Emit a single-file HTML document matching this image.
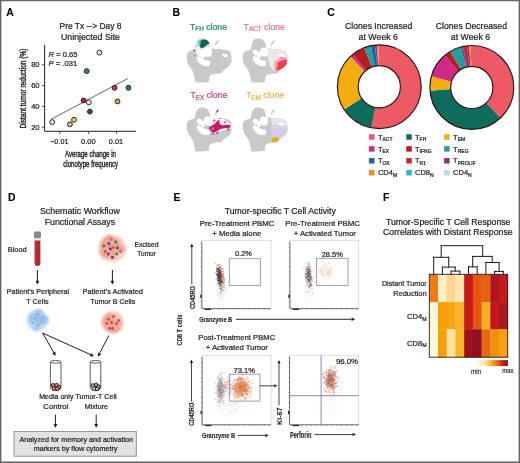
<!DOCTYPE html>
<html><head><meta charset="utf-8"><style>html,body{margin:0;padding:0;background:#fff;}svg{display:block;will-change:transform;font-family:"Liberation Sans",sans-serif;}</style></head><body>
<svg width="520" height="463" viewBox="0 0 520 463">
<defs><filter id="bl" x="-20%" y="-20%" width="140%" height="140%"><feGaussianBlur stdDeviation="0.3"/></filter><filter id="bl2" x="-30%" y="-30%" width="160%" height="160%"><feGaussianBlur stdDeviation="0.9"/></filter><clipPath id="uc"><path d="M60 179 C70 168 88 163 105 160 C120 156 128 140 130 110 C134 80 155 62 185 62 C215 62 238 80 244 108 L250 140 C270 146 295 148 321 149 C360 150 395 156 414 172 C425 186 428 212 427 242 C426 264 420 280 408 290 C395 302 375 315 360 327 C352 335 348 345 340 350 C320 352 300 352 280 358 C262 362 248 366 244 375 C242 392 242 410 238 420 C210 426 160 428 126 424 C122 405 121 390 118 375 C112 350 106 332 98 318 C85 300 75 290 68 275 C58 255 55 235 56 215 C56 200 57 188 60 179 Z M288 116 C294 100 302 86 312 77 C321 76 324 85 317 92 C309 101 301 113 295 124 Z"/></clipPath></defs>
<rect x="0" y="0" width="520" height="1.2" fill="#646464"/>
<rect x="0" y="0" width="1.4" height="463" fill="#646464"/>
<rect x="518.6" y="0" width="1.4" height="463" fill="#646464"/>
<rect x="0" y="461.5" width="520" height="1.5" fill="#646464"/>
<text stroke="#000" stroke-width="0.132" x="6.2" y="15.6" font-size="10.4" font-weight="bold" fill="#000">A</text>
<text stroke="#222" stroke-width="0.22" x="90.5" y="29.2" font-size="8.2" text-anchor="middle" fill="#222" textLength="62" lengthAdjust="spacingAndGlyphs">Pre Tx --&gt; Day 8</text>
<text stroke="#222" stroke-width="0.22" x="90.5" y="40.0" font-size="8.2" text-anchor="middle" fill="#222" textLength="59" lengthAdjust="spacingAndGlyphs">Uninjected Site</text>
<path d="M44.6 45 V131.3 H136" fill="none" stroke="#222" stroke-width="1"/>
<line x1="42" y1="64.8" x2="44.6" y2="64.8" stroke="#222" stroke-width="0.8"/>
<text stroke="#222" stroke-width="0.22" x="39.6" y="67.39999999999999" font-size="7.6" text-anchor="end" fill="#222">80</text>
<line x1="42" y1="85.6" x2="44.6" y2="85.6" stroke="#222" stroke-width="0.8"/>
<text stroke="#222" stroke-width="0.22" x="39.6" y="88.19999999999999" font-size="7.6" text-anchor="end" fill="#222">60</text>
<line x1="42" y1="106.4" x2="44.6" y2="106.4" stroke="#222" stroke-width="0.8"/>
<text stroke="#222" stroke-width="0.22" x="39.6" y="109.0" font-size="7.6" text-anchor="end" fill="#222">40</text>
<line x1="42" y1="127.2" x2="44.6" y2="127.2" stroke="#222" stroke-width="0.8"/>
<text stroke="#222" stroke-width="0.22" x="39.6" y="129.8" font-size="7.6" text-anchor="end" fill="#222">20</text>
<line x1="59.8" y1="131.3" x2="59.8" y2="134" stroke="#222" stroke-width="0.8"/>
<line x1="88.4" y1="131.3" x2="88.4" y2="134" stroke="#222" stroke-width="0.8"/>
<line x1="116.6" y1="131.3" x2="116.6" y2="134" stroke="#222" stroke-width="0.8"/>
<text stroke="#222" stroke-width="0.22" x="59.3" y="144.4" font-size="7.5" text-anchor="middle" fill="#222" textLength="18.3" lengthAdjust="spacingAndGlyphs">−0.01</text>
<text stroke="#222" stroke-width="0.22" x="88.3" y="144.4" font-size="7.5" text-anchor="middle" fill="#222" textLength="14.6" lengthAdjust="spacingAndGlyphs">0.00</text>
<text stroke="#222" stroke-width="0.22" x="116.0" y="144.4" font-size="7.5" text-anchor="middle" fill="#222" textLength="14.3" lengthAdjust="spacingAndGlyphs">0.01</text>
<text x="90.5" y="156.8" font-size="8.9" text-anchor="middle" fill="#222" textLength="51" lengthAdjust="spacingAndGlyphs" stroke="#222" stroke-width="0.4">Average change in</text>
<text x="90.7" y="166.6" font-size="8.9" text-anchor="middle" fill="#222" textLength="55" lengthAdjust="spacingAndGlyphs" stroke="#222" stroke-width="0.4">clonotype frequency</text>
<text transform="translate(25.6,88.5) rotate(-90)" font-size="9" text-anchor="middle" fill="#222" stroke="#222" stroke-width="0.4" textLength="80" lengthAdjust="spacingAndGlyphs">Distant tumor reduction (%)</text>
<text stroke="#222" stroke-width="0.22" x="48.6" y="56.6" font-size="7.6" fill="#222"><tspan font-style="italic">R</tspan> = 0.65</text>
<text stroke="#222" stroke-width="0.22" x="48.6" y="66.2" font-size="7.6" fill="#222"><tspan font-style="italic">P</tspan> = .031</text>
<line x1="51.2" y1="119.3" x2="127.8" y2="78.5" stroke="#858585" stroke-width="1.3"/>
<circle cx="52.2" cy="122.1" r="2.45" fill="#e4e4e4" stroke="#262626" stroke-width="1.0"/>
<circle cx="69.9" cy="124.3" r="2.45" fill="#e8b0b0" stroke="#262626" stroke-width="1.0"/>
<circle cx="74.0" cy="119.8" r="2.45" fill="#e8c860" stroke="#262626" stroke-width="1.0"/>
<circle cx="83.6" cy="100.5" r="2.45" fill="#d0102a" stroke="#262626" stroke-width="1.0"/>
<circle cx="88.8" cy="102.3" r="2.45" fill="#e6f2f0" stroke="#262626" stroke-width="1.0"/>
<circle cx="89.9" cy="111.6" r="2.45" fill="#5a3a6a" stroke="#262626" stroke-width="1.0"/>
<circle cx="86.7" cy="71.1" r="2.45" fill="#3a8a4a" stroke="#262626" stroke-width="1.0"/>
<circle cx="99.4" cy="52.6" r="2.45" fill="#eef0c8" stroke="#262626" stroke-width="1.0"/>
<circle cx="114.6" cy="87.8" r="2.45" fill="#c8287a" stroke="#262626" stroke-width="1.0"/>
<circle cx="128.5" cy="87.8" r="2.45" fill="#2a7098" stroke="#262626" stroke-width="1.0"/>
<circle cx="117.5" cy="101.4" r="2.45" fill="#e8a040" stroke="#262626" stroke-width="1.0"/>
<text stroke="#000" stroke-width="0.132" x="172.4" y="15.6" font-size="10.4" font-weight="bold" fill="#000">B</text>
<text stroke="#2a8676" stroke-width="0.22" x="190" y="29.7" font-size="8.7" fill="#2a8676">T<tspan font-size="6.4" dy="1.7">FH</tspan><tspan dy="-1.7"> clone</tspan></text>
<text stroke="#e67680" stroke-width="0.22" x="243.6" y="29.7" font-size="8.7" fill="#e67680">T<tspan font-size="6.4" dy="1.7">ACT</tspan><tspan dy="-1.7"> clone</tspan></text>
<text stroke="#c4408a" stroke-width="0.22" x="190.5" y="98.4" font-size="8.7" fill="#c4408a">T<tspan font-size="6.4" dy="1.7">EX</tspan><tspan dy="-1.7"> clone</tspan></text>
<text stroke="#ecb448" stroke-width="0.22" x="246" y="98.4" font-size="8.7" fill="#ecb448">T<tspan font-size="6.4" dy="1.7">EM</tspan><tspan dy="-1.7"> clone</tspan></text>
<g transform="translate(180,31) scale(0.12092)">
<path d="M60 179 C70 168 88 163 105 160 C120 156 128 140 130 110 C134 80 155 62 185 62 C215 62 238 80 244 108 L250 140 C270 146 295 148 321 149 C360 150 395 156 414 172 C425 186 428 212 427 242 C426 264 420 280 408 290 C395 302 375 315 360 327 C352 335 348 345 340 350 C320 352 300 352 280 358 C262 362 248 366 244 375 C242 392 242 410 238 420 C210 426 160 428 126 424 C122 405 121 390 118 375 C112 350 106 332 98 318 C85 300 75 290 68 275 C58 255 55 235 56 215 C56 200 57 188 60 179 Z" fill="#c9c9c9"/>
<path d="M288 116 C294 100 302 86 312 77 C321 76 324 85 317 92 C309 101 301 113 295 124 Z" fill="#c9c9c9"/>
<g clip-path="url(#uc)">
<path d="M125 140 C140 128 170 128 200 130 C225 132 245 128 256 136 L258 205 C235 215 200 215 170 210 C145 205 128 180 125 140 Z" fill="#f3f5f5"/><path d="M128 100 C135 72 160 60 188 60 C215 62 240 78 246 105 L250 135 C230 130 200 128 170 130 C150 132 130 125 128 100 Z" fill="#dfe6e4"/>
<path d="M138 168 C145 153 166 152 179 162 C183 176 179 194 170 202 C158 207 142 198 138 168 Z" fill="#ffffff"/>
<path d="M138 215 C148 203 167 207 180 222 C192 236 215 244 242 247 C256 256 252 280 238 290 C214 295 188 287 168 273 C150 259 138 240 138 215 Z" fill="#ffffff"/>
<path d="M202 150 C212 134 242 134 259 145 C268 163 267 187 257 206 C241 214 220 211 207 200 C199 185 197 166 202 150 Z" fill="#ffffff"/>
<path d="M352 188 C365 182 386 188 398 202 C394 214 378 218 364 212 C354 206 348 196 352 188 Z" fill="#ffffff"/>
<path d="M176 178 C186 168 200 170 206 182 C211 200 206 218 196 226 C184 228 174 214 171 200 Z" fill="#ffffff"/>
<path d="M160 86 C172 70 200 66 222 74 C238 80 248 90 250 100 C240 108 226 112 212 124 C200 136 186 146 174 142 C162 128 156 106 160 86 Z" fill="#0c6454"/><path d="M140 84 C150 70 170 66 178 70 L165 130 C150 125 140 110 140 84 Z" fill="#7ecfc0" opacity="0.6"/><circle cx="118" cy="160" r="7" fill="#3a4a48"/><circle cx="122" cy="205" r="4" fill="#4a5a58"/><circle cx="300" cy="240" r="5" fill="#999"/>
</g></g>
<g transform="translate(236,31) scale(0.12092)">
<path d="M60 179 C70 168 88 163 105 160 C120 156 128 140 130 110 C134 80 155 62 185 62 C215 62 238 80 244 108 L250 140 C270 146 295 148 321 149 C360 150 395 156 414 172 C425 186 428 212 427 242 C426 264 420 280 408 290 C395 302 375 315 360 327 C352 335 348 345 340 350 C320 352 300 352 280 358 C262 362 248 366 244 375 C242 392 242 410 238 420 C210 426 160 428 126 424 C122 405 121 390 118 375 C112 350 106 332 98 318 C85 300 75 290 68 275 C58 255 55 235 56 215 C56 200 57 188 60 179 Z" fill="#c9c9c9"/>
<path d="M288 116 C294 100 302 86 312 77 C321 76 324 85 317 92 C309 101 301 113 295 124 Z" fill="#c9c9c9"/>
<g clip-path="url(#uc)">
<path d="M250 140 C270 146 295 148 321 149 C360 150 395 156 414 172 C425 186 428 212 427 242 C426 264 420 280 408 290 C395 302 375 315 360 327 C352 335 348 345 340 350 C300 320 280 300 270 260 C262 220 255 180 250 140 Z" fill="#efe6e8"/>
<path d="M138 168 C145 153 166 152 179 162 C183 176 179 194 170 202 C158 207 142 198 138 168 Z" fill="#ffffff"/>
<path d="M138 215 C148 203 167 207 180 222 C192 236 215 244 242 247 C256 256 252 280 238 290 C214 295 188 287 168 273 C150 259 138 240 138 215 Z" fill="#ffffff"/>
<path d="M202 150 C212 134 242 134 259 145 C268 163 267 187 257 206 C241 214 220 211 207 200 C199 185 197 166 202 150 Z" fill="#ffffff"/>
<path d="M352 188 C365 182 386 188 398 202 C394 214 378 218 364 212 C354 206 348 196 352 188 Z" fill="#ffffff"/>
<path d="M176 178 C186 168 200 170 206 182 C211 200 206 218 196 226 C184 228 174 214 171 200 Z" fill="#ffffff"/>
<path d="M318 250 C340 232 380 218 414 214 C424 230 428 250 424 272 C414 292 398 306 380 318 C362 330 348 342 334 350 C318 330 312 290 318 250 Z" fill="#f0a0a8" opacity="0.85"/><path d="M345 262 C365 248 395 236 418 236 C424 256 420 276 408 292 C394 306 374 318 356 326 C344 318 338 290 345 262 Z" fill="#e8404e"/><path d="M330 300 C340 296 350 300 352 312 C346 322 336 324 330 316 Z" fill="#e05060" opacity="0.8"/><path d="M360 215 C372 210 388 212 396 220 C390 230 372 232 362 226 Z" fill="#e88088" opacity="0.7"/>
</g></g>
<g transform="translate(180,100) scale(0.12092)">
<path d="M60 179 C70 168 88 163 105 160 C120 156 128 140 130 110 C134 80 155 62 185 62 C215 62 238 80 244 108 L250 140 C270 146 295 148 321 149 C360 150 395 156 414 172 C425 186 428 212 427 242 C426 264 420 280 408 290 C395 302 375 315 360 327 C352 335 348 345 340 350 C320 352 300 352 280 358 C262 362 248 366 244 375 C242 392 242 410 238 420 C210 426 160 428 126 424 C122 405 121 390 118 375 C112 350 106 332 98 318 C85 300 75 290 68 275 C58 255 55 235 56 215 C56 200 57 188 60 179 Z" fill="#c9c9c9"/>
<path d="M288 116 C294 100 302 86 312 77 C321 76 324 85 317 92 C309 101 301 113 295 124 Z" fill="#c9c9c9"/>
<g clip-path="url(#uc)">
<path d="M250 135 C262 140 275 146 290 146 C320 144 352 152 378 168 C402 184 422 205 424 235 C380 245 330 262 290 270 C265 250 255 220 250 200 Z" fill="#f5f3f4"/>
<path d="M138 168 C145 153 166 152 179 162 C183 176 179 194 170 202 C158 207 142 198 138 168 Z" fill="#ffffff"/>
<path d="M138 215 C148 203 167 207 180 222 C192 236 215 244 242 247 C256 256 252 280 238 290 C214 295 188 287 168 273 C150 259 138 240 138 215 Z" fill="#ffffff"/>
<path d="M202 150 C212 134 242 134 259 145 C268 163 267 187 257 206 C241 214 220 211 207 200 C199 185 197 166 202 150 Z" fill="#ffffff"/>
<path d="M352 188 C365 182 386 188 398 202 C394 214 378 218 364 212 C354 206 348 196 352 188 Z" fill="#ffffff"/>
<path d="M176 178 C186 168 200 170 206 182 C211 200 206 218 196 226 C184 228 174 214 171 200 Z" fill="#ffffff"/>
<path d="M236 232 C248 220 262 212 282 200 C296 190 306 176 316 166 C326 168 332 176 326 196 C338 206 352 212 372 206 C392 204 410 208 420 214 C418 226 404 232 388 232 C366 234 348 236 332 242 C316 250 300 262 284 268 C266 270 250 258 236 232 Z" fill="#c8186e"/><path d="M250 236 C262 230 274 226 286 224 L280 250 C268 252 256 248 250 236 Z" fill="#e66aa4" opacity="0.8"/><path d="M262 270 C270 268 282 272 288 282 C282 290 268 290 262 282 Z" fill="#d04a88" opacity="0.7"/><path d="M298 104 L306 84 L318 76 L322 88 L310 104 Z" fill="#a8205e"/><circle cx="330" cy="152" r="6" fill="#b02866"/><path d="M270 175 L285 160 L295 168 L282 184 Z" fill="#d03078" opacity="0.8"/><path d="M360 180 L376 174 L382 188 L366 194 Z" fill="#d03078" opacity="0.8"/><path d="M390 236 L404 234 L410 250 L394 254 Z" fill="#c8186e" opacity="0.9"/><path d="M300 262 L314 258 L318 280 L304 284 Z" fill="#c8186e" opacity="0.8"/>
</g></g>
<g transform="translate(236,100) scale(0.12092)">
<path d="M60 179 C70 168 88 163 105 160 C120 156 128 140 130 110 C134 80 155 62 185 62 C215 62 238 80 244 108 L250 140 C270 146 295 148 321 149 C360 150 395 156 414 172 C425 186 428 212 427 242 C426 264 420 280 408 290 C395 302 375 315 360 327 C352 335 348 345 340 350 C320 352 300 352 280 358 C262 362 248 366 244 375 C242 392 242 410 238 420 C210 426 160 428 126 424 C122 405 121 390 118 375 C112 350 106 332 98 318 C85 300 75 290 68 275 C58 255 55 235 56 215 C56 200 57 188 60 179 Z" fill="#c9c9c9"/>
<path d="M288 116 C294 100 302 86 312 77 C321 76 324 85 317 92 C309 101 301 113 295 124 Z" fill="#c9c9c9"/>
<g clip-path="url(#uc)">
<path d="M290 150 C330 148 380 152 414 172 C425 186 428 212 427 242 C400 250 360 250 320 240 C300 220 290 190 290 150 Z" fill="#e6e6e8"/>
<path d="M138 168 C145 153 166 152 179 162 C183 176 179 194 170 202 C158 207 142 198 138 168 Z" fill="#ffffff"/>
<path d="M138 215 C148 203 167 207 180 222 C192 236 215 244 242 247 C256 256 252 280 238 290 C214 295 188 287 168 273 C150 259 138 240 138 215 Z" fill="#ffffff"/>
<path d="M202 150 C212 134 242 134 259 145 C268 163 267 187 257 206 C241 214 220 211 207 200 C199 185 197 166 202 150 Z" fill="#ffffff"/>
<path d="M352 188 C365 182 386 188 398 202 C394 214 378 218 364 212 C354 206 348 196 352 188 Z" fill="#ffffff"/>
<path d="M176 178 C186 168 200 170 206 182 C211 200 206 218 196 226 C184 228 174 214 171 200 Z" fill="#ffffff"/>
<path d="M288 205 C320 198 380 205 424 226 C426 255 412 285 385 310 C365 326 345 336 325 340 C300 330 288 290 288 205 Z" fill="#d4d0ec" opacity="0.8"/><path d="M296 318 C312 305 340 302 356 318 C350 338 334 350 312 352 C298 348 292 335 296 318 Z" fill="#e8ac10"/>
</g></g>
<text stroke="#000" stroke-width="0.132" x="327.3" y="15.8" font-size="10.4" font-weight="bold" fill="#000">C</text>
<text stroke="#222" stroke-width="0.22" x="378.7" y="29.4" font-size="8.7" text-anchor="middle" fill="#222" textLength="67.3" lengthAdjust="spacingAndGlyphs">Clones Increased</text>
<text stroke="#222" stroke-width="0.22" x="378.3" y="39.6" font-size="8.7" text-anchor="middle" fill="#222" textLength="39.4" lengthAdjust="spacingAndGlyphs">at Week 6</text>
<text stroke="#222" stroke-width="0.22" x="471.4" y="29.4" font-size="8.7" text-anchor="middle" fill="#222" textLength="71.2" lengthAdjust="spacingAndGlyphs">Clones Decreased</text>
<text stroke="#222" stroke-width="0.22" x="470.5" y="39.6" font-size="8.7" text-anchor="middle" fill="#222" textLength="39.4" lengthAdjust="spacingAndGlyphs">at Week 6</text>
<path d="M378.20 44.81 A41.9 41.9 0 1 1 371.31 127.83 L375.27 107.41 A21.1 21.1 0 1 0 378.75 65.61 Z" fill="#ec5a66"/>
<path d="M371.31 127.83 A41.9 41.9 0 0 1 344.16 109.52 L361.60 98.19 A21.1 21.1 0 0 0 375.27 107.41 Z" fill="#0f6b5c"/>
<path d="M344.16 109.52 A41.9 41.9 0 0 1 350.46 56.31 L364.78 71.39 A21.1 21.1 0 0 0 361.60 98.19 Z" fill="#f2ae10"/>
<path d="M350.46 56.31 A41.9 41.9 0 0 1 352.93 54.14 L366.02 70.30 A21.1 21.1 0 0 0 364.78 71.39 Z" fill="#d02a86"/>
<path d="M352.93 54.14 A41.9 41.9 0 0 1 364.28 47.58 L371.74 67.00 A21.1 21.1 0 0 0 366.02 70.30 Z" fill="#b21e24"/>
<path d="M364.28 47.58 A41.9 41.9 0 0 1 370.59 45.72 L374.91 66.06 A21.1 21.1 0 0 0 371.74 67.00 Z" fill="#2a9a9a"/>
<path d="M370.59 45.72 A41.9 41.9 0 0 1 374.92 45.03 L377.09 65.72 A21.1 21.1 0 0 0 374.91 66.06 Z" fill="#1f63a4"/>
<path d="M374.92 45.03 A41.9 41.9 0 0 1 377.11 44.86 L378.20 65.63 A21.1 21.1 0 0 0 377.09 65.72 Z" fill="#7a3a8e"/>
<path d="M377.11 44.86 A41.9 41.9 0 0 1 378.20 44.81 L378.75 65.61 A21.1 21.1 0 0 0 378.20 65.63 Z" fill="#f08a28"/>
<circle cx="379.3" cy="86.7" r="41.9" fill="none" stroke="#2a1418" stroke-width="1.15"/>
<circle cx="379.3" cy="86.7" r="21.1" fill="#fff" stroke="#2a1418" stroke-width="1.15"/>
<path d="M470.70 45.51 A41.9 41.9 0 0 1 500.38 118.04 L486.19 102.83 A21.1 21.1 0 0 0 471.25 66.31 Z" fill="#ec5a66"/>
<path d="M500.38 118.04 A41.9 41.9 0 0 1 430.03 90.69 L450.77 89.06 A21.1 21.1 0 0 0 486.19 102.83 Z" fill="#0f6b5c"/>
<path d="M430.03 90.69 A41.9 41.9 0 0 1 431.42 76.20 L451.47 81.76 A21.1 21.1 0 0 0 450.77 89.06 Z" fill="#f2ae10"/>
<path d="M431.42 76.20 A41.9 41.9 0 0 1 444.87 55.30 L458.24 71.24 A21.1 21.1 0 0 0 451.47 81.76 Z" fill="#d02a86"/>
<path d="M444.87 55.30 A41.9 41.9 0 0 1 450.22 51.48 L460.93 69.31 A21.1 21.1 0 0 0 458.24 71.24 Z" fill="#b21e24"/>
<path d="M450.22 51.48 A41.9 41.9 0 0 1 460.74 46.99 L466.23 67.05 A21.1 21.1 0 0 0 460.93 69.31 Z" fill="#2a9a9a"/>
<path d="M460.74 46.99 A41.9 41.9 0 0 1 462.80 46.48 L467.27 66.79 A21.1 21.1 0 0 0 466.23 67.05 Z" fill="#1f63a4"/>
<path d="M462.80 46.48 A41.9 41.9 0 0 1 467.06 45.77 L469.41 66.44 A21.1 21.1 0 0 0 467.27 66.79 Z" fill="#d6202a"/>
<path d="M467.06 45.77 A41.9 41.9 0 0 1 469.17 45.58 L470.48 66.34 A21.1 21.1 0 0 0 469.41 66.44 Z" fill="#7a3a8e"/>
<path d="M469.17 45.58 A41.9 41.9 0 0 1 470.70 45.51 L471.25 66.31 A21.1 21.1 0 0 0 470.48 66.34 Z" fill="#f08a28"/>
<circle cx="471.8" cy="87.4" r="41.9" fill="none" stroke="#2a1418" stroke-width="1.15"/>
<circle cx="471.8" cy="87.4" r="21.1" fill="#fff" stroke="#2a1418" stroke-width="1.15"/>
<rect x="369.0" y="134.25" width="5.5" height="5.5" fill="#ec5a66"/>
<text stroke="#222" stroke-width="0.22" x="377.9" y="139.65" font-size="7.5" fill="#222">T<tspan font-size="5.0" dy="1.7">ACT</tspan></text>
<rect x="406.3" y="134.25" width="5.5" height="5.5" fill="#0f6b5c"/>
<text stroke="#222" stroke-width="0.22" x="415.0" y="139.65" font-size="7.5" fill="#222">T<tspan font-size="5.0" dy="1.7">FH</tspan></text>
<rect x="444.1" y="134.25" width="5.5" height="5.5" fill="#f2ae10"/>
<text stroke="#222" stroke-width="0.22" x="453.1" y="139.65" font-size="7.5" fill="#222">T<tspan font-size="5.0" dy="1.7">EM</tspan></text>
<rect x="369.0" y="146.15" width="5.5" height="5.5" fill="#d02a86"/>
<text stroke="#222" stroke-width="0.22" x="377.9" y="151.55" font-size="7.5" fill="#222">T<tspan font-size="5.0" dy="1.7">EX</tspan></text>
<rect x="406.3" y="146.15" width="5.5" height="5.5" fill="#b21e24"/>
<text stroke="#222" stroke-width="0.22" x="415.0" y="151.55" font-size="7.5" fill="#222">T<tspan font-size="5.0" dy="1.7">IFNG</tspan></text>
<rect x="444.1" y="146.15" width="5.5" height="5.5" fill="#2a9a9a"/>
<text stroke="#222" stroke-width="0.22" x="453.1" y="151.55" font-size="7.5" fill="#222">T<tspan font-size="5.0" dy="1.7">REG</tspan></text>
<rect x="369.0" y="158.05" width="5.5" height="5.5" fill="#1f63a4"/>
<text stroke="#222" stroke-width="0.22" x="377.9" y="163.45000000000002" font-size="7.5" fill="#222">T<tspan font-size="5.0" dy="1.7">OX</tspan></text>
<rect x="406.3" y="158.05" width="5.5" height="5.5" fill="#d6202a"/>
<text stroke="#222" stroke-width="0.22" x="415.0" y="163.45000000000002" font-size="7.5" fill="#222">T<tspan font-size="5.0" dy="1.7">R1</tspan></text>
<rect x="444.1" y="158.05" width="5.5" height="5.5" fill="#7a3a8e"/>
<text stroke="#222" stroke-width="0.22" x="453.1" y="163.45000000000002" font-size="7.5" fill="#222">T<tspan font-size="5.0" dy="1.7">PROLIF</tspan></text>
<rect x="369.0" y="169.95" width="5.5" height="5.5" fill="#f08a28"/>
<text stroke="#222" stroke-width="0.22" x="377.9" y="175.35" font-size="7.5" fill="#222">CD4<tspan font-size="5.0" dy="1.7">M</tspan></text>
<rect x="406.3" y="169.95" width="5.5" height="5.5" fill="#38b0cc"/>
<text stroke="#222" stroke-width="0.22" x="415.0" y="175.35" font-size="7.5" fill="#222">CD8<tspan font-size="5.0" dy="1.7">N</tspan></text>
<rect x="444.1" y="169.95" width="5.5" height="5.5" fill="#b8e0e0"/>
<text stroke="#222" stroke-width="0.22" x="453.1" y="175.35" font-size="7.5" fill="#222">CD4<tspan font-size="5.0" dy="1.7">N</tspan></text>
<text stroke="#000" stroke-width="0.132" x="8.0" y="200.5" font-size="10.4" font-weight="bold" fill="#000">D</text>
<text stroke="#222" stroke-width="0.22" x="79.9" y="214.2" font-size="8.7" text-anchor="middle" fill="#222" textLength="80" lengthAdjust="spacingAndGlyphs">Schematic Workflow</text>
<text stroke="#222" stroke-width="0.22" x="79.9" y="224.9" font-size="8.7" text-anchor="middle" fill="#222" textLength="70.3" lengthAdjust="spacingAndGlyphs">Functional Assays</text>
<rect x="34" y="231.6" width="6.9" height="6.8" rx="1" fill="#8a8a8a"/>
<rect x="34.6" y="238.4" width="5.8" height="2.2" fill="#f0f0f0"/>
<path d="M34.6 240.6 H40.4 V263 A2.9 2.9 0 0 1 34.6 263 Z" fill="#b02a30"/>
<path d="M34.6 240.6 H35.6 V264 L34.6 263 Z" fill="#d06060" opacity="0.5"/>
<text stroke="#222" stroke-width="0.22" x="17.2" y="251.6" font-size="7.3" text-anchor="middle" fill="#222" textLength="18.9" lengthAdjust="spacingAndGlyphs">Blood</text>
<g filter="url(#bl2)">
<circle cx="112.3" cy="248.5" r="13.7" fill="#f8c4b4" opacity="0.8"/>
<circle cx="112.9" cy="256.6" r="3.0" fill="#f0968a" opacity="0.6"/>
<circle cx="106.4" cy="254.8" r="3.0" fill="#f0968a" opacity="0.6"/>
<circle cx="110.7" cy="246.9" r="3.0" fill="#f0968a" opacity="0.6"/>
<circle cx="122.8" cy="249.4" r="3.0" fill="#f0968a" opacity="0.6"/>
<circle cx="112.0" cy="253.4" r="3.0" fill="#f0968a" opacity="0.6"/>
<circle cx="119.7" cy="248.3" r="3.0" fill="#f0968a" opacity="0.6"/>
<circle cx="116.2" cy="242.1" r="3.0" fill="#f0968a" opacity="0.6"/>
<circle cx="109.9" cy="245.6" r="3.0" fill="#f0968a" opacity="0.6"/>
<circle cx="105.2" cy="240.4" r="3.0" fill="#f0968a" opacity="0.6"/>
<circle cx="102.6" cy="247.1" r="3.0" fill="#f0968a" opacity="0.6"/>
<circle cx="111.2" cy="246.5" r="3.0" fill="#f0968a" opacity="0.6"/>
<circle cx="112.7" cy="240.0" r="3.0" fill="#f0968a" opacity="0.6"/>
<circle cx="111.8" cy="249.9" r="3.0" fill="#f0968a" opacity="0.6"/>
<circle cx="117.3" cy="242.9" r="3.0" fill="#f0968a" opacity="0.6"/>
<circle cx="110.2" cy="237.9" r="3.0" fill="#f0968a" opacity="0.6"/>
<circle cx="109.8" cy="237.6" r="3.0" fill="#f0968a" opacity="0.6"/>
<circle cx="104.2" cy="254.8" r="3.0" fill="#f0968a" opacity="0.6"/>
<circle cx="101.7" cy="252.3" r="3.0" fill="#f0968a" opacity="0.6"/>
<circle cx="114.4" cy="246.5" r="3.0" fill="#f0968a" opacity="0.6"/>
<circle cx="115.4" cy="252.0" r="3.0" fill="#f0968a" opacity="0.6"/>
<circle cx="119.2" cy="247.0" r="3.0" fill="#f0968a" opacity="0.6"/>
<circle cx="108.3" cy="244.4" r="3.0" fill="#f0968a" opacity="0.6"/>
<circle cx="105.7" cy="248.2" r="3.0" fill="#f0968a" opacity="0.6"/>
<circle cx="107.3" cy="255.3" r="3.0" fill="#f0968a" opacity="0.6"/>
<circle cx="102.8" cy="242.9" r="3.0" fill="#f0968a" opacity="0.6"/>
<circle cx="107.7" cy="238.3" r="3.0" fill="#f0968a" opacity="0.6"/>
</g><g filter="url(#bl)">
<circle cx="103.8" cy="246.0" r="1.45" fill="#2a8a3a"/>
<circle cx="115.8" cy="242.0" r="1.45" fill="#2a8a3a"/>
<circle cx="116.8" cy="254.0" r="1.45" fill="#2a8a3a"/>
<circle cx="108.8" cy="243.5" r="1.45" fill="#5a40a0"/>
<circle cx="110.3" cy="249.0" r="1.45" fill="#4a3a9a"/>
<circle cx="117.3" cy="248.0" r="1.45" fill="#4a4a8a"/>
<circle cx="108.3" cy="254.0" r="1.45" fill="#5a40a0"/>
<circle cx="112.3" cy="257.5" r="1.45" fill="#6a3060"/>
<circle cx="105.3" cy="251.5" r="1.45" fill="#c05050"/>
<circle cx="113.3" cy="247.5" r="1.45" fill="#d06050"/>
<circle cx="120.3" cy="251.5" r="1.45" fill="#c06060"/>
<circle cx="111.3" cy="239.5" r="1.45" fill="#d07060"/>
</g>
<text stroke="#222" stroke-width="0.22" x="146.6" y="246.8" font-size="7.3" text-anchor="middle" fill="#222" textLength="24.3" lengthAdjust="spacingAndGlyphs">Excised</text>
<text stroke="#222" stroke-width="0.22" x="146.6" y="256.2" font-size="7.3" text-anchor="middle" fill="#222" textLength="18.5" lengthAdjust="spacingAndGlyphs">Tumor</text>
<line x1="37.4" y1="270" x2="37.40" y2="280.80" stroke="#111" stroke-width="0.95"/>
<path d="M37.40 284.60 L35.60 280.80 L39.20 280.80 Z" fill="#111"/>
<line x1="112.4" y1="270" x2="112.40" y2="280.80" stroke="#111" stroke-width="0.95"/>
<path d="M112.40 284.60 L110.60 280.80 L114.20 280.80 Z" fill="#111"/>
<text stroke="#222" stroke-width="0.22" x="37.9" y="293.9" font-size="7.3" text-anchor="middle" fill="#222" textLength="62.2" lengthAdjust="spacingAndGlyphs">Patient’s Peripheral</text>
<text stroke="#222" stroke-width="0.22" x="37.5" y="303.6" font-size="7.3" text-anchor="middle" fill="#222" textLength="22.3" lengthAdjust="spacingAndGlyphs">T Cells</text>
<text stroke="#222" stroke-width="0.22" x="112.8" y="293.9" font-size="7.3" text-anchor="middle" fill="#222" textLength="60.4" lengthAdjust="spacingAndGlyphs">Patient’s Activated</text>
<text stroke="#222" stroke-width="0.22" x="112.8" y="303.6" font-size="7.3" text-anchor="middle" fill="#222" textLength="44.8" lengthAdjust="spacingAndGlyphs">Tumor B Cells</text>
<g filter="url(#bl2)">
<circle cx="37.5" cy="320.4" r="10.7" fill="#b8d6f2" opacity="0.8"/>
<circle cx="32.3" cy="315.3" r="2.8" fill="#a6c9ec" stroke="#8cb6e2" stroke-width="0.9" opacity="0.7"/>
<circle cx="39.9" cy="312.3" r="2.8" fill="#a6c9ec" stroke="#8cb6e2" stroke-width="0.9" opacity="0.7"/>
<circle cx="37.0" cy="312.1" r="2.8" fill="#a6c9ec" stroke="#8cb6e2" stroke-width="0.9" opacity="0.7"/>
<circle cx="42.9" cy="321.4" r="2.8" fill="#a6c9ec" stroke="#8cb6e2" stroke-width="0.9" opacity="0.7"/>
<circle cx="43.8" cy="318.1" r="2.8" fill="#a6c9ec" stroke="#8cb6e2" stroke-width="0.9" opacity="0.7"/>
<circle cx="39.4" cy="319.0" r="2.8" fill="#a6c9ec" stroke="#8cb6e2" stroke-width="0.9" opacity="0.7"/>
<circle cx="33.8" cy="321.1" r="2.8" fill="#a6c9ec" stroke="#8cb6e2" stroke-width="0.9" opacity="0.7"/>
<circle cx="31.5" cy="318.7" r="2.8" fill="#a6c9ec" stroke="#8cb6e2" stroke-width="0.9" opacity="0.7"/>
<circle cx="41.0" cy="320.7" r="2.8" fill="#a6c9ec" stroke="#8cb6e2" stroke-width="0.9" opacity="0.7"/>
<circle cx="36.0" cy="328.5" r="2.8" fill="#a6c9ec" stroke="#8cb6e2" stroke-width="0.9" opacity="0.7"/>
<circle cx="37.8" cy="317.5" r="2.8" fill="#a6c9ec" stroke="#8cb6e2" stroke-width="0.9" opacity="0.7"/>
<circle cx="38.3" cy="317.9" r="2.8" fill="#a6c9ec" stroke="#8cb6e2" stroke-width="0.9" opacity="0.7"/>
<circle cx="35.6" cy="318.7" r="2.8" fill="#a6c9ec" stroke="#8cb6e2" stroke-width="0.9" opacity="0.7"/>
<circle cx="45.5" cy="320.5" r="2.8" fill="#a6c9ec" stroke="#8cb6e2" stroke-width="0.9" opacity="0.7"/>
<circle cx="38.4" cy="323.8" r="2.8" fill="#a6c9ec" stroke="#8cb6e2" stroke-width="0.9" opacity="0.7"/>
<circle cx="45.5" cy="319.5" r="2.8" fill="#a6c9ec" stroke="#8cb6e2" stroke-width="0.9" opacity="0.7"/>
</g><g filter="url(#bl)">
<circle cx="34.5" cy="318.4" r="1.3" fill="#8ab2de"/>
<circle cx="40.5" cy="322.4" r="1.3" fill="#8ab2de"/>
<circle cx="37.5" cy="325.4" r="1.3" fill="#8ab2de"/>
<circle cx="42.5" cy="317.4" r="1.3" fill="#8ab2de"/>
<circle cx="32.5" cy="323.4" r="1.3" fill="#8ab2de"/>
<circle cx="37.5" cy="314.4" r="1.3" fill="#8ab2de"/>
</g>
<g filter="url(#bl2)">
<circle cx="112.6" cy="322.4" r="11.1" fill="#f4b4a4" opacity="0.8"/>
<circle cx="107.7" cy="323.6" r="2.8" fill="#f09c8a" opacity="0.6"/>
<circle cx="118.0" cy="328.8" r="2.8" fill="#f09c8a" opacity="0.6"/>
<circle cx="118.6" cy="322.6" r="2.8" fill="#f09c8a" opacity="0.6"/>
<circle cx="114.2" cy="321.2" r="2.8" fill="#f09c8a" opacity="0.6"/>
<circle cx="106.2" cy="320.1" r="2.8" fill="#f09c8a" opacity="0.6"/>
<circle cx="117.5" cy="323.7" r="2.8" fill="#f09c8a" opacity="0.6"/>
<circle cx="111.0" cy="317.0" r="2.8" fill="#f09c8a" opacity="0.6"/>
<circle cx="112.1" cy="319.4" r="2.8" fill="#f09c8a" opacity="0.6"/>
<circle cx="112.8" cy="324.8" r="2.8" fill="#f09c8a" opacity="0.6"/>
<circle cx="103.9" cy="322.1" r="2.8" fill="#f09c8a" opacity="0.6"/>
<circle cx="106.0" cy="318.2" r="2.8" fill="#f09c8a" opacity="0.6"/>
<circle cx="106.9" cy="327.5" r="2.8" fill="#f09c8a" opacity="0.6"/>
<circle cx="116.1" cy="325.0" r="2.8" fill="#f09c8a" opacity="0.6"/>
<circle cx="109.2" cy="315.7" r="2.8" fill="#f09c8a" opacity="0.6"/>
<circle cx="110.7" cy="323.4" r="2.8" fill="#f09c8a" opacity="0.6"/>
<circle cx="112.2" cy="325.9" r="2.8" fill="#f09c8a" opacity="0.6"/>
<circle cx="111.0" cy="330.3" r="2.8" fill="#f09c8a" opacity="0.6"/>
<circle cx="115.2" cy="330.4" r="2.8" fill="#f09c8a" opacity="0.6"/>
</g><g filter="url(#bl)">
<circle cx="108.6" cy="319.4" r="1.3" fill="#b84a40"/>
<circle cx="113.6" cy="316.4" r="1.3" fill="#b84a40"/>
<circle cx="116.6" cy="323.4" r="1.3" fill="#b84a40"/>
<circle cx="111.6" cy="322.4" r="1.3" fill="#b84a40"/>
<circle cx="106.6" cy="323.4" r="1.3" fill="#b84a40"/>
<circle cx="112.6" cy="328.4" r="1.3" fill="#b84a40"/>
<circle cx="118.6" cy="320.4" r="1.3" fill="#b84a40"/>
<circle cx="109.6" cy="328.4" r="1.3" fill="#b84a40"/>
</g>
<line x1="42.7" y1="333.1" x2="53.72" y2="352.50" stroke="#111" stroke-width="0.95"/>
<path d="M55.60 355.80 L52.16 353.39 L55.29 351.61 Z" fill="#111"/>
<line x1="42.7" y1="333.1" x2="90.54" y2="354.64" stroke="#111" stroke-width="0.95"/>
<path d="M94.00 356.20 L89.80 356.28 L91.27 353.00 Z" fill="#111"/>
<line x1="108.8" y1="335.6" x2="99.64" y2="353.32" stroke="#111" stroke-width="0.95"/>
<path d="M97.90 356.70 L98.04 352.50 L101.24 354.15 Z" fill="#111"/>
<path d="M50.4 361.8 V386.8 A5.3 3.9749999999999996 0 0 0 61.0 386.8 V361.8" fill="#fff" stroke="#333" stroke-width="0.8"/>
<ellipse cx="55.699999999999996" cy="361.8" rx="5.3" ry="1.3" fill="#fff" stroke="#333" stroke-width="0.8"/>
<circle cx="53.0" cy="385.40000000000003" r="1.85" fill="#c89090" stroke="#3a0a0a" stroke-width="0.95"/>
<circle cx="56.6" cy="385.2" r="1.85" fill="#d09a9a" stroke="#401010" stroke-width="0.95"/>
<circle cx="58.8" cy="387.0" r="1.85" fill="#c89090" stroke="#3a0a0a" stroke-width="0.95"/>
<circle cx="54.0" cy="388.40000000000003" r="1.85" fill="#d09a9a" stroke="#401010" stroke-width="0.95"/>
<circle cx="57.4" cy="388.7" r="1.85" fill="#c89090" stroke="#3a0a0a" stroke-width="0.95"/>
<path d="M90.2 361.8 V386.8 A5.3 3.9749999999999996 0 0 0 100.8 386.8 V361.8" fill="#fff" stroke="#333" stroke-width="0.8"/>
<ellipse cx="95.5" cy="361.8" rx="5.3" ry="1.3" fill="#fff" stroke="#333" stroke-width="0.8"/>
<circle cx="92.8" cy="385.6" r="1.85" fill="#c0c0c0" stroke="#0a0a0a" stroke-width="0.95"/>
<circle cx="96.2" cy="385.0" r="1.85" fill="#a8a8a8" stroke="#111" stroke-width="0.95"/>
<circle cx="98.60000000000001" cy="386.8" r="1.85" fill="#c0c0c0" stroke="#0a0a0a" stroke-width="0.95"/>
<circle cx="94.0" cy="388.6" r="1.85" fill="#f0c0c0" stroke="#5a2020" stroke-width="0.95"/>
<circle cx="97.2" cy="388.8" r="1.85" fill="#c0c0c0" stroke="#0a0a0a" stroke-width="0.95"/>
<text stroke="#222" stroke-width="0.22" x="56.3" y="399.4" font-size="7.3" text-anchor="middle" fill="#222" textLength="34.3" lengthAdjust="spacingAndGlyphs">Media only</text>
<text stroke="#222" stroke-width="0.22" x="55.8" y="408.8" font-size="7.3" text-anchor="middle" fill="#222" textLength="24.9" lengthAdjust="spacingAndGlyphs">Control</text>
<text stroke="#222" stroke-width="0.22" x="96.0" y="399.4" font-size="7.3" text-anchor="middle" fill="#222" textLength="41.2" lengthAdjust="spacingAndGlyphs">Tumor-T Cell</text>
<text stroke="#222" stroke-width="0.22" x="96.4" y="408.8" font-size="7.3" text-anchor="middle" fill="#222" textLength="23.2" lengthAdjust="spacingAndGlyphs">Mixture</text>
<line x1="55.4" y1="414.6" x2="55.40" y2="424.00" stroke="#111" stroke-width="0.95"/>
<path d="M55.40 427.80 L53.60 424.00 L57.20 424.00 Z" fill="#111"/>
<line x1="96.2" y1="414.6" x2="96.20" y2="424.00" stroke="#111" stroke-width="0.95"/>
<path d="M96.20 427.80 L94.40 424.00 L98.00 424.00 Z" fill="#111"/>
<rect x="14" y="431.4" width="122.3" height="24.8" fill="#e2e2e2" stroke="#8a8a8a" stroke-width="0.9"/>
<text stroke="#222" stroke-width="0.22" x="76.3" y="442.1" font-size="7.3" text-anchor="middle" fill="#222" textLength="113.5" lengthAdjust="spacingAndGlyphs">Analyzed for memory and activation</text>
<text stroke="#222" stroke-width="0.22" x="75.6" y="451.4" font-size="7.3" text-anchor="middle" fill="#222" textLength="83.8" lengthAdjust="spacingAndGlyphs">markers by flow cytometry</text>
<text stroke="#000" stroke-width="0.132" x="173.4" y="200.5" font-size="10.4" font-weight="bold" fill="#000">E</text>
<text stroke="#222" stroke-width="0.22" x="280.3" y="213.8" font-size="8.6" text-anchor="middle" fill="#222" textLength="111" lengthAdjust="spacingAndGlyphs">Tumor-specific T Cell Activity</text>
<text stroke="#222" stroke-width="0.22" x="237.1" y="226.0" font-size="7.7" text-anchor="middle" fill="#222" textLength="74.6" lengthAdjust="spacingAndGlyphs">Pre-Treatment PBMC</text>
<text stroke="#222" stroke-width="0.22" x="236.8" y="235.6" font-size="7.7" text-anchor="middle" fill="#222" textLength="49" lengthAdjust="spacingAndGlyphs">+ Media alone</text>
<text stroke="#222" stroke-width="0.22" x="322.6" y="226.0" font-size="7.7" text-anchor="middle" fill="#222" textLength="74.6" lengthAdjust="spacingAndGlyphs">Pre-Treatment PBMC</text>
<text stroke="#222" stroke-width="0.22" x="324.8" y="235.6" font-size="7.7" text-anchor="middle" fill="#222" textLength="62.2" lengthAdjust="spacingAndGlyphs">+ Activated Tumor</text>
<rect x="201.8" y="240.2" width="69.19999999999999" height="68.40000000000003" fill="#fff" stroke="#c8c8c8" stroke-width="0.6"/>
<line x1="201.8" y1="242.2" x2="201.8" y2="308.6" stroke="#555" stroke-width="0.8"/>
<line x1="201.8" y1="308.6" x2="271" y2="308.6" stroke="#555" stroke-width="0.8"/>
<line x1="200.60000000000002" y1="306.6" x2="201.8" y2="306.6" stroke="#555" stroke-width="0.5"/>
<line x1="200.60000000000002" y1="301.6" x2="201.8" y2="301.6" stroke="#555" stroke-width="0.5"/>
<line x1="200.60000000000002" y1="296.7" x2="201.8" y2="296.7" stroke="#555" stroke-width="0.5"/>
<line x1="200.60000000000002" y1="291.7" x2="201.8" y2="291.7" stroke="#555" stroke-width="0.5"/>
<line x1="200.60000000000002" y1="286.8" x2="201.8" y2="286.8" stroke="#555" stroke-width="0.5"/>
<line x1="200.60000000000002" y1="281.8" x2="201.8" y2="281.8" stroke="#555" stroke-width="0.5"/>
<line x1="200.60000000000002" y1="276.9" x2="201.8" y2="276.9" stroke="#555" stroke-width="0.5"/>
<line x1="200.60000000000002" y1="271.9" x2="201.8" y2="271.9" stroke="#555" stroke-width="0.5"/>
<line x1="200.60000000000002" y1="267.0" x2="201.8" y2="267.0" stroke="#555" stroke-width="0.5"/>
<line x1="200.60000000000002" y1="262.0" x2="201.8" y2="262.0" stroke="#555" stroke-width="0.5"/>
<line x1="200.60000000000002" y1="257.1" x2="201.8" y2="257.1" stroke="#555" stroke-width="0.5"/>
<line x1="200.60000000000002" y1="252.1" x2="201.8" y2="252.1" stroke="#555" stroke-width="0.5"/>
<line x1="200.60000000000002" y1="247.2" x2="201.8" y2="247.2" stroke="#555" stroke-width="0.5"/>
<line x1="200.60000000000002" y1="242.2" x2="201.8" y2="242.2" stroke="#555" stroke-width="0.5"/>
<line x1="203.8" y1="308.6" x2="203.8" y2="309.8" stroke="#555" stroke-width="0.5"/>
<line x1="208.8" y1="308.6" x2="208.8" y2="309.8" stroke="#555" stroke-width="0.5"/>
<line x1="213.8" y1="308.6" x2="213.8" y2="309.8" stroke="#555" stroke-width="0.5"/>
<line x1="218.8" y1="308.6" x2="218.8" y2="309.8" stroke="#555" stroke-width="0.5"/>
<line x1="223.9" y1="308.6" x2="223.9" y2="309.8" stroke="#555" stroke-width="0.5"/>
<line x1="228.9" y1="308.6" x2="228.9" y2="309.8" stroke="#555" stroke-width="0.5"/>
<line x1="233.9" y1="308.6" x2="233.9" y2="309.8" stroke="#555" stroke-width="0.5"/>
<line x1="238.9" y1="308.6" x2="238.9" y2="309.8" stroke="#555" stroke-width="0.5"/>
<line x1="243.9" y1="308.6" x2="243.9" y2="309.8" stroke="#555" stroke-width="0.5"/>
<line x1="248.9" y1="308.6" x2="248.9" y2="309.8" stroke="#555" stroke-width="0.5"/>
<line x1="254.0" y1="308.6" x2="254.0" y2="309.8" stroke="#555" stroke-width="0.5"/>
<line x1="259.0" y1="308.6" x2="259.0" y2="309.8" stroke="#555" stroke-width="0.5"/>
<line x1="264.0" y1="308.6" x2="264.0" y2="309.8" stroke="#555" stroke-width="0.5"/>
<line x1="269.0" y1="308.6" x2="269.0" y2="309.8" stroke="#555" stroke-width="0.5"/>
<line x1="200.9" y1="294.6" x2="200.9" y2="298.1" stroke="#222" stroke-width="1.3"/>
<line x1="204.8" y1="309.3" x2="211.3" y2="309.3" stroke="#222" stroke-width="1.2"/>
<g filter="url(#bl)">
<circle cx="218.2" cy="278.8" r="0.55" fill="#8a6050" fill-opacity="0.45"/>
<circle cx="217.3" cy="280.0" r="0.55" fill="#4a3a40" fill-opacity="0.55"/>
<circle cx="221.1" cy="282.5" r="0.55" fill="#4a3a40" fill-opacity="0.55"/>
<circle cx="221.1" cy="279.0" r="0.55" fill="#2a2028" fill-opacity="0.55"/>
<circle cx="216.5" cy="274.0" r="0.55" fill="#2a2028" fill-opacity="0.55"/>
<circle cx="218.2" cy="273.5" r="0.55" fill="#8a6050" fill-opacity="0.45"/>
<circle cx="218.0" cy="270.3" r="0.55" fill="#4a3a40" fill-opacity="0.55"/>
<circle cx="217.0" cy="269.4" r="0.55" fill="#2a2028" fill-opacity="0.55"/>
<circle cx="220.8" cy="277.7" r="0.55" fill="#4a3a40" fill-opacity="0.55"/>
<circle cx="217.1" cy="271.0" r="0.55" fill="#6a5050" fill-opacity="0.5"/>
<circle cx="217.5" cy="280.7" r="0.55" fill="#4a3a40" fill-opacity="0.55"/>
<circle cx="218.2" cy="271.6" r="0.55" fill="#2a2028" fill-opacity="0.55"/>
<circle cx="218.8" cy="277.8" r="0.55" fill="#2a2028" fill-opacity="0.55"/>
<circle cx="219.0" cy="271.9" r="0.55" fill="#4a3a40" fill-opacity="0.55"/>
<circle cx="219.4" cy="276.4" r="0.55" fill="#2a2028" fill-opacity="0.55"/>
<circle cx="218.1" cy="283.1" r="0.55" fill="#8a6050" fill-opacity="0.45"/>
<circle cx="220.1" cy="276.9" r="0.55" fill="#2a2028" fill-opacity="0.55"/>
<circle cx="221.8" cy="288.8" r="0.55" fill="#2a2028" fill-opacity="0.55"/>
<circle cx="216.0" cy="279.8" r="0.55" fill="#8a6050" fill-opacity="0.45"/>
<circle cx="218.5" cy="280.1" r="0.55" fill="#4a3a40" fill-opacity="0.55"/>
<circle cx="219.6" cy="272.1" r="0.55" fill="#2a2028" fill-opacity="0.55"/>
<circle cx="219.8" cy="277.4" r="0.55" fill="#8a6050" fill-opacity="0.45"/>
<circle cx="219.6" cy="273.7" r="0.55" fill="#4a3a40" fill-opacity="0.55"/>
<circle cx="219.7" cy="275.7" r="0.55" fill="#8a6050" fill-opacity="0.45"/>
<circle cx="219.7" cy="273.1" r="0.55" fill="#4a3a40" fill-opacity="0.55"/>
<circle cx="219.0" cy="277.8" r="0.55" fill="#4a3a40" fill-opacity="0.55"/>
<circle cx="218.8" cy="279.3" r="0.55" fill="#8a6050" fill-opacity="0.45"/>
<circle cx="219.1" cy="278.4" r="0.55" fill="#6a5050" fill-opacity="0.5"/>
<circle cx="221.3" cy="264.8" r="0.55" fill="#6a5050" fill-opacity="0.5"/>
<circle cx="220.1" cy="276.5" r="0.55" fill="#4a3a40" fill-opacity="0.55"/>
<circle cx="218.2" cy="283.5" r="0.55" fill="#2a2028" fill-opacity="0.55"/>
<circle cx="220.7" cy="277.2" r="0.55" fill="#8a6050" fill-opacity="0.45"/>
<circle cx="220.6" cy="286.1" r="0.55" fill="#6a5050" fill-opacity="0.5"/>
<circle cx="220.0" cy="271.6" r="0.55" fill="#2a2028" fill-opacity="0.55"/>
<circle cx="221.9" cy="280.3" r="0.55" fill="#4a3a40" fill-opacity="0.55"/>
<circle cx="221.3" cy="276.9" r="0.55" fill="#8a6050" fill-opacity="0.45"/>
<circle cx="221.7" cy="281.7" r="0.55" fill="#4a3a40" fill-opacity="0.55"/>
<circle cx="220.2" cy="273.8" r="0.55" fill="#4a3a40" fill-opacity="0.55"/>
<circle cx="219.8" cy="280.3" r="0.55" fill="#4a3a40" fill-opacity="0.55"/>
<circle cx="219.3" cy="273.3" r="0.55" fill="#4a3a40" fill-opacity="0.55"/>
<circle cx="218.7" cy="271.5" r="0.55" fill="#8a6050" fill-opacity="0.45"/>
<circle cx="218.2" cy="273.1" r="0.55" fill="#2a2028" fill-opacity="0.55"/>
<circle cx="221.6" cy="280.6" r="0.55" fill="#6a5050" fill-opacity="0.5"/>
<circle cx="220.8" cy="285.2" r="0.55" fill="#6a5050" fill-opacity="0.5"/>
<circle cx="217.5" cy="282.6" r="0.55" fill="#8a6050" fill-opacity="0.45"/>
<circle cx="219.9" cy="279.9" r="0.55" fill="#2a2028" fill-opacity="0.55"/>
<circle cx="221.5" cy="280.9" r="0.55" fill="#2a2028" fill-opacity="0.55"/>
<circle cx="220.4" cy="288.8" r="0.55" fill="#4a3a40" fill-opacity="0.55"/>
<circle cx="219.6" cy="274.4" r="0.55" fill="#8a6050" fill-opacity="0.45"/>
<circle cx="219.4" cy="277.2" r="0.55" fill="#4a3a40" fill-opacity="0.55"/>
<circle cx="220.1" cy="283.3" r="0.55" fill="#4a3a40" fill-opacity="0.55"/>
<circle cx="220.6" cy="278.1" r="0.55" fill="#8a6050" fill-opacity="0.45"/>
<circle cx="221.9" cy="275.3" r="0.55" fill="#4a3a40" fill-opacity="0.55"/>
<circle cx="216.3" cy="270.0" r="0.55" fill="#8a6050" fill-opacity="0.45"/>
<circle cx="221.3" cy="271.7" r="0.55" fill="#2a2028" fill-opacity="0.55"/>
<circle cx="222.0" cy="277.3" r="0.55" fill="#8a6050" fill-opacity="0.45"/>
<circle cx="221.2" cy="278.4" r="0.55" fill="#4a3a40" fill-opacity="0.55"/>
<circle cx="220.4" cy="276.4" r="0.55" fill="#6a5050" fill-opacity="0.5"/>
<circle cx="218.3" cy="264.6" r="0.55" fill="#4a3a40" fill-opacity="0.55"/>
<circle cx="219.5" cy="264.5" r="0.55" fill="#6a5050" fill-opacity="0.5"/>
<circle cx="221.6" cy="279.6" r="0.55" fill="#2a2028" fill-opacity="0.55"/>
<circle cx="220.4" cy="272.2" r="0.55" fill="#2a2028" fill-opacity="0.55"/>
<circle cx="220.5" cy="270.9" r="0.55" fill="#8a6050" fill-opacity="0.45"/>
<circle cx="219.7" cy="277.1" r="0.55" fill="#2a2028" fill-opacity="0.55"/>
<circle cx="222.1" cy="280.2" r="0.55" fill="#6a5050" fill-opacity="0.5"/>
<circle cx="220.9" cy="270.2" r="0.55" fill="#8a6050" fill-opacity="0.45"/>
<circle cx="221.6" cy="272.8" r="0.55" fill="#8a6050" fill-opacity="0.45"/>
<circle cx="217.5" cy="280.6" r="0.55" fill="#2a2028" fill-opacity="0.55"/>
<circle cx="217.9" cy="275.9" r="0.55" fill="#6a5050" fill-opacity="0.5"/>
<circle cx="218.0" cy="272.8" r="0.55" fill="#4a3a40" fill-opacity="0.55"/>
<circle cx="220.4" cy="275.7" r="0.55" fill="#8a6050" fill-opacity="0.45"/>
<circle cx="219.9" cy="277.3" r="0.55" fill="#6a5050" fill-opacity="0.5"/>
<circle cx="221.7" cy="282.4" r="0.55" fill="#4a3a40" fill-opacity="0.55"/>
<circle cx="219.3" cy="271.4" r="0.55" fill="#8a6050" fill-opacity="0.45"/>
<circle cx="218.7" cy="276.7" r="0.55" fill="#8a6050" fill-opacity="0.45"/>
<circle cx="219.0" cy="273.3" r="0.55" fill="#8a6050" fill-opacity="0.45"/>
<circle cx="219.7" cy="267.6" r="0.55" fill="#4a3a40" fill-opacity="0.55"/>
<circle cx="220.5" cy="272.6" r="0.55" fill="#6a5050" fill-opacity="0.5"/>
<circle cx="220.3" cy="279.4" r="0.55" fill="#6a5050" fill-opacity="0.5"/>
<circle cx="220.4" cy="267.1" r="0.55" fill="#2a2028" fill-opacity="0.55"/>
<circle cx="220.8" cy="275.0" r="0.55" fill="#4a3a40" fill-opacity="0.55"/>
<circle cx="221.5" cy="280.5" r="0.55" fill="#4a3a40" fill-opacity="0.55"/>
<circle cx="220.0" cy="271.6" r="0.55" fill="#8a6050" fill-opacity="0.45"/>
<circle cx="217.9" cy="268.8" r="0.55" fill="#8a6050" fill-opacity="0.45"/>
<circle cx="219.6" cy="286.1" r="0.55" fill="#6a5050" fill-opacity="0.5"/>
<circle cx="220.0" cy="275.3" r="0.55" fill="#6a5050" fill-opacity="0.5"/>
<circle cx="218.4" cy="274.6" r="0.55" fill="#2a2028" fill-opacity="0.55"/>
<circle cx="218.4" cy="272.2" r="0.55" fill="#4a3a40" fill-opacity="0.55"/>
<circle cx="222.7" cy="277.8" r="0.55" fill="#4a3a40" fill-opacity="0.55"/>
<circle cx="219.3" cy="266.7" r="0.55" fill="#2a2028" fill-opacity="0.55"/>
<circle cx="218.1" cy="279.3" r="0.55" fill="#6a5050" fill-opacity="0.5"/>
<circle cx="221.8" cy="274.1" r="0.55" fill="#4a3a40" fill-opacity="0.55"/>
<circle cx="219.9" cy="272.6" r="0.55" fill="#2a2028" fill-opacity="0.55"/>
<circle cx="219.2" cy="269.6" r="0.55" fill="#2a2028" fill-opacity="0.55"/>
<circle cx="220.7" cy="280.5" r="0.55" fill="#6a5050" fill-opacity="0.5"/>
<circle cx="216.0" cy="273.5" r="0.55" fill="#4a3a40" fill-opacity="0.55"/>
<circle cx="218.3" cy="282.8" r="0.55" fill="#4a3a40" fill-opacity="0.55"/>
<circle cx="223.4" cy="282.9" r="0.55" fill="#8a6050" fill-opacity="0.45"/>
<circle cx="221.4" cy="280.9" r="0.55" fill="#2a2028" fill-opacity="0.55"/>
<circle cx="218.9" cy="281.7" r="0.55" fill="#6a5050" fill-opacity="0.5"/>
<circle cx="217.9" cy="278.5" r="0.55" fill="#4a3a40" fill-opacity="0.55"/>
<circle cx="222.9" cy="282.8" r="0.55" fill="#2a2028" fill-opacity="0.55"/>
<circle cx="221.7" cy="288.1" r="0.55" fill="#2a2028" fill-opacity="0.55"/>
<circle cx="221.5" cy="275.3" r="0.55" fill="#6a5050" fill-opacity="0.5"/>
<circle cx="220.5" cy="285.4" r="0.55" fill="#2a2028" fill-opacity="0.55"/>
<circle cx="219.6" cy="278.4" r="0.55" fill="#8a6050" fill-opacity="0.45"/>
<circle cx="219.4" cy="281.5" r="0.55" fill="#6a5050" fill-opacity="0.5"/>
<circle cx="219.5" cy="276.6" r="0.55" fill="#2a2028" fill-opacity="0.55"/>
<circle cx="219.5" cy="277.2" r="0.55" fill="#6a5050" fill-opacity="0.5"/>
<circle cx="217.4" cy="265.2" r="0.55" fill="#8a6050" fill-opacity="0.45"/>
<circle cx="221.4" cy="281.8" r="0.55" fill="#8a6050" fill-opacity="0.45"/>
<circle cx="221.2" cy="274.2" r="0.55" fill="#2a2028" fill-opacity="0.55"/>
<circle cx="219.3" cy="270.5" r="0.55" fill="#6a5050" fill-opacity="0.5"/>
<circle cx="220.1" cy="270.2" r="0.55" fill="#4a3a40" fill-opacity="0.55"/>
<circle cx="216.8" cy="275.3" r="0.55" fill="#6a5050" fill-opacity="0.5"/>
<circle cx="219.8" cy="281.6" r="0.55" fill="#4a3a40" fill-opacity="0.55"/>
<circle cx="219.8" cy="279.4" r="0.55" fill="#6a5050" fill-opacity="0.5"/>
<circle cx="218.7" cy="274.9" r="0.55" fill="#2a2028" fill-opacity="0.55"/>
<circle cx="217.8" cy="276.6" r="0.55" fill="#2a2028" fill-opacity="0.55"/>
<circle cx="219.3" cy="276.1" r="0.55" fill="#8a6050" fill-opacity="0.45"/>
<circle cx="215.0" cy="272.3" r="0.55" fill="#2a2028" fill-opacity="0.55"/>
<circle cx="217.6" cy="277.2" r="0.55" fill="#2a2028" fill-opacity="0.55"/>
<circle cx="221.0" cy="273.7" r="0.55" fill="#8a6050" fill-opacity="0.45"/>
<circle cx="220.2" cy="282.8" r="0.55" fill="#4a3a40" fill-opacity="0.55"/>
<circle cx="219.1" cy="286.8" r="0.55" fill="#8a6050" fill-opacity="0.45"/>
<circle cx="219.1" cy="276.2" r="0.55" fill="#8a6050" fill-opacity="0.45"/>
<circle cx="216.4" cy="268.2" r="0.55" fill="#4a3a40" fill-opacity="0.55"/>
<circle cx="220.7" cy="277.1" r="0.55" fill="#2a2028" fill-opacity="0.55"/>
<circle cx="218.8" cy="272.0" r="0.55" fill="#6a5050" fill-opacity="0.5"/>
<circle cx="220.5" cy="283.0" r="0.55" fill="#8a6050" fill-opacity="0.45"/>
<circle cx="219.4" cy="273.7" r="0.55" fill="#6a5050" fill-opacity="0.5"/>
<circle cx="218.5" cy="268.1" r="0.55" fill="#8a6050" fill-opacity="0.45"/>
<circle cx="222.0" cy="277.4" r="0.55" fill="#4a3a40" fill-opacity="0.55"/>
<circle cx="216.6" cy="274.1" r="0.55" fill="#4a3a40" fill-opacity="0.55"/>
<circle cx="216.7" cy="274.8" r="0.55" fill="#4a3a40" fill-opacity="0.55"/>
<circle cx="221.0" cy="285.6" r="0.55" fill="#6a5050" fill-opacity="0.5"/>
<circle cx="220.6" cy="273.6" r="0.55" fill="#6a5050" fill-opacity="0.5"/>
<circle cx="220.3" cy="274.1" r="0.55" fill="#4a3a40" fill-opacity="0.55"/>
<circle cx="220.2" cy="274.5" r="0.55" fill="#4a3a40" fill-opacity="0.55"/>
<circle cx="220.4" cy="278.2" r="0.55" fill="#8a6050" fill-opacity="0.45"/>
<circle cx="222.7" cy="282.3" r="0.55" fill="#8a6050" fill-opacity="0.45"/>
<circle cx="217.3" cy="274.4" r="0.55" fill="#4a3a40" fill-opacity="0.55"/>
<circle cx="218.4" cy="281.5" r="0.55" fill="#2a2028" fill-opacity="0.55"/>
<circle cx="221.8" cy="280.4" r="0.55" fill="#6a5050" fill-opacity="0.5"/>
<circle cx="222.4" cy="268.4" r="0.55" fill="#2a2028" fill-opacity="0.55"/>
<circle cx="218.4" cy="269.0" r="0.55" fill="#6a5050" fill-opacity="0.5"/>
<circle cx="217.5" cy="276.6" r="0.55" fill="#4a3a40" fill-opacity="0.55"/>
<circle cx="219.8" cy="270.4" r="0.55" fill="#2a2028" fill-opacity="0.55"/>
<circle cx="221.8" cy="278.0" r="0.55" fill="#8a6050" fill-opacity="0.45"/>
<circle cx="220.7" cy="279.3" r="0.55" fill="#4a3a40" fill-opacity="0.55"/>
<circle cx="220.5" cy="279.3" r="0.55" fill="#6a5050" fill-opacity="0.5"/>
<circle cx="220.3" cy="275.3" r="0.55" fill="#2a2028" fill-opacity="0.55"/>
<circle cx="221.9" cy="282.6" r="0.55" fill="#2a2028" fill-opacity="0.55"/>
<circle cx="219.4" cy="271.6" r="0.55" fill="#8a6050" fill-opacity="0.45"/>
<circle cx="218.8" cy="279.0" r="0.55" fill="#4a3a40" fill-opacity="0.55"/>
<circle cx="219.5" cy="276.0" r="0.55" fill="#2a2028" fill-opacity="0.55"/>
<circle cx="220.0" cy="273.5" r="0.55" fill="#8a6050" fill-opacity="0.45"/>
<circle cx="219.3" cy="280.7" r="0.55" fill="#4a3a40" fill-opacity="0.55"/>
<circle cx="219.1" cy="275.0" r="0.55" fill="#2a2028" fill-opacity="0.55"/>
<circle cx="219.7" cy="278.6" r="0.55" fill="#8a6050" fill-opacity="0.45"/>
<circle cx="218.8" cy="275.1" r="0.55" fill="#6a5050" fill-opacity="0.5"/>
<circle cx="219.8" cy="272.4" r="0.55" fill="#2a2028" fill-opacity="0.55"/>
<circle cx="218.7" cy="266.8" r="0.55" fill="#8a6050" fill-opacity="0.45"/>
<circle cx="221.1" cy="280.1" r="0.55" fill="#6a5050" fill-opacity="0.5"/>
<circle cx="219.1" cy="267.0" r="0.55" fill="#8a6050" fill-opacity="0.45"/>
<circle cx="220.4" cy="279.9" r="0.55" fill="#6a5050" fill-opacity="0.5"/>
<circle cx="219.8" cy="279.0" r="0.55" fill="#6a5050" fill-opacity="0.5"/>
<circle cx="222.9" cy="275.5" r="0.55" fill="#2a2028" fill-opacity="0.55"/>
<circle cx="221.5" cy="289.8" r="0.55" fill="#6a5050" fill-opacity="0.5"/>
<circle cx="219.4" cy="283.6" r="0.55" fill="#4a3a40" fill-opacity="0.55"/>
<circle cx="218.2" cy="275.5" r="0.55" fill="#8a6050" fill-opacity="0.45"/>
<circle cx="217.7" cy="269.9" r="0.55" fill="#8a6050" fill-opacity="0.45"/>
<circle cx="220.1" cy="276.3" r="0.55" fill="#2a2028" fill-opacity="0.55"/>
<circle cx="219.3" cy="272.2" r="0.55" fill="#8a6050" fill-opacity="0.45"/>
<circle cx="217.2" cy="276.5" r="0.55" fill="#8a6050" fill-opacity="0.45"/>
<circle cx="221.0" cy="276.7" r="0.55" fill="#6a5050" fill-opacity="0.5"/>
<circle cx="221.0" cy="272.4" r="0.55" fill="#8a6050" fill-opacity="0.45"/>
<circle cx="221.5" cy="274.8" r="0.55" fill="#2a2028" fill-opacity="0.55"/>
<circle cx="217.3" cy="268.9" r="0.55" fill="#2a2028" fill-opacity="0.55"/>
<circle cx="217.4" cy="274.2" r="0.55" fill="#2a2028" fill-opacity="0.55"/>
<circle cx="218.0" cy="285.4" r="0.55" fill="#8a6050" fill-opacity="0.45"/>
<circle cx="219.0" cy="277.2" r="0.55" fill="#8a6050" fill-opacity="0.45"/>
<circle cx="217.7" cy="274.7" r="0.55" fill="#8a6050" fill-opacity="0.45"/>
<circle cx="221.1" cy="274.4" r="0.55" fill="#8a6050" fill-opacity="0.45"/>
<circle cx="218.3" cy="273.6" r="0.55" fill="#6a5050" fill-opacity="0.5"/>
<circle cx="218.7" cy="277.1" r="0.55" fill="#6a5050" fill-opacity="0.5"/>
<circle cx="217.7" cy="268.7" r="0.55" fill="#2a2028" fill-opacity="0.55"/>
<circle cx="221.0" cy="276.8" r="0.55" fill="#2a2028" fill-opacity="0.55"/>
<circle cx="218.3" cy="272.4" r="0.55" fill="#8a6050" fill-opacity="0.45"/>
<circle cx="221.2" cy="278.0" r="0.55" fill="#8a6050" fill-opacity="0.45"/>
<circle cx="224.6" cy="281.2" r="0.55" fill="#6a5050" fill-opacity="0.5"/>
<circle cx="223.2" cy="281.6" r="0.55" fill="#8a6050" fill-opacity="0.45"/>
<circle cx="219.2" cy="272.4" r="0.55" fill="#4a3a40" fill-opacity="0.55"/>
<circle cx="220.5" cy="277.1" r="0.55" fill="#8a6050" fill-opacity="0.45"/>
<circle cx="223.2" cy="287.4" r="0.55" fill="#4a3a40" fill-opacity="0.55"/>
<circle cx="219.0" cy="274.9" r="0.55" fill="#8a6050" fill-opacity="0.45"/>
<circle cx="218.9" cy="277.6" r="0.55" fill="#2a2028" fill-opacity="0.55"/>
<circle cx="219.5" cy="279.1" r="0.55" fill="#6a5050" fill-opacity="0.5"/>
<circle cx="218.0" cy="279.6" r="0.55" fill="#8a6050" fill-opacity="0.45"/>
<circle cx="217.6" cy="272.0" r="0.55" fill="#8a6050" fill-opacity="0.45"/>
<circle cx="218.9" cy="283.6" r="0.55" fill="#4a3a40" fill-opacity="0.55"/>
<circle cx="221.9" cy="273.6" r="0.55" fill="#4a3a40" fill-opacity="0.55"/>
<circle cx="218.1" cy="277.5" r="0.55" fill="#6a5050" fill-opacity="0.5"/>
<circle cx="219.5" cy="268.8" r="0.55" fill="#6a5050" fill-opacity="0.5"/>
<circle cx="220.2" cy="284.1" r="0.55" fill="#4a3a40" fill-opacity="0.55"/>
<circle cx="217.4" cy="269.7" r="0.55" fill="#4a3a40" fill-opacity="0.55"/>
<circle cx="221.3" cy="274.4" r="0.55" fill="#4a3a40" fill-opacity="0.55"/>
<circle cx="220.0" cy="275.4" r="0.55" fill="#2a2028" fill-opacity="0.55"/>
<circle cx="221.0" cy="276.6" r="0.55" fill="#2a2028" fill-opacity="0.55"/>
<circle cx="219.1" cy="274.7" r="0.55" fill="#6a5050" fill-opacity="0.5"/>
<circle cx="220.5" cy="277.5" r="0.55" fill="#4a3a40" fill-opacity="0.55"/>
<circle cx="217.6" cy="274.2" r="0.55" fill="#6a5050" fill-opacity="0.5"/>
<circle cx="218.5" cy="277.2" r="0.55" fill="#6a5050" fill-opacity="0.5"/>
<circle cx="219.2" cy="284.3" r="0.55" fill="#2a2028" fill-opacity="0.55"/>
<circle cx="219.7" cy="270.7" r="0.55" fill="#4a3a40" fill-opacity="0.55"/>
<circle cx="217.8" cy="279.9" r="0.55" fill="#8a6050" fill-opacity="0.45"/>
<circle cx="219.8" cy="271.5" r="0.55" fill="#6a5050" fill-opacity="0.5"/>
<circle cx="220.1" cy="285.7" r="0.55" fill="#4a3a40" fill-opacity="0.55"/>
<circle cx="218.7" cy="279.0" r="0.55" fill="#2a2028" fill-opacity="0.55"/>
<circle cx="218.6" cy="277.8" r="0.55" fill="#2a2028" fill-opacity="0.55"/>
<circle cx="218.3" cy="279.7" r="0.55" fill="#8a6050" fill-opacity="0.45"/>
<circle cx="219.9" cy="285.8" r="0.55" fill="#2a2028" fill-opacity="0.55"/>
<circle cx="219.7" cy="288.0" r="0.55" fill="#2a2028" fill-opacity="0.55"/>
<circle cx="218.6" cy="270.4" r="0.55" fill="#6a5050" fill-opacity="0.5"/>
<circle cx="219.9" cy="279.5" r="0.55" fill="#6a5050" fill-opacity="0.5"/>
<circle cx="218.7" cy="272.4" r="0.55" fill="#2a2028" fill-opacity="0.55"/>
<circle cx="219.6" cy="282.0" r="0.55" fill="#6a5050" fill-opacity="0.5"/>
<circle cx="217.7" cy="280.6" r="0.55" fill="#6a5050" fill-opacity="0.5"/>
<circle cx="218.9" cy="277.6" r="0.55" fill="#4a3a40" fill-opacity="0.55"/>
<circle cx="222.7" cy="281.5" r="0.55" fill="#2a2028" fill-opacity="0.55"/>
<circle cx="219.2" cy="280.8" r="0.55" fill="#8a6050" fill-opacity="0.45"/>
<circle cx="219.6" cy="267.7" r="0.55" fill="#6a5050" fill-opacity="0.5"/>
<circle cx="219.7" cy="269.8" r="0.55" fill="#4a3a40" fill-opacity="0.55"/>
<circle cx="221.8" cy="284.8" r="0.55" fill="#6a5050" fill-opacity="0.5"/>
<circle cx="219.8" cy="272.8" r="0.55" fill="#2a2028" fill-opacity="0.55"/>
<circle cx="217.7" cy="274.7" r="0.55" fill="#2a2028" fill-opacity="0.55"/>
<circle cx="217.4" cy="268.5" r="0.55" fill="#2a2028" fill-opacity="0.55"/>
<circle cx="218.5" cy="274.3" r="0.55" fill="#2a2028" fill-opacity="0.55"/>
<circle cx="219.6" cy="280.4" r="0.55" fill="#2a2028" fill-opacity="0.55"/>
<circle cx="220.2" cy="275.1" r="0.55" fill="#4a3a40" fill-opacity="0.55"/>
<circle cx="222.6" cy="282.2" r="0.55" fill="#8a6050" fill-opacity="0.45"/>
<circle cx="220.2" cy="280.4" r="0.55" fill="#6a5050" fill-opacity="0.5"/>
<circle cx="219.4" cy="270.9" r="0.55" fill="#6a5050" fill-opacity="0.5"/>
<circle cx="219.8" cy="271.8" r="0.55" fill="#4a3a40" fill-opacity="0.55"/>
<circle cx="218.0" cy="277.0" r="0.55" fill="#2a2028" fill-opacity="0.55"/>
<circle cx="217.7" cy="264.6" r="0.55" fill="#8a6050" fill-opacity="0.45"/>
<circle cx="219.8" cy="276.9" r="0.55" fill="#8a6050" fill-opacity="0.45"/>
<circle cx="220.4" cy="266.2" r="0.55" fill="#2a2028" fill-opacity="0.55"/>
<circle cx="217.3" cy="275.4" r="0.55" fill="#2a2028" fill-opacity="0.55"/>
<circle cx="218.7" cy="279.4" r="0.55" fill="#4a3a40" fill-opacity="0.55"/>
<circle cx="220.2" cy="279.8" r="0.55" fill="#8a6050" fill-opacity="0.45"/>
<circle cx="218.8" cy="272.1" r="0.55" fill="#8a6050" fill-opacity="0.45"/>
<circle cx="218.9" cy="278.7" r="0.55" fill="#2a2028" fill-opacity="0.55"/>
<circle cx="217.6" cy="278.3" r="0.55" fill="#6a5050" fill-opacity="0.5"/>
<circle cx="217.5" cy="268.9" r="0.55" fill="#4a3a40" fill-opacity="0.55"/>
<circle cx="221.4" cy="271.4" r="0.55" fill="#2a2028" fill-opacity="0.55"/>
<circle cx="216.4" cy="270.6" r="0.55" fill="#2a2028" fill-opacity="0.55"/>
<circle cx="219.8" cy="280.0" r="0.55" fill="#6a5050" fill-opacity="0.5"/>
<circle cx="220.4" cy="280.5" r="0.55" fill="#8a6050" fill-opacity="0.45"/>
<circle cx="218.7" cy="274.4" r="0.55" fill="#4a3a40" fill-opacity="0.55"/>
<circle cx="220.6" cy="272.9" r="0.55" fill="#6a5050" fill-opacity="0.5"/>
<circle cx="216.4" cy="267.2" r="0.55" fill="#8a6050" fill-opacity="0.45"/>
<circle cx="220.3" cy="271.3" r="0.55" fill="#8a6050" fill-opacity="0.45"/>
<circle cx="220.7" cy="273.8" r="0.55" fill="#2a2028" fill-opacity="0.55"/>
<circle cx="218.8" cy="277.0" r="0.55" fill="#2a2028" fill-opacity="0.55"/>
<circle cx="220.3" cy="279.4" r="0.55" fill="#8a6050" fill-opacity="0.45"/>
<circle cx="222.3" cy="274.7" r="0.55" fill="#6a5050" fill-opacity="0.5"/>
<circle cx="219.7" cy="274.6" r="0.55" fill="#4a3a40" fill-opacity="0.55"/>
<circle cx="221.5" cy="269.2" r="0.55" fill="#6a5050" fill-opacity="0.5"/>
<circle cx="218.9" cy="277.9" r="0.55" fill="#8a6050" fill-opacity="0.45"/>
<circle cx="218.9" cy="274.6" r="0.55" fill="#4a3a40" fill-opacity="0.55"/>
<circle cx="219.6" cy="273.4" r="0.55" fill="#4a3a40" fill-opacity="0.55"/>
<circle cx="215.4" cy="263.5" r="0.55" fill="#6a5050" fill-opacity="0.5"/>
<circle cx="219.3" cy="276.4" r="0.55" fill="#4a3a40" fill-opacity="0.55"/>
<circle cx="222.6" cy="276.3" r="0.55" fill="#4a3a40" fill-opacity="0.55"/>
<circle cx="219.9" cy="274.4" r="0.55" fill="#6a5050" fill-opacity="0.5"/>
<circle cx="218.0" cy="272.1" r="0.55" fill="#8a6050" fill-opacity="0.45"/>
<circle cx="219.4" cy="274.3" r="0.55" fill="#6a5050" fill-opacity="0.5"/>
<circle cx="220.8" cy="276.8" r="0.55" fill="#4a3a40" fill-opacity="0.55"/>
<circle cx="220.2" cy="275.2" r="0.55" fill="#8a6050" fill-opacity="0.45"/>
<circle cx="221.0" cy="283.2" r="0.55" fill="#8a6050" fill-opacity="0.45"/>
<circle cx="222.2" cy="285.1" r="0.55" fill="#6a5050" fill-opacity="0.5"/>
<circle cx="219.7" cy="281.8" r="0.55" fill="#6a5050" fill-opacity="0.5"/>
<circle cx="222.0" cy="276.1" r="0.55" fill="#2a2028" fill-opacity="0.55"/>
<circle cx="219.0" cy="283.2" r="0.55" fill="#2a2028" fill-opacity="0.55"/>
<circle cx="218.0" cy="269.3" r="0.55" fill="#2a2028" fill-opacity="0.55"/>
<circle cx="219.6" cy="275.8" r="0.55" fill="#8a6050" fill-opacity="0.45"/>
<circle cx="218.8" cy="270.4" r="0.55" fill="#6a5050" fill-opacity="0.5"/>
<circle cx="218.0" cy="274.2" r="0.55" fill="#2a2028" fill-opacity="0.55"/>
<circle cx="220.7" cy="267.9" r="0.55" fill="#4a3a40" fill-opacity="0.55"/>
<circle cx="220.3" cy="274.6" r="0.55" fill="#8a6050" fill-opacity="0.45"/>
<circle cx="221.7" cy="272.7" r="0.55" fill="#6a5050" fill-opacity="0.5"/>
<circle cx="219.1" cy="269.4" r="0.55" fill="#2a2028" fill-opacity="0.55"/>
<circle cx="220.1" cy="280.2" r="0.55" fill="#2a2028" fill-opacity="0.55"/>
<circle cx="219.3" cy="288.5" r="0.55" fill="#8a6050" fill-opacity="0.45"/>
<circle cx="219.1" cy="271.6" r="0.55" fill="#8a6050" fill-opacity="0.45"/>
<circle cx="220.7" cy="278.1" r="0.55" fill="#2a2028" fill-opacity="0.55"/>
<circle cx="221.8" cy="282.1" r="0.55" fill="#4a3a40" fill-opacity="0.55"/>
<circle cx="221.0" cy="281.5" r="0.55" fill="#8a6050" fill-opacity="0.45"/>
<circle cx="219.1" cy="275.2" r="0.55" fill="#4a3a40" fill-opacity="0.55"/>
<circle cx="224.5" cy="279.4" r="0.55" fill="#8a6050" fill-opacity="0.45"/>
<circle cx="219.4" cy="277.7" r="0.55" fill="#8a6050" fill-opacity="0.45"/>
<circle cx="220.4" cy="275.1" r="0.55" fill="#4a3a40" fill-opacity="0.55"/>
<circle cx="219.1" cy="266.2" r="0.55" fill="#8a6050" fill-opacity="0.45"/>
<circle cx="216.6" cy="278.2" r="0.55" fill="#2a2028" fill-opacity="0.55"/>
<circle cx="218.7" cy="268.9" r="0.55" fill="#6a5050" fill-opacity="0.5"/>
<circle cx="222.3" cy="275.1" r="0.55" fill="#2a2028" fill-opacity="0.55"/>
<circle cx="220.1" cy="280.1" r="0.55" fill="#6a5050" fill-opacity="0.5"/>
<circle cx="219.2" cy="274.4" r="0.55" fill="#8a6050" fill-opacity="0.45"/>
<circle cx="220.7" cy="281.3" r="0.55" fill="#6a5050" fill-opacity="0.5"/>
<circle cx="220.0" cy="269.6" r="0.55" fill="#4a3a40" fill-opacity="0.55"/>
<circle cx="220.5" cy="283.4" r="0.55" fill="#6a5050" fill-opacity="0.5"/>
<circle cx="218.3" cy="275.1" r="0.55" fill="#4a3a40" fill-opacity="0.55"/>
<circle cx="218.7" cy="274.9" r="0.55" fill="#4a3a40" fill-opacity="0.55"/>
<circle cx="219.4" cy="276.0" r="0.55" fill="#4a3a40" fill-opacity="0.55"/>
<circle cx="219.6" cy="273.5" r="0.55" fill="#8a6050" fill-opacity="0.45"/>
<circle cx="217.4" cy="272.7" r="0.55" fill="#6a5050" fill-opacity="0.5"/>
<circle cx="223.0" cy="282.4" r="0.55" fill="#6a5050" fill-opacity="0.5"/>
<circle cx="219.1" cy="277.2" r="0.55" fill="#4a3a40" fill-opacity="0.55"/>
<circle cx="220.7" cy="283.7" r="0.55" fill="#2a2028" fill-opacity="0.55"/>
<circle cx="218.6" cy="275.0" r="0.55" fill="#6a5050" fill-opacity="0.5"/>
<circle cx="219.0" cy="274.9" r="0.55" fill="#2a2028" fill-opacity="0.55"/>
<circle cx="220.2" cy="288.1" r="0.55" fill="#4a3a40" fill-opacity="0.55"/>
<circle cx="219.3" cy="271.2" r="0.55" fill="#4a3a40" fill-opacity="0.55"/>
<circle cx="221.2" cy="282.9" r="0.55" fill="#2a2028" fill-opacity="0.55"/>
<circle cx="218.5" cy="278.2" r="0.55" fill="#4a3a40" fill-opacity="0.55"/>
<circle cx="219.8" cy="284.4" r="0.55" fill="#8a6050" fill-opacity="0.45"/>
<circle cx="217.7" cy="271.4" r="0.55" fill="#2a2028" fill-opacity="0.55"/>
<circle cx="221.1" cy="281.2" r="0.55" fill="#2a2028" fill-opacity="0.55"/>
<circle cx="221.2" cy="280.7" r="0.55" fill="#8a6050" fill-opacity="0.45"/>
<circle cx="221.2" cy="282.4" r="0.55" fill="#6a5050" fill-opacity="0.5"/>
<circle cx="221.2" cy="289.4" r="0.55" fill="#2a2028" fill-opacity="0.55"/>
<circle cx="219.4" cy="275.3" r="0.55" fill="#4a3a40" fill-opacity="0.55"/>
<circle cx="218.7" cy="280.4" r="0.55" fill="#2a2028" fill-opacity="0.55"/>
<circle cx="218.4" cy="277.7" r="0.55" fill="#8a6050" fill-opacity="0.45"/>
<circle cx="219.2" cy="270.1" r="0.55" fill="#8a6050" fill-opacity="0.45"/>
<circle cx="220.4" cy="267.0" r="0.55" fill="#8a6050" fill-opacity="0.45"/>
<circle cx="219.9" cy="274.0" r="0.55" fill="#2a2028" fill-opacity="0.55"/>
<circle cx="220.9" cy="272.5" r="0.55" fill="#8a6050" fill-opacity="0.45"/>
<circle cx="219.6" cy="277.1" r="0.55" fill="#2a2028" fill-opacity="0.55"/>
<circle cx="220.0" cy="284.0" r="0.55" fill="#8a6050" fill-opacity="0.45"/>
<circle cx="218.8" cy="269.1" r="0.55" fill="#6a5050" fill-opacity="0.5"/>
<circle cx="221.3" cy="268.6" r="0.55" fill="#4a3a40" fill-opacity="0.55"/>
<circle cx="221.4" cy="280.7" r="0.55" fill="#8a6050" fill-opacity="0.45"/>
<circle cx="221.4" cy="275.2" r="0.55" fill="#2a2028" fill-opacity="0.55"/>
<circle cx="218.6" cy="275.9" r="0.55" fill="#6a5050" fill-opacity="0.5"/>
<circle cx="216.7" cy="265.7" r="0.55" fill="#2a2028" fill-opacity="0.55"/>
<circle cx="222.2" cy="276.2" r="0.55" fill="#6a5050" fill-opacity="0.5"/>
<circle cx="220.4" cy="272.1" r="0.55" fill="#4a3a40" fill-opacity="0.55"/>
<circle cx="221.1" cy="285.5" r="0.55" fill="#2a2028" fill-opacity="0.55"/>
<circle cx="220.2" cy="275.0" r="0.55" fill="#4a3a40" fill-opacity="0.55"/>
<circle cx="221.6" cy="281.2" r="0.55" fill="#8a6050" fill-opacity="0.45"/>
<circle cx="220.9" cy="276.4" r="0.55" fill="#6a5050" fill-opacity="0.5"/>
<circle cx="220.8" cy="276.9" r="0.55" fill="#8a6050" fill-opacity="0.45"/>
<circle cx="221.3" cy="270.0" r="0.55" fill="#8a6050" fill-opacity="0.45"/>
<circle cx="221.9" cy="283.0" r="0.55" fill="#4a3a40" fill-opacity="0.55"/>
<circle cx="220.2" cy="276.9" r="0.55" fill="#6a5050" fill-opacity="0.5"/>
<circle cx="219.8" cy="282.7" r="0.55" fill="#8a6050" fill-opacity="0.45"/>
<circle cx="220.3" cy="273.8" r="0.55" fill="#2a2028" fill-opacity="0.55"/>
<circle cx="221.8" cy="286.4" r="0.55" fill="#6a5050" fill-opacity="0.5"/>
<circle cx="220.0" cy="275.9" r="0.55" fill="#4a3a40" fill-opacity="0.55"/>
<circle cx="218.6" cy="275.8" r="0.55" fill="#2a2028" fill-opacity="0.55"/>
<circle cx="218.7" cy="272.7" r="0.55" fill="#6a5050" fill-opacity="0.5"/>
<circle cx="220.9" cy="275.3" r="0.55" fill="#8a6050" fill-opacity="0.45"/>
<circle cx="219.3" cy="273.6" r="0.55" fill="#8a6050" fill-opacity="0.45"/>
<circle cx="219.2" cy="278.3" r="0.55" fill="#6a5050" fill-opacity="0.5"/>
<circle cx="222.1" cy="282.2" r="0.55" fill="#6a5050" fill-opacity="0.5"/>
<circle cx="220.6" cy="280.2" r="0.55" fill="#6a5050" fill-opacity="0.5"/>
<circle cx="219.6" cy="271.3" r="0.55" fill="#2a2028" fill-opacity="0.55"/>
<circle cx="218.7" cy="274.4" r="0.55" fill="#6a5050" fill-opacity="0.5"/>
<circle cx="220.3" cy="274.3" r="0.55" fill="#4a3a40" fill-opacity="0.55"/>
<circle cx="220.2" cy="284.4" r="0.55" fill="#2a2028" fill-opacity="0.55"/>
<circle cx="219.3" cy="277.1" r="0.55" fill="#2a2028" fill-opacity="0.55"/>
<circle cx="219.3" cy="276.2" r="0.55" fill="#6a5050" fill-opacity="0.5"/>
<circle cx="218.1" cy="275.3" r="0.55" fill="#2a2028" fill-opacity="0.55"/>
<circle cx="223.5" cy="290.6" r="0.55" fill="#4a3a40" fill-opacity="0.55"/>
<circle cx="220.3" cy="281.0" r="0.55" fill="#2a2028" fill-opacity="0.55"/>
<circle cx="222.1" cy="287.3" r="0.55" fill="#2a2028" fill-opacity="0.55"/>
<circle cx="216.5" cy="268.1" r="0.55" fill="#8a6050" fill-opacity="0.45"/>
<circle cx="223.0" cy="276.4" r="0.55" fill="#2a2028" fill-opacity="0.55"/>
<circle cx="221.3" cy="282.8" r="0.55" fill="#6a5050" fill-opacity="0.5"/>
<circle cx="219.6" cy="282.4" r="0.55" fill="#2a2028" fill-opacity="0.55"/>
<circle cx="218.0" cy="276.0" r="0.55" fill="#4a3a40" fill-opacity="0.55"/>
<circle cx="217.1" cy="271.4" r="0.55" fill="#2a2028" fill-opacity="0.55"/>
<circle cx="218.7" cy="274.0" r="0.55" fill="#8a6050" fill-opacity="0.45"/>
<circle cx="218.6" cy="275.3" r="0.55" fill="#4a3a40" fill-opacity="0.55"/>
<circle cx="220.4" cy="283.5" r="0.55" fill="#8a6050" fill-opacity="0.45"/>
<circle cx="220.1" cy="280.2" r="0.55" fill="#2a2028" fill-opacity="0.55"/>
<circle cx="216.6" cy="271.8" r="0.55" fill="#4a3a40" fill-opacity="0.55"/>
<circle cx="219.6" cy="283.4" r="0.55" fill="#8a6050" fill-opacity="0.45"/>
<circle cx="219.8" cy="270.2" r="0.55" fill="#6a5050" fill-opacity="0.5"/>
<circle cx="219.9" cy="275.4" r="0.55" fill="#2a2028" fill-opacity="0.55"/>
<circle cx="221.0" cy="272.4" r="0.55" fill="#4a3a40" fill-opacity="0.55"/>
<circle cx="219.3" cy="275.2" r="0.55" fill="#8a6050" fill-opacity="0.45"/>
<circle cx="221.2" cy="277.6" r="0.55" fill="#6a5050" fill-opacity="0.5"/>
<circle cx="219.3" cy="270.0" r="0.55" fill="#4a3a40" fill-opacity="0.55"/>
<circle cx="219.3" cy="279.5" r="0.55" fill="#8a6050" fill-opacity="0.45"/>
<circle cx="217.8" cy="266.8" r="0.55" fill="#8a6050" fill-opacity="0.45"/>
<circle cx="221.4" cy="278.5" r="0.55" fill="#6a5050" fill-opacity="0.5"/>
<circle cx="218.2" cy="268.3" r="0.55" fill="#2a2028" fill-opacity="0.55"/>
<circle cx="222.2" cy="283.1" r="0.55" fill="#4a3a40" fill-opacity="0.55"/>
<circle cx="221.3" cy="281.2" r="0.55" fill="#2a2028" fill-opacity="0.55"/>
<circle cx="221.3" cy="276.5" r="0.55" fill="#4a3a40" fill-opacity="0.55"/>
<circle cx="221.8" cy="280.2" r="0.55" fill="#8a6050" fill-opacity="0.45"/>
<circle cx="219.4" cy="277.6" r="0.55" fill="#2a2028" fill-opacity="0.55"/>
<circle cx="218.0" cy="268.6" r="0.55" fill="#4a3a40" fill-opacity="0.55"/>
<circle cx="219.9" cy="279.2" r="0.55" fill="#4a3a40" fill-opacity="0.55"/>
<circle cx="219.4" cy="277.7" r="0.55" fill="#4a3a40" fill-opacity="0.55"/>
<circle cx="219.3" cy="280.4" r="0.55" fill="#4a3a40" fill-opacity="0.55"/>
<circle cx="221.4" cy="277.7" r="0.55" fill="#2a2028" fill-opacity="0.55"/>
<circle cx="218.9" cy="269.3" r="0.55" fill="#4a3a40" fill-opacity="0.55"/>
<circle cx="218.5" cy="277.9" r="0.55" fill="#4a3a40" fill-opacity="0.55"/>
<circle cx="218.6" cy="283.3" r="0.55" fill="#4a3a40" fill-opacity="0.55"/>
<circle cx="219.0" cy="278.7" r="0.55" fill="#4a3a40" fill-opacity="0.55"/>
<circle cx="218.4" cy="277.3" r="0.55" fill="#8a6050" fill-opacity="0.45"/>
<circle cx="219.3" cy="270.2" r="0.55" fill="#8a6050" fill-opacity="0.45"/>
<circle cx="222.0" cy="275.9" r="0.55" fill="#8a6050" fill-opacity="0.45"/>
<circle cx="220.7" cy="281.7" r="0.55" fill="#2a2028" fill-opacity="0.55"/>
</g>
<g filter="url(#bl)">
<circle cx="223.7" cy="285.6" r="0.55" fill="#d08050" fill-opacity="0.5"/>
<circle cx="222.6" cy="268.0" r="0.55" fill="#d08050" fill-opacity="0.5"/>
<circle cx="223.3" cy="280.8" r="0.55" fill="#e09060" fill-opacity="0.55"/>
<circle cx="222.4" cy="275.6" r="0.55" fill="#e09060" fill-opacity="0.55"/>
<circle cx="222.3" cy="277.4" r="0.55" fill="#e8a070" fill-opacity="0.5"/>
<circle cx="223.5" cy="278.4" r="0.55" fill="#d08050" fill-opacity="0.5"/>
<circle cx="222.8" cy="277.5" r="0.55" fill="#e8a070" fill-opacity="0.5"/>
<circle cx="223.0" cy="276.2" r="0.55" fill="#e8a070" fill-opacity="0.5"/>
<circle cx="223.0" cy="270.6" r="0.55" fill="#e09060" fill-opacity="0.55"/>
<circle cx="222.8" cy="274.3" r="0.55" fill="#e09060" fill-opacity="0.55"/>
<circle cx="221.6" cy="278.8" r="0.55" fill="#d08050" fill-opacity="0.5"/>
<circle cx="224.2" cy="277.0" r="0.55" fill="#e8a070" fill-opacity="0.5"/>
<circle cx="221.6" cy="272.5" r="0.55" fill="#e8a070" fill-opacity="0.5"/>
<circle cx="222.9" cy="269.9" r="0.55" fill="#e8a070" fill-opacity="0.5"/>
<circle cx="222.0" cy="272.1" r="0.55" fill="#d08050" fill-opacity="0.5"/>
<circle cx="223.9" cy="277.5" r="0.55" fill="#d08050" fill-opacity="0.5"/>
<circle cx="222.6" cy="279.1" r="0.55" fill="#e09060" fill-opacity="0.55"/>
<circle cx="223.8" cy="282.2" r="0.55" fill="#e8a070" fill-opacity="0.5"/>
<circle cx="222.0" cy="279.8" r="0.55" fill="#e8a070" fill-opacity="0.5"/>
<circle cx="223.5" cy="273.7" r="0.55" fill="#d08050" fill-opacity="0.5"/>
<circle cx="223.4" cy="281.6" r="0.55" fill="#e09060" fill-opacity="0.55"/>
<circle cx="222.6" cy="275.5" r="0.55" fill="#e8a070" fill-opacity="0.5"/>
<circle cx="220.7" cy="268.1" r="0.55" fill="#e8a070" fill-opacity="0.5"/>
<circle cx="223.9" cy="278.0" r="0.55" fill="#e09060" fill-opacity="0.55"/>
<circle cx="223.7" cy="283.8" r="0.55" fill="#d08050" fill-opacity="0.5"/>
<circle cx="223.1" cy="271.9" r="0.55" fill="#e09060" fill-opacity="0.55"/>
<circle cx="222.0" cy="269.9" r="0.55" fill="#e8a070" fill-opacity="0.5"/>
<circle cx="223.6" cy="272.0" r="0.55" fill="#e09060" fill-opacity="0.55"/>
<circle cx="222.0" cy="271.3" r="0.55" fill="#d08050" fill-opacity="0.5"/>
<circle cx="222.6" cy="275.4" r="0.55" fill="#d08050" fill-opacity="0.5"/>
<circle cx="221.4" cy="273.3" r="0.55" fill="#e09060" fill-opacity="0.55"/>
<circle cx="223.1" cy="276.9" r="0.55" fill="#d08050" fill-opacity="0.5"/>
<circle cx="222.0" cy="275.5" r="0.55" fill="#d08050" fill-opacity="0.5"/>
<circle cx="222.4" cy="276.7" r="0.55" fill="#e09060" fill-opacity="0.55"/>
<circle cx="224.3" cy="284.4" r="0.55" fill="#e09060" fill-opacity="0.55"/>
<circle cx="223.3" cy="276.2" r="0.55" fill="#e8a070" fill-opacity="0.5"/>
<circle cx="221.8" cy="273.1" r="0.55" fill="#d08050" fill-opacity="0.5"/>
<circle cx="220.9" cy="265.6" r="0.55" fill="#e8a070" fill-opacity="0.5"/>
<circle cx="221.8" cy="273.3" r="0.55" fill="#e09060" fill-opacity="0.55"/>
<circle cx="223.5" cy="277.9" r="0.55" fill="#e8a070" fill-opacity="0.5"/>
<circle cx="223.6" cy="274.4" r="0.55" fill="#d08050" fill-opacity="0.5"/>
<circle cx="224.2" cy="280.5" r="0.55" fill="#e8a070" fill-opacity="0.5"/>
<circle cx="223.0" cy="276.9" r="0.55" fill="#e8a070" fill-opacity="0.5"/>
<circle cx="223.0" cy="283.1" r="0.55" fill="#d08050" fill-opacity="0.5"/>
<circle cx="221.9" cy="277.5" r="0.55" fill="#d08050" fill-opacity="0.5"/>
<circle cx="224.3" cy="286.5" r="0.55" fill="#e8a070" fill-opacity="0.5"/>
<circle cx="221.0" cy="278.1" r="0.55" fill="#d08050" fill-opacity="0.5"/>
<circle cx="224.0" cy="282.1" r="0.55" fill="#e09060" fill-opacity="0.55"/>
<circle cx="223.6" cy="284.6" r="0.55" fill="#e8a070" fill-opacity="0.5"/>
<circle cx="222.5" cy="271.4" r="0.55" fill="#e8a070" fill-opacity="0.5"/>
<circle cx="223.7" cy="282.4" r="0.55" fill="#e09060" fill-opacity="0.55"/>
<circle cx="223.1" cy="283.1" r="0.55" fill="#e09060" fill-opacity="0.55"/>
<circle cx="222.4" cy="271.3" r="0.55" fill="#e09060" fill-opacity="0.55"/>
<circle cx="222.2" cy="274.5" r="0.55" fill="#e8a070" fill-opacity="0.5"/>
<circle cx="221.9" cy="278.9" r="0.55" fill="#e8a070" fill-opacity="0.5"/>
<circle cx="224.2" cy="280.2" r="0.55" fill="#e09060" fill-opacity="0.55"/>
<circle cx="223.3" cy="279.3" r="0.55" fill="#e8a070" fill-opacity="0.5"/>
<circle cx="223.0" cy="274.8" r="0.55" fill="#e8a070" fill-opacity="0.5"/>
<circle cx="222.2" cy="275.6" r="0.55" fill="#e8a070" fill-opacity="0.5"/>
<circle cx="223.9" cy="281.3" r="0.55" fill="#e8a070" fill-opacity="0.5"/>
<circle cx="221.6" cy="274.7" r="0.55" fill="#e8a070" fill-opacity="0.5"/>
<circle cx="224.2" cy="279.6" r="0.55" fill="#e09060" fill-opacity="0.55"/>
<circle cx="223.2" cy="277.7" r="0.55" fill="#e09060" fill-opacity="0.55"/>
<circle cx="223.5" cy="274.0" r="0.55" fill="#e09060" fill-opacity="0.55"/>
<circle cx="223.9" cy="271.8" r="0.55" fill="#d08050" fill-opacity="0.5"/>
<circle cx="224.1" cy="282.5" r="0.55" fill="#e8a070" fill-opacity="0.5"/>
<circle cx="223.8" cy="279.6" r="0.55" fill="#e09060" fill-opacity="0.55"/>
<circle cx="223.7" cy="279.0" r="0.55" fill="#e09060" fill-opacity="0.55"/>
<circle cx="220.9" cy="276.8" r="0.55" fill="#e8a070" fill-opacity="0.5"/>
<circle cx="223.8" cy="282.6" r="0.55" fill="#e09060" fill-opacity="0.55"/>
<circle cx="223.1" cy="268.9" r="0.55" fill="#e09060" fill-opacity="0.55"/>
<circle cx="220.6" cy="270.4" r="0.55" fill="#e8a070" fill-opacity="0.5"/>
<circle cx="222.2" cy="277.2" r="0.55" fill="#d08050" fill-opacity="0.5"/>
<circle cx="223.1" cy="280.0" r="0.55" fill="#e09060" fill-opacity="0.55"/>
<circle cx="223.4" cy="276.7" r="0.55" fill="#e09060" fill-opacity="0.55"/>
<circle cx="224.6" cy="282.8" r="0.55" fill="#e09060" fill-opacity="0.55"/>
<circle cx="224.6" cy="277.8" r="0.55" fill="#e8a070" fill-opacity="0.5"/>
<circle cx="225.5" cy="289.6" r="0.55" fill="#d08050" fill-opacity="0.5"/>
<circle cx="222.4" cy="274.0" r="0.55" fill="#e09060" fill-opacity="0.55"/>
<circle cx="223.9" cy="280.7" r="0.55" fill="#e8a070" fill-opacity="0.5"/>
<circle cx="222.4" cy="278.8" r="0.55" fill="#e09060" fill-opacity="0.55"/>
<circle cx="222.9" cy="278.1" r="0.55" fill="#e09060" fill-opacity="0.55"/>
<circle cx="222.2" cy="277.3" r="0.55" fill="#e09060" fill-opacity="0.55"/>
<circle cx="223.5" cy="276.5" r="0.55" fill="#e8a070" fill-opacity="0.5"/>
<circle cx="221.3" cy="286.2" r="0.55" fill="#e8a070" fill-opacity="0.5"/>
<circle cx="222.7" cy="279.6" r="0.55" fill="#d08050" fill-opacity="0.5"/>
<circle cx="223.5" cy="274.3" r="0.55" fill="#e09060" fill-opacity="0.55"/>
<circle cx="222.4" cy="270.2" r="0.55" fill="#e09060" fill-opacity="0.55"/>
<circle cx="225.1" cy="279.8" r="0.55" fill="#e8a070" fill-opacity="0.5"/>
<circle cx="223.0" cy="275.2" r="0.55" fill="#e09060" fill-opacity="0.55"/>
<circle cx="223.5" cy="278.0" r="0.55" fill="#e09060" fill-opacity="0.55"/>
<circle cx="223.4" cy="274.1" r="0.55" fill="#d08050" fill-opacity="0.5"/>
<circle cx="222.8" cy="276.3" r="0.55" fill="#d08050" fill-opacity="0.5"/>
<circle cx="222.2" cy="270.8" r="0.55" fill="#e8a070" fill-opacity="0.5"/>
<circle cx="224.2" cy="278.9" r="0.55" fill="#d08050" fill-opacity="0.5"/>
<circle cx="224.8" cy="285.4" r="0.55" fill="#e09060" fill-opacity="0.55"/>
<circle cx="221.5" cy="271.5" r="0.55" fill="#e8a070" fill-opacity="0.5"/>
<circle cx="223.4" cy="276.2" r="0.55" fill="#e8a070" fill-opacity="0.5"/>
<circle cx="223.4" cy="278.3" r="0.55" fill="#e8a070" fill-opacity="0.5"/>
<circle cx="222.9" cy="277.9" r="0.55" fill="#e8a070" fill-opacity="0.5"/>
</g>
<g filter="url(#bl)">
<circle cx="218.3" cy="294.3" r="0.55" fill="#a09090" fill-opacity="0.35"/>
<circle cx="221.7" cy="293.6" r="0.55" fill="#a09090" fill-opacity="0.35"/>
<circle cx="218.4" cy="293.9" r="0.55" fill="#a09090" fill-opacity="0.35"/>
<circle cx="220.4" cy="286.1" r="0.55" fill="#c09080" fill-opacity="0.4"/>
<circle cx="220.8" cy="290.4" r="0.55" fill="#a09090" fill-opacity="0.35"/>
<circle cx="220.1" cy="296.7" r="0.55" fill="#c09080" fill-opacity="0.4"/>
<circle cx="225.3" cy="296.7" r="0.55" fill="#c09080" fill-opacity="0.4"/>
<circle cx="217.4" cy="292.1" r="0.55" fill="#a09090" fill-opacity="0.35"/>
<circle cx="221.8" cy="290.8" r="0.55" fill="#c09080" fill-opacity="0.4"/>
<circle cx="222.9" cy="285.7" r="0.55" fill="#c09080" fill-opacity="0.4"/>
<circle cx="227.0" cy="301.8" r="0.55" fill="#a09090" fill-opacity="0.35"/>
<circle cx="223.3" cy="296.7" r="0.55" fill="#c09080" fill-opacity="0.4"/>
<circle cx="217.1" cy="290.2" r="0.55" fill="#c09080" fill-opacity="0.4"/>
<circle cx="226.0" cy="291.3" r="0.55" fill="#c09080" fill-opacity="0.4"/>
<circle cx="220.6" cy="292.9" r="0.55" fill="#a09090" fill-opacity="0.35"/>
<circle cx="220.3" cy="287.6" r="0.55" fill="#a09090" fill-opacity="0.35"/>
<circle cx="218.5" cy="291.0" r="0.55" fill="#c09080" fill-opacity="0.4"/>
<circle cx="227.4" cy="289.9" r="0.55" fill="#a09090" fill-opacity="0.35"/>
<circle cx="220.2" cy="297.1" r="0.55" fill="#a09090" fill-opacity="0.35"/>
<circle cx="221.0" cy="290.6" r="0.55" fill="#c09080" fill-opacity="0.4"/>
<circle cx="220.4" cy="297.6" r="0.55" fill="#c09080" fill-opacity="0.4"/>
<circle cx="225.5" cy="294.8" r="0.55" fill="#a09090" fill-opacity="0.35"/>
<circle cx="222.0" cy="293.3" r="0.55" fill="#a09090" fill-opacity="0.35"/>
<circle cx="222.9" cy="294.0" r="0.55" fill="#c09080" fill-opacity="0.4"/>
<circle cx="221.5" cy="289.1" r="0.55" fill="#c09080" fill-opacity="0.4"/>
<circle cx="221.3" cy="291.6" r="0.55" fill="#a09090" fill-opacity="0.35"/>
<circle cx="218.5" cy="293.1" r="0.55" fill="#c09080" fill-opacity="0.4"/>
<circle cx="219.4" cy="292.5" r="0.55" fill="#a09090" fill-opacity="0.35"/>
<circle cx="221.0" cy="299.1" r="0.55" fill="#a09090" fill-opacity="0.35"/>
<circle cx="221.9" cy="309.4" r="0.55" fill="#a09090" fill-opacity="0.35"/>
<circle cx="223.4" cy="290.6" r="0.55" fill="#c09080" fill-opacity="0.4"/>
<circle cx="221.7" cy="289.1" r="0.55" fill="#c09080" fill-opacity="0.4"/>
<circle cx="226.1" cy="289.1" r="0.55" fill="#a09090" fill-opacity="0.35"/>
<circle cx="223.2" cy="301.8" r="0.55" fill="#c09080" fill-opacity="0.4"/>
<circle cx="221.5" cy="295.7" r="0.55" fill="#a09090" fill-opacity="0.35"/>
<circle cx="224.1" cy="292.9" r="0.55" fill="#c09080" fill-opacity="0.4"/>
<circle cx="225.6" cy="288.0" r="0.55" fill="#a09090" fill-opacity="0.35"/>
<circle cx="220.5" cy="289.9" r="0.55" fill="#a09090" fill-opacity="0.35"/>
<circle cx="219.4" cy="293.3" r="0.55" fill="#a09090" fill-opacity="0.35"/>
<circle cx="222.5" cy="291.0" r="0.55" fill="#a09090" fill-opacity="0.35"/>
<circle cx="221.0" cy="291.9" r="0.55" fill="#a09090" fill-opacity="0.35"/>
<circle cx="224.0" cy="290.7" r="0.55" fill="#a09090" fill-opacity="0.35"/>
<circle cx="221.1" cy="289.3" r="0.55" fill="#a09090" fill-opacity="0.35"/>
<circle cx="221.0" cy="292.8" r="0.55" fill="#c09080" fill-opacity="0.4"/>
<circle cx="221.1" cy="290.3" r="0.55" fill="#a09090" fill-opacity="0.35"/>
<circle cx="220.1" cy="295.0" r="0.55" fill="#a09090" fill-opacity="0.35"/>
<circle cx="220.7" cy="293.3" r="0.55" fill="#a09090" fill-opacity="0.35"/>
<circle cx="221.6" cy="287.3" r="0.55" fill="#c09080" fill-opacity="0.4"/>
<circle cx="224.7" cy="287.3" r="0.55" fill="#a09090" fill-opacity="0.35"/>
<circle cx="224.6" cy="292.0" r="0.55" fill="#a09090" fill-opacity="0.35"/>
<circle cx="221.1" cy="292.6" r="0.55" fill="#c09080" fill-opacity="0.4"/>
<circle cx="224.7" cy="287.4" r="0.55" fill="#c09080" fill-opacity="0.4"/>
<circle cx="223.8" cy="289.4" r="0.55" fill="#a09090" fill-opacity="0.35"/>
<circle cx="222.4" cy="284.6" r="0.55" fill="#c09080" fill-opacity="0.4"/>
<circle cx="219.5" cy="304.9" r="0.55" fill="#a09090" fill-opacity="0.35"/>
<circle cx="220.7" cy="291.0" r="0.55" fill="#a09090" fill-opacity="0.35"/>
<circle cx="220.8" cy="292.0" r="0.55" fill="#a09090" fill-opacity="0.35"/>
<circle cx="220.0" cy="300.5" r="0.55" fill="#c09080" fill-opacity="0.4"/>
<circle cx="220.1" cy="284.9" r="0.55" fill="#a09090" fill-opacity="0.35"/>
<circle cx="220.3" cy="284.2" r="0.55" fill="#a09090" fill-opacity="0.35"/>
<circle cx="221.1" cy="294.0" r="0.55" fill="#a09090" fill-opacity="0.35"/>
<circle cx="219.7" cy="288.6" r="0.55" fill="#c09080" fill-opacity="0.4"/>
<circle cx="220.5" cy="288.6" r="0.55" fill="#c09080" fill-opacity="0.4"/>
<circle cx="222.2" cy="291.3" r="0.55" fill="#c09080" fill-opacity="0.4"/>
<circle cx="223.6" cy="293.3" r="0.55" fill="#a09090" fill-opacity="0.35"/>
<circle cx="223.5" cy="286.2" r="0.55" fill="#a09090" fill-opacity="0.35"/>
<circle cx="222.4" cy="305.1" r="0.55" fill="#a09090" fill-opacity="0.35"/>
<circle cx="222.8" cy="298.2" r="0.55" fill="#c09080" fill-opacity="0.4"/>
<circle cx="217.8" cy="295.4" r="0.55" fill="#c09080" fill-opacity="0.4"/>
<circle cx="222.3" cy="289.6" r="0.55" fill="#a09090" fill-opacity="0.35"/>
</g>
<rect x="229.3" y="258.7" width="31.1" height="26.8" fill="none" stroke="#8c8cbc" stroke-width="0.85"/>
<text stroke="#222" stroke-width="0.22" x="243.4" y="255.9" font-size="7.5" text-anchor="middle" fill="#222" textLength="16.8" lengthAdjust="spacingAndGlyphs">0.2%</text>
<rect x="289.9" y="240.2" width="68.90000000000003" height="68.40000000000003" fill="#fff" stroke="#c8c8c8" stroke-width="0.6"/>
<line x1="289.9" y1="242.2" x2="289.9" y2="308.6" stroke="#555" stroke-width="0.8"/>
<line x1="289.9" y1="308.6" x2="358.8" y2="308.6" stroke="#555" stroke-width="0.8"/>
<line x1="288.7" y1="306.6" x2="289.9" y2="306.6" stroke="#555" stroke-width="0.5"/>
<line x1="288.7" y1="301.6" x2="289.9" y2="301.6" stroke="#555" stroke-width="0.5"/>
<line x1="288.7" y1="296.7" x2="289.9" y2="296.7" stroke="#555" stroke-width="0.5"/>
<line x1="288.7" y1="291.7" x2="289.9" y2="291.7" stroke="#555" stroke-width="0.5"/>
<line x1="288.7" y1="286.8" x2="289.9" y2="286.8" stroke="#555" stroke-width="0.5"/>
<line x1="288.7" y1="281.8" x2="289.9" y2="281.8" stroke="#555" stroke-width="0.5"/>
<line x1="288.7" y1="276.9" x2="289.9" y2="276.9" stroke="#555" stroke-width="0.5"/>
<line x1="288.7" y1="271.9" x2="289.9" y2="271.9" stroke="#555" stroke-width="0.5"/>
<line x1="288.7" y1="267.0" x2="289.9" y2="267.0" stroke="#555" stroke-width="0.5"/>
<line x1="288.7" y1="262.0" x2="289.9" y2="262.0" stroke="#555" stroke-width="0.5"/>
<line x1="288.7" y1="257.1" x2="289.9" y2="257.1" stroke="#555" stroke-width="0.5"/>
<line x1="288.7" y1="252.1" x2="289.9" y2="252.1" stroke="#555" stroke-width="0.5"/>
<line x1="288.7" y1="247.2" x2="289.9" y2="247.2" stroke="#555" stroke-width="0.5"/>
<line x1="288.7" y1="242.2" x2="289.9" y2="242.2" stroke="#555" stroke-width="0.5"/>
<line x1="291.9" y1="308.6" x2="291.9" y2="309.8" stroke="#555" stroke-width="0.5"/>
<line x1="296.9" y1="308.6" x2="296.9" y2="309.8" stroke="#555" stroke-width="0.5"/>
<line x1="301.9" y1="308.6" x2="301.9" y2="309.8" stroke="#555" stroke-width="0.5"/>
<line x1="306.9" y1="308.6" x2="306.9" y2="309.8" stroke="#555" stroke-width="0.5"/>
<line x1="311.9" y1="308.6" x2="311.9" y2="309.8" stroke="#555" stroke-width="0.5"/>
<line x1="316.9" y1="308.6" x2="316.9" y2="309.8" stroke="#555" stroke-width="0.5"/>
<line x1="321.9" y1="308.6" x2="321.9" y2="309.8" stroke="#555" stroke-width="0.5"/>
<line x1="326.8" y1="308.6" x2="326.8" y2="309.8" stroke="#555" stroke-width="0.5"/>
<line x1="331.8" y1="308.6" x2="331.8" y2="309.8" stroke="#555" stroke-width="0.5"/>
<line x1="336.8" y1="308.6" x2="336.8" y2="309.8" stroke="#555" stroke-width="0.5"/>
<line x1="341.8" y1="308.6" x2="341.8" y2="309.8" stroke="#555" stroke-width="0.5"/>
<line x1="346.8" y1="308.6" x2="346.8" y2="309.8" stroke="#555" stroke-width="0.5"/>
<line x1="351.8" y1="308.6" x2="351.8" y2="309.8" stroke="#555" stroke-width="0.5"/>
<line x1="356.8" y1="308.6" x2="356.8" y2="309.8" stroke="#555" stroke-width="0.5"/>
<line x1="289.0" y1="294.6" x2="289.0" y2="298.1" stroke="#222" stroke-width="1.3"/>
<line x1="292.9" y1="309.3" x2="299.4" y2="309.3" stroke="#222" stroke-width="1.2"/>
<g filter="url(#bl)">
<circle cx="310.7" cy="283.8" r="0.55" fill="#8a7080" fill-opacity="0.4"/>
<circle cx="307.7" cy="276.6" r="0.55" fill="#d8a070" fill-opacity="0.35"/>
<circle cx="308.9" cy="269.2" r="0.55" fill="#3a3040" fill-opacity="0.45"/>
<circle cx="305.9" cy="274.4" r="0.55" fill="#4a3a50" fill-opacity="0.45"/>
<circle cx="307.8" cy="281.9" r="0.55" fill="#4a3a50" fill-opacity="0.45"/>
<circle cx="311.1" cy="283.8" r="0.55" fill="#6a5a70" fill-opacity="0.4"/>
<circle cx="307.7" cy="270.0" r="0.55" fill="#d8a070" fill-opacity="0.35"/>
<circle cx="308.4" cy="275.0" r="0.55" fill="#8a7080" fill-opacity="0.4"/>
<circle cx="306.2" cy="273.9" r="0.55" fill="#8a7080" fill-opacity="0.4"/>
<circle cx="311.5" cy="277.2" r="0.55" fill="#4a3a50" fill-opacity="0.45"/>
<circle cx="312.2" cy="285.5" r="0.55" fill="#d8a070" fill-opacity="0.35"/>
<circle cx="310.8" cy="284.1" r="0.55" fill="#d8a070" fill-opacity="0.35"/>
<circle cx="307.8" cy="276.5" r="0.55" fill="#4a3a50" fill-opacity="0.45"/>
<circle cx="306.1" cy="278.3" r="0.55" fill="#4a3a50" fill-opacity="0.45"/>
<circle cx="308.7" cy="272.0" r="0.55" fill="#3a3040" fill-opacity="0.45"/>
<circle cx="309.4" cy="275.8" r="0.55" fill="#3a3040" fill-opacity="0.45"/>
<circle cx="306.0" cy="277.9" r="0.55" fill="#6a5a70" fill-opacity="0.4"/>
<circle cx="308.5" cy="278.9" r="0.55" fill="#3a3040" fill-opacity="0.45"/>
<circle cx="307.8" cy="279.2" r="0.55" fill="#d8a070" fill-opacity="0.35"/>
<circle cx="307.4" cy="276.1" r="0.55" fill="#d8a070" fill-opacity="0.35"/>
<circle cx="308.6" cy="276.9" r="0.55" fill="#4a3a50" fill-opacity="0.45"/>
<circle cx="310.8" cy="283.9" r="0.55" fill="#d8a070" fill-opacity="0.35"/>
<circle cx="309.4" cy="276.0" r="0.55" fill="#3a3040" fill-opacity="0.45"/>
<circle cx="308.4" cy="271.8" r="0.55" fill="#3a3040" fill-opacity="0.45"/>
<circle cx="308.2" cy="291.3" r="0.55" fill="#4a3a50" fill-opacity="0.45"/>
<circle cx="309.5" cy="279.3" r="0.55" fill="#8a7080" fill-opacity="0.4"/>
<circle cx="309.1" cy="271.3" r="0.55" fill="#3a3040" fill-opacity="0.45"/>
<circle cx="309.7" cy="274.0" r="0.55" fill="#6a5a70" fill-opacity="0.4"/>
<circle cx="311.8" cy="280.2" r="0.55" fill="#d8a070" fill-opacity="0.35"/>
<circle cx="307.6" cy="282.6" r="0.55" fill="#3a3040" fill-opacity="0.45"/>
<circle cx="311.3" cy="266.8" r="0.55" fill="#d8a070" fill-opacity="0.35"/>
<circle cx="309.5" cy="274.2" r="0.55" fill="#3a3040" fill-opacity="0.45"/>
<circle cx="310.3" cy="276.4" r="0.55" fill="#3a3040" fill-opacity="0.45"/>
<circle cx="308.2" cy="279.2" r="0.55" fill="#6a5a70" fill-opacity="0.4"/>
<circle cx="309.3" cy="277.9" r="0.55" fill="#d8a070" fill-opacity="0.35"/>
<circle cx="308.5" cy="269.2" r="0.55" fill="#8a7080" fill-opacity="0.4"/>
<circle cx="310.1" cy="277.4" r="0.55" fill="#8a7080" fill-opacity="0.4"/>
<circle cx="310.1" cy="276.9" r="0.55" fill="#d8a070" fill-opacity="0.35"/>
<circle cx="310.3" cy="278.2" r="0.55" fill="#6a5a70" fill-opacity="0.4"/>
<circle cx="311.3" cy="274.8" r="0.55" fill="#d8a070" fill-opacity="0.35"/>
<circle cx="309.7" cy="276.9" r="0.55" fill="#3a3040" fill-opacity="0.45"/>
<circle cx="310.1" cy="272.3" r="0.55" fill="#6a5a70" fill-opacity="0.4"/>
<circle cx="309.8" cy="272.5" r="0.55" fill="#6a5a70" fill-opacity="0.4"/>
<circle cx="309.9" cy="270.4" r="0.55" fill="#d8a070" fill-opacity="0.35"/>
<circle cx="305.5" cy="277.5" r="0.55" fill="#d8a070" fill-opacity="0.35"/>
<circle cx="308.7" cy="283.0" r="0.55" fill="#8a7080" fill-opacity="0.4"/>
<circle cx="311.0" cy="283.2" r="0.55" fill="#d8a070" fill-opacity="0.35"/>
<circle cx="311.0" cy="277.0" r="0.55" fill="#6a5a70" fill-opacity="0.4"/>
<circle cx="309.6" cy="269.5" r="0.55" fill="#8a7080" fill-opacity="0.4"/>
<circle cx="307.0" cy="267.0" r="0.55" fill="#6a5a70" fill-opacity="0.4"/>
<circle cx="309.4" cy="277.9" r="0.55" fill="#4a3a50" fill-opacity="0.45"/>
<circle cx="310.3" cy="283.8" r="0.55" fill="#6a5a70" fill-opacity="0.4"/>
<circle cx="309.6" cy="277.3" r="0.55" fill="#8a7080" fill-opacity="0.4"/>
<circle cx="310.6" cy="281.2" r="0.55" fill="#8a7080" fill-opacity="0.4"/>
<circle cx="306.8" cy="283.8" r="0.55" fill="#3a3040" fill-opacity="0.45"/>
<circle cx="309.6" cy="279.3" r="0.55" fill="#d8a070" fill-opacity="0.35"/>
<circle cx="310.3" cy="285.4" r="0.55" fill="#4a3a50" fill-opacity="0.45"/>
<circle cx="307.0" cy="271.8" r="0.55" fill="#4a3a50" fill-opacity="0.45"/>
<circle cx="308.8" cy="275.3" r="0.55" fill="#d8a070" fill-opacity="0.35"/>
<circle cx="309.5" cy="271.4" r="0.55" fill="#3a3040" fill-opacity="0.45"/>
<circle cx="310.6" cy="284.3" r="0.55" fill="#8a7080" fill-opacity="0.4"/>
<circle cx="310.8" cy="274.0" r="0.55" fill="#4a3a50" fill-opacity="0.45"/>
<circle cx="309.1" cy="279.5" r="0.55" fill="#8a7080" fill-opacity="0.4"/>
<circle cx="309.2" cy="266.1" r="0.55" fill="#d8a070" fill-opacity="0.35"/>
<circle cx="309.4" cy="275.1" r="0.55" fill="#3a3040" fill-opacity="0.45"/>
<circle cx="311.0" cy="278.8" r="0.55" fill="#8a7080" fill-opacity="0.4"/>
<circle cx="310.1" cy="274.8" r="0.55" fill="#3a3040" fill-opacity="0.45"/>
<circle cx="306.7" cy="274.9" r="0.55" fill="#4a3a50" fill-opacity="0.45"/>
<circle cx="307.5" cy="272.5" r="0.55" fill="#6a5a70" fill-opacity="0.4"/>
<circle cx="308.3" cy="280.2" r="0.55" fill="#d8a070" fill-opacity="0.35"/>
<circle cx="309.4" cy="277.4" r="0.55" fill="#4a3a50" fill-opacity="0.45"/>
<circle cx="306.2" cy="268.4" r="0.55" fill="#d8a070" fill-opacity="0.35"/>
<circle cx="304.9" cy="275.9" r="0.55" fill="#d8a070" fill-opacity="0.35"/>
<circle cx="307.0" cy="277.5" r="0.55" fill="#d8a070" fill-opacity="0.35"/>
<circle cx="309.2" cy="276.5" r="0.55" fill="#d8a070" fill-opacity="0.35"/>
<circle cx="310.1" cy="277.2" r="0.55" fill="#3a3040" fill-opacity="0.45"/>
<circle cx="309.1" cy="267.2" r="0.55" fill="#d8a070" fill-opacity="0.35"/>
<circle cx="308.8" cy="270.2" r="0.55" fill="#8a7080" fill-opacity="0.4"/>
<circle cx="306.6" cy="276.9" r="0.55" fill="#4a3a50" fill-opacity="0.45"/>
<circle cx="309.8" cy="276.8" r="0.55" fill="#8a7080" fill-opacity="0.4"/>
<circle cx="307.1" cy="263.7" r="0.55" fill="#d8a070" fill-opacity="0.35"/>
<circle cx="306.3" cy="268.9" r="0.55" fill="#3a3040" fill-opacity="0.45"/>
<circle cx="307.3" cy="267.5" r="0.55" fill="#6a5a70" fill-opacity="0.4"/>
<circle cx="307.0" cy="277.0" r="0.55" fill="#8a7080" fill-opacity="0.4"/>
<circle cx="306.0" cy="268.8" r="0.55" fill="#4a3a50" fill-opacity="0.45"/>
<circle cx="309.6" cy="279.4" r="0.55" fill="#d8a070" fill-opacity="0.35"/>
<circle cx="308.4" cy="273.5" r="0.55" fill="#6a5a70" fill-opacity="0.4"/>
<circle cx="310.2" cy="278.3" r="0.55" fill="#d8a070" fill-opacity="0.35"/>
<circle cx="308.2" cy="269.4" r="0.55" fill="#4a3a50" fill-opacity="0.45"/>
<circle cx="309.7" cy="275.7" r="0.55" fill="#d8a070" fill-opacity="0.35"/>
<circle cx="309.6" cy="281.2" r="0.55" fill="#3a3040" fill-opacity="0.45"/>
<circle cx="307.9" cy="271.8" r="0.55" fill="#4a3a50" fill-opacity="0.45"/>
<circle cx="308.6" cy="280.2" r="0.55" fill="#6a5a70" fill-opacity="0.4"/>
<circle cx="310.0" cy="271.7" r="0.55" fill="#6a5a70" fill-opacity="0.4"/>
<circle cx="307.5" cy="273.3" r="0.55" fill="#d8a070" fill-opacity="0.35"/>
<circle cx="310.1" cy="280.9" r="0.55" fill="#d8a070" fill-opacity="0.35"/>
<circle cx="307.0" cy="279.4" r="0.55" fill="#8a7080" fill-opacity="0.4"/>
<circle cx="307.0" cy="268.3" r="0.55" fill="#3a3040" fill-opacity="0.45"/>
<circle cx="309.0" cy="279.8" r="0.55" fill="#6a5a70" fill-opacity="0.4"/>
<circle cx="311.8" cy="278.1" r="0.55" fill="#8a7080" fill-opacity="0.4"/>
<circle cx="310.7" cy="276.7" r="0.55" fill="#4a3a50" fill-opacity="0.45"/>
<circle cx="307.7" cy="280.0" r="0.55" fill="#d8a070" fill-opacity="0.35"/>
<circle cx="308.9" cy="276.7" r="0.55" fill="#3a3040" fill-opacity="0.45"/>
<circle cx="312.4" cy="288.7" r="0.55" fill="#6a5a70" fill-opacity="0.4"/>
<circle cx="305.8" cy="279.9" r="0.55" fill="#8a7080" fill-opacity="0.4"/>
<circle cx="310.4" cy="282.6" r="0.55" fill="#d8a070" fill-opacity="0.35"/>
<circle cx="308.3" cy="275.7" r="0.55" fill="#6a5a70" fill-opacity="0.4"/>
<circle cx="306.4" cy="282.4" r="0.55" fill="#6a5a70" fill-opacity="0.4"/>
<circle cx="310.1" cy="286.6" r="0.55" fill="#3a3040" fill-opacity="0.45"/>
<circle cx="311.3" cy="270.1" r="0.55" fill="#4a3a50" fill-opacity="0.45"/>
<circle cx="308.3" cy="274.1" r="0.55" fill="#d8a070" fill-opacity="0.35"/>
<circle cx="310.5" cy="270.0" r="0.55" fill="#6a5a70" fill-opacity="0.4"/>
<circle cx="310.3" cy="281.6" r="0.55" fill="#3a3040" fill-opacity="0.45"/>
<circle cx="306.6" cy="271.0" r="0.55" fill="#d8a070" fill-opacity="0.35"/>
<circle cx="307.1" cy="268.0" r="0.55" fill="#6a5a70" fill-opacity="0.4"/>
<circle cx="309.1" cy="281.6" r="0.55" fill="#8a7080" fill-opacity="0.4"/>
<circle cx="308.6" cy="275.4" r="0.55" fill="#4a3a50" fill-opacity="0.45"/>
<circle cx="308.0" cy="272.7" r="0.55" fill="#4a3a50" fill-opacity="0.45"/>
<circle cx="308.1" cy="272.5" r="0.55" fill="#8a7080" fill-opacity="0.4"/>
<circle cx="308.5" cy="278.9" r="0.55" fill="#3a3040" fill-opacity="0.45"/>
<circle cx="306.4" cy="276.5" r="0.55" fill="#d8a070" fill-opacity="0.35"/>
<circle cx="309.4" cy="278.3" r="0.55" fill="#8a7080" fill-opacity="0.4"/>
<circle cx="307.1" cy="274.7" r="0.55" fill="#6a5a70" fill-opacity="0.4"/>
<circle cx="308.0" cy="268.8" r="0.55" fill="#4a3a50" fill-opacity="0.45"/>
<circle cx="308.6" cy="279.8" r="0.55" fill="#3a3040" fill-opacity="0.45"/>
<circle cx="310.4" cy="277.3" r="0.55" fill="#3a3040" fill-opacity="0.45"/>
<circle cx="306.8" cy="269.8" r="0.55" fill="#4a3a50" fill-opacity="0.45"/>
<circle cx="307.8" cy="269.3" r="0.55" fill="#6a5a70" fill-opacity="0.4"/>
<circle cx="309.5" cy="271.0" r="0.55" fill="#4a3a50" fill-opacity="0.45"/>
<circle cx="310.4" cy="270.8" r="0.55" fill="#6a5a70" fill-opacity="0.4"/>
<circle cx="307.2" cy="268.2" r="0.55" fill="#3a3040" fill-opacity="0.45"/>
<circle cx="305.2" cy="273.6" r="0.55" fill="#8a7080" fill-opacity="0.4"/>
<circle cx="306.6" cy="285.3" r="0.55" fill="#8a7080" fill-opacity="0.4"/>
<circle cx="310.3" cy="276.3" r="0.55" fill="#3a3040" fill-opacity="0.45"/>
<circle cx="308.9" cy="277.3" r="0.55" fill="#d8a070" fill-opacity="0.35"/>
<circle cx="308.0" cy="273.2" r="0.55" fill="#3a3040" fill-opacity="0.45"/>
<circle cx="307.2" cy="276.1" r="0.55" fill="#6a5a70" fill-opacity="0.4"/>
<circle cx="310.8" cy="275.7" r="0.55" fill="#d8a070" fill-opacity="0.35"/>
<circle cx="307.6" cy="263.7" r="0.55" fill="#8a7080" fill-opacity="0.4"/>
<circle cx="309.6" cy="273.5" r="0.55" fill="#3a3040" fill-opacity="0.45"/>
<circle cx="310.2" cy="282.6" r="0.55" fill="#8a7080" fill-opacity="0.4"/>
<circle cx="303.5" cy="267.9" r="0.55" fill="#d8a070" fill-opacity="0.35"/>
<circle cx="311.1" cy="273.0" r="0.55" fill="#6a5a70" fill-opacity="0.4"/>
<circle cx="308.4" cy="271.9" r="0.55" fill="#3a3040" fill-opacity="0.45"/>
<circle cx="305.3" cy="274.4" r="0.55" fill="#3a3040" fill-opacity="0.45"/>
<circle cx="308.8" cy="279.4" r="0.55" fill="#d8a070" fill-opacity="0.35"/>
<circle cx="307.1" cy="271.7" r="0.55" fill="#d8a070" fill-opacity="0.35"/>
<circle cx="308.1" cy="267.3" r="0.55" fill="#8a7080" fill-opacity="0.4"/>
<circle cx="310.8" cy="286.2" r="0.55" fill="#6a5a70" fill-opacity="0.4"/>
<circle cx="307.6" cy="276.4" r="0.55" fill="#3a3040" fill-opacity="0.45"/>
<circle cx="309.2" cy="272.8" r="0.55" fill="#8a7080" fill-opacity="0.4"/>
<circle cx="305.9" cy="270.6" r="0.55" fill="#6a5a70" fill-opacity="0.4"/>
<circle cx="308.0" cy="280.3" r="0.55" fill="#4a3a50" fill-opacity="0.45"/>
<circle cx="308.4" cy="264.1" r="0.55" fill="#8a7080" fill-opacity="0.4"/>
<circle cx="303.1" cy="266.8" r="0.55" fill="#6a5a70" fill-opacity="0.4"/>
<circle cx="305.7" cy="277.3" r="0.55" fill="#3a3040" fill-opacity="0.45"/>
<circle cx="309.0" cy="269.6" r="0.55" fill="#4a3a50" fill-opacity="0.45"/>
<circle cx="312.5" cy="278.0" r="0.55" fill="#6a5a70" fill-opacity="0.4"/>
<circle cx="307.0" cy="276.1" r="0.55" fill="#d8a070" fill-opacity="0.35"/>
<circle cx="307.0" cy="273.6" r="0.55" fill="#4a3a50" fill-opacity="0.45"/>
<circle cx="310.0" cy="268.4" r="0.55" fill="#8a7080" fill-opacity="0.4"/>
<circle cx="306.7" cy="268.0" r="0.55" fill="#d8a070" fill-opacity="0.35"/>
<circle cx="308.7" cy="262.7" r="0.55" fill="#6a5a70" fill-opacity="0.4"/>
<circle cx="307.4" cy="273.1" r="0.55" fill="#4a3a50" fill-opacity="0.45"/>
<circle cx="308.4" cy="271.5" r="0.55" fill="#6a5a70" fill-opacity="0.4"/>
<circle cx="311.3" cy="284.8" r="0.55" fill="#8a7080" fill-opacity="0.4"/>
<circle cx="311.0" cy="280.9" r="0.55" fill="#6a5a70" fill-opacity="0.4"/>
<circle cx="307.9" cy="275.8" r="0.55" fill="#d8a070" fill-opacity="0.35"/>
<circle cx="310.0" cy="284.9" r="0.55" fill="#8a7080" fill-opacity="0.4"/>
<circle cx="310.2" cy="272.4" r="0.55" fill="#4a3a50" fill-opacity="0.45"/>
<circle cx="309.4" cy="279.1" r="0.55" fill="#4a3a50" fill-opacity="0.45"/>
<circle cx="309.5" cy="287.1" r="0.55" fill="#4a3a50" fill-opacity="0.45"/>
<circle cx="311.8" cy="284.4" r="0.55" fill="#3a3040" fill-opacity="0.45"/>
<circle cx="311.4" cy="277.1" r="0.55" fill="#3a3040" fill-opacity="0.45"/>
<circle cx="307.7" cy="269.4" r="0.55" fill="#3a3040" fill-opacity="0.45"/>
<circle cx="310.2" cy="274.5" r="0.55" fill="#4a3a50" fill-opacity="0.45"/>
<circle cx="307.5" cy="271.8" r="0.55" fill="#8a7080" fill-opacity="0.4"/>
<circle cx="307.7" cy="279.9" r="0.55" fill="#d8a070" fill-opacity="0.35"/>
<circle cx="307.8" cy="268.2" r="0.55" fill="#d8a070" fill-opacity="0.35"/>
<circle cx="308.8" cy="274.8" r="0.55" fill="#d8a070" fill-opacity="0.35"/>
<circle cx="309.6" cy="267.3" r="0.55" fill="#3a3040" fill-opacity="0.45"/>
<circle cx="308.4" cy="270.5" r="0.55" fill="#6a5a70" fill-opacity="0.4"/>
<circle cx="311.0" cy="285.1" r="0.55" fill="#8a7080" fill-opacity="0.4"/>
<circle cx="307.9" cy="271.3" r="0.55" fill="#4a3a50" fill-opacity="0.45"/>
<circle cx="307.9" cy="277.2" r="0.55" fill="#4a3a50" fill-opacity="0.45"/>
<circle cx="305.9" cy="268.0" r="0.55" fill="#6a5a70" fill-opacity="0.4"/>
<circle cx="307.8" cy="274.9" r="0.55" fill="#4a3a50" fill-opacity="0.45"/>
<circle cx="308.1" cy="273.8" r="0.55" fill="#4a3a50" fill-opacity="0.45"/>
<circle cx="310.2" cy="284.8" r="0.55" fill="#3a3040" fill-opacity="0.45"/>
<circle cx="311.7" cy="277.0" r="0.55" fill="#6a5a70" fill-opacity="0.4"/>
<circle cx="308.1" cy="274.5" r="0.55" fill="#6a5a70" fill-opacity="0.4"/>
<circle cx="306.6" cy="280.6" r="0.55" fill="#3a3040" fill-opacity="0.45"/>
<circle cx="307.0" cy="265.7" r="0.55" fill="#d8a070" fill-opacity="0.35"/>
<circle cx="308.7" cy="281.0" r="0.55" fill="#8a7080" fill-opacity="0.4"/>
<circle cx="309.7" cy="271.8" r="0.55" fill="#3a3040" fill-opacity="0.45"/>
<circle cx="305.4" cy="276.4" r="0.55" fill="#3a3040" fill-opacity="0.45"/>
<circle cx="308.4" cy="276.2" r="0.55" fill="#4a3a50" fill-opacity="0.45"/>
<circle cx="308.7" cy="271.4" r="0.55" fill="#d8a070" fill-opacity="0.35"/>
<circle cx="307.8" cy="268.8" r="0.55" fill="#6a5a70" fill-opacity="0.4"/>
<circle cx="308.9" cy="281.6" r="0.55" fill="#d8a070" fill-opacity="0.35"/>
<circle cx="307.5" cy="271.1" r="0.55" fill="#8a7080" fill-opacity="0.4"/>
<circle cx="310.2" cy="277.5" r="0.55" fill="#4a3a50" fill-opacity="0.45"/>
<circle cx="305.9" cy="277.2" r="0.55" fill="#6a5a70" fill-opacity="0.4"/>
<circle cx="308.5" cy="272.6" r="0.55" fill="#8a7080" fill-opacity="0.4"/>
<circle cx="308.1" cy="279.1" r="0.55" fill="#d8a070" fill-opacity="0.35"/>
<circle cx="309.1" cy="274.9" r="0.55" fill="#d8a070" fill-opacity="0.35"/>
<circle cx="308.0" cy="275.8" r="0.55" fill="#d8a070" fill-opacity="0.35"/>
<circle cx="310.4" cy="288.1" r="0.55" fill="#6a5a70" fill-opacity="0.4"/>
<circle cx="311.1" cy="278.3" r="0.55" fill="#3a3040" fill-opacity="0.45"/>
<circle cx="308.6" cy="279.4" r="0.55" fill="#4a3a50" fill-opacity="0.45"/>
<circle cx="308.0" cy="277.9" r="0.55" fill="#4a3a50" fill-opacity="0.45"/>
<circle cx="309.3" cy="279.5" r="0.55" fill="#8a7080" fill-opacity="0.4"/>
<circle cx="311.6" cy="276.6" r="0.55" fill="#d8a070" fill-opacity="0.35"/>
<circle cx="309.3" cy="281.6" r="0.55" fill="#d8a070" fill-opacity="0.35"/>
<circle cx="310.4" cy="284.6" r="0.55" fill="#6a5a70" fill-opacity="0.4"/>
<circle cx="307.6" cy="269.7" r="0.55" fill="#8a7080" fill-opacity="0.4"/>
<circle cx="307.2" cy="285.7" r="0.55" fill="#6a5a70" fill-opacity="0.4"/>
<circle cx="309.0" cy="285.7" r="0.55" fill="#4a3a50" fill-opacity="0.45"/>
<circle cx="309.4" cy="272.8" r="0.55" fill="#8a7080" fill-opacity="0.4"/>
<circle cx="308.5" cy="281.2" r="0.55" fill="#6a5a70" fill-opacity="0.4"/>
<circle cx="308.6" cy="274.6" r="0.55" fill="#3a3040" fill-opacity="0.45"/>
<circle cx="309.0" cy="280.7" r="0.55" fill="#3a3040" fill-opacity="0.45"/>
<circle cx="308.6" cy="271.7" r="0.55" fill="#4a3a50" fill-opacity="0.45"/>
<circle cx="310.4" cy="266.7" r="0.55" fill="#d8a070" fill-opacity="0.35"/>
<circle cx="310.6" cy="274.9" r="0.55" fill="#3a3040" fill-opacity="0.45"/>
<circle cx="309.3" cy="279.5" r="0.55" fill="#d8a070" fill-opacity="0.35"/>
<circle cx="306.9" cy="285.6" r="0.55" fill="#6a5a70" fill-opacity="0.4"/>
<circle cx="308.3" cy="275.8" r="0.55" fill="#4a3a50" fill-opacity="0.45"/>
<circle cx="308.5" cy="272.4" r="0.55" fill="#4a3a50" fill-opacity="0.45"/>
<circle cx="308.7" cy="274.1" r="0.55" fill="#8a7080" fill-opacity="0.4"/>
<circle cx="310.6" cy="280.5" r="0.55" fill="#8a7080" fill-opacity="0.4"/>
<circle cx="306.1" cy="266.2" r="0.55" fill="#8a7080" fill-opacity="0.4"/>
<circle cx="307.7" cy="279.2" r="0.55" fill="#3a3040" fill-opacity="0.45"/>
<circle cx="310.2" cy="279.6" r="0.55" fill="#d8a070" fill-opacity="0.35"/>
<circle cx="309.4" cy="284.4" r="0.55" fill="#8a7080" fill-opacity="0.4"/>
<circle cx="309.5" cy="272.7" r="0.55" fill="#8a7080" fill-opacity="0.4"/>
<circle cx="310.1" cy="280.1" r="0.55" fill="#8a7080" fill-opacity="0.4"/>
<circle cx="309.3" cy="279.4" r="0.55" fill="#4a3a50" fill-opacity="0.45"/>
<circle cx="309.1" cy="286.3" r="0.55" fill="#4a3a50" fill-opacity="0.45"/>
<circle cx="309.2" cy="275.6" r="0.55" fill="#8a7080" fill-opacity="0.4"/>
<circle cx="307.6" cy="269.4" r="0.55" fill="#4a3a50" fill-opacity="0.45"/>
<circle cx="308.8" cy="272.5" r="0.55" fill="#3a3040" fill-opacity="0.45"/>
<circle cx="308.0" cy="272.1" r="0.55" fill="#6a5a70" fill-opacity="0.4"/>
<circle cx="309.5" cy="269.1" r="0.55" fill="#6a5a70" fill-opacity="0.4"/>
<circle cx="307.8" cy="273.6" r="0.55" fill="#6a5a70" fill-opacity="0.4"/>
<circle cx="309.9" cy="273.7" r="0.55" fill="#8a7080" fill-opacity="0.4"/>
<circle cx="308.3" cy="284.6" r="0.55" fill="#d8a070" fill-opacity="0.35"/>
<circle cx="308.7" cy="264.6" r="0.55" fill="#4a3a50" fill-opacity="0.45"/>
<circle cx="309.3" cy="281.3" r="0.55" fill="#8a7080" fill-opacity="0.4"/>
<circle cx="309.2" cy="266.7" r="0.55" fill="#6a5a70" fill-opacity="0.4"/>
<circle cx="309.5" cy="275.9" r="0.55" fill="#d8a070" fill-opacity="0.35"/>
<circle cx="306.6" cy="278.4" r="0.55" fill="#6a5a70" fill-opacity="0.4"/>
<circle cx="310.3" cy="283.6" r="0.55" fill="#4a3a50" fill-opacity="0.45"/>
<circle cx="310.6" cy="266.8" r="0.55" fill="#4a3a50" fill-opacity="0.45"/>
<circle cx="310.1" cy="271.4" r="0.55" fill="#6a5a70" fill-opacity="0.4"/>
<circle cx="309.3" cy="263.9" r="0.55" fill="#3a3040" fill-opacity="0.45"/>
<circle cx="308.9" cy="266.9" r="0.55" fill="#4a3a50" fill-opacity="0.45"/>
<circle cx="310.7" cy="275.3" r="0.55" fill="#4a3a50" fill-opacity="0.45"/>
<circle cx="308.3" cy="274.5" r="0.55" fill="#d8a070" fill-opacity="0.35"/>
<circle cx="310.4" cy="279.2" r="0.55" fill="#3a3040" fill-opacity="0.45"/>
<circle cx="310.0" cy="267.9" r="0.55" fill="#d8a070" fill-opacity="0.35"/>
<circle cx="308.5" cy="272.2" r="0.55" fill="#8a7080" fill-opacity="0.4"/>
<circle cx="305.1" cy="263.9" r="0.55" fill="#8a7080" fill-opacity="0.4"/>
<circle cx="312.4" cy="281.3" r="0.55" fill="#6a5a70" fill-opacity="0.4"/>
<circle cx="310.5" cy="271.6" r="0.55" fill="#3a3040" fill-opacity="0.45"/>
<circle cx="309.1" cy="281.6" r="0.55" fill="#3a3040" fill-opacity="0.45"/>
<circle cx="308.3" cy="270.3" r="0.55" fill="#3a3040" fill-opacity="0.45"/>
<circle cx="309.5" cy="276.7" r="0.55" fill="#6a5a70" fill-opacity="0.4"/>
<circle cx="309.8" cy="271.6" r="0.55" fill="#d8a070" fill-opacity="0.35"/>
<circle cx="308.9" cy="287.1" r="0.55" fill="#3a3040" fill-opacity="0.45"/>
<circle cx="306.2" cy="277.9" r="0.55" fill="#3a3040" fill-opacity="0.45"/>
<circle cx="308.5" cy="283.7" r="0.55" fill="#d8a070" fill-opacity="0.35"/>
<circle cx="306.0" cy="274.1" r="0.55" fill="#8a7080" fill-opacity="0.4"/>
<circle cx="309.4" cy="279.6" r="0.55" fill="#3a3040" fill-opacity="0.45"/>
<circle cx="305.2" cy="274.0" r="0.55" fill="#4a3a50" fill-opacity="0.45"/>
<circle cx="309.7" cy="274.6" r="0.55" fill="#d8a070" fill-opacity="0.35"/>
<circle cx="307.3" cy="279.6" r="0.55" fill="#6a5a70" fill-opacity="0.4"/>
<circle cx="308.1" cy="276.0" r="0.55" fill="#3a3040" fill-opacity="0.45"/>
<circle cx="306.9" cy="269.5" r="0.55" fill="#4a3a50" fill-opacity="0.45"/>
<circle cx="309.5" cy="269.6" r="0.55" fill="#4a3a50" fill-opacity="0.45"/>
<circle cx="309.9" cy="283.1" r="0.55" fill="#4a3a50" fill-opacity="0.45"/>
<circle cx="306.7" cy="275.7" r="0.55" fill="#6a5a70" fill-opacity="0.4"/>
<circle cx="306.7" cy="269.0" r="0.55" fill="#d8a070" fill-opacity="0.35"/>
<circle cx="309.4" cy="285.2" r="0.55" fill="#d8a070" fill-opacity="0.35"/>
<circle cx="310.4" cy="284.7" r="0.55" fill="#d8a070" fill-opacity="0.35"/>
<circle cx="306.4" cy="282.5" r="0.55" fill="#8a7080" fill-opacity="0.4"/>
<circle cx="310.6" cy="272.3" r="0.55" fill="#d8a070" fill-opacity="0.35"/>
<circle cx="306.7" cy="276.6" r="0.55" fill="#6a5a70" fill-opacity="0.4"/>
<circle cx="310.4" cy="278.0" r="0.55" fill="#8a7080" fill-opacity="0.4"/>
<circle cx="310.6" cy="274.1" r="0.55" fill="#3a3040" fill-opacity="0.45"/>
<circle cx="311.3" cy="279.0" r="0.55" fill="#6a5a70" fill-opacity="0.4"/>
<circle cx="309.1" cy="273.9" r="0.55" fill="#6a5a70" fill-opacity="0.4"/>
<circle cx="310.4" cy="282.9" r="0.55" fill="#8a7080" fill-opacity="0.4"/>
<circle cx="306.3" cy="270.8" r="0.55" fill="#3a3040" fill-opacity="0.45"/>
<circle cx="312.9" cy="283.3" r="0.55" fill="#d8a070" fill-opacity="0.35"/>
<circle cx="309.2" cy="269.0" r="0.55" fill="#6a5a70" fill-opacity="0.4"/>
<circle cx="310.0" cy="281.2" r="0.55" fill="#8a7080" fill-opacity="0.4"/>
<circle cx="308.4" cy="276.4" r="0.55" fill="#6a5a70" fill-opacity="0.4"/>
<circle cx="312.0" cy="287.0" r="0.55" fill="#d8a070" fill-opacity="0.35"/>
<circle cx="307.3" cy="271.0" r="0.55" fill="#d8a070" fill-opacity="0.35"/>
<circle cx="308.9" cy="270.4" r="0.55" fill="#4a3a50" fill-opacity="0.45"/>
<circle cx="308.0" cy="272.5" r="0.55" fill="#3a3040" fill-opacity="0.45"/>
<circle cx="309.0" cy="273.6" r="0.55" fill="#8a7080" fill-opacity="0.4"/>
<circle cx="313.1" cy="279.5" r="0.55" fill="#8a7080" fill-opacity="0.4"/>
<circle cx="305.8" cy="273.0" r="0.55" fill="#d8a070" fill-opacity="0.35"/>
<circle cx="309.2" cy="286.9" r="0.55" fill="#d8a070" fill-opacity="0.35"/>
<circle cx="311.6" cy="279.2" r="0.55" fill="#3a3040" fill-opacity="0.45"/>
<circle cx="307.9" cy="274.5" r="0.55" fill="#3a3040" fill-opacity="0.45"/>
<circle cx="307.4" cy="276.2" r="0.55" fill="#4a3a50" fill-opacity="0.45"/>
<circle cx="307.4" cy="277.8" r="0.55" fill="#d8a070" fill-opacity="0.35"/>
<circle cx="309.1" cy="266.6" r="0.55" fill="#3a3040" fill-opacity="0.45"/>
<circle cx="308.9" cy="270.1" r="0.55" fill="#4a3a50" fill-opacity="0.45"/>
<circle cx="308.4" cy="266.2" r="0.55" fill="#3a3040" fill-opacity="0.45"/>
<circle cx="309.2" cy="282.7" r="0.55" fill="#8a7080" fill-opacity="0.4"/>
<circle cx="306.7" cy="272.7" r="0.55" fill="#6a5a70" fill-opacity="0.4"/>
<circle cx="308.4" cy="262.6" r="0.55" fill="#d8a070" fill-opacity="0.35"/>
<circle cx="308.0" cy="279.8" r="0.55" fill="#6a5a70" fill-opacity="0.4"/>
<circle cx="308.5" cy="286.7" r="0.55" fill="#8a7080" fill-opacity="0.4"/>
<circle cx="308.5" cy="271.1" r="0.55" fill="#d8a070" fill-opacity="0.35"/>
<circle cx="311.1" cy="277.2" r="0.55" fill="#8a7080" fill-opacity="0.4"/>
<circle cx="309.6" cy="277.2" r="0.55" fill="#d8a070" fill-opacity="0.35"/>
<circle cx="310.3" cy="273.7" r="0.55" fill="#d8a070" fill-opacity="0.35"/>
<circle cx="308.6" cy="279.8" r="0.55" fill="#8a7080" fill-opacity="0.4"/>
<circle cx="312.0" cy="281.1" r="0.55" fill="#6a5a70" fill-opacity="0.4"/>
<circle cx="305.0" cy="272.3" r="0.55" fill="#6a5a70" fill-opacity="0.4"/>
<circle cx="308.0" cy="280.5" r="0.55" fill="#3a3040" fill-opacity="0.45"/>
<circle cx="310.6" cy="274.3" r="0.55" fill="#d8a070" fill-opacity="0.35"/>
<circle cx="310.7" cy="280.3" r="0.55" fill="#6a5a70" fill-opacity="0.4"/>
<circle cx="311.0" cy="280.2" r="0.55" fill="#d8a070" fill-opacity="0.35"/>
<circle cx="310.6" cy="285.9" r="0.55" fill="#6a5a70" fill-opacity="0.4"/>
<circle cx="308.9" cy="280.0" r="0.55" fill="#6a5a70" fill-opacity="0.4"/>
<circle cx="307.9" cy="272.8" r="0.55" fill="#8a7080" fill-opacity="0.4"/>
<circle cx="306.7" cy="271.4" r="0.55" fill="#6a5a70" fill-opacity="0.4"/>
<circle cx="305.0" cy="270.6" r="0.55" fill="#8a7080" fill-opacity="0.4"/>
<circle cx="309.6" cy="266.4" r="0.55" fill="#8a7080" fill-opacity="0.4"/>
<circle cx="310.2" cy="268.8" r="0.55" fill="#4a3a50" fill-opacity="0.45"/>
<circle cx="306.8" cy="265.6" r="0.55" fill="#6a5a70" fill-opacity="0.4"/>
<circle cx="310.9" cy="270.5" r="0.55" fill="#d8a070" fill-opacity="0.35"/>
<circle cx="308.3" cy="280.9" r="0.55" fill="#d8a070" fill-opacity="0.35"/>
<circle cx="308.4" cy="271.2" r="0.55" fill="#4a3a50" fill-opacity="0.45"/>
<circle cx="307.9" cy="275.3" r="0.55" fill="#d8a070" fill-opacity="0.35"/>
<circle cx="306.6" cy="273.6" r="0.55" fill="#8a7080" fill-opacity="0.4"/>
<circle cx="310.3" cy="273.6" r="0.55" fill="#4a3a50" fill-opacity="0.45"/>
<circle cx="307.5" cy="273.8" r="0.55" fill="#4a3a50" fill-opacity="0.45"/>
<circle cx="309.1" cy="281.2" r="0.55" fill="#6a5a70" fill-opacity="0.4"/>
<circle cx="308.4" cy="272.9" r="0.55" fill="#3a3040" fill-opacity="0.45"/>
<circle cx="310.1" cy="271.1" r="0.55" fill="#8a7080" fill-opacity="0.4"/>
<circle cx="307.8" cy="275.8" r="0.55" fill="#3a3040" fill-opacity="0.45"/>
<circle cx="305.9" cy="274.7" r="0.55" fill="#4a3a50" fill-opacity="0.45"/>
<circle cx="309.4" cy="285.2" r="0.55" fill="#4a3a50" fill-opacity="0.45"/>
<circle cx="308.8" cy="270.7" r="0.55" fill="#d8a070" fill-opacity="0.35"/>
<circle cx="305.5" cy="278.3" r="0.55" fill="#4a3a50" fill-opacity="0.45"/>
<circle cx="306.6" cy="276.9" r="0.55" fill="#8a7080" fill-opacity="0.4"/>
<circle cx="309.6" cy="284.8" r="0.55" fill="#6a5a70" fill-opacity="0.4"/>
<circle cx="311.7" cy="275.8" r="0.55" fill="#d8a070" fill-opacity="0.35"/>
<circle cx="309.6" cy="274.8" r="0.55" fill="#3a3040" fill-opacity="0.45"/>
<circle cx="313.4" cy="277.2" r="0.55" fill="#4a3a50" fill-opacity="0.45"/>
<circle cx="309.9" cy="279.6" r="0.55" fill="#4a3a50" fill-opacity="0.45"/>
<circle cx="311.9" cy="285.9" r="0.55" fill="#3a3040" fill-opacity="0.45"/>
<circle cx="310.5" cy="289.3" r="0.55" fill="#6a5a70" fill-opacity="0.4"/>
<circle cx="309.7" cy="281.4" r="0.55" fill="#d8a070" fill-opacity="0.35"/>
<circle cx="308.4" cy="287.1" r="0.55" fill="#6a5a70" fill-opacity="0.4"/>
<circle cx="307.7" cy="272.2" r="0.55" fill="#8a7080" fill-opacity="0.4"/>
<circle cx="308.8" cy="281.7" r="0.55" fill="#6a5a70" fill-opacity="0.4"/>
<circle cx="309.8" cy="269.9" r="0.55" fill="#8a7080" fill-opacity="0.4"/>
<circle cx="309.0" cy="274.9" r="0.55" fill="#8a7080" fill-opacity="0.4"/>
<circle cx="309.2" cy="280.6" r="0.55" fill="#3a3040" fill-opacity="0.45"/>
<circle cx="307.1" cy="273.2" r="0.55" fill="#3a3040" fill-opacity="0.45"/>
<circle cx="308.7" cy="279.2" r="0.55" fill="#4a3a50" fill-opacity="0.45"/>
<circle cx="308.6" cy="274.1" r="0.55" fill="#4a3a50" fill-opacity="0.45"/>
<circle cx="308.8" cy="272.7" r="0.55" fill="#d8a070" fill-opacity="0.35"/>
<circle cx="307.1" cy="278.3" r="0.55" fill="#3a3040" fill-opacity="0.45"/>
<circle cx="306.9" cy="279.7" r="0.55" fill="#6a5a70" fill-opacity="0.4"/>
<circle cx="311.5" cy="285.6" r="0.55" fill="#3a3040" fill-opacity="0.45"/>
<circle cx="307.3" cy="274.6" r="0.55" fill="#4a3a50" fill-opacity="0.45"/>
<circle cx="312.5" cy="270.1" r="0.55" fill="#d8a070" fill-opacity="0.35"/>
<circle cx="308.6" cy="281.8" r="0.55" fill="#4a3a50" fill-opacity="0.45"/>
</g>
<g filter="url(#bl)">
<circle cx="327.9" cy="271.2" r="0.75" fill="#f0a070" fill-opacity="0.2"/>
<circle cx="320.5" cy="268.1" r="0.75" fill="#e8b090" fill-opacity="0.2"/>
<circle cx="330.8" cy="277.5" r="0.75" fill="#f0c090" fill-opacity="0.2"/>
<circle cx="325.6" cy="269.8" r="0.75" fill="#f0c090" fill-opacity="0.2"/>
<circle cx="329.7" cy="270.8" r="0.75" fill="#e8b090" fill-opacity="0.2"/>
<circle cx="328.0" cy="278.3" r="0.75" fill="#e8b090" fill-opacity="0.2"/>
<circle cx="332.7" cy="268.0" r="0.75" fill="#f0a070" fill-opacity="0.2"/>
<circle cx="324.0" cy="271.5" r="0.75" fill="#f0c090" fill-opacity="0.2"/>
<circle cx="323.7" cy="275.3" r="0.75" fill="#f0a070" fill-opacity="0.2"/>
<circle cx="313.7" cy="265.6" r="0.75" fill="#e8b090" fill-opacity="0.2"/>
<circle cx="329.5" cy="273.8" r="0.75" fill="#f0c090" fill-opacity="0.2"/>
<circle cx="324.3" cy="285.8" r="0.75" fill="#f0c090" fill-opacity="0.2"/>
<circle cx="334.0" cy="265.5" r="0.75" fill="#e8b090" fill-opacity="0.2"/>
<circle cx="320.6" cy="271.6" r="0.75" fill="#f0c090" fill-opacity="0.2"/>
<circle cx="323.3" cy="268.9" r="0.75" fill="#f0a070" fill-opacity="0.2"/>
<circle cx="318.5" cy="281.9" r="0.75" fill="#f0c090" fill-opacity="0.2"/>
<circle cx="330.8" cy="269.0" r="0.75" fill="#e8b090" fill-opacity="0.2"/>
<circle cx="329.1" cy="268.3" r="0.75" fill="#f0a070" fill-opacity="0.2"/>
<circle cx="323.1" cy="277.0" r="0.75" fill="#e8b090" fill-opacity="0.2"/>
<circle cx="332.1" cy="273.1" r="0.75" fill="#e8b090" fill-opacity="0.2"/>
<circle cx="319.4" cy="270.4" r="0.75" fill="#e8b090" fill-opacity="0.2"/>
<circle cx="329.7" cy="268.6" r="0.75" fill="#f0a070" fill-opacity="0.2"/>
<circle cx="330.2" cy="271.9" r="0.75" fill="#f0c090" fill-opacity="0.2"/>
<circle cx="325.4" cy="270.1" r="0.75" fill="#f0a070" fill-opacity="0.2"/>
<circle cx="319.5" cy="271.6" r="0.75" fill="#f0a070" fill-opacity="0.2"/>
<circle cx="321.5" cy="272.9" r="0.75" fill="#f0a070" fill-opacity="0.2"/>
<circle cx="320.1" cy="270.5" r="0.75" fill="#f0c090" fill-opacity="0.2"/>
<circle cx="331.5" cy="267.8" r="0.75" fill="#f0c090" fill-opacity="0.2"/>
<circle cx="331.6" cy="273.6" r="0.75" fill="#e8b090" fill-opacity="0.2"/>
<circle cx="324.4" cy="264.0" r="0.75" fill="#f0a070" fill-opacity="0.2"/>
<circle cx="330.4" cy="273.8" r="0.75" fill="#f0a070" fill-opacity="0.2"/>
<circle cx="330.4" cy="269.1" r="0.75" fill="#f0a070" fill-opacity="0.2"/>
<circle cx="318.3" cy="272.1" r="0.75" fill="#e8b090" fill-opacity="0.2"/>
<circle cx="323.2" cy="280.2" r="0.75" fill="#f0c090" fill-opacity="0.2"/>
<circle cx="323.0" cy="272.3" r="0.75" fill="#e8b090" fill-opacity="0.2"/>
<circle cx="319.2" cy="279.7" r="0.75" fill="#e8b090" fill-opacity="0.2"/>
<circle cx="324.8" cy="274.8" r="0.75" fill="#f0a070" fill-opacity="0.2"/>
<circle cx="317.2" cy="272.0" r="0.75" fill="#f0c090" fill-opacity="0.2"/>
<circle cx="331.3" cy="276.4" r="0.75" fill="#e8b090" fill-opacity="0.2"/>
<circle cx="321.0" cy="273.7" r="0.75" fill="#f0a070" fill-opacity="0.2"/>
<circle cx="328.2" cy="273.7" r="0.75" fill="#e8b090" fill-opacity="0.2"/>
<circle cx="327.8" cy="274.6" r="0.75" fill="#f0c090" fill-opacity="0.2"/>
<circle cx="322.9" cy="272.2" r="0.75" fill="#f0a070" fill-opacity="0.2"/>
<circle cx="324.6" cy="274.5" r="0.75" fill="#f0c090" fill-opacity="0.2"/>
<circle cx="320.9" cy="268.2" r="0.75" fill="#f0a070" fill-opacity="0.2"/>
<circle cx="323.8" cy="259.5" r="0.75" fill="#f0a070" fill-opacity="0.2"/>
<circle cx="330.2" cy="273.3" r="0.75" fill="#e8b090" fill-opacity="0.2"/>
<circle cx="328.6" cy="272.8" r="0.75" fill="#f0c090" fill-opacity="0.2"/>
<circle cx="323.8" cy="270.7" r="0.75" fill="#e8b090" fill-opacity="0.2"/>
<circle cx="323.8" cy="266.0" r="0.75" fill="#f0a070" fill-opacity="0.2"/>
<circle cx="327.1" cy="270.3" r="0.75" fill="#f0a070" fill-opacity="0.2"/>
<circle cx="331.4" cy="269.0" r="0.75" fill="#f0a070" fill-opacity="0.2"/>
<circle cx="331.1" cy="266.9" r="0.75" fill="#f0a070" fill-opacity="0.2"/>
<circle cx="328.2" cy="272.6" r="0.75" fill="#f0c090" fill-opacity="0.2"/>
<circle cx="331.1" cy="273.7" r="0.75" fill="#f0a070" fill-opacity="0.2"/>
<circle cx="323.4" cy="281.3" r="0.75" fill="#f0a070" fill-opacity="0.2"/>
<circle cx="314.2" cy="260.2" r="0.75" fill="#e8b090" fill-opacity="0.2"/>
<circle cx="325.7" cy="278.8" r="0.75" fill="#f0a070" fill-opacity="0.2"/>
<circle cx="322.4" cy="275.4" r="0.75" fill="#e8b090" fill-opacity="0.2"/>
<circle cx="330.4" cy="272.3" r="0.75" fill="#e8b090" fill-opacity="0.2"/>
<circle cx="333.3" cy="278.6" r="0.75" fill="#e8b090" fill-opacity="0.2"/>
<circle cx="320.1" cy="270.3" r="0.75" fill="#e8b090" fill-opacity="0.2"/>
<circle cx="324.6" cy="276.2" r="0.75" fill="#e8b090" fill-opacity="0.2"/>
<circle cx="330.7" cy="280.8" r="0.75" fill="#e8b090" fill-opacity="0.2"/>
<circle cx="318.5" cy="272.2" r="0.75" fill="#f0a070" fill-opacity="0.2"/>
<circle cx="328.5" cy="271.4" r="0.75" fill="#f0c090" fill-opacity="0.2"/>
<circle cx="318.8" cy="281.4" r="0.75" fill="#f0a070" fill-opacity="0.2"/>
<circle cx="318.9" cy="277.2" r="0.75" fill="#f0a070" fill-opacity="0.2"/>
<circle cx="324.4" cy="269.8" r="0.75" fill="#f0c090" fill-opacity="0.2"/>
<circle cx="324.0" cy="273.6" r="0.75" fill="#e8b090" fill-opacity="0.2"/>
<circle cx="328.1" cy="271.4" r="0.75" fill="#e8b090" fill-opacity="0.2"/>
<circle cx="316.2" cy="282.4" r="0.75" fill="#f0a070" fill-opacity="0.2"/>
<circle cx="315.7" cy="270.4" r="0.75" fill="#f0a070" fill-opacity="0.2"/>
<circle cx="329.9" cy="276.3" r="0.75" fill="#f0a070" fill-opacity="0.2"/>
<circle cx="328.6" cy="262.4" r="0.75" fill="#f0a070" fill-opacity="0.2"/>
<circle cx="313.8" cy="266.7" r="0.75" fill="#f0c090" fill-opacity="0.2"/>
<circle cx="312.0" cy="271.6" r="0.75" fill="#f0c090" fill-opacity="0.2"/>
<circle cx="319.0" cy="269.0" r="0.75" fill="#e8b090" fill-opacity="0.2"/>
<circle cx="317.8" cy="284.7" r="0.75" fill="#e8b090" fill-opacity="0.2"/>
<circle cx="328.8" cy="273.3" r="0.75" fill="#e8b090" fill-opacity="0.2"/>
<circle cx="322.2" cy="268.0" r="0.75" fill="#f0c090" fill-opacity="0.2"/>
<circle cx="329.1" cy="272.1" r="0.75" fill="#f0a070" fill-opacity="0.2"/>
<circle cx="329.1" cy="269.9" r="0.75" fill="#f0a070" fill-opacity="0.2"/>
<circle cx="327.5" cy="271.0" r="0.75" fill="#f0c090" fill-opacity="0.2"/>
<circle cx="330.6" cy="261.0" r="0.75" fill="#f0a070" fill-opacity="0.2"/>
<circle cx="319.4" cy="272.8" r="0.75" fill="#f0c090" fill-opacity="0.2"/>
<circle cx="328.6" cy="276.3" r="0.75" fill="#f0a070" fill-opacity="0.2"/>
<circle cx="314.1" cy="269.1" r="0.75" fill="#f0c090" fill-opacity="0.2"/>
<circle cx="330.1" cy="268.5" r="0.75" fill="#f0c090" fill-opacity="0.2"/>
<circle cx="321.2" cy="271.7" r="0.75" fill="#f0a070" fill-opacity="0.2"/>
<circle cx="329.0" cy="263.8" r="0.75" fill="#e8b090" fill-opacity="0.2"/>
<circle cx="326.1" cy="273.3" r="0.75" fill="#f0a070" fill-opacity="0.2"/>
<circle cx="326.2" cy="269.6" r="0.75" fill="#f0c090" fill-opacity="0.2"/>
<circle cx="323.5" cy="274.9" r="0.75" fill="#f0c090" fill-opacity="0.2"/>
<circle cx="329.5" cy="274.1" r="0.75" fill="#f0c090" fill-opacity="0.2"/>
<circle cx="330.5" cy="278.0" r="0.75" fill="#f0c090" fill-opacity="0.2"/>
<circle cx="318.7" cy="274.8" r="0.75" fill="#f0c090" fill-opacity="0.2"/>
<circle cx="321.1" cy="262.8" r="0.75" fill="#e8b090" fill-opacity="0.2"/>
<circle cx="321.5" cy="273.4" r="0.75" fill="#e8b090" fill-opacity="0.2"/>
<circle cx="327.3" cy="272.1" r="0.75" fill="#f0a070" fill-opacity="0.2"/>
<circle cx="330.1" cy="264.3" r="0.75" fill="#f0a070" fill-opacity="0.2"/>
<circle cx="326.3" cy="278.1" r="0.75" fill="#e8b090" fill-opacity="0.2"/>
<circle cx="324.7" cy="274.8" r="0.75" fill="#f0a070" fill-opacity="0.2"/>
<circle cx="321.0" cy="269.6" r="0.75" fill="#f0a070" fill-opacity="0.2"/>
<circle cx="321.9" cy="270.1" r="0.75" fill="#f0c090" fill-opacity="0.2"/>
<circle cx="324.6" cy="266.0" r="0.75" fill="#e8b090" fill-opacity="0.2"/>
<circle cx="327.5" cy="277.0" r="0.75" fill="#f0c090" fill-opacity="0.2"/>
<circle cx="315.4" cy="268.4" r="0.75" fill="#f0c090" fill-opacity="0.2"/>
<circle cx="325.6" cy="268.3" r="0.75" fill="#f0a070" fill-opacity="0.2"/>
<circle cx="326.0" cy="278.7" r="0.75" fill="#e8b090" fill-opacity="0.2"/>
<circle cx="324.6" cy="273.6" r="0.75" fill="#f0a070" fill-opacity="0.2"/>
<circle cx="321.9" cy="269.4" r="0.75" fill="#f0c090" fill-opacity="0.2"/>
<circle cx="326.6" cy="266.9" r="0.75" fill="#f0a070" fill-opacity="0.2"/>
<circle cx="321.5" cy="270.1" r="0.75" fill="#f0c090" fill-opacity="0.2"/>
<circle cx="315.0" cy="282.1" r="0.75" fill="#f0a070" fill-opacity="0.2"/>
<circle cx="332.2" cy="274.1" r="0.75" fill="#f0c090" fill-opacity="0.2"/>
<circle cx="323.5" cy="269.9" r="0.75" fill="#e8b090" fill-opacity="0.2"/>
<circle cx="312.7" cy="271.3" r="0.75" fill="#f0c090" fill-opacity="0.2"/>
<circle cx="328.6" cy="275.9" r="0.75" fill="#e8b090" fill-opacity="0.2"/>
<circle cx="325.0" cy="271.1" r="0.75" fill="#f0a070" fill-opacity="0.2"/>
<circle cx="315.7" cy="275.6" r="0.75" fill="#f0a070" fill-opacity="0.2"/>
<circle cx="321.7" cy="272.3" r="0.75" fill="#e8b090" fill-opacity="0.2"/>
<circle cx="326.3" cy="274.1" r="0.75" fill="#f0c090" fill-opacity="0.2"/>
<circle cx="327.4" cy="274.3" r="0.75" fill="#e8b090" fill-opacity="0.2"/>
<circle cx="330.6" cy="275.3" r="0.75" fill="#f0c090" fill-opacity="0.2"/>
<circle cx="322.3" cy="265.7" r="0.75" fill="#f0c090" fill-opacity="0.2"/>
<circle cx="322.7" cy="265.2" r="0.75" fill="#f0a070" fill-opacity="0.2"/>
<circle cx="330.2" cy="264.6" r="0.75" fill="#e8b090" fill-opacity="0.2"/>
<circle cx="327.7" cy="272.9" r="0.75" fill="#f0a070" fill-opacity="0.2"/>
<circle cx="331.7" cy="272.4" r="0.75" fill="#f0c090" fill-opacity="0.2"/>
<circle cx="321.5" cy="268.5" r="0.75" fill="#f0c090" fill-opacity="0.2"/>
<circle cx="325.3" cy="269.6" r="0.75" fill="#f0c090" fill-opacity="0.2"/>
<circle cx="324.4" cy="279.1" r="0.75" fill="#e8b090" fill-opacity="0.2"/>
<circle cx="322.1" cy="270.9" r="0.75" fill="#f0c090" fill-opacity="0.2"/>
<circle cx="330.9" cy="269.1" r="0.75" fill="#f0a070" fill-opacity="0.2"/>
<circle cx="322.5" cy="265.6" r="0.75" fill="#f0a070" fill-opacity="0.2"/>
<circle cx="315.5" cy="275.5" r="0.75" fill="#f0a070" fill-opacity="0.2"/>
<circle cx="319.8" cy="273.6" r="0.75" fill="#f0a070" fill-opacity="0.2"/>
<circle cx="324.2" cy="273.0" r="0.75" fill="#f0c090" fill-opacity="0.2"/>
<circle cx="321.5" cy="274.9" r="0.75" fill="#e8b090" fill-opacity="0.2"/>
<circle cx="314.0" cy="267.5" r="0.75" fill="#f0c090" fill-opacity="0.2"/>
<circle cx="327.7" cy="272.0" r="0.75" fill="#f0c090" fill-opacity="0.2"/>
<circle cx="327.0" cy="267.6" r="0.75" fill="#f0a070" fill-opacity="0.2"/>
<circle cx="321.8" cy="272.9" r="0.75" fill="#f0a070" fill-opacity="0.2"/>
<circle cx="328.6" cy="271.8" r="0.75" fill="#f0c090" fill-opacity="0.2"/>
<circle cx="325.5" cy="262.2" r="0.75" fill="#e8b090" fill-opacity="0.2"/>
<circle cx="323.6" cy="279.4" r="0.75" fill="#f0c090" fill-opacity="0.2"/>
<circle cx="324.4" cy="266.8" r="0.75" fill="#f0a070" fill-opacity="0.2"/>
<circle cx="311.1" cy="266.7" r="0.75" fill="#f0a070" fill-opacity="0.2"/>
<circle cx="327.1" cy="277.1" r="0.75" fill="#f0a070" fill-opacity="0.2"/>
<circle cx="328.5" cy="263.2" r="0.75" fill="#f0c090" fill-opacity="0.2"/>
<circle cx="324.9" cy="271.2" r="0.75" fill="#f0c090" fill-opacity="0.2"/>
<circle cx="313.7" cy="270.2" r="0.75" fill="#f0c090" fill-opacity="0.2"/>
<circle cx="326.4" cy="275.5" r="0.75" fill="#e8b090" fill-opacity="0.2"/>
<circle cx="321.0" cy="282.1" r="0.75" fill="#f0c090" fill-opacity="0.2"/>
<circle cx="328.8" cy="275.4" r="0.75" fill="#f0a070" fill-opacity="0.2"/>
<circle cx="316.1" cy="261.5" r="0.75" fill="#f0c090" fill-opacity="0.2"/>
<circle cx="327.0" cy="275.7" r="0.75" fill="#f0a070" fill-opacity="0.2"/>
<circle cx="326.5" cy="264.5" r="0.75" fill="#e8b090" fill-opacity="0.2"/>
<circle cx="316.5" cy="276.0" r="0.75" fill="#f0c090" fill-opacity="0.2"/>
<circle cx="326.9" cy="274.2" r="0.75" fill="#f0c090" fill-opacity="0.2"/>
<circle cx="337.0" cy="269.7" r="0.75" fill="#e8b090" fill-opacity="0.2"/>
<circle cx="319.7" cy="278.8" r="0.75" fill="#f0c090" fill-opacity="0.2"/>
<circle cx="318.9" cy="266.6" r="0.75" fill="#e8b090" fill-opacity="0.2"/>
<circle cx="315.6" cy="279.5" r="0.75" fill="#f0a070" fill-opacity="0.2"/>
<circle cx="323.1" cy="269.8" r="0.75" fill="#f0c090" fill-opacity="0.2"/>
<circle cx="324.7" cy="286.0" r="0.75" fill="#e8b090" fill-opacity="0.2"/>
<circle cx="325.2" cy="273.7" r="0.75" fill="#f0c090" fill-opacity="0.2"/>
<circle cx="327.3" cy="268.0" r="0.75" fill="#f0a070" fill-opacity="0.2"/>
<circle cx="316.8" cy="276.6" r="0.75" fill="#f0a070" fill-opacity="0.2"/>
<circle cx="324.9" cy="270.9" r="0.75" fill="#e8b090" fill-opacity="0.2"/>
<circle cx="326.4" cy="265.8" r="0.75" fill="#f0c090" fill-opacity="0.2"/>
<circle cx="317.9" cy="276.3" r="0.75" fill="#e8b090" fill-opacity="0.2"/>
<circle cx="325.3" cy="268.6" r="0.75" fill="#f0c090" fill-opacity="0.2"/>
<circle cx="328.1" cy="272.9" r="0.75" fill="#f0a070" fill-opacity="0.2"/>
<circle cx="325.2" cy="266.1" r="0.75" fill="#e8b090" fill-opacity="0.2"/>
<circle cx="319.8" cy="271.8" r="0.75" fill="#f0a070" fill-opacity="0.2"/>
<circle cx="324.3" cy="276.8" r="0.75" fill="#e8b090" fill-opacity="0.2"/>
<circle cx="326.9" cy="272.6" r="0.75" fill="#e8b090" fill-opacity="0.2"/>
<circle cx="329.6" cy="272.7" r="0.75" fill="#e8b090" fill-opacity="0.2"/>
<circle cx="323.2" cy="273.8" r="0.75" fill="#f0c090" fill-opacity="0.2"/>
<circle cx="318.5" cy="271.4" r="0.75" fill="#f0c090" fill-opacity="0.2"/>
<circle cx="329.9" cy="276.2" r="0.75" fill="#f0c090" fill-opacity="0.2"/>
<circle cx="321.8" cy="274.6" r="0.75" fill="#f0a070" fill-opacity="0.2"/>
<circle cx="328.8" cy="274.6" r="0.75" fill="#e8b090" fill-opacity="0.2"/>
<circle cx="323.5" cy="261.9" r="0.75" fill="#f0c090" fill-opacity="0.2"/>
<circle cx="323.0" cy="275.8" r="0.75" fill="#f0c090" fill-opacity="0.2"/>
<circle cx="322.6" cy="258.2" r="0.75" fill="#f0c090" fill-opacity="0.2"/>
<circle cx="326.6" cy="256.8" r="0.75" fill="#f0c090" fill-opacity="0.2"/>
<circle cx="327.0" cy="268.0" r="0.75" fill="#f0c090" fill-opacity="0.2"/>
<circle cx="334.6" cy="269.9" r="0.75" fill="#f0c090" fill-opacity="0.2"/>
<circle cx="321.8" cy="271.0" r="0.75" fill="#e8b090" fill-opacity="0.2"/>
<circle cx="327.6" cy="273.9" r="0.75" fill="#f0a070" fill-opacity="0.2"/>
<circle cx="325.8" cy="268.0" r="0.75" fill="#f0c090" fill-opacity="0.2"/>
<circle cx="319.3" cy="263.6" r="0.75" fill="#f0c090" fill-opacity="0.2"/>
<circle cx="327.6" cy="266.2" r="0.75" fill="#e8b090" fill-opacity="0.2"/>
<circle cx="330.9" cy="270.9" r="0.75" fill="#f0c090" fill-opacity="0.2"/>
<circle cx="327.6" cy="271.3" r="0.75" fill="#f0c090" fill-opacity="0.2"/>
<circle cx="319.8" cy="260.1" r="0.75" fill="#e8b090" fill-opacity="0.2"/>
<circle cx="320.4" cy="268.2" r="0.75" fill="#f0c090" fill-opacity="0.2"/>
</g>
<g filter="url(#bl)">
<circle cx="317.6" cy="288.0" r="0.55" fill="#c0a0b0" fill-opacity="0.25"/>
<circle cx="313.0" cy="293.4" r="0.55" fill="#d0b0a0" fill-opacity="0.2"/>
<circle cx="308.2" cy="292.6" r="0.55" fill="#c0a0b0" fill-opacity="0.25"/>
<circle cx="309.9" cy="293.8" r="0.55" fill="#d0b0a0" fill-opacity="0.2"/>
<circle cx="311.3" cy="291.8" r="0.55" fill="#d0b0a0" fill-opacity="0.2"/>
<circle cx="306.3" cy="295.6" r="0.55" fill="#d0b0a0" fill-opacity="0.2"/>
<circle cx="309.2" cy="294.2" r="0.55" fill="#c0a0b0" fill-opacity="0.25"/>
<circle cx="305.7" cy="289.5" r="0.55" fill="#c0a0b0" fill-opacity="0.25"/>
<circle cx="313.3" cy="292.2" r="0.55" fill="#d0b0a0" fill-opacity="0.2"/>
<circle cx="312.8" cy="292.3" r="0.55" fill="#d0b0a0" fill-opacity="0.2"/>
<circle cx="304.2" cy="289.3" r="0.55" fill="#c0a0b0" fill-opacity="0.25"/>
<circle cx="309.1" cy="287.1" r="0.55" fill="#d0b0a0" fill-opacity="0.2"/>
<circle cx="309.1" cy="290.6" r="0.55" fill="#c0a0b0" fill-opacity="0.25"/>
<circle cx="304.9" cy="291.6" r="0.55" fill="#c0a0b0" fill-opacity="0.25"/>
<circle cx="308.7" cy="292.1" r="0.55" fill="#d0b0a0" fill-opacity="0.2"/>
<circle cx="312.7" cy="293.9" r="0.55" fill="#d0b0a0" fill-opacity="0.2"/>
<circle cx="311.3" cy="289.4" r="0.55" fill="#d0b0a0" fill-opacity="0.2"/>
<circle cx="313.5" cy="289.7" r="0.55" fill="#d0b0a0" fill-opacity="0.2"/>
<circle cx="307.4" cy="291.9" r="0.55" fill="#c0a0b0" fill-opacity="0.25"/>
<circle cx="308.7" cy="291.5" r="0.55" fill="#d0b0a0" fill-opacity="0.2"/>
<circle cx="310.3" cy="298.6" r="0.55" fill="#c0a0b0" fill-opacity="0.25"/>
<circle cx="312.0" cy="292.1" r="0.55" fill="#c0a0b0" fill-opacity="0.25"/>
<circle cx="313.4" cy="294.6" r="0.55" fill="#c0a0b0" fill-opacity="0.25"/>
<circle cx="311.3" cy="295.7" r="0.55" fill="#c0a0b0" fill-opacity="0.25"/>
<circle cx="316.2" cy="291.7" r="0.55" fill="#c0a0b0" fill-opacity="0.25"/>
<circle cx="299.9" cy="289.8" r="0.55" fill="#c0a0b0" fill-opacity="0.25"/>
<circle cx="304.6" cy="303.0" r="0.55" fill="#d0b0a0" fill-opacity="0.2"/>
<circle cx="309.0" cy="293.1" r="0.55" fill="#d0b0a0" fill-opacity="0.2"/>
<circle cx="307.7" cy="293.6" r="0.55" fill="#d0b0a0" fill-opacity="0.2"/>
<circle cx="312.3" cy="292.0" r="0.55" fill="#c0a0b0" fill-opacity="0.25"/>
<circle cx="305.2" cy="290.7" r="0.55" fill="#c0a0b0" fill-opacity="0.25"/>
<circle cx="309.9" cy="297.7" r="0.55" fill="#c0a0b0" fill-opacity="0.25"/>
<circle cx="307.0" cy="294.4" r="0.55" fill="#d0b0a0" fill-opacity="0.2"/>
<circle cx="312.9" cy="284.2" r="0.55" fill="#d0b0a0" fill-opacity="0.2"/>
<circle cx="318.1" cy="297.8" r="0.55" fill="#c0a0b0" fill-opacity="0.25"/>
<circle cx="306.5" cy="291.7" r="0.55" fill="#d0b0a0" fill-opacity="0.2"/>
<circle cx="310.6" cy="287.3" r="0.55" fill="#c0a0b0" fill-opacity="0.25"/>
<circle cx="310.8" cy="291.1" r="0.55" fill="#c0a0b0" fill-opacity="0.25"/>
<circle cx="307.8" cy="298.0" r="0.55" fill="#d0b0a0" fill-opacity="0.2"/>
<circle cx="310.1" cy="304.1" r="0.55" fill="#c0a0b0" fill-opacity="0.25"/>
<circle cx="307.2" cy="298.9" r="0.55" fill="#c0a0b0" fill-opacity="0.25"/>
<circle cx="310.4" cy="298.7" r="0.55" fill="#d0b0a0" fill-opacity="0.2"/>
<circle cx="313.2" cy="280.2" r="0.55" fill="#d0b0a0" fill-opacity="0.2"/>
<circle cx="313.4" cy="293.1" r="0.55" fill="#c0a0b0" fill-opacity="0.25"/>
<circle cx="310.0" cy="288.4" r="0.55" fill="#c0a0b0" fill-opacity="0.25"/>
<circle cx="311.8" cy="297.4" r="0.55" fill="#d0b0a0" fill-opacity="0.2"/>
<circle cx="313.5" cy="291.7" r="0.55" fill="#d0b0a0" fill-opacity="0.2"/>
<circle cx="304.7" cy="293.9" r="0.55" fill="#c0a0b0" fill-opacity="0.25"/>
<circle cx="307.1" cy="292.4" r="0.55" fill="#c0a0b0" fill-opacity="0.25"/>
<circle cx="310.2" cy="294.6" r="0.55" fill="#d0b0a0" fill-opacity="0.2"/>
<circle cx="309.5" cy="293.6" r="0.55" fill="#d0b0a0" fill-opacity="0.2"/>
<circle cx="307.7" cy="290.7" r="0.55" fill="#d0b0a0" fill-opacity="0.2"/>
<circle cx="304.7" cy="297.5" r="0.55" fill="#d0b0a0" fill-opacity="0.2"/>
<circle cx="313.1" cy="292.0" r="0.55" fill="#d0b0a0" fill-opacity="0.2"/>
<circle cx="317.0" cy="295.5" r="0.55" fill="#d0b0a0" fill-opacity="0.2"/>
<circle cx="310.3" cy="283.7" r="0.55" fill="#d0b0a0" fill-opacity="0.2"/>
<circle cx="308.8" cy="288.9" r="0.55" fill="#d0b0a0" fill-opacity="0.2"/>
<circle cx="312.0" cy="292.8" r="0.55" fill="#d0b0a0" fill-opacity="0.2"/>
<circle cx="313.0" cy="296.2" r="0.55" fill="#c0a0b0" fill-opacity="0.25"/>
<circle cx="309.0" cy="300.6" r="0.55" fill="#c0a0b0" fill-opacity="0.25"/>
</g>
<rect x="316.5" y="258.3" width="31.5" height="27.2" fill="none" stroke="#8c8cbc" stroke-width="0.85"/>
<text stroke="#222" stroke-width="0.22" x="332.3" y="257.0" font-size="7.5" text-anchor="middle" fill="#222" textLength="21.2" lengthAdjust="spacingAndGlyphs">28.5%</text>
<line x1="191.8" y1="284.3" x2="191.80" y2="247.10" stroke="#111" stroke-width="0.8"/>
<path d="M191.80 243.60 L193.30 247.10 L190.30 247.10 Z" fill="#111"/>
<text stroke="#222" stroke-width="0.132" transform="translate(194.5,297.5) rotate(-90)" font-size="8" font-weight="bold" text-anchor="middle" fill="#222" textLength="23" lengthAdjust="spacingAndGlyphs">CD45RO</text>
<text stroke="#222" stroke-width="0.132" transform="translate(181.7,330) rotate(-90)" font-size="7.4" font-weight="bold" text-anchor="middle" fill="#222" textLength="31" lengthAdjust="spacingAndGlyphs">CD8 T cells</text>
<text stroke="#222" stroke-width="0.132" x="215.7" y="321.9" font-size="7.4" text-anchor="middle" fill="#222" font-weight="bold" textLength="33" lengthAdjust="spacingAndGlyphs">Granzyme B</text>
<line x1="235.8" y1="319.3" x2="351.60" y2="319.30" stroke="#111" stroke-width="0.9"/>
<path d="M355.20 319.30 L351.60 321.00 L351.60 317.60 Z" fill="#111"/>
<text stroke="#222" stroke-width="0.22" x="236.8" y="340.2" font-size="7.7" text-anchor="middle" fill="#222" textLength="77" lengthAdjust="spacingAndGlyphs">Post-Treatment PBMC</text>
<text stroke="#222" stroke-width="0.22" x="236.8" y="349.8" font-size="7.7" text-anchor="middle" fill="#222" textLength="62.2" lengthAdjust="spacingAndGlyphs">+ Activated Tumor</text>
<rect x="202.1" y="355.4" width="69.00000000000003" height="69.40000000000003" fill="#fff" stroke="#c8c8c8" stroke-width="0.6"/>
<line x1="202.1" y1="357.4" x2="202.1" y2="424.8" stroke="#555" stroke-width="0.8"/>
<line x1="202.1" y1="424.8" x2="271.1" y2="424.8" stroke="#555" stroke-width="0.8"/>
<line x1="200.9" y1="422.8" x2="202.1" y2="422.8" stroke="#555" stroke-width="0.5"/>
<line x1="200.9" y1="417.8" x2="202.1" y2="417.8" stroke="#555" stroke-width="0.5"/>
<line x1="200.9" y1="412.7" x2="202.1" y2="412.7" stroke="#555" stroke-width="0.5"/>
<line x1="200.9" y1="407.7" x2="202.1" y2="407.7" stroke="#555" stroke-width="0.5"/>
<line x1="200.9" y1="402.7" x2="202.1" y2="402.7" stroke="#555" stroke-width="0.5"/>
<line x1="200.9" y1="397.6" x2="202.1" y2="397.6" stroke="#555" stroke-width="0.5"/>
<line x1="200.9" y1="392.6" x2="202.1" y2="392.6" stroke="#555" stroke-width="0.5"/>
<line x1="200.9" y1="387.6" x2="202.1" y2="387.6" stroke="#555" stroke-width="0.5"/>
<line x1="200.9" y1="382.6" x2="202.1" y2="382.6" stroke="#555" stroke-width="0.5"/>
<line x1="200.9" y1="377.5" x2="202.1" y2="377.5" stroke="#555" stroke-width="0.5"/>
<line x1="200.9" y1="372.5" x2="202.1" y2="372.5" stroke="#555" stroke-width="0.5"/>
<line x1="200.9" y1="367.5" x2="202.1" y2="367.5" stroke="#555" stroke-width="0.5"/>
<line x1="200.9" y1="362.4" x2="202.1" y2="362.4" stroke="#555" stroke-width="0.5"/>
<line x1="200.9" y1="357.4" x2="202.1" y2="357.4" stroke="#555" stroke-width="0.5"/>
<line x1="204.1" y1="424.8" x2="204.1" y2="426.0" stroke="#555" stroke-width="0.5"/>
<line x1="209.1" y1="424.8" x2="209.1" y2="426.0" stroke="#555" stroke-width="0.5"/>
<line x1="214.1" y1="424.8" x2="214.1" y2="426.0" stroke="#555" stroke-width="0.5"/>
<line x1="219.1" y1="424.8" x2="219.1" y2="426.0" stroke="#555" stroke-width="0.5"/>
<line x1="224.1" y1="424.8" x2="224.1" y2="426.0" stroke="#555" stroke-width="0.5"/>
<line x1="229.1" y1="424.8" x2="229.1" y2="426.0" stroke="#555" stroke-width="0.5"/>
<line x1="234.1" y1="424.8" x2="234.1" y2="426.0" stroke="#555" stroke-width="0.5"/>
<line x1="239.1" y1="424.8" x2="239.1" y2="426.0" stroke="#555" stroke-width="0.5"/>
<line x1="244.1" y1="424.8" x2="244.1" y2="426.0" stroke="#555" stroke-width="0.5"/>
<line x1="249.1" y1="424.8" x2="249.1" y2="426.0" stroke="#555" stroke-width="0.5"/>
<line x1="254.1" y1="424.8" x2="254.1" y2="426.0" stroke="#555" stroke-width="0.5"/>
<line x1="259.1" y1="424.8" x2="259.1" y2="426.0" stroke="#555" stroke-width="0.5"/>
<line x1="264.1" y1="424.8" x2="264.1" y2="426.0" stroke="#555" stroke-width="0.5"/>
<line x1="269.1" y1="424.8" x2="269.1" y2="426.0" stroke="#555" stroke-width="0.5"/>
<line x1="201.2" y1="410.8" x2="201.2" y2="414.3" stroke="#222" stroke-width="1.3"/>
<line x1="205.1" y1="425.5" x2="211.6" y2="425.5" stroke="#222" stroke-width="1.2"/>
<g filter="url(#bl)">
<circle cx="221.4" cy="389.8" r="0.55" fill="#b8a8b0" fill-opacity="0.45"/>
<circle cx="220.7" cy="391.2" r="0.55" fill="#8a7a80" fill-opacity="0.5"/>
<circle cx="216.9" cy="387.0" r="0.55" fill="#a09098" fill-opacity="0.45"/>
<circle cx="222.5" cy="399.0" r="0.55" fill="#8a7a80" fill-opacity="0.5"/>
<circle cx="222.1" cy="396.2" r="0.55" fill="#b8a8b0" fill-opacity="0.45"/>
<circle cx="218.8" cy="388.7" r="0.55" fill="#8a7a80" fill-opacity="0.5"/>
<circle cx="223.1" cy="397.8" r="0.55" fill="#b8a8b0" fill-opacity="0.45"/>
<circle cx="219.5" cy="393.6" r="0.55" fill="#b8a8b0" fill-opacity="0.45"/>
<circle cx="216.7" cy="403.0" r="0.55" fill="#a09098" fill-opacity="0.45"/>
<circle cx="219.9" cy="382.1" r="0.55" fill="#8a7a80" fill-opacity="0.5"/>
<circle cx="224.3" cy="385.6" r="0.55" fill="#6a5a6a" fill-opacity="0.45"/>
<circle cx="221.1" cy="392.5" r="0.55" fill="#b8a8b0" fill-opacity="0.45"/>
<circle cx="223.8" cy="391.7" r="0.55" fill="#b8a8b0" fill-opacity="0.45"/>
<circle cx="219.4" cy="385.4" r="0.55" fill="#b8a8b0" fill-opacity="0.45"/>
<circle cx="220.1" cy="384.8" r="0.55" fill="#a09098" fill-opacity="0.45"/>
<circle cx="218.6" cy="390.1" r="0.55" fill="#6a5a6a" fill-opacity="0.45"/>
<circle cx="219.2" cy="395.7" r="0.55" fill="#6a5a6a" fill-opacity="0.45"/>
<circle cx="226.1" cy="384.8" r="0.55" fill="#8a7a80" fill-opacity="0.5"/>
<circle cx="220.8" cy="383.5" r="0.55" fill="#a09098" fill-opacity="0.45"/>
<circle cx="215.5" cy="383.3" r="0.55" fill="#6a5a6a" fill-opacity="0.45"/>
<circle cx="221.5" cy="392.1" r="0.55" fill="#6a5a6a" fill-opacity="0.45"/>
<circle cx="220.0" cy="386.5" r="0.55" fill="#b8a8b0" fill-opacity="0.45"/>
<circle cx="219.9" cy="395.5" r="0.55" fill="#a09098" fill-opacity="0.45"/>
<circle cx="221.4" cy="392.7" r="0.55" fill="#6a5a6a" fill-opacity="0.45"/>
<circle cx="216.7" cy="393.8" r="0.55" fill="#8a7a80" fill-opacity="0.5"/>
<circle cx="219.8" cy="404.0" r="0.55" fill="#8a7a80" fill-opacity="0.5"/>
<circle cx="221.7" cy="388.3" r="0.55" fill="#a09098" fill-opacity="0.45"/>
<circle cx="219.3" cy="375.7" r="0.55" fill="#b8a8b0" fill-opacity="0.45"/>
<circle cx="223.1" cy="393.0" r="0.55" fill="#6a5a6a" fill-opacity="0.45"/>
<circle cx="224.3" cy="373.9" r="0.55" fill="#b8a8b0" fill-opacity="0.45"/>
<circle cx="219.9" cy="388.0" r="0.55" fill="#8a7a80" fill-opacity="0.5"/>
<circle cx="216.4" cy="390.7" r="0.55" fill="#b8a8b0" fill-opacity="0.45"/>
<circle cx="224.0" cy="387.4" r="0.55" fill="#6a5a6a" fill-opacity="0.45"/>
<circle cx="216.5" cy="390.3" r="0.55" fill="#b8a8b0" fill-opacity="0.45"/>
<circle cx="220.1" cy="390.4" r="0.55" fill="#b8a8b0" fill-opacity="0.45"/>
<circle cx="218.2" cy="385.6" r="0.55" fill="#8a7a80" fill-opacity="0.5"/>
<circle cx="222.2" cy="396.4" r="0.55" fill="#8a7a80" fill-opacity="0.5"/>
<circle cx="224.4" cy="382.5" r="0.55" fill="#a09098" fill-opacity="0.45"/>
<circle cx="224.5" cy="384.7" r="0.55" fill="#a09098" fill-opacity="0.45"/>
<circle cx="217.6" cy="386.4" r="0.55" fill="#b8a8b0" fill-opacity="0.45"/>
<circle cx="220.5" cy="394.2" r="0.55" fill="#b8a8b0" fill-opacity="0.45"/>
<circle cx="218.8" cy="401.9" r="0.55" fill="#6a5a6a" fill-opacity="0.45"/>
<circle cx="221.1" cy="392.3" r="0.55" fill="#6a5a6a" fill-opacity="0.45"/>
<circle cx="220.1" cy="372.3" r="0.55" fill="#b8a8b0" fill-opacity="0.45"/>
<circle cx="219.1" cy="387.4" r="0.55" fill="#8a7a80" fill-opacity="0.5"/>
<circle cx="220.1" cy="384.6" r="0.55" fill="#a09098" fill-opacity="0.45"/>
<circle cx="218.9" cy="393.7" r="0.55" fill="#b8a8b0" fill-opacity="0.45"/>
<circle cx="221.8" cy="385.6" r="0.55" fill="#a09098" fill-opacity="0.45"/>
<circle cx="221.8" cy="386.7" r="0.55" fill="#8a7a80" fill-opacity="0.5"/>
<circle cx="223.3" cy="391.5" r="0.55" fill="#6a5a6a" fill-opacity="0.45"/>
<circle cx="220.2" cy="394.3" r="0.55" fill="#6a5a6a" fill-opacity="0.45"/>
<circle cx="220.4" cy="391.3" r="0.55" fill="#b8a8b0" fill-opacity="0.45"/>
<circle cx="219.2" cy="392.7" r="0.55" fill="#a09098" fill-opacity="0.45"/>
<circle cx="219.5" cy="394.9" r="0.55" fill="#6a5a6a" fill-opacity="0.45"/>
<circle cx="221.5" cy="392.8" r="0.55" fill="#a09098" fill-opacity="0.45"/>
<circle cx="222.8" cy="382.2" r="0.55" fill="#b8a8b0" fill-opacity="0.45"/>
<circle cx="217.2" cy="392.6" r="0.55" fill="#a09098" fill-opacity="0.45"/>
<circle cx="219.6" cy="390.8" r="0.55" fill="#a09098" fill-opacity="0.45"/>
<circle cx="219.6" cy="397.3" r="0.55" fill="#8a7a80" fill-opacity="0.5"/>
<circle cx="222.1" cy="388.8" r="0.55" fill="#6a5a6a" fill-opacity="0.45"/>
<circle cx="220.4" cy="383.4" r="0.55" fill="#a09098" fill-opacity="0.45"/>
<circle cx="218.3" cy="386.0" r="0.55" fill="#a09098" fill-opacity="0.45"/>
<circle cx="220.4" cy="393.5" r="0.55" fill="#6a5a6a" fill-opacity="0.45"/>
<circle cx="222.2" cy="380.8" r="0.55" fill="#a09098" fill-opacity="0.45"/>
<circle cx="225.0" cy="391.5" r="0.55" fill="#b8a8b0" fill-opacity="0.45"/>
<circle cx="223.4" cy="385.6" r="0.55" fill="#6a5a6a" fill-opacity="0.45"/>
<circle cx="219.5" cy="396.2" r="0.55" fill="#a09098" fill-opacity="0.45"/>
<circle cx="218.8" cy="387.8" r="0.55" fill="#b8a8b0" fill-opacity="0.45"/>
<circle cx="223.0" cy="392.3" r="0.55" fill="#a09098" fill-opacity="0.45"/>
<circle cx="225.5" cy="394.8" r="0.55" fill="#6a5a6a" fill-opacity="0.45"/>
<circle cx="220.1" cy="392.9" r="0.55" fill="#8a7a80" fill-opacity="0.5"/>
<circle cx="218.6" cy="399.8" r="0.55" fill="#b8a8b0" fill-opacity="0.45"/>
<circle cx="220.7" cy="391.2" r="0.55" fill="#6a5a6a" fill-opacity="0.45"/>
<circle cx="221.9" cy="373.5" r="0.55" fill="#a09098" fill-opacity="0.45"/>
<circle cx="218.0" cy="387.6" r="0.55" fill="#a09098" fill-opacity="0.45"/>
<circle cx="222.6" cy="393.4" r="0.55" fill="#b8a8b0" fill-opacity="0.45"/>
<circle cx="218.0" cy="392.5" r="0.55" fill="#b8a8b0" fill-opacity="0.45"/>
<circle cx="220.2" cy="389.0" r="0.55" fill="#6a5a6a" fill-opacity="0.45"/>
<circle cx="220.9" cy="412.1" r="0.55" fill="#b8a8b0" fill-opacity="0.45"/>
<circle cx="220.8" cy="387.6" r="0.55" fill="#b8a8b0" fill-opacity="0.45"/>
<circle cx="221.9" cy="386.1" r="0.55" fill="#b8a8b0" fill-opacity="0.45"/>
<circle cx="220.8" cy="394.3" r="0.55" fill="#8a7a80" fill-opacity="0.5"/>
<circle cx="218.6" cy="376.9" r="0.55" fill="#8a7a80" fill-opacity="0.5"/>
<circle cx="222.0" cy="384.5" r="0.55" fill="#b8a8b0" fill-opacity="0.45"/>
<circle cx="224.0" cy="403.6" r="0.55" fill="#6a5a6a" fill-opacity="0.45"/>
<circle cx="217.8" cy="393.5" r="0.55" fill="#8a7a80" fill-opacity="0.5"/>
<circle cx="219.2" cy="390.6" r="0.55" fill="#6a5a6a" fill-opacity="0.45"/>
<circle cx="223.4" cy="379.0" r="0.55" fill="#a09098" fill-opacity="0.45"/>
<circle cx="218.8" cy="383.1" r="0.55" fill="#6a5a6a" fill-opacity="0.45"/>
<circle cx="217.3" cy="404.8" r="0.55" fill="#b8a8b0" fill-opacity="0.45"/>
<circle cx="220.9" cy="376.0" r="0.55" fill="#b8a8b0" fill-opacity="0.45"/>
<circle cx="221.3" cy="382.7" r="0.55" fill="#8a7a80" fill-opacity="0.5"/>
<circle cx="220.9" cy="394.2" r="0.55" fill="#6a5a6a" fill-opacity="0.45"/>
<circle cx="222.5" cy="372.3" r="0.55" fill="#8a7a80" fill-opacity="0.5"/>
<circle cx="220.3" cy="386.1" r="0.55" fill="#6a5a6a" fill-opacity="0.45"/>
<circle cx="219.9" cy="402.0" r="0.55" fill="#b8a8b0" fill-opacity="0.45"/>
<circle cx="221.2" cy="397.6" r="0.55" fill="#6a5a6a" fill-opacity="0.45"/>
<circle cx="221.1" cy="380.9" r="0.55" fill="#b8a8b0" fill-opacity="0.45"/>
<circle cx="219.1" cy="390.1" r="0.55" fill="#b8a8b0" fill-opacity="0.45"/>
<circle cx="219.5" cy="389.8" r="0.55" fill="#6a5a6a" fill-opacity="0.45"/>
<circle cx="218.6" cy="402.3" r="0.55" fill="#8a7a80" fill-opacity="0.5"/>
<circle cx="220.5" cy="385.9" r="0.55" fill="#a09098" fill-opacity="0.45"/>
<circle cx="217.5" cy="386.4" r="0.55" fill="#a09098" fill-opacity="0.45"/>
<circle cx="220.1" cy="398.5" r="0.55" fill="#b8a8b0" fill-opacity="0.45"/>
<circle cx="218.0" cy="384.5" r="0.55" fill="#6a5a6a" fill-opacity="0.45"/>
<circle cx="220.3" cy="379.1" r="0.55" fill="#a09098" fill-opacity="0.45"/>
<circle cx="223.8" cy="404.8" r="0.55" fill="#b8a8b0" fill-opacity="0.45"/>
<circle cx="223.7" cy="386.7" r="0.55" fill="#a09098" fill-opacity="0.45"/>
<circle cx="215.2" cy="397.9" r="0.55" fill="#a09098" fill-opacity="0.45"/>
<circle cx="219.2" cy="390.4" r="0.55" fill="#6a5a6a" fill-opacity="0.45"/>
<circle cx="221.1" cy="381.6" r="0.55" fill="#a09098" fill-opacity="0.45"/>
<circle cx="221.2" cy="383.7" r="0.55" fill="#b8a8b0" fill-opacity="0.45"/>
<circle cx="217.7" cy="398.3" r="0.55" fill="#a09098" fill-opacity="0.45"/>
<circle cx="218.4" cy="390.1" r="0.55" fill="#a09098" fill-opacity="0.45"/>
<circle cx="219.4" cy="378.1" r="0.55" fill="#b8a8b0" fill-opacity="0.45"/>
<circle cx="217.8" cy="401.2" r="0.55" fill="#8a7a80" fill-opacity="0.5"/>
<circle cx="220.4" cy="373.8" r="0.55" fill="#6a5a6a" fill-opacity="0.45"/>
<circle cx="220.6" cy="387.1" r="0.55" fill="#8a7a80" fill-opacity="0.5"/>
<circle cx="221.9" cy="376.6" r="0.55" fill="#6a5a6a" fill-opacity="0.45"/>
<circle cx="218.8" cy="387.3" r="0.55" fill="#6a5a6a" fill-opacity="0.45"/>
<circle cx="218.7" cy="392.6" r="0.55" fill="#8a7a80" fill-opacity="0.5"/>
<circle cx="222.5" cy="387.8" r="0.55" fill="#8a7a80" fill-opacity="0.5"/>
<circle cx="222.4" cy="392.4" r="0.55" fill="#6a5a6a" fill-opacity="0.45"/>
<circle cx="220.6" cy="391.2" r="0.55" fill="#8a7a80" fill-opacity="0.5"/>
<circle cx="218.2" cy="387.6" r="0.55" fill="#6a5a6a" fill-opacity="0.45"/>
<circle cx="222.5" cy="380.9" r="0.55" fill="#8a7a80" fill-opacity="0.5"/>
<circle cx="219.5" cy="394.4" r="0.55" fill="#b8a8b0" fill-opacity="0.45"/>
<circle cx="222.1" cy="386.4" r="0.55" fill="#b8a8b0" fill-opacity="0.45"/>
<circle cx="214.1" cy="399.5" r="0.55" fill="#a09098" fill-opacity="0.45"/>
<circle cx="223.7" cy="387.9" r="0.55" fill="#a09098" fill-opacity="0.45"/>
<circle cx="222.8" cy="385.2" r="0.55" fill="#a09098" fill-opacity="0.45"/>
<circle cx="219.9" cy="379.8" r="0.55" fill="#8a7a80" fill-opacity="0.5"/>
<circle cx="221.7" cy="386.0" r="0.55" fill="#a09098" fill-opacity="0.45"/>
<circle cx="218.3" cy="389.9" r="0.55" fill="#a09098" fill-opacity="0.45"/>
<circle cx="219.5" cy="400.3" r="0.55" fill="#a09098" fill-opacity="0.45"/>
<circle cx="219.9" cy="396.2" r="0.55" fill="#6a5a6a" fill-opacity="0.45"/>
<circle cx="222.7" cy="387.9" r="0.55" fill="#b8a8b0" fill-opacity="0.45"/>
<circle cx="221.0" cy="396.6" r="0.55" fill="#8a7a80" fill-opacity="0.5"/>
<circle cx="223.0" cy="390.4" r="0.55" fill="#b8a8b0" fill-opacity="0.45"/>
<circle cx="218.0" cy="393.6" r="0.55" fill="#b8a8b0" fill-opacity="0.45"/>
<circle cx="217.6" cy="390.0" r="0.55" fill="#8a7a80" fill-opacity="0.5"/>
<circle cx="222.9" cy="389.5" r="0.55" fill="#8a7a80" fill-opacity="0.5"/>
<circle cx="225.5" cy="387.1" r="0.55" fill="#6a5a6a" fill-opacity="0.45"/>
<circle cx="220.3" cy="382.3" r="0.55" fill="#8a7a80" fill-opacity="0.5"/>
<circle cx="219.1" cy="390.7" r="0.55" fill="#a09098" fill-opacity="0.45"/>
<circle cx="217.7" cy="396.4" r="0.55" fill="#a09098" fill-opacity="0.45"/>
<circle cx="222.5" cy="397.1" r="0.55" fill="#6a5a6a" fill-opacity="0.45"/>
<circle cx="219.4" cy="394.2" r="0.55" fill="#6a5a6a" fill-opacity="0.45"/>
<circle cx="219.3" cy="380.0" r="0.55" fill="#8a7a80" fill-opacity="0.5"/>
<circle cx="222.5" cy="390.7" r="0.55" fill="#8a7a80" fill-opacity="0.5"/>
<circle cx="217.6" cy="391.5" r="0.55" fill="#b8a8b0" fill-opacity="0.45"/>
<circle cx="222.3" cy="395.2" r="0.55" fill="#b8a8b0" fill-opacity="0.45"/>
<circle cx="221.0" cy="372.9" r="0.55" fill="#a09098" fill-opacity="0.45"/>
<circle cx="222.2" cy="392.5" r="0.55" fill="#a09098" fill-opacity="0.45"/>
<circle cx="218.6" cy="385.2" r="0.55" fill="#a09098" fill-opacity="0.45"/>
<circle cx="221.5" cy="393.2" r="0.55" fill="#8a7a80" fill-opacity="0.5"/>
<circle cx="221.7" cy="391.6" r="0.55" fill="#8a7a80" fill-opacity="0.5"/>
<circle cx="219.5" cy="396.8" r="0.55" fill="#6a5a6a" fill-opacity="0.45"/>
<circle cx="220.9" cy="390.9" r="0.55" fill="#b8a8b0" fill-opacity="0.45"/>
<circle cx="219.6" cy="389.1" r="0.55" fill="#8a7a80" fill-opacity="0.5"/>
<circle cx="219.1" cy="387.8" r="0.55" fill="#8a7a80" fill-opacity="0.5"/>
<circle cx="219.4" cy="390.5" r="0.55" fill="#8a7a80" fill-opacity="0.5"/>
<circle cx="221.4" cy="391.2" r="0.55" fill="#b8a8b0" fill-opacity="0.45"/>
<circle cx="218.4" cy="401.4" r="0.55" fill="#6a5a6a" fill-opacity="0.45"/>
<circle cx="221.6" cy="390.8" r="0.55" fill="#b8a8b0" fill-opacity="0.45"/>
<circle cx="222.8" cy="377.1" r="0.55" fill="#b8a8b0" fill-opacity="0.45"/>
<circle cx="220.7" cy="397.5" r="0.55" fill="#a09098" fill-opacity="0.45"/>
<circle cx="217.4" cy="385.5" r="0.55" fill="#8a7a80" fill-opacity="0.5"/>
<circle cx="221.7" cy="379.3" r="0.55" fill="#6a5a6a" fill-opacity="0.45"/>
<circle cx="223.3" cy="389.3" r="0.55" fill="#a09098" fill-opacity="0.45"/>
<circle cx="219.4" cy="386.6" r="0.55" fill="#b8a8b0" fill-opacity="0.45"/>
<circle cx="222.8" cy="384.9" r="0.55" fill="#8a7a80" fill-opacity="0.5"/>
<circle cx="219.5" cy="382.8" r="0.55" fill="#6a5a6a" fill-opacity="0.45"/>
<circle cx="221.8" cy="392.2" r="0.55" fill="#6a5a6a" fill-opacity="0.45"/>
<circle cx="218.5" cy="388.4" r="0.55" fill="#b8a8b0" fill-opacity="0.45"/>
<circle cx="219.3" cy="389.4" r="0.55" fill="#8a7a80" fill-opacity="0.5"/>
<circle cx="220.4" cy="389.8" r="0.55" fill="#a09098" fill-opacity="0.45"/>
<circle cx="221.0" cy="384.5" r="0.55" fill="#b8a8b0" fill-opacity="0.45"/>
<circle cx="222.8" cy="398.8" r="0.55" fill="#6a5a6a" fill-opacity="0.45"/>
<circle cx="222.4" cy="378.6" r="0.55" fill="#6a5a6a" fill-opacity="0.45"/>
<circle cx="224.8" cy="391.3" r="0.55" fill="#6a5a6a" fill-opacity="0.45"/>
<circle cx="218.8" cy="393.1" r="0.55" fill="#6a5a6a" fill-opacity="0.45"/>
<circle cx="220.8" cy="395.6" r="0.55" fill="#8a7a80" fill-opacity="0.5"/>
<circle cx="219.2" cy="379.2" r="0.55" fill="#6a5a6a" fill-opacity="0.45"/>
<circle cx="222.3" cy="381.6" r="0.55" fill="#a09098" fill-opacity="0.45"/>
<circle cx="223.3" cy="385.6" r="0.55" fill="#a09098" fill-opacity="0.45"/>
<circle cx="217.0" cy="385.4" r="0.55" fill="#8a7a80" fill-opacity="0.5"/>
<circle cx="216.0" cy="387.6" r="0.55" fill="#6a5a6a" fill-opacity="0.45"/>
<circle cx="218.9" cy="386.4" r="0.55" fill="#6a5a6a" fill-opacity="0.45"/>
<circle cx="222.5" cy="387.0" r="0.55" fill="#8a7a80" fill-opacity="0.5"/>
<circle cx="217.5" cy="379.8" r="0.55" fill="#a09098" fill-opacity="0.45"/>
<circle cx="225.3" cy="389.1" r="0.55" fill="#6a5a6a" fill-opacity="0.45"/>
<circle cx="224.0" cy="395.5" r="0.55" fill="#6a5a6a" fill-opacity="0.45"/>
<circle cx="221.7" cy="385.2" r="0.55" fill="#b8a8b0" fill-opacity="0.45"/>
<circle cx="223.7" cy="386.0" r="0.55" fill="#b8a8b0" fill-opacity="0.45"/>
<circle cx="223.3" cy="391.5" r="0.55" fill="#8a7a80" fill-opacity="0.5"/>
<circle cx="217.3" cy="382.7" r="0.55" fill="#a09098" fill-opacity="0.45"/>
<circle cx="217.4" cy="395.7" r="0.55" fill="#b8a8b0" fill-opacity="0.45"/>
<circle cx="218.5" cy="392.0" r="0.55" fill="#a09098" fill-opacity="0.45"/>
<circle cx="223.6" cy="397.8" r="0.55" fill="#8a7a80" fill-opacity="0.5"/>
<circle cx="220.4" cy="392.5" r="0.55" fill="#a09098" fill-opacity="0.45"/>
<circle cx="218.5" cy="394.6" r="0.55" fill="#b8a8b0" fill-opacity="0.45"/>
<circle cx="219.1" cy="381.5" r="0.55" fill="#8a7a80" fill-opacity="0.5"/>
<circle cx="218.7" cy="388.0" r="0.55" fill="#6a5a6a" fill-opacity="0.45"/>
<circle cx="214.8" cy="399.7" r="0.55" fill="#6a5a6a" fill-opacity="0.45"/>
<circle cx="220.3" cy="394.1" r="0.55" fill="#8a7a80" fill-opacity="0.5"/>
<circle cx="219.8" cy="375.1" r="0.55" fill="#8a7a80" fill-opacity="0.5"/>
<circle cx="221.5" cy="383.4" r="0.55" fill="#a09098" fill-opacity="0.45"/>
<circle cx="219.0" cy="384.2" r="0.55" fill="#a09098" fill-opacity="0.45"/>
<circle cx="220.3" cy="379.2" r="0.55" fill="#b8a8b0" fill-opacity="0.45"/>
<circle cx="217.9" cy="379.9" r="0.55" fill="#b8a8b0" fill-opacity="0.45"/>
<circle cx="219.2" cy="387.1" r="0.55" fill="#6a5a6a" fill-opacity="0.45"/>
<circle cx="220.6" cy="392.3" r="0.55" fill="#8a7a80" fill-opacity="0.5"/>
<circle cx="219.4" cy="381.5" r="0.55" fill="#6a5a6a" fill-opacity="0.45"/>
<circle cx="221.8" cy="400.1" r="0.55" fill="#b8a8b0" fill-opacity="0.45"/>
<circle cx="221.2" cy="391.8" r="0.55" fill="#8a7a80" fill-opacity="0.5"/>
<circle cx="221.7" cy="379.6" r="0.55" fill="#b8a8b0" fill-opacity="0.45"/>
<circle cx="222.4" cy="389.7" r="0.55" fill="#8a7a80" fill-opacity="0.5"/>
<circle cx="224.1" cy="387.4" r="0.55" fill="#6a5a6a" fill-opacity="0.45"/>
<circle cx="220.0" cy="393.4" r="0.55" fill="#8a7a80" fill-opacity="0.5"/>
<circle cx="220.7" cy="400.0" r="0.55" fill="#8a7a80" fill-opacity="0.5"/>
<circle cx="217.2" cy="398.9" r="0.55" fill="#a09098" fill-opacity="0.45"/>
<circle cx="218.0" cy="378.2" r="0.55" fill="#6a5a6a" fill-opacity="0.45"/>
<circle cx="219.6" cy="406.7" r="0.55" fill="#6a5a6a" fill-opacity="0.45"/>
<circle cx="219.1" cy="389.6" r="0.55" fill="#b8a8b0" fill-opacity="0.45"/>
<circle cx="221.2" cy="385.8" r="0.55" fill="#6a5a6a" fill-opacity="0.45"/>
<circle cx="219.6" cy="377.6" r="0.55" fill="#6a5a6a" fill-opacity="0.45"/>
<circle cx="221.3" cy="378.6" r="0.55" fill="#6a5a6a" fill-opacity="0.45"/>
<circle cx="219.6" cy="389.0" r="0.55" fill="#6a5a6a" fill-opacity="0.45"/>
<circle cx="220.7" cy="399.2" r="0.55" fill="#a09098" fill-opacity="0.45"/>
<circle cx="218.5" cy="396.9" r="0.55" fill="#8a7a80" fill-opacity="0.5"/>
<circle cx="219.6" cy="390.3" r="0.55" fill="#a09098" fill-opacity="0.45"/>
<circle cx="222.4" cy="390.0" r="0.55" fill="#b8a8b0" fill-opacity="0.45"/>
<circle cx="220.8" cy="387.8" r="0.55" fill="#b8a8b0" fill-opacity="0.45"/>
<circle cx="221.9" cy="385.0" r="0.55" fill="#b8a8b0" fill-opacity="0.45"/>
<circle cx="218.6" cy="391.0" r="0.55" fill="#6a5a6a" fill-opacity="0.45"/>
<circle cx="218.6" cy="385.8" r="0.55" fill="#a09098" fill-opacity="0.45"/>
<circle cx="221.9" cy="379.7" r="0.55" fill="#6a5a6a" fill-opacity="0.45"/>
<circle cx="219.3" cy="387.3" r="0.55" fill="#a09098" fill-opacity="0.45"/>
<circle cx="219.6" cy="384.7" r="0.55" fill="#b8a8b0" fill-opacity="0.45"/>
<circle cx="226.0" cy="390.7" r="0.55" fill="#b8a8b0" fill-opacity="0.45"/>
<circle cx="222.2" cy="383.2" r="0.55" fill="#8a7a80" fill-opacity="0.5"/>
<circle cx="218.8" cy="396.5" r="0.55" fill="#8a7a80" fill-opacity="0.5"/>
<circle cx="217.1" cy="390.1" r="0.55" fill="#8a7a80" fill-opacity="0.5"/>
<circle cx="222.2" cy="387.1" r="0.55" fill="#6a5a6a" fill-opacity="0.45"/>
<circle cx="220.1" cy="381.6" r="0.55" fill="#a09098" fill-opacity="0.45"/>
<circle cx="224.9" cy="386.1" r="0.55" fill="#6a5a6a" fill-opacity="0.45"/>
<circle cx="217.5" cy="395.5" r="0.55" fill="#6a5a6a" fill-opacity="0.45"/>
<circle cx="223.4" cy="392.9" r="0.55" fill="#b8a8b0" fill-opacity="0.45"/>
<circle cx="217.3" cy="377.4" r="0.55" fill="#6a5a6a" fill-opacity="0.45"/>
<circle cx="221.6" cy="387.6" r="0.55" fill="#a09098" fill-opacity="0.45"/>
<circle cx="219.1" cy="391.7" r="0.55" fill="#a09098" fill-opacity="0.45"/>
<circle cx="215.8" cy="392.6" r="0.55" fill="#a09098" fill-opacity="0.45"/>
<circle cx="222.5" cy="391.6" r="0.55" fill="#a09098" fill-opacity="0.45"/>
<circle cx="220.7" cy="392.4" r="0.55" fill="#b8a8b0" fill-opacity="0.45"/>
<circle cx="221.0" cy="386.4" r="0.55" fill="#a09098" fill-opacity="0.45"/>
<circle cx="219.3" cy="380.6" r="0.55" fill="#6a5a6a" fill-opacity="0.45"/>
<circle cx="222.0" cy="390.2" r="0.55" fill="#a09098" fill-opacity="0.45"/>
<circle cx="224.1" cy="394.6" r="0.55" fill="#8a7a80" fill-opacity="0.5"/>
<circle cx="216.0" cy="387.7" r="0.55" fill="#b8a8b0" fill-opacity="0.45"/>
<circle cx="220.9" cy="382.7" r="0.55" fill="#b8a8b0" fill-opacity="0.45"/>
<circle cx="223.2" cy="388.1" r="0.55" fill="#a09098" fill-opacity="0.45"/>
<circle cx="222.6" cy="394.5" r="0.55" fill="#6a5a6a" fill-opacity="0.45"/>
<circle cx="217.6" cy="387.7" r="0.55" fill="#a09098" fill-opacity="0.45"/>
<circle cx="221.7" cy="384.0" r="0.55" fill="#8a7a80" fill-opacity="0.5"/>
<circle cx="220.1" cy="385.5" r="0.55" fill="#b8a8b0" fill-opacity="0.45"/>
<circle cx="217.3" cy="383.1" r="0.55" fill="#a09098" fill-opacity="0.45"/>
<circle cx="220.7" cy="392.6" r="0.55" fill="#8a7a80" fill-opacity="0.5"/>
<circle cx="219.3" cy="379.1" r="0.55" fill="#8a7a80" fill-opacity="0.5"/>
<circle cx="218.3" cy="387.9" r="0.55" fill="#8a7a80" fill-opacity="0.5"/>
<circle cx="221.5" cy="387.4" r="0.55" fill="#b8a8b0" fill-opacity="0.45"/>
<circle cx="220.1" cy="387.9" r="0.55" fill="#a09098" fill-opacity="0.45"/>
<circle cx="220.4" cy="382.4" r="0.55" fill="#a09098" fill-opacity="0.45"/>
<circle cx="222.8" cy="387.8" r="0.55" fill="#6a5a6a" fill-opacity="0.45"/>
<circle cx="217.8" cy="394.9" r="0.55" fill="#8a7a80" fill-opacity="0.5"/>
<circle cx="223.1" cy="390.7" r="0.55" fill="#6a5a6a" fill-opacity="0.45"/>
<circle cx="221.5" cy="385.6" r="0.55" fill="#8a7a80" fill-opacity="0.5"/>
<circle cx="222.2" cy="385.7" r="0.55" fill="#6a5a6a" fill-opacity="0.45"/>
<circle cx="220.6" cy="389.5" r="0.55" fill="#6a5a6a" fill-opacity="0.45"/>
<circle cx="221.7" cy="383.3" r="0.55" fill="#8a7a80" fill-opacity="0.5"/>
<circle cx="221.7" cy="383.6" r="0.55" fill="#6a5a6a" fill-opacity="0.45"/>
<circle cx="223.4" cy="400.9" r="0.55" fill="#6a5a6a" fill-opacity="0.45"/>
<circle cx="218.2" cy="386.3" r="0.55" fill="#8a7a80" fill-opacity="0.5"/>
<circle cx="221.1" cy="384.1" r="0.55" fill="#b8a8b0" fill-opacity="0.45"/>
<circle cx="223.8" cy="389.2" r="0.55" fill="#b8a8b0" fill-opacity="0.45"/>
<circle cx="221.5" cy="392.9" r="0.55" fill="#8a7a80" fill-opacity="0.5"/>
<circle cx="220.5" cy="394.4" r="0.55" fill="#b8a8b0" fill-opacity="0.45"/>
<circle cx="221.2" cy="388.2" r="0.55" fill="#b8a8b0" fill-opacity="0.45"/>
<circle cx="219.1" cy="390.5" r="0.55" fill="#b8a8b0" fill-opacity="0.45"/>
<circle cx="215.1" cy="393.7" r="0.55" fill="#6a5a6a" fill-opacity="0.45"/>
<circle cx="221.5" cy="388.6" r="0.55" fill="#a09098" fill-opacity="0.45"/>
<circle cx="220.5" cy="388.2" r="0.55" fill="#6a5a6a" fill-opacity="0.45"/>
<circle cx="219.9" cy="390.0" r="0.55" fill="#6a5a6a" fill-opacity="0.45"/>
<circle cx="221.3" cy="389.9" r="0.55" fill="#b8a8b0" fill-opacity="0.45"/>
<circle cx="214.1" cy="388.7" r="0.55" fill="#6a5a6a" fill-opacity="0.45"/>
<circle cx="219.4" cy="385.1" r="0.55" fill="#8a7a80" fill-opacity="0.5"/>
<circle cx="221.4" cy="392.8" r="0.55" fill="#8a7a80" fill-opacity="0.5"/>
<circle cx="222.3" cy="390.6" r="0.55" fill="#b8a8b0" fill-opacity="0.45"/>
<circle cx="220.1" cy="384.8" r="0.55" fill="#a09098" fill-opacity="0.45"/>
<circle cx="220.7" cy="389.3" r="0.55" fill="#b8a8b0" fill-opacity="0.45"/>
<circle cx="219.0" cy="380.2" r="0.55" fill="#a09098" fill-opacity="0.45"/>
<circle cx="219.1" cy="377.2" r="0.55" fill="#b8a8b0" fill-opacity="0.45"/>
<circle cx="222.8" cy="401.3" r="0.55" fill="#a09098" fill-opacity="0.45"/>
<circle cx="221.1" cy="393.4" r="0.55" fill="#6a5a6a" fill-opacity="0.45"/>
<circle cx="216.6" cy="393.0" r="0.55" fill="#b8a8b0" fill-opacity="0.45"/>
<circle cx="218.0" cy="389.3" r="0.55" fill="#b8a8b0" fill-opacity="0.45"/>
<circle cx="220.4" cy="380.9" r="0.55" fill="#8a7a80" fill-opacity="0.5"/>
<circle cx="216.1" cy="381.7" r="0.55" fill="#8a7a80" fill-opacity="0.5"/>
<circle cx="222.4" cy="390.5" r="0.55" fill="#b8a8b0" fill-opacity="0.45"/>
<circle cx="218.6" cy="390.1" r="0.55" fill="#a09098" fill-opacity="0.45"/>
<circle cx="223.6" cy="392.7" r="0.55" fill="#a09098" fill-opacity="0.45"/>
<circle cx="219.4" cy="395.9" r="0.55" fill="#a09098" fill-opacity="0.45"/>
<circle cx="220.0" cy="390.3" r="0.55" fill="#6a5a6a" fill-opacity="0.45"/>
<circle cx="218.8" cy="383.7" r="0.55" fill="#6a5a6a" fill-opacity="0.45"/>
<circle cx="220.1" cy="390.4" r="0.55" fill="#8a7a80" fill-opacity="0.5"/>
<circle cx="223.7" cy="402.4" r="0.55" fill="#a09098" fill-opacity="0.45"/>
<circle cx="222.7" cy="395.4" r="0.55" fill="#6a5a6a" fill-opacity="0.45"/>
<circle cx="221.4" cy="393.3" r="0.55" fill="#b8a8b0" fill-opacity="0.45"/>
<circle cx="221.1" cy="380.6" r="0.55" fill="#6a5a6a" fill-opacity="0.45"/>
<circle cx="220.0" cy="391.6" r="0.55" fill="#b8a8b0" fill-opacity="0.45"/>
<circle cx="220.8" cy="390.1" r="0.55" fill="#6a5a6a" fill-opacity="0.45"/>
<circle cx="218.8" cy="389.4" r="0.55" fill="#a09098" fill-opacity="0.45"/>
<circle cx="221.7" cy="402.5" r="0.55" fill="#8a7a80" fill-opacity="0.5"/>
<circle cx="219.3" cy="405.6" r="0.55" fill="#a09098" fill-opacity="0.45"/>
<circle cx="220.0" cy="391.1" r="0.55" fill="#a09098" fill-opacity="0.45"/>
<circle cx="218.0" cy="390.2" r="0.55" fill="#a09098" fill-opacity="0.45"/>
<circle cx="219.9" cy="385.5" r="0.55" fill="#b8a8b0" fill-opacity="0.45"/>
<circle cx="221.2" cy="392.0" r="0.55" fill="#a09098" fill-opacity="0.45"/>
<circle cx="219.9" cy="391.1" r="0.55" fill="#8a7a80" fill-opacity="0.5"/>
<circle cx="215.5" cy="391.7" r="0.55" fill="#b8a8b0" fill-opacity="0.45"/>
<circle cx="223.5" cy="390.5" r="0.55" fill="#6a5a6a" fill-opacity="0.45"/>
<circle cx="217.5" cy="385.0" r="0.55" fill="#8a7a80" fill-opacity="0.5"/>
<circle cx="222.4" cy="395.6" r="0.55" fill="#6a5a6a" fill-opacity="0.45"/>
<circle cx="218.8" cy="383.6" r="0.55" fill="#8a7a80" fill-opacity="0.5"/>
<circle cx="222.7" cy="403.8" r="0.55" fill="#a09098" fill-opacity="0.45"/>
<circle cx="220.2" cy="379.5" r="0.55" fill="#b8a8b0" fill-opacity="0.45"/>
<circle cx="219.7" cy="382.2" r="0.55" fill="#6a5a6a" fill-opacity="0.45"/>
<circle cx="218.7" cy="399.2" r="0.55" fill="#a09098" fill-opacity="0.45"/>
<circle cx="218.1" cy="392.8" r="0.55" fill="#b8a8b0" fill-opacity="0.45"/>
<circle cx="221.5" cy="397.8" r="0.55" fill="#a09098" fill-opacity="0.45"/>
<circle cx="218.5" cy="393.2" r="0.55" fill="#a09098" fill-opacity="0.45"/>
<circle cx="220.7" cy="383.5" r="0.55" fill="#8a7a80" fill-opacity="0.5"/>
<circle cx="222.4" cy="382.9" r="0.55" fill="#8a7a80" fill-opacity="0.5"/>
<circle cx="227.5" cy="382.0" r="0.55" fill="#8a7a80" fill-opacity="0.5"/>
<circle cx="220.2" cy="378.2" r="0.55" fill="#b8a8b0" fill-opacity="0.45"/>
<circle cx="219.6" cy="402.5" r="0.55" fill="#b8a8b0" fill-opacity="0.45"/>
<circle cx="221.6" cy="379.5" r="0.55" fill="#b8a8b0" fill-opacity="0.45"/>
<circle cx="221.4" cy="384.5" r="0.55" fill="#a09098" fill-opacity="0.45"/>
<circle cx="220.8" cy="398.2" r="0.55" fill="#6a5a6a" fill-opacity="0.45"/>
<circle cx="219.5" cy="401.1" r="0.55" fill="#8a7a80" fill-opacity="0.5"/>
<circle cx="218.3" cy="389.7" r="0.55" fill="#a09098" fill-opacity="0.45"/>
<circle cx="219.6" cy="393.0" r="0.55" fill="#b8a8b0" fill-opacity="0.45"/>
<circle cx="221.1" cy="382.1" r="0.55" fill="#b8a8b0" fill-opacity="0.45"/>
<circle cx="223.0" cy="384.7" r="0.55" fill="#8a7a80" fill-opacity="0.5"/>
<circle cx="223.6" cy="386.0" r="0.55" fill="#b8a8b0" fill-opacity="0.45"/>
<circle cx="220.7" cy="381.1" r="0.55" fill="#8a7a80" fill-opacity="0.5"/>
<circle cx="217.8" cy="383.4" r="0.55" fill="#b8a8b0" fill-opacity="0.45"/>
<circle cx="221.3" cy="392.8" r="0.55" fill="#6a5a6a" fill-opacity="0.45"/>
<circle cx="220.7" cy="377.9" r="0.55" fill="#a09098" fill-opacity="0.45"/>
<circle cx="219.6" cy="385.7" r="0.55" fill="#b8a8b0" fill-opacity="0.45"/>
<circle cx="220.8" cy="388.9" r="0.55" fill="#8a7a80" fill-opacity="0.5"/>
<circle cx="224.7" cy="388.4" r="0.55" fill="#6a5a6a" fill-opacity="0.45"/>
<circle cx="221.6" cy="396.2" r="0.55" fill="#8a7a80" fill-opacity="0.5"/>
<circle cx="219.5" cy="390.0" r="0.55" fill="#8a7a80" fill-opacity="0.5"/>
<circle cx="219.4" cy="394.4" r="0.55" fill="#a09098" fill-opacity="0.45"/>
<circle cx="219.1" cy="396.3" r="0.55" fill="#a09098" fill-opacity="0.45"/>
<circle cx="223.8" cy="389.4" r="0.55" fill="#a09098" fill-opacity="0.45"/>
<circle cx="221.3" cy="390.8" r="0.55" fill="#b8a8b0" fill-opacity="0.45"/>
<circle cx="219.8" cy="394.6" r="0.55" fill="#a09098" fill-opacity="0.45"/>
<circle cx="221.8" cy="389.6" r="0.55" fill="#a09098" fill-opacity="0.45"/>
<circle cx="217.9" cy="382.2" r="0.55" fill="#b8a8b0" fill-opacity="0.45"/>
<circle cx="221.4" cy="382.9" r="0.55" fill="#8a7a80" fill-opacity="0.5"/>
<circle cx="218.7" cy="395.5" r="0.55" fill="#b8a8b0" fill-opacity="0.45"/>
<circle cx="221.3" cy="394.2" r="0.55" fill="#6a5a6a" fill-opacity="0.45"/>
<circle cx="217.6" cy="389.0" r="0.55" fill="#8a7a80" fill-opacity="0.5"/>
<circle cx="219.9" cy="401.1" r="0.55" fill="#a09098" fill-opacity="0.45"/>
<circle cx="225.1" cy="378.2" r="0.55" fill="#8a7a80" fill-opacity="0.5"/>
<circle cx="220.6" cy="396.5" r="0.55" fill="#b8a8b0" fill-opacity="0.45"/>
<circle cx="221.2" cy="399.4" r="0.55" fill="#b8a8b0" fill-opacity="0.45"/>
<circle cx="217.7" cy="384.3" r="0.55" fill="#b8a8b0" fill-opacity="0.45"/>
<circle cx="220.9" cy="393.8" r="0.55" fill="#b8a8b0" fill-opacity="0.45"/>
<circle cx="222.0" cy="385.9" r="0.55" fill="#8a7a80" fill-opacity="0.5"/>
<circle cx="219.2" cy="387.7" r="0.55" fill="#6a5a6a" fill-opacity="0.45"/>
<circle cx="221.1" cy="402.8" r="0.55" fill="#a09098" fill-opacity="0.45"/>
<circle cx="219.8" cy="396.2" r="0.55" fill="#6a5a6a" fill-opacity="0.45"/>
<circle cx="219.0" cy="398.9" r="0.55" fill="#b8a8b0" fill-opacity="0.45"/>
<circle cx="221.6" cy="399.9" r="0.55" fill="#8a7a80" fill-opacity="0.5"/>
<circle cx="219.7" cy="403.5" r="0.55" fill="#b8a8b0" fill-opacity="0.45"/>
<circle cx="224.0" cy="400.4" r="0.55" fill="#6a5a6a" fill-opacity="0.45"/>
<circle cx="221.1" cy="393.5" r="0.55" fill="#b8a8b0" fill-opacity="0.45"/>
<circle cx="218.9" cy="391.3" r="0.55" fill="#6a5a6a" fill-opacity="0.45"/>
<circle cx="222.1" cy="392.4" r="0.55" fill="#b8a8b0" fill-opacity="0.45"/>
<circle cx="219.4" cy="382.5" r="0.55" fill="#8a7a80" fill-opacity="0.5"/>
<circle cx="217.6" cy="391.8" r="0.55" fill="#8a7a80" fill-opacity="0.5"/>
<circle cx="220.4" cy="383.6" r="0.55" fill="#b8a8b0" fill-opacity="0.45"/>
<circle cx="218.1" cy="391.2" r="0.55" fill="#8a7a80" fill-opacity="0.5"/>
<circle cx="221.4" cy="382.5" r="0.55" fill="#8a7a80" fill-opacity="0.5"/>
<circle cx="222.0" cy="395.5" r="0.55" fill="#6a5a6a" fill-opacity="0.45"/>
<circle cx="224.4" cy="381.6" r="0.55" fill="#8a7a80" fill-opacity="0.5"/>
<circle cx="225.1" cy="391.2" r="0.55" fill="#8a7a80" fill-opacity="0.5"/>
<circle cx="220.3" cy="374.8" r="0.55" fill="#a09098" fill-opacity="0.45"/>
<circle cx="224.2" cy="395.5" r="0.55" fill="#b8a8b0" fill-opacity="0.45"/>
<circle cx="219.3" cy="386.4" r="0.55" fill="#a09098" fill-opacity="0.45"/>
<circle cx="219.9" cy="385.1" r="0.55" fill="#8a7a80" fill-opacity="0.5"/>
<circle cx="220.6" cy="399.0" r="0.55" fill="#8a7a80" fill-opacity="0.5"/>
<circle cx="221.5" cy="386.4" r="0.55" fill="#6a5a6a" fill-opacity="0.45"/>
<circle cx="218.6" cy="397.3" r="0.55" fill="#b8a8b0" fill-opacity="0.45"/>
<circle cx="221.7" cy="383.9" r="0.55" fill="#b8a8b0" fill-opacity="0.45"/>
<circle cx="220.3" cy="395.0" r="0.55" fill="#6a5a6a" fill-opacity="0.45"/>
<circle cx="219.4" cy="385.1" r="0.55" fill="#b8a8b0" fill-opacity="0.45"/>
<circle cx="220.6" cy="395.6" r="0.55" fill="#b8a8b0" fill-opacity="0.45"/>
<circle cx="219.2" cy="397.4" r="0.55" fill="#a09098" fill-opacity="0.45"/>
<circle cx="220.0" cy="400.9" r="0.55" fill="#8a7a80" fill-opacity="0.5"/>
<circle cx="221.9" cy="383.6" r="0.55" fill="#a09098" fill-opacity="0.45"/>
<circle cx="218.2" cy="383.6" r="0.55" fill="#b8a8b0" fill-opacity="0.45"/>
<circle cx="220.5" cy="388.8" r="0.55" fill="#6a5a6a" fill-opacity="0.45"/>
<circle cx="223.7" cy="392.6" r="0.55" fill="#a09098" fill-opacity="0.45"/>
<circle cx="223.7" cy="391.6" r="0.55" fill="#b8a8b0" fill-opacity="0.45"/>
</g>
<g filter="url(#bl)">
<circle cx="244.0" cy="389.0" r="0.55" fill="#d06a30" fill-opacity="0.5"/>
<circle cx="240.1" cy="384.0" r="0.55" fill="#e07838" fill-opacity="0.55"/>
<circle cx="240.8" cy="385.2" r="0.55" fill="#c87050" fill-opacity="0.4"/>
<circle cx="240.4" cy="388.8" r="0.55" fill="#f0a070" fill-opacity="0.45"/>
<circle cx="241.1" cy="387.5" r="0.55" fill="#e88a50" fill-opacity="0.5"/>
<circle cx="236.0" cy="386.5" r="0.55" fill="#e88a50" fill-opacity="0.5"/>
<circle cx="247.1" cy="377.2" r="0.55" fill="#e88a50" fill-opacity="0.5"/>
<circle cx="237.3" cy="388.8" r="0.55" fill="#e07838" fill-opacity="0.55"/>
<circle cx="243.4" cy="387.1" r="0.55" fill="#e88a50" fill-opacity="0.5"/>
<circle cx="236.7" cy="389.3" r="0.55" fill="#e07838" fill-opacity="0.55"/>
<circle cx="238.1" cy="386.2" r="0.55" fill="#f0a070" fill-opacity="0.45"/>
<circle cx="237.3" cy="397.7" r="0.55" fill="#e88a50" fill-opacity="0.5"/>
<circle cx="233.0" cy="385.5" r="0.55" fill="#d06a30" fill-opacity="0.5"/>
<circle cx="235.7" cy="384.8" r="0.55" fill="#e07838" fill-opacity="0.55"/>
<circle cx="238.4" cy="385.6" r="0.55" fill="#d06a30" fill-opacity="0.5"/>
<circle cx="247.2" cy="390.8" r="0.55" fill="#d06a30" fill-opacity="0.5"/>
<circle cx="239.6" cy="388.2" r="0.55" fill="#f0a070" fill-opacity="0.45"/>
<circle cx="244.1" cy="387.6" r="0.55" fill="#e88a50" fill-opacity="0.5"/>
<circle cx="240.6" cy="385.4" r="0.55" fill="#e07838" fill-opacity="0.55"/>
<circle cx="243.6" cy="390.2" r="0.55" fill="#c87050" fill-opacity="0.4"/>
<circle cx="239.7" cy="391.9" r="0.55" fill="#e88a50" fill-opacity="0.5"/>
<circle cx="236.7" cy="384.4" r="0.55" fill="#c87050" fill-opacity="0.4"/>
<circle cx="247.9" cy="385.2" r="0.55" fill="#d06a30" fill-opacity="0.5"/>
<circle cx="229.8" cy="388.0" r="0.55" fill="#e88a50" fill-opacity="0.5"/>
<circle cx="237.1" cy="383.4" r="0.55" fill="#c87050" fill-opacity="0.4"/>
<circle cx="241.7" cy="392.1" r="0.55" fill="#c87050" fill-opacity="0.4"/>
<circle cx="240.7" cy="384.3" r="0.55" fill="#c87050" fill-opacity="0.4"/>
<circle cx="246.0" cy="392.7" r="0.55" fill="#d06a30" fill-opacity="0.5"/>
<circle cx="239.7" cy="385.3" r="0.55" fill="#e88a50" fill-opacity="0.5"/>
<circle cx="246.5" cy="386.3" r="0.55" fill="#e07838" fill-opacity="0.55"/>
<circle cx="247.1" cy="385.5" r="0.55" fill="#e88a50" fill-opacity="0.5"/>
<circle cx="242.0" cy="383.3" r="0.55" fill="#f0a070" fill-opacity="0.45"/>
<circle cx="245.7" cy="384.9" r="0.55" fill="#e07838" fill-opacity="0.55"/>
<circle cx="246.1" cy="386.7" r="0.55" fill="#d06a30" fill-opacity="0.5"/>
<circle cx="237.9" cy="397.5" r="0.55" fill="#c87050" fill-opacity="0.4"/>
<circle cx="244.3" cy="387.0" r="0.55" fill="#c87050" fill-opacity="0.4"/>
<circle cx="240.7" cy="394.6" r="0.55" fill="#d06a30" fill-opacity="0.5"/>
<circle cx="235.1" cy="393.6" r="0.55" fill="#e07838" fill-opacity="0.55"/>
<circle cx="233.9" cy="381.3" r="0.55" fill="#e07838" fill-opacity="0.55"/>
<circle cx="247.1" cy="389.3" r="0.55" fill="#e88a50" fill-opacity="0.5"/>
<circle cx="237.6" cy="380.1" r="0.55" fill="#f0a070" fill-opacity="0.45"/>
<circle cx="242.1" cy="392.2" r="0.55" fill="#e88a50" fill-opacity="0.5"/>
<circle cx="253.6" cy="383.5" r="0.55" fill="#e88a50" fill-opacity="0.5"/>
<circle cx="240.0" cy="386.3" r="0.55" fill="#e07838" fill-opacity="0.55"/>
<circle cx="249.8" cy="387.7" r="0.55" fill="#d06a30" fill-opacity="0.5"/>
<circle cx="242.9" cy="387.6" r="0.55" fill="#d06a30" fill-opacity="0.5"/>
<circle cx="249.4" cy="392.4" r="0.55" fill="#c87050" fill-opacity="0.4"/>
<circle cx="242.4" cy="394.5" r="0.55" fill="#d06a30" fill-opacity="0.5"/>
<circle cx="241.2" cy="385.5" r="0.55" fill="#c87050" fill-opacity="0.4"/>
<circle cx="242.6" cy="390.6" r="0.55" fill="#e07838" fill-opacity="0.55"/>
<circle cx="250.4" cy="394.5" r="0.55" fill="#e07838" fill-opacity="0.55"/>
<circle cx="244.6" cy="386.9" r="0.55" fill="#d06a30" fill-opacity="0.5"/>
<circle cx="236.8" cy="392.6" r="0.55" fill="#d06a30" fill-opacity="0.5"/>
<circle cx="246.4" cy="400.1" r="0.55" fill="#c87050" fill-opacity="0.4"/>
<circle cx="240.9" cy="386.7" r="0.55" fill="#c87050" fill-opacity="0.4"/>
<circle cx="233.5" cy="386.9" r="0.55" fill="#e88a50" fill-opacity="0.5"/>
<circle cx="246.6" cy="391.9" r="0.55" fill="#e88a50" fill-opacity="0.5"/>
<circle cx="237.5" cy="391.2" r="0.55" fill="#c87050" fill-opacity="0.4"/>
<circle cx="245.0" cy="384.0" r="0.55" fill="#e88a50" fill-opacity="0.5"/>
<circle cx="243.9" cy="384.4" r="0.55" fill="#f0a070" fill-opacity="0.45"/>
<circle cx="241.6" cy="378.2" r="0.55" fill="#e07838" fill-opacity="0.55"/>
<circle cx="236.0" cy="398.5" r="0.55" fill="#d06a30" fill-opacity="0.5"/>
<circle cx="236.0" cy="379.9" r="0.55" fill="#e88a50" fill-opacity="0.5"/>
<circle cx="235.6" cy="388.4" r="0.55" fill="#e07838" fill-opacity="0.55"/>
<circle cx="245.6" cy="388.2" r="0.55" fill="#f0a070" fill-opacity="0.45"/>
<circle cx="248.9" cy="396.9" r="0.55" fill="#d06a30" fill-opacity="0.5"/>
<circle cx="236.9" cy="402.5" r="0.55" fill="#e88a50" fill-opacity="0.5"/>
<circle cx="246.2" cy="387.5" r="0.55" fill="#e88a50" fill-opacity="0.5"/>
<circle cx="244.4" cy="388.4" r="0.55" fill="#e88a50" fill-opacity="0.5"/>
<circle cx="250.9" cy="393.5" r="0.55" fill="#c87050" fill-opacity="0.4"/>
<circle cx="238.0" cy="379.9" r="0.55" fill="#d06a30" fill-opacity="0.5"/>
<circle cx="245.1" cy="387.0" r="0.55" fill="#c87050" fill-opacity="0.4"/>
<circle cx="244.6" cy="384.5" r="0.55" fill="#c87050" fill-opacity="0.4"/>
<circle cx="250.9" cy="388.6" r="0.55" fill="#f0a070" fill-opacity="0.45"/>
<circle cx="244.4" cy="385.8" r="0.55" fill="#e88a50" fill-opacity="0.5"/>
<circle cx="244.8" cy="385.0" r="0.55" fill="#e07838" fill-opacity="0.55"/>
<circle cx="244.7" cy="384.4" r="0.55" fill="#e88a50" fill-opacity="0.5"/>
<circle cx="242.9" cy="379.8" r="0.55" fill="#c87050" fill-opacity="0.4"/>
<circle cx="245.5" cy="388.2" r="0.55" fill="#c87050" fill-opacity="0.4"/>
<circle cx="247.0" cy="388.0" r="0.55" fill="#d06a30" fill-opacity="0.5"/>
<circle cx="240.6" cy="390.8" r="0.55" fill="#f0a070" fill-opacity="0.45"/>
<circle cx="239.8" cy="394.4" r="0.55" fill="#e07838" fill-opacity="0.55"/>
<circle cx="237.3" cy="378.6" r="0.55" fill="#e07838" fill-opacity="0.55"/>
<circle cx="246.8" cy="390.6" r="0.55" fill="#d06a30" fill-opacity="0.5"/>
<circle cx="244.2" cy="386.9" r="0.55" fill="#e88a50" fill-opacity="0.5"/>
<circle cx="246.7" cy="392.9" r="0.55" fill="#e07838" fill-opacity="0.55"/>
<circle cx="243.8" cy="382.1" r="0.55" fill="#e88a50" fill-opacity="0.5"/>
<circle cx="234.7" cy="392.0" r="0.55" fill="#e07838" fill-opacity="0.55"/>
<circle cx="239.7" cy="378.5" r="0.55" fill="#c87050" fill-opacity="0.4"/>
<circle cx="239.2" cy="385.4" r="0.55" fill="#e88a50" fill-opacity="0.5"/>
<circle cx="236.3" cy="390.7" r="0.55" fill="#f0a070" fill-opacity="0.45"/>
<circle cx="244.1" cy="387.2" r="0.55" fill="#e88a50" fill-opacity="0.5"/>
<circle cx="235.7" cy="389.6" r="0.55" fill="#e07838" fill-opacity="0.55"/>
<circle cx="247.6" cy="393.6" r="0.55" fill="#d06a30" fill-opacity="0.5"/>
<circle cx="238.4" cy="392.5" r="0.55" fill="#e88a50" fill-opacity="0.5"/>
<circle cx="239.8" cy="389.6" r="0.55" fill="#c87050" fill-opacity="0.4"/>
<circle cx="239.4" cy="388.3" r="0.55" fill="#f0a070" fill-opacity="0.45"/>
<circle cx="240.5" cy="384.1" r="0.55" fill="#f0a070" fill-opacity="0.45"/>
<circle cx="242.5" cy="395.4" r="0.55" fill="#e07838" fill-opacity="0.55"/>
<circle cx="237.7" cy="385.9" r="0.55" fill="#e88a50" fill-opacity="0.5"/>
<circle cx="239.3" cy="390.4" r="0.55" fill="#e07838" fill-opacity="0.55"/>
<circle cx="241.8" cy="393.5" r="0.55" fill="#e07838" fill-opacity="0.55"/>
<circle cx="245.6" cy="384.6" r="0.55" fill="#e07838" fill-opacity="0.55"/>
<circle cx="238.4" cy="388.4" r="0.55" fill="#e07838" fill-opacity="0.55"/>
<circle cx="245.5" cy="386.6" r="0.55" fill="#e07838" fill-opacity="0.55"/>
<circle cx="242.4" cy="375.0" r="0.55" fill="#e88a50" fill-opacity="0.5"/>
<circle cx="247.5" cy="390.2" r="0.55" fill="#e07838" fill-opacity="0.55"/>
<circle cx="239.7" cy="382.4" r="0.55" fill="#e07838" fill-opacity="0.55"/>
<circle cx="252.0" cy="383.7" r="0.55" fill="#d06a30" fill-opacity="0.5"/>
<circle cx="248.5" cy="384.6" r="0.55" fill="#d06a30" fill-opacity="0.5"/>
<circle cx="232.9" cy="389.9" r="0.55" fill="#f0a070" fill-opacity="0.45"/>
<circle cx="240.1" cy="383.8" r="0.55" fill="#d06a30" fill-opacity="0.5"/>
<circle cx="243.5" cy="384.2" r="0.55" fill="#d06a30" fill-opacity="0.5"/>
<circle cx="247.1" cy="383.9" r="0.55" fill="#f0a070" fill-opacity="0.45"/>
<circle cx="243.9" cy="391.3" r="0.55" fill="#e88a50" fill-opacity="0.5"/>
<circle cx="238.5" cy="384.5" r="0.55" fill="#f0a070" fill-opacity="0.45"/>
<circle cx="240.9" cy="387.8" r="0.55" fill="#e07838" fill-opacity="0.55"/>
<circle cx="243.1" cy="392.5" r="0.55" fill="#e07838" fill-opacity="0.55"/>
<circle cx="241.0" cy="389.4" r="0.55" fill="#e88a50" fill-opacity="0.5"/>
<circle cx="234.0" cy="393.9" r="0.55" fill="#c87050" fill-opacity="0.4"/>
<circle cx="238.3" cy="384.0" r="0.55" fill="#e88a50" fill-opacity="0.5"/>
<circle cx="233.5" cy="375.0" r="0.55" fill="#f0a070" fill-opacity="0.45"/>
<circle cx="248.1" cy="385.0" r="0.55" fill="#f0a070" fill-opacity="0.45"/>
<circle cx="240.2" cy="390.5" r="0.55" fill="#f0a070" fill-opacity="0.45"/>
<circle cx="234.8" cy="390.2" r="0.55" fill="#f0a070" fill-opacity="0.45"/>
<circle cx="243.4" cy="394.5" r="0.55" fill="#d06a30" fill-opacity="0.5"/>
<circle cx="237.7" cy="381.8" r="0.55" fill="#e07838" fill-opacity="0.55"/>
<circle cx="243.8" cy="388.7" r="0.55" fill="#c87050" fill-opacity="0.4"/>
<circle cx="250.6" cy="389.8" r="0.55" fill="#e88a50" fill-opacity="0.5"/>
<circle cx="241.7" cy="390.1" r="0.55" fill="#c87050" fill-opacity="0.4"/>
<circle cx="251.3" cy="388.1" r="0.55" fill="#e07838" fill-opacity="0.55"/>
<circle cx="244.2" cy="388.9" r="0.55" fill="#e88a50" fill-opacity="0.5"/>
<circle cx="243.0" cy="388.5" r="0.55" fill="#d06a30" fill-opacity="0.5"/>
<circle cx="241.1" cy="386.7" r="0.55" fill="#f0a070" fill-opacity="0.45"/>
<circle cx="234.1" cy="380.5" r="0.55" fill="#e88a50" fill-opacity="0.5"/>
<circle cx="240.7" cy="387.8" r="0.55" fill="#c87050" fill-opacity="0.4"/>
<circle cx="236.5" cy="388.6" r="0.55" fill="#c87050" fill-opacity="0.4"/>
<circle cx="239.4" cy="395.5" r="0.55" fill="#c87050" fill-opacity="0.4"/>
<circle cx="241.8" cy="391.7" r="0.55" fill="#e07838" fill-opacity="0.55"/>
<circle cx="241.4" cy="386.4" r="0.55" fill="#e88a50" fill-opacity="0.5"/>
<circle cx="242.6" cy="379.4" r="0.55" fill="#e07838" fill-opacity="0.55"/>
<circle cx="239.5" cy="391.9" r="0.55" fill="#f0a070" fill-opacity="0.45"/>
<circle cx="244.2" cy="390.3" r="0.55" fill="#d06a30" fill-opacity="0.5"/>
<circle cx="236.8" cy="388.7" r="0.55" fill="#c87050" fill-opacity="0.4"/>
<circle cx="241.7" cy="387.2" r="0.55" fill="#f0a070" fill-opacity="0.45"/>
<circle cx="240.8" cy="381.3" r="0.55" fill="#c87050" fill-opacity="0.4"/>
<circle cx="239.1" cy="389.5" r="0.55" fill="#c87050" fill-opacity="0.4"/>
<circle cx="234.9" cy="390.1" r="0.55" fill="#d06a30" fill-opacity="0.5"/>
<circle cx="238.4" cy="387.2" r="0.55" fill="#e88a50" fill-opacity="0.5"/>
<circle cx="240.5" cy="387.7" r="0.55" fill="#e88a50" fill-opacity="0.5"/>
<circle cx="239.6" cy="394.7" r="0.55" fill="#d06a30" fill-opacity="0.5"/>
<circle cx="243.4" cy="386.0" r="0.55" fill="#e88a50" fill-opacity="0.5"/>
<circle cx="238.2" cy="379.8" r="0.55" fill="#c87050" fill-opacity="0.4"/>
<circle cx="245.9" cy="382.2" r="0.55" fill="#c87050" fill-opacity="0.4"/>
<circle cx="240.8" cy="386.3" r="0.55" fill="#e88a50" fill-opacity="0.5"/>
<circle cx="238.4" cy="377.6" r="0.55" fill="#c87050" fill-opacity="0.4"/>
<circle cx="237.3" cy="387.0" r="0.55" fill="#f0a070" fill-opacity="0.45"/>
<circle cx="244.4" cy="374.6" r="0.55" fill="#d06a30" fill-opacity="0.5"/>
<circle cx="240.6" cy="391.3" r="0.55" fill="#c87050" fill-opacity="0.4"/>
<circle cx="233.7" cy="387.7" r="0.55" fill="#e88a50" fill-opacity="0.5"/>
<circle cx="246.6" cy="383.4" r="0.55" fill="#c87050" fill-opacity="0.4"/>
<circle cx="232.4" cy="382.5" r="0.55" fill="#f0a070" fill-opacity="0.45"/>
<circle cx="241.4" cy="392.2" r="0.55" fill="#d06a30" fill-opacity="0.5"/>
<circle cx="236.5" cy="385.4" r="0.55" fill="#d06a30" fill-opacity="0.5"/>
<circle cx="237.1" cy="386.8" r="0.55" fill="#e88a50" fill-opacity="0.5"/>
<circle cx="242.8" cy="384.6" r="0.55" fill="#d06a30" fill-opacity="0.5"/>
<circle cx="247.2" cy="379.1" r="0.55" fill="#c87050" fill-opacity="0.4"/>
<circle cx="239.6" cy="396.5" r="0.55" fill="#e07838" fill-opacity="0.55"/>
<circle cx="246.1" cy="386.0" r="0.55" fill="#c87050" fill-opacity="0.4"/>
<circle cx="244.2" cy="391.5" r="0.55" fill="#c87050" fill-opacity="0.4"/>
<circle cx="244.5" cy="383.4" r="0.55" fill="#e88a50" fill-opacity="0.5"/>
<circle cx="240.3" cy="389.2" r="0.55" fill="#d06a30" fill-opacity="0.5"/>
<circle cx="240.4" cy="386.4" r="0.55" fill="#d06a30" fill-opacity="0.5"/>
<circle cx="240.1" cy="380.7" r="0.55" fill="#e88a50" fill-opacity="0.5"/>
<circle cx="243.6" cy="389.4" r="0.55" fill="#f0a070" fill-opacity="0.45"/>
<circle cx="240.3" cy="381.5" r="0.55" fill="#d06a30" fill-opacity="0.5"/>
<circle cx="243.8" cy="388.4" r="0.55" fill="#f0a070" fill-opacity="0.45"/>
<circle cx="239.6" cy="387.7" r="0.55" fill="#f0a070" fill-opacity="0.45"/>
<circle cx="251.1" cy="382.6" r="0.55" fill="#f0a070" fill-opacity="0.45"/>
<circle cx="238.8" cy="380.7" r="0.55" fill="#f0a070" fill-opacity="0.45"/>
<circle cx="245.6" cy="398.8" r="0.55" fill="#e07838" fill-opacity="0.55"/>
<circle cx="242.0" cy="373.3" r="0.55" fill="#e88a50" fill-opacity="0.5"/>
<circle cx="240.5" cy="379.5" r="0.55" fill="#c87050" fill-opacity="0.4"/>
<circle cx="240.3" cy="390.9" r="0.55" fill="#e88a50" fill-opacity="0.5"/>
<circle cx="233.5" cy="388.7" r="0.55" fill="#e88a50" fill-opacity="0.5"/>
<circle cx="236.9" cy="393.0" r="0.55" fill="#c87050" fill-opacity="0.4"/>
<circle cx="240.1" cy="378.0" r="0.55" fill="#e07838" fill-opacity="0.55"/>
<circle cx="245.9" cy="387.8" r="0.55" fill="#e07838" fill-opacity="0.55"/>
<circle cx="240.2" cy="385.5" r="0.55" fill="#e88a50" fill-opacity="0.5"/>
<circle cx="239.9" cy="386.0" r="0.55" fill="#e88a50" fill-opacity="0.5"/>
<circle cx="244.3" cy="388.5" r="0.55" fill="#f0a070" fill-opacity="0.45"/>
<circle cx="239.8" cy="388.1" r="0.55" fill="#c87050" fill-opacity="0.4"/>
<circle cx="242.3" cy="386.2" r="0.55" fill="#e07838" fill-opacity="0.55"/>
<circle cx="239.8" cy="393.0" r="0.55" fill="#d06a30" fill-opacity="0.5"/>
<circle cx="244.8" cy="388.4" r="0.55" fill="#d06a30" fill-opacity="0.5"/>
<circle cx="242.8" cy="393.8" r="0.55" fill="#e88a50" fill-opacity="0.5"/>
<circle cx="249.2" cy="395.2" r="0.55" fill="#e88a50" fill-opacity="0.5"/>
<circle cx="238.1" cy="383.5" r="0.55" fill="#c87050" fill-opacity="0.4"/>
<circle cx="242.8" cy="386.1" r="0.55" fill="#e88a50" fill-opacity="0.5"/>
<circle cx="244.6" cy="389.9" r="0.55" fill="#e88a50" fill-opacity="0.5"/>
<circle cx="240.4" cy="392.3" r="0.55" fill="#d06a30" fill-opacity="0.5"/>
<circle cx="234.9" cy="381.1" r="0.55" fill="#f0a070" fill-opacity="0.45"/>
<circle cx="244.7" cy="387.0" r="0.55" fill="#c87050" fill-opacity="0.4"/>
<circle cx="242.6" cy="378.0" r="0.55" fill="#c87050" fill-opacity="0.4"/>
<circle cx="242.6" cy="395.4" r="0.55" fill="#d06a30" fill-opacity="0.5"/>
<circle cx="234.1" cy="385.4" r="0.55" fill="#e88a50" fill-opacity="0.5"/>
<circle cx="243.2" cy="394.0" r="0.55" fill="#c87050" fill-opacity="0.4"/>
<circle cx="245.8" cy="389.2" r="0.55" fill="#d06a30" fill-opacity="0.5"/>
<circle cx="243.5" cy="391.3" r="0.55" fill="#d06a30" fill-opacity="0.5"/>
<circle cx="241.2" cy="385.1" r="0.55" fill="#d06a30" fill-opacity="0.5"/>
<circle cx="244.3" cy="381.5" r="0.55" fill="#f0a070" fill-opacity="0.45"/>
<circle cx="239.8" cy="386.3" r="0.55" fill="#e88a50" fill-opacity="0.5"/>
<circle cx="240.3" cy="383.0" r="0.55" fill="#c87050" fill-opacity="0.4"/>
<circle cx="235.7" cy="394.2" r="0.55" fill="#e07838" fill-opacity="0.55"/>
<circle cx="245.3" cy="381.8" r="0.55" fill="#e88a50" fill-opacity="0.5"/>
<circle cx="242.7" cy="392.1" r="0.55" fill="#e07838" fill-opacity="0.55"/>
<circle cx="244.0" cy="377.9" r="0.55" fill="#e07838" fill-opacity="0.55"/>
<circle cx="234.2" cy="399.4" r="0.55" fill="#c87050" fill-opacity="0.4"/>
<circle cx="241.9" cy="390.7" r="0.55" fill="#d06a30" fill-opacity="0.5"/>
<circle cx="241.7" cy="378.4" r="0.55" fill="#c87050" fill-opacity="0.4"/>
<circle cx="246.3" cy="397.5" r="0.55" fill="#e07838" fill-opacity="0.55"/>
<circle cx="239.6" cy="386.9" r="0.55" fill="#e07838" fill-opacity="0.55"/>
<circle cx="239.2" cy="385.6" r="0.55" fill="#e07838" fill-opacity="0.55"/>
<circle cx="239.2" cy="388.4" r="0.55" fill="#e07838" fill-opacity="0.55"/>
<circle cx="243.6" cy="390.4" r="0.55" fill="#e07838" fill-opacity="0.55"/>
<circle cx="243.3" cy="390.5" r="0.55" fill="#c87050" fill-opacity="0.4"/>
<circle cx="248.1" cy="382.3" r="0.55" fill="#f0a070" fill-opacity="0.45"/>
<circle cx="240.5" cy="391.0" r="0.55" fill="#c87050" fill-opacity="0.4"/>
<circle cx="233.3" cy="389.3" r="0.55" fill="#d06a30" fill-opacity="0.5"/>
<circle cx="244.4" cy="386.2" r="0.55" fill="#e88a50" fill-opacity="0.5"/>
<circle cx="237.3" cy="380.7" r="0.55" fill="#d06a30" fill-opacity="0.5"/>
<circle cx="238.5" cy="386.9" r="0.55" fill="#d06a30" fill-opacity="0.5"/>
<circle cx="240.0" cy="384.6" r="0.55" fill="#e07838" fill-opacity="0.55"/>
<circle cx="237.9" cy="383.7" r="0.55" fill="#e07838" fill-opacity="0.55"/>
<circle cx="236.0" cy="391.1" r="0.55" fill="#e88a50" fill-opacity="0.5"/>
<circle cx="234.2" cy="388.6" r="0.55" fill="#d06a30" fill-opacity="0.5"/>
<circle cx="243.5" cy="385.8" r="0.55" fill="#e07838" fill-opacity="0.55"/>
<circle cx="240.0" cy="387.2" r="0.55" fill="#f0a070" fill-opacity="0.45"/>
<circle cx="247.1" cy="389.2" r="0.55" fill="#e88a50" fill-opacity="0.5"/>
<circle cx="246.3" cy="393.4" r="0.55" fill="#f0a070" fill-opacity="0.45"/>
<circle cx="238.9" cy="392.2" r="0.55" fill="#c87050" fill-opacity="0.4"/>
<circle cx="236.4" cy="382.9" r="0.55" fill="#e07838" fill-opacity="0.55"/>
<circle cx="238.2" cy="391.0" r="0.55" fill="#e88a50" fill-opacity="0.5"/>
<circle cx="239.0" cy="384.5" r="0.55" fill="#e88a50" fill-opacity="0.5"/>
<circle cx="245.6" cy="388.7" r="0.55" fill="#e07838" fill-opacity="0.55"/>
<circle cx="242.6" cy="392.7" r="0.55" fill="#d06a30" fill-opacity="0.5"/>
<circle cx="237.8" cy="390.5" r="0.55" fill="#e88a50" fill-opacity="0.5"/>
<circle cx="240.0" cy="384.6" r="0.55" fill="#d06a30" fill-opacity="0.5"/>
<circle cx="244.3" cy="396.3" r="0.55" fill="#c87050" fill-opacity="0.4"/>
<circle cx="240.2" cy="387.7" r="0.55" fill="#e07838" fill-opacity="0.55"/>
<circle cx="255.5" cy="388.8" r="0.55" fill="#e88a50" fill-opacity="0.5"/>
<circle cx="246.3" cy="387.8" r="0.55" fill="#d06a30" fill-opacity="0.5"/>
<circle cx="239.5" cy="390.1" r="0.55" fill="#f0a070" fill-opacity="0.45"/>
<circle cx="243.1" cy="382.1" r="0.55" fill="#c87050" fill-opacity="0.4"/>
<circle cx="232.6" cy="388.3" r="0.55" fill="#e88a50" fill-opacity="0.5"/>
<circle cx="235.3" cy="394.6" r="0.55" fill="#e88a50" fill-opacity="0.5"/>
<circle cx="242.3" cy="383.5" r="0.55" fill="#e07838" fill-opacity="0.55"/>
<circle cx="236.2" cy="392.5" r="0.55" fill="#c87050" fill-opacity="0.4"/>
<circle cx="234.9" cy="389.6" r="0.55" fill="#e07838" fill-opacity="0.55"/>
<circle cx="236.5" cy="391.1" r="0.55" fill="#c87050" fill-opacity="0.4"/>
<circle cx="244.9" cy="386.9" r="0.55" fill="#f0a070" fill-opacity="0.45"/>
<circle cx="244.2" cy="382.3" r="0.55" fill="#e07838" fill-opacity="0.55"/>
<circle cx="241.5" cy="390.9" r="0.55" fill="#e88a50" fill-opacity="0.5"/>
<circle cx="242.4" cy="383.1" r="0.55" fill="#e88a50" fill-opacity="0.5"/>
<circle cx="243.8" cy="380.6" r="0.55" fill="#f0a070" fill-opacity="0.45"/>
<circle cx="239.3" cy="393.8" r="0.55" fill="#c87050" fill-opacity="0.4"/>
<circle cx="243.4" cy="379.3" r="0.55" fill="#c87050" fill-opacity="0.4"/>
<circle cx="238.6" cy="385.2" r="0.55" fill="#d06a30" fill-opacity="0.5"/>
<circle cx="242.8" cy="391.6" r="0.55" fill="#f0a070" fill-opacity="0.45"/>
<circle cx="240.0" cy="393.6" r="0.55" fill="#f0a070" fill-opacity="0.45"/>
<circle cx="243.4" cy="389.1" r="0.55" fill="#c87050" fill-opacity="0.4"/>
<circle cx="242.9" cy="385.0" r="0.55" fill="#e07838" fill-opacity="0.55"/>
<circle cx="243.5" cy="390.4" r="0.55" fill="#c87050" fill-opacity="0.4"/>
<circle cx="239.5" cy="388.9" r="0.55" fill="#e07838" fill-opacity="0.55"/>
<circle cx="234.8" cy="391.3" r="0.55" fill="#e07838" fill-opacity="0.55"/>
<circle cx="251.5" cy="387.5" r="0.55" fill="#e88a50" fill-opacity="0.5"/>
<circle cx="237.8" cy="385.1" r="0.55" fill="#f0a070" fill-opacity="0.45"/>
<circle cx="248.8" cy="377.8" r="0.55" fill="#e88a50" fill-opacity="0.5"/>
<circle cx="241.5" cy="385.2" r="0.55" fill="#d06a30" fill-opacity="0.5"/>
<circle cx="234.0" cy="396.0" r="0.55" fill="#f0a070" fill-opacity="0.45"/>
<circle cx="243.7" cy="391.4" r="0.55" fill="#f0a070" fill-opacity="0.45"/>
<circle cx="242.1" cy="393.5" r="0.55" fill="#c87050" fill-opacity="0.4"/>
<circle cx="237.9" cy="387.5" r="0.55" fill="#c87050" fill-opacity="0.4"/>
<circle cx="250.0" cy="386.5" r="0.55" fill="#e07838" fill-opacity="0.55"/>
<circle cx="239.3" cy="388.0" r="0.55" fill="#f0a070" fill-opacity="0.45"/>
<circle cx="244.9" cy="387.6" r="0.55" fill="#e07838" fill-opacity="0.55"/>
<circle cx="242.5" cy="379.9" r="0.55" fill="#f0a070" fill-opacity="0.45"/>
<circle cx="245.6" cy="385.1" r="0.55" fill="#e88a50" fill-opacity="0.5"/>
<circle cx="242.1" cy="389.7" r="0.55" fill="#d06a30" fill-opacity="0.5"/>
<circle cx="248.6" cy="385.2" r="0.55" fill="#e07838" fill-opacity="0.55"/>
<circle cx="250.0" cy="387.5" r="0.55" fill="#e88a50" fill-opacity="0.5"/>
<circle cx="248.1" cy="388.8" r="0.55" fill="#d06a30" fill-opacity="0.5"/>
<circle cx="229.3" cy="388.4" r="0.55" fill="#f0a070" fill-opacity="0.45"/>
<circle cx="245.9" cy="382.9" r="0.55" fill="#e88a50" fill-opacity="0.5"/>
<circle cx="238.3" cy="383.8" r="0.55" fill="#d06a30" fill-opacity="0.5"/>
<circle cx="244.7" cy="386.7" r="0.55" fill="#f0a070" fill-opacity="0.45"/>
<circle cx="252.0" cy="387.1" r="0.55" fill="#e07838" fill-opacity="0.55"/>
<circle cx="245.3" cy="382.2" r="0.55" fill="#d06a30" fill-opacity="0.5"/>
<circle cx="243.5" cy="389.6" r="0.55" fill="#f0a070" fill-opacity="0.45"/>
<circle cx="247.4" cy="394.1" r="0.55" fill="#c87050" fill-opacity="0.4"/>
<circle cx="237.1" cy="380.4" r="0.55" fill="#e88a50" fill-opacity="0.5"/>
<circle cx="239.5" cy="377.0" r="0.55" fill="#d06a30" fill-opacity="0.5"/>
<circle cx="245.2" cy="384.5" r="0.55" fill="#e07838" fill-opacity="0.55"/>
<circle cx="236.9" cy="390.8" r="0.55" fill="#e88a50" fill-opacity="0.5"/>
<circle cx="233.2" cy="381.7" r="0.55" fill="#f0a070" fill-opacity="0.45"/>
<circle cx="240.5" cy="379.8" r="0.55" fill="#d06a30" fill-opacity="0.5"/>
<circle cx="247.9" cy="384.0" r="0.55" fill="#f0a070" fill-opacity="0.45"/>
<circle cx="248.4" cy="393.3" r="0.55" fill="#f0a070" fill-opacity="0.45"/>
<circle cx="238.4" cy="389.2" r="0.55" fill="#c87050" fill-opacity="0.4"/>
<circle cx="234.1" cy="386.5" r="0.55" fill="#f0a070" fill-opacity="0.45"/>
<circle cx="240.1" cy="391.7" r="0.55" fill="#d06a30" fill-opacity="0.5"/>
<circle cx="234.1" cy="380.6" r="0.55" fill="#f0a070" fill-opacity="0.45"/>
<circle cx="246.7" cy="393.9" r="0.55" fill="#e88a50" fill-opacity="0.5"/>
<circle cx="243.1" cy="386.7" r="0.55" fill="#f0a070" fill-opacity="0.45"/>
<circle cx="241.5" cy="395.5" r="0.55" fill="#d06a30" fill-opacity="0.5"/>
<circle cx="234.4" cy="380.6" r="0.55" fill="#c87050" fill-opacity="0.4"/>
<circle cx="241.0" cy="394.4" r="0.55" fill="#e88a50" fill-opacity="0.5"/>
<circle cx="243.8" cy="396.9" r="0.55" fill="#d06a30" fill-opacity="0.5"/>
<circle cx="243.9" cy="381.0" r="0.55" fill="#f0a070" fill-opacity="0.45"/>
<circle cx="239.8" cy="389.3" r="0.55" fill="#d06a30" fill-opacity="0.5"/>
<circle cx="247.2" cy="390.7" r="0.55" fill="#e07838" fill-opacity="0.55"/>
<circle cx="250.4" cy="389.2" r="0.55" fill="#d06a30" fill-opacity="0.5"/>
<circle cx="237.3" cy="383.4" r="0.55" fill="#e88a50" fill-opacity="0.5"/>
<circle cx="244.9" cy="386.0" r="0.55" fill="#c87050" fill-opacity="0.4"/>
<circle cx="238.8" cy="389.2" r="0.55" fill="#e88a50" fill-opacity="0.5"/>
<circle cx="244.2" cy="383.3" r="0.55" fill="#e88a50" fill-opacity="0.5"/>
<circle cx="241.3" cy="388.0" r="0.55" fill="#e07838" fill-opacity="0.55"/>
<circle cx="243.5" cy="382.9" r="0.55" fill="#d06a30" fill-opacity="0.5"/>
<circle cx="241.2" cy="390.9" r="0.55" fill="#e88a50" fill-opacity="0.5"/>
<circle cx="241.7" cy="391.4" r="0.55" fill="#d06a30" fill-opacity="0.5"/>
<circle cx="243.5" cy="388.5" r="0.55" fill="#e88a50" fill-opacity="0.5"/>
<circle cx="240.3" cy="386.1" r="0.55" fill="#e07838" fill-opacity="0.55"/>
<circle cx="244.3" cy="386.4" r="0.55" fill="#d06a30" fill-opacity="0.5"/>
<circle cx="241.0" cy="395.4" r="0.55" fill="#e88a50" fill-opacity="0.5"/>
<circle cx="248.5" cy="388.4" r="0.55" fill="#c87050" fill-opacity="0.4"/>
<circle cx="239.4" cy="374.8" r="0.55" fill="#f0a070" fill-opacity="0.45"/>
<circle cx="245.2" cy="391.5" r="0.55" fill="#e07838" fill-opacity="0.55"/>
<circle cx="244.6" cy="385.5" r="0.55" fill="#e88a50" fill-opacity="0.5"/>
<circle cx="235.8" cy="384.8" r="0.55" fill="#f0a070" fill-opacity="0.45"/>
<circle cx="241.0" cy="389.8" r="0.55" fill="#e07838" fill-opacity="0.55"/>
<circle cx="241.4" cy="386.3" r="0.55" fill="#c87050" fill-opacity="0.4"/>
<circle cx="237.7" cy="393.4" r="0.55" fill="#f0a070" fill-opacity="0.45"/>
<circle cx="237.7" cy="379.3" r="0.55" fill="#d06a30" fill-opacity="0.5"/>
<circle cx="239.5" cy="385.3" r="0.55" fill="#e88a50" fill-opacity="0.5"/>
<circle cx="242.8" cy="392.1" r="0.55" fill="#c87050" fill-opacity="0.4"/>
<circle cx="242.2" cy="382.6" r="0.55" fill="#e07838" fill-opacity="0.55"/>
<circle cx="243.5" cy="387.2" r="0.55" fill="#c87050" fill-opacity="0.4"/>
<circle cx="241.7" cy="393.5" r="0.55" fill="#e07838" fill-opacity="0.55"/>
<circle cx="245.7" cy="382.0" r="0.55" fill="#c87050" fill-opacity="0.4"/>
<circle cx="243.3" cy="387.5" r="0.55" fill="#e88a50" fill-opacity="0.5"/>
<circle cx="246.1" cy="391.0" r="0.55" fill="#f0a070" fill-opacity="0.45"/>
<circle cx="240.6" cy="389.3" r="0.55" fill="#f0a070" fill-opacity="0.45"/>
<circle cx="248.0" cy="393.0" r="0.55" fill="#e88a50" fill-opacity="0.5"/>
<circle cx="235.9" cy="390.6" r="0.55" fill="#e88a50" fill-opacity="0.5"/>
<circle cx="235.1" cy="383.3" r="0.55" fill="#f0a070" fill-opacity="0.45"/>
<circle cx="237.5" cy="391.7" r="0.55" fill="#e07838" fill-opacity="0.55"/>
<circle cx="246.1" cy="380.3" r="0.55" fill="#d06a30" fill-opacity="0.5"/>
<circle cx="239.1" cy="384.2" r="0.55" fill="#d06a30" fill-opacity="0.5"/>
<circle cx="241.0" cy="382.5" r="0.55" fill="#e07838" fill-opacity="0.55"/>
<circle cx="234.9" cy="387.0" r="0.55" fill="#c87050" fill-opacity="0.4"/>
<circle cx="244.7" cy="380.3" r="0.55" fill="#e07838" fill-opacity="0.55"/>
<circle cx="244.8" cy="386.1" r="0.55" fill="#f0a070" fill-opacity="0.45"/>
<circle cx="245.6" cy="392.9" r="0.55" fill="#d06a30" fill-opacity="0.5"/>
<circle cx="252.3" cy="394.8" r="0.55" fill="#e88a50" fill-opacity="0.5"/>
<circle cx="243.6" cy="398.3" r="0.55" fill="#e07838" fill-opacity="0.55"/>
<circle cx="237.3" cy="386.4" r="0.55" fill="#c87050" fill-opacity="0.4"/>
<circle cx="244.4" cy="384.5" r="0.55" fill="#d06a30" fill-opacity="0.5"/>
<circle cx="243.9" cy="384.8" r="0.55" fill="#c87050" fill-opacity="0.4"/>
<circle cx="240.3" cy="389.2" r="0.55" fill="#c87050" fill-opacity="0.4"/>
<circle cx="242.3" cy="382.7" r="0.55" fill="#e07838" fill-opacity="0.55"/>
<circle cx="242.0" cy="395.3" r="0.55" fill="#c87050" fill-opacity="0.4"/>
<circle cx="236.8" cy="386.4" r="0.55" fill="#f0a070" fill-opacity="0.45"/>
<circle cx="251.6" cy="391.3" r="0.55" fill="#d06a30" fill-opacity="0.5"/>
<circle cx="242.8" cy="390.5" r="0.55" fill="#c87050" fill-opacity="0.4"/>
<circle cx="239.6" cy="398.4" r="0.55" fill="#d06a30" fill-opacity="0.5"/>
<circle cx="234.8" cy="388.4" r="0.55" fill="#d06a30" fill-opacity="0.5"/>
<circle cx="239.2" cy="382.4" r="0.55" fill="#e88a50" fill-opacity="0.5"/>
<circle cx="239.0" cy="386.9" r="0.55" fill="#d06a30" fill-opacity="0.5"/>
<circle cx="238.0" cy="395.4" r="0.55" fill="#d06a30" fill-opacity="0.5"/>
<circle cx="240.7" cy="386.7" r="0.55" fill="#d06a30" fill-opacity="0.5"/>
<circle cx="242.6" cy="394.4" r="0.55" fill="#e88a50" fill-opacity="0.5"/>
<circle cx="241.3" cy="394.4" r="0.55" fill="#c87050" fill-opacity="0.4"/>
<circle cx="249.4" cy="391.4" r="0.55" fill="#e88a50" fill-opacity="0.5"/>
<circle cx="242.3" cy="384.7" r="0.55" fill="#c87050" fill-opacity="0.4"/>
<circle cx="243.2" cy="383.9" r="0.55" fill="#c87050" fill-opacity="0.4"/>
<circle cx="240.9" cy="388.6" r="0.55" fill="#f0a070" fill-opacity="0.45"/>
<circle cx="252.9" cy="381.0" r="0.55" fill="#f0a070" fill-opacity="0.45"/>
<circle cx="245.3" cy="392.1" r="0.55" fill="#f0a070" fill-opacity="0.45"/>
<circle cx="238.8" cy="387.1" r="0.55" fill="#c87050" fill-opacity="0.4"/>
<circle cx="244.4" cy="389.9" r="0.55" fill="#e88a50" fill-opacity="0.5"/>
<circle cx="251.9" cy="380.7" r="0.55" fill="#c87050" fill-opacity="0.4"/>
<circle cx="238.9" cy="380.1" r="0.55" fill="#e07838" fill-opacity="0.55"/>
<circle cx="250.7" cy="392.4" r="0.55" fill="#e07838" fill-opacity="0.55"/>
<circle cx="243.5" cy="388.1" r="0.55" fill="#e88a50" fill-opacity="0.5"/>
<circle cx="239.6" cy="383.5" r="0.55" fill="#c87050" fill-opacity="0.4"/>
<circle cx="243.0" cy="383.4" r="0.55" fill="#e88a50" fill-opacity="0.5"/>
<circle cx="240.3" cy="386.0" r="0.55" fill="#f0a070" fill-opacity="0.45"/>
<circle cx="243.3" cy="386.9" r="0.55" fill="#e07838" fill-opacity="0.55"/>
<circle cx="240.1" cy="379.5" r="0.55" fill="#d06a30" fill-opacity="0.5"/>
<circle cx="240.5" cy="393.4" r="0.55" fill="#d06a30" fill-opacity="0.5"/>
<circle cx="247.6" cy="385.7" r="0.55" fill="#e88a50" fill-opacity="0.5"/>
<circle cx="238.6" cy="387.5" r="0.55" fill="#e88a50" fill-opacity="0.5"/>
<circle cx="232.4" cy="388.5" r="0.55" fill="#c87050" fill-opacity="0.4"/>
<circle cx="244.1" cy="391.4" r="0.55" fill="#e88a50" fill-opacity="0.5"/>
<circle cx="242.3" cy="389.3" r="0.55" fill="#e07838" fill-opacity="0.55"/>
<circle cx="245.8" cy="390.6" r="0.55" fill="#d06a30" fill-opacity="0.5"/>
<circle cx="234.9" cy="388.9" r="0.55" fill="#e88a50" fill-opacity="0.5"/>
<circle cx="240.9" cy="388.9" r="0.55" fill="#e88a50" fill-opacity="0.5"/>
<circle cx="235.6" cy="384.4" r="0.55" fill="#d06a30" fill-opacity="0.5"/>
<circle cx="230.6" cy="387.4" r="0.55" fill="#f0a070" fill-opacity="0.45"/>
<circle cx="245.8" cy="391.9" r="0.55" fill="#f0a070" fill-opacity="0.45"/>
<circle cx="242.2" cy="382.9" r="0.55" fill="#d06a30" fill-opacity="0.5"/>
<circle cx="242.7" cy="387.3" r="0.55" fill="#e07838" fill-opacity="0.55"/>
<circle cx="238.4" cy="395.9" r="0.55" fill="#c87050" fill-opacity="0.4"/>
<circle cx="243.8" cy="386.5" r="0.55" fill="#e07838" fill-opacity="0.55"/>
<circle cx="235.8" cy="382.8" r="0.55" fill="#f0a070" fill-opacity="0.45"/>
<circle cx="240.4" cy="388.7" r="0.55" fill="#c87050" fill-opacity="0.4"/>
<circle cx="246.5" cy="378.7" r="0.55" fill="#e07838" fill-opacity="0.55"/>
<circle cx="243.6" cy="387.4" r="0.55" fill="#f0a070" fill-opacity="0.45"/>
<circle cx="237.9" cy="388.2" r="0.55" fill="#c87050" fill-opacity="0.4"/>
<circle cx="244.1" cy="385.3" r="0.55" fill="#f0a070" fill-opacity="0.45"/>
<circle cx="247.5" cy="390.1" r="0.55" fill="#e07838" fill-opacity="0.55"/>
<circle cx="237.5" cy="380.9" r="0.55" fill="#f0a070" fill-opacity="0.45"/>
<circle cx="241.3" cy="387.9" r="0.55" fill="#c87050" fill-opacity="0.4"/>
<circle cx="229.8" cy="390.5" r="0.55" fill="#e07838" fill-opacity="0.55"/>
<circle cx="245.4" cy="392.3" r="0.55" fill="#e88a50" fill-opacity="0.5"/>
<circle cx="236.2" cy="381.9" r="0.55" fill="#e88a50" fill-opacity="0.5"/>
<circle cx="243.6" cy="386.4" r="0.55" fill="#f0a070" fill-opacity="0.45"/>
<circle cx="247.2" cy="378.8" r="0.55" fill="#e88a50" fill-opacity="0.5"/>
<circle cx="243.4" cy="391.2" r="0.55" fill="#d06a30" fill-opacity="0.5"/>
<circle cx="246.4" cy="394.6" r="0.55" fill="#d06a30" fill-opacity="0.5"/>
<circle cx="242.7" cy="386.7" r="0.55" fill="#e88a50" fill-opacity="0.5"/>
<circle cx="239.2" cy="379.1" r="0.55" fill="#d06a30" fill-opacity="0.5"/>
<circle cx="237.9" cy="393.5" r="0.55" fill="#e88a50" fill-opacity="0.5"/>
<circle cx="242.6" cy="387.3" r="0.55" fill="#f0a070" fill-opacity="0.45"/>
<circle cx="243.9" cy="388.3" r="0.55" fill="#e07838" fill-opacity="0.55"/>
<circle cx="239.3" cy="383.9" r="0.55" fill="#e07838" fill-opacity="0.55"/>
<circle cx="238.4" cy="382.6" r="0.55" fill="#e88a50" fill-opacity="0.5"/>
<circle cx="238.2" cy="386.1" r="0.55" fill="#d06a30" fill-opacity="0.5"/>
<circle cx="245.0" cy="388.0" r="0.55" fill="#e07838" fill-opacity="0.55"/>
<circle cx="248.4" cy="382.0" r="0.55" fill="#c87050" fill-opacity="0.4"/>
<circle cx="234.2" cy="392.0" r="0.55" fill="#c87050" fill-opacity="0.4"/>
<circle cx="236.7" cy="396.9" r="0.55" fill="#f0a070" fill-opacity="0.45"/>
<circle cx="239.0" cy="385.4" r="0.55" fill="#d06a30" fill-opacity="0.5"/>
<circle cx="241.2" cy="381.9" r="0.55" fill="#d06a30" fill-opacity="0.5"/>
<circle cx="239.3" cy="383.2" r="0.55" fill="#e88a50" fill-opacity="0.5"/>
<circle cx="239.9" cy="392.6" r="0.55" fill="#c87050" fill-opacity="0.4"/>
<circle cx="243.3" cy="381.0" r="0.55" fill="#f0a070" fill-opacity="0.45"/>
<circle cx="245.8" cy="388.5" r="0.55" fill="#f0a070" fill-opacity="0.45"/>
<circle cx="237.7" cy="391.9" r="0.55" fill="#c87050" fill-opacity="0.4"/>
<circle cx="237.6" cy="398.9" r="0.55" fill="#f0a070" fill-opacity="0.45"/>
<circle cx="242.1" cy="384.4" r="0.55" fill="#e88a50" fill-opacity="0.5"/>
<circle cx="232.1" cy="388.6" r="0.55" fill="#c87050" fill-opacity="0.4"/>
<circle cx="238.9" cy="380.8" r="0.55" fill="#e88a50" fill-opacity="0.5"/>
<circle cx="244.7" cy="386.0" r="0.55" fill="#e07838" fill-opacity="0.55"/>
<circle cx="243.8" cy="384.7" r="0.55" fill="#c87050" fill-opacity="0.4"/>
<circle cx="242.0" cy="384.9" r="0.55" fill="#e07838" fill-opacity="0.55"/>
<circle cx="246.9" cy="384.9" r="0.55" fill="#f0a070" fill-opacity="0.45"/>
<circle cx="246.5" cy="383.6" r="0.55" fill="#d06a30" fill-opacity="0.5"/>
<circle cx="238.6" cy="383.7" r="0.55" fill="#e07838" fill-opacity="0.55"/>
<circle cx="237.0" cy="387.3" r="0.55" fill="#e07838" fill-opacity="0.55"/>
<circle cx="240.1" cy="401.2" r="0.55" fill="#f0a070" fill-opacity="0.45"/>
<circle cx="245.4" cy="396.7" r="0.55" fill="#e07838" fill-opacity="0.55"/>
<circle cx="240.1" cy="395.3" r="0.55" fill="#e88a50" fill-opacity="0.5"/>
<circle cx="246.1" cy="383.3" r="0.55" fill="#d06a30" fill-opacity="0.5"/>
<circle cx="238.9" cy="389.9" r="0.55" fill="#f0a070" fill-opacity="0.45"/>
<circle cx="242.5" cy="388.9" r="0.55" fill="#d06a30" fill-opacity="0.5"/>
<circle cx="244.6" cy="399.7" r="0.55" fill="#d06a30" fill-opacity="0.5"/>
<circle cx="247.4" cy="395.6" r="0.55" fill="#e07838" fill-opacity="0.55"/>
<circle cx="240.7" cy="399.8" r="0.55" fill="#e88a50" fill-opacity="0.5"/>
<circle cx="247.4" cy="384.7" r="0.55" fill="#e07838" fill-opacity="0.55"/>
<circle cx="234.4" cy="389.0" r="0.55" fill="#c87050" fill-opacity="0.4"/>
<circle cx="232.9" cy="383.1" r="0.55" fill="#f0a070" fill-opacity="0.45"/>
<circle cx="246.3" cy="384.0" r="0.55" fill="#c87050" fill-opacity="0.4"/>
<circle cx="239.9" cy="385.5" r="0.55" fill="#d06a30" fill-opacity="0.5"/>
<circle cx="238.3" cy="383.5" r="0.55" fill="#f0a070" fill-opacity="0.45"/>
<circle cx="242.7" cy="389.3" r="0.55" fill="#e07838" fill-opacity="0.55"/>
<circle cx="244.3" cy="397.4" r="0.55" fill="#e88a50" fill-opacity="0.5"/>
<circle cx="236.4" cy="389.3" r="0.55" fill="#c87050" fill-opacity="0.4"/>
<circle cx="245.7" cy="399.7" r="0.55" fill="#e07838" fill-opacity="0.55"/>
<circle cx="235.0" cy="391.7" r="0.55" fill="#f0a070" fill-opacity="0.45"/>
<circle cx="248.1" cy="386.0" r="0.55" fill="#e88a50" fill-opacity="0.5"/>
<circle cx="241.7" cy="387.9" r="0.55" fill="#c87050" fill-opacity="0.4"/>
<circle cx="237.1" cy="379.6" r="0.55" fill="#e07838" fill-opacity="0.55"/>
<circle cx="244.1" cy="394.2" r="0.55" fill="#d06a30" fill-opacity="0.5"/>
<circle cx="241.4" cy="383.0" r="0.55" fill="#e07838" fill-opacity="0.55"/>
<circle cx="241.3" cy="394.9" r="0.55" fill="#e07838" fill-opacity="0.55"/>
<circle cx="236.8" cy="380.5" r="0.55" fill="#e88a50" fill-opacity="0.5"/>
<circle cx="246.9" cy="396.8" r="0.55" fill="#d06a30" fill-opacity="0.5"/>
<circle cx="237.0" cy="385.4" r="0.55" fill="#c87050" fill-opacity="0.4"/>
<circle cx="238.5" cy="396.2" r="0.55" fill="#e88a50" fill-opacity="0.5"/>
<circle cx="236.6" cy="385.2" r="0.55" fill="#f0a070" fill-opacity="0.45"/>
<circle cx="242.7" cy="389.2" r="0.55" fill="#c87050" fill-opacity="0.4"/>
<circle cx="241.4" cy="383.0" r="0.55" fill="#d06a30" fill-opacity="0.5"/>
<circle cx="241.4" cy="377.8" r="0.55" fill="#e07838" fill-opacity="0.55"/>
<circle cx="240.4" cy="382.6" r="0.55" fill="#e88a50" fill-opacity="0.5"/>
<circle cx="257.1" cy="387.5" r="0.55" fill="#e88a50" fill-opacity="0.5"/>
<circle cx="242.0" cy="386.3" r="0.55" fill="#c87050" fill-opacity="0.4"/>
<circle cx="247.3" cy="381.5" r="0.55" fill="#f0a070" fill-opacity="0.45"/>
<circle cx="245.4" cy="389.7" r="0.55" fill="#f0a070" fill-opacity="0.45"/>
<circle cx="235.8" cy="386.2" r="0.55" fill="#d06a30" fill-opacity="0.5"/>
<circle cx="241.3" cy="386.0" r="0.55" fill="#d06a30" fill-opacity="0.5"/>
<circle cx="240.5" cy="392.6" r="0.55" fill="#e07838" fill-opacity="0.55"/>
<circle cx="242.4" cy="391.1" r="0.55" fill="#e07838" fill-opacity="0.55"/>
<circle cx="233.2" cy="386.6" r="0.55" fill="#c87050" fill-opacity="0.4"/>
<circle cx="244.2" cy="388.9" r="0.55" fill="#d06a30" fill-opacity="0.5"/>
<circle cx="236.2" cy="395.3" r="0.55" fill="#e07838" fill-opacity="0.55"/>
<circle cx="230.5" cy="390.4" r="0.55" fill="#c87050" fill-opacity="0.4"/>
<circle cx="245.7" cy="394.0" r="0.55" fill="#e07838" fill-opacity="0.55"/>
<circle cx="235.5" cy="391.7" r="0.55" fill="#e88a50" fill-opacity="0.5"/>
<circle cx="246.5" cy="389.3" r="0.55" fill="#d06a30" fill-opacity="0.5"/>
<circle cx="245.8" cy="383.1" r="0.55" fill="#c87050" fill-opacity="0.4"/>
<circle cx="246.3" cy="389.0" r="0.55" fill="#c87050" fill-opacity="0.4"/>
<circle cx="245.7" cy="386.5" r="0.55" fill="#f0a070" fill-opacity="0.45"/>
<circle cx="236.6" cy="391.0" r="0.55" fill="#c87050" fill-opacity="0.4"/>
<circle cx="239.6" cy="394.7" r="0.55" fill="#c87050" fill-opacity="0.4"/>
<circle cx="237.6" cy="379.2" r="0.55" fill="#e07838" fill-opacity="0.55"/>
<circle cx="240.5" cy="379.3" r="0.55" fill="#d06a30" fill-opacity="0.5"/>
<circle cx="241.8" cy="391.1" r="0.55" fill="#e07838" fill-opacity="0.55"/>
<circle cx="232.8" cy="386.0" r="0.55" fill="#d06a30" fill-opacity="0.5"/>
<circle cx="235.2" cy="383.9" r="0.55" fill="#c87050" fill-opacity="0.4"/>
<circle cx="243.4" cy="388.7" r="0.55" fill="#e07838" fill-opacity="0.55"/>
<circle cx="239.9" cy="380.5" r="0.55" fill="#e88a50" fill-opacity="0.5"/>
<circle cx="239.3" cy="387.5" r="0.55" fill="#d06a30" fill-opacity="0.5"/>
<circle cx="239.4" cy="390.5" r="0.55" fill="#f0a070" fill-opacity="0.45"/>
<circle cx="245.2" cy="383.7" r="0.55" fill="#e88a50" fill-opacity="0.5"/>
<circle cx="247.8" cy="387.5" r="0.55" fill="#d06a30" fill-opacity="0.5"/>
<circle cx="245.4" cy="398.3" r="0.55" fill="#d06a30" fill-opacity="0.5"/>
<circle cx="235.9" cy="379.6" r="0.55" fill="#d06a30" fill-opacity="0.5"/>
<circle cx="246.5" cy="389.7" r="0.55" fill="#c87050" fill-opacity="0.4"/>
<circle cx="243.1" cy="382.1" r="0.55" fill="#e88a50" fill-opacity="0.5"/>
<circle cx="241.3" cy="394.1" r="0.55" fill="#c87050" fill-opacity="0.4"/>
<circle cx="238.2" cy="397.9" r="0.55" fill="#e88a50" fill-opacity="0.5"/>
<circle cx="244.3" cy="381.5" r="0.55" fill="#e88a50" fill-opacity="0.5"/>
<circle cx="245.4" cy="392.3" r="0.55" fill="#d06a30" fill-opacity="0.5"/>
<circle cx="238.2" cy="377.8" r="0.55" fill="#f0a070" fill-opacity="0.45"/>
<circle cx="238.5" cy="391.8" r="0.55" fill="#d06a30" fill-opacity="0.5"/>
<circle cx="240.0" cy="386.3" r="0.55" fill="#e07838" fill-opacity="0.55"/>
<circle cx="234.9" cy="387.0" r="0.55" fill="#f0a070" fill-opacity="0.45"/>
<circle cx="235.6" cy="386.0" r="0.55" fill="#e88a50" fill-opacity="0.5"/>
<circle cx="234.5" cy="396.8" r="0.55" fill="#c87050" fill-opacity="0.4"/>
<circle cx="240.9" cy="383.5" r="0.55" fill="#d06a30" fill-opacity="0.5"/>
<circle cx="247.9" cy="390.8" r="0.55" fill="#f0a070" fill-opacity="0.45"/>
<circle cx="239.9" cy="377.3" r="0.55" fill="#c87050" fill-opacity="0.4"/>
<circle cx="230.2" cy="392.5" r="0.55" fill="#c87050" fill-opacity="0.4"/>
<circle cx="238.9" cy="393.1" r="0.55" fill="#d06a30" fill-opacity="0.5"/>
<circle cx="239.8" cy="391.5" r="0.55" fill="#e07838" fill-opacity="0.55"/>
<circle cx="246.4" cy="389.1" r="0.55" fill="#d06a30" fill-opacity="0.5"/>
<circle cx="245.3" cy="388.9" r="0.55" fill="#c87050" fill-opacity="0.4"/>
<circle cx="238.3" cy="394.1" r="0.55" fill="#e88a50" fill-opacity="0.5"/>
<circle cx="243.7" cy="393.6" r="0.55" fill="#c87050" fill-opacity="0.4"/>
<circle cx="245.2" cy="388.3" r="0.55" fill="#e07838" fill-opacity="0.55"/>
<circle cx="244.0" cy="391.2" r="0.55" fill="#e88a50" fill-opacity="0.5"/>
<circle cx="242.7" cy="374.6" r="0.55" fill="#f0a070" fill-opacity="0.45"/>
<circle cx="239.6" cy="386.1" r="0.55" fill="#e88a50" fill-opacity="0.5"/>
<circle cx="242.4" cy="393.0" r="0.55" fill="#c87050" fill-opacity="0.4"/>
<circle cx="238.5" cy="387.4" r="0.55" fill="#c87050" fill-opacity="0.4"/>
<circle cx="239.0" cy="384.8" r="0.55" fill="#c87050" fill-opacity="0.4"/>
<circle cx="249.3" cy="386.9" r="0.55" fill="#e07838" fill-opacity="0.55"/>
<circle cx="245.1" cy="394.5" r="0.55" fill="#c87050" fill-opacity="0.4"/>
<circle cx="248.9" cy="387.0" r="0.55" fill="#d06a30" fill-opacity="0.5"/>
<circle cx="248.9" cy="390.2" r="0.55" fill="#d06a30" fill-opacity="0.5"/>
<circle cx="242.1" cy="391.7" r="0.55" fill="#f0a070" fill-opacity="0.45"/>
<circle cx="245.5" cy="389.7" r="0.55" fill="#e07838" fill-opacity="0.55"/>
<circle cx="248.0" cy="392.7" r="0.55" fill="#f0a070" fill-opacity="0.45"/>
<circle cx="243.6" cy="378.1" r="0.55" fill="#c87050" fill-opacity="0.4"/>
<circle cx="250.2" cy="391.6" r="0.55" fill="#c87050" fill-opacity="0.4"/>
<circle cx="230.2" cy="389.3" r="0.55" fill="#c87050" fill-opacity="0.4"/>
<circle cx="239.0" cy="388.0" r="0.55" fill="#d06a30" fill-opacity="0.5"/>
<circle cx="241.1" cy="388.9" r="0.55" fill="#e07838" fill-opacity="0.55"/>
<circle cx="235.4" cy="391.4" r="0.55" fill="#f0a070" fill-opacity="0.45"/>
<circle cx="243.1" cy="380.7" r="0.55" fill="#c87050" fill-opacity="0.4"/>
<circle cx="244.5" cy="379.5" r="0.55" fill="#d06a30" fill-opacity="0.5"/>
<circle cx="244.0" cy="390.3" r="0.55" fill="#f0a070" fill-opacity="0.45"/>
<circle cx="242.4" cy="381.8" r="0.55" fill="#c87050" fill-opacity="0.4"/>
<circle cx="231.5" cy="391.3" r="0.55" fill="#e07838" fill-opacity="0.55"/>
<circle cx="251.2" cy="390.8" r="0.55" fill="#c87050" fill-opacity="0.4"/>
<circle cx="237.0" cy="395.8" r="0.55" fill="#d06a30" fill-opacity="0.5"/>
<circle cx="241.2" cy="379.9" r="0.55" fill="#c87050" fill-opacity="0.4"/>
<circle cx="242.0" cy="386.0" r="0.55" fill="#e07838" fill-opacity="0.55"/>
<circle cx="240.3" cy="382.5" r="0.55" fill="#e07838" fill-opacity="0.55"/>
<circle cx="234.4" cy="388.5" r="0.55" fill="#c87050" fill-opacity="0.4"/>
<circle cx="234.8" cy="383.9" r="0.55" fill="#e07838" fill-opacity="0.55"/>
<circle cx="233.8" cy="389.3" r="0.55" fill="#c87050" fill-opacity="0.4"/>
<circle cx="245.3" cy="389.3" r="0.55" fill="#e07838" fill-opacity="0.55"/>
<circle cx="237.3" cy="391.1" r="0.55" fill="#d06a30" fill-opacity="0.5"/>
<circle cx="241.2" cy="391.9" r="0.55" fill="#f0a070" fill-opacity="0.45"/>
<circle cx="240.4" cy="385.6" r="0.55" fill="#e07838" fill-opacity="0.55"/>
<circle cx="247.4" cy="388.1" r="0.55" fill="#e88a50" fill-opacity="0.5"/>
<circle cx="237.6" cy="387.1" r="0.55" fill="#e07838" fill-opacity="0.55"/>
<circle cx="233.1" cy="383.6" r="0.55" fill="#d06a30" fill-opacity="0.5"/>
<circle cx="242.2" cy="389.6" r="0.55" fill="#f0a070" fill-opacity="0.45"/>
<circle cx="248.6" cy="391.9" r="0.55" fill="#c87050" fill-opacity="0.4"/>
<circle cx="240.4" cy="377.3" r="0.55" fill="#e07838" fill-opacity="0.55"/>
<circle cx="242.8" cy="377.9" r="0.55" fill="#c87050" fill-opacity="0.4"/>
<circle cx="240.6" cy="382.3" r="0.55" fill="#e07838" fill-opacity="0.55"/>
<circle cx="241.3" cy="387.8" r="0.55" fill="#d06a30" fill-opacity="0.5"/>
<circle cx="236.9" cy="386.7" r="0.55" fill="#d06a30" fill-opacity="0.5"/>
<circle cx="244.6" cy="386.2" r="0.55" fill="#e07838" fill-opacity="0.55"/>
<circle cx="239.8" cy="387.2" r="0.55" fill="#c87050" fill-opacity="0.4"/>
<circle cx="239.0" cy="382.6" r="0.55" fill="#f0a070" fill-opacity="0.45"/>
<circle cx="236.1" cy="390.4" r="0.55" fill="#e07838" fill-opacity="0.55"/>
<circle cx="239.2" cy="380.0" r="0.55" fill="#e07838" fill-opacity="0.55"/>
<circle cx="241.2" cy="389.5" r="0.55" fill="#e88a50" fill-opacity="0.5"/>
<circle cx="234.8" cy="386.8" r="0.55" fill="#f0a070" fill-opacity="0.45"/>
<circle cx="243.7" cy="387.3" r="0.55" fill="#e07838" fill-opacity="0.55"/>
<circle cx="240.7" cy="379.3" r="0.55" fill="#e07838" fill-opacity="0.55"/>
<circle cx="244.1" cy="390.3" r="0.55" fill="#e88a50" fill-opacity="0.5"/>
<circle cx="241.3" cy="379.7" r="0.55" fill="#d06a30" fill-opacity="0.5"/>
<circle cx="243.9" cy="389.5" r="0.55" fill="#e88a50" fill-opacity="0.5"/>
<circle cx="247.4" cy="391.0" r="0.55" fill="#e88a50" fill-opacity="0.5"/>
<circle cx="235.9" cy="383.7" r="0.55" fill="#e07838" fill-opacity="0.55"/>
<circle cx="233.5" cy="395.3" r="0.55" fill="#e88a50" fill-opacity="0.5"/>
<circle cx="246.2" cy="393.7" r="0.55" fill="#d06a30" fill-opacity="0.5"/>
<circle cx="249.4" cy="387.8" r="0.55" fill="#c87050" fill-opacity="0.4"/>
<circle cx="237.1" cy="390.5" r="0.55" fill="#e88a50" fill-opacity="0.5"/>
<circle cx="241.7" cy="388.2" r="0.55" fill="#e07838" fill-opacity="0.55"/>
<circle cx="233.2" cy="384.8" r="0.55" fill="#f0a070" fill-opacity="0.45"/>
<circle cx="237.1" cy="383.5" r="0.55" fill="#e07838" fill-opacity="0.55"/>
<circle cx="243.2" cy="384.5" r="0.55" fill="#e88a50" fill-opacity="0.5"/>
<circle cx="236.9" cy="394.3" r="0.55" fill="#f0a070" fill-opacity="0.45"/>
<circle cx="233.9" cy="391.6" r="0.55" fill="#f0a070" fill-opacity="0.45"/>
<circle cx="240.3" cy="378.1" r="0.55" fill="#c87050" fill-opacity="0.4"/>
<circle cx="246.6" cy="384.4" r="0.55" fill="#f0a070" fill-opacity="0.45"/>
<circle cx="245.3" cy="390.1" r="0.55" fill="#e88a50" fill-opacity="0.5"/>
<circle cx="247.5" cy="382.9" r="0.55" fill="#c87050" fill-opacity="0.4"/>
<circle cx="244.7" cy="383.2" r="0.55" fill="#e07838" fill-opacity="0.55"/>
<circle cx="243.0" cy="381.7" r="0.55" fill="#f0a070" fill-opacity="0.45"/>
<circle cx="238.3" cy="385.5" r="0.55" fill="#c87050" fill-opacity="0.4"/>
<circle cx="243.8" cy="393.7" r="0.55" fill="#e88a50" fill-opacity="0.5"/>
<circle cx="233.8" cy="387.1" r="0.55" fill="#d06a30" fill-opacity="0.5"/>
<circle cx="230.3" cy="387.1" r="0.55" fill="#f0a070" fill-opacity="0.45"/>
<circle cx="239.3" cy="384.7" r="0.55" fill="#d06a30" fill-opacity="0.5"/>
<circle cx="234.9" cy="385.5" r="0.55" fill="#e88a50" fill-opacity="0.5"/>
<circle cx="241.5" cy="388.7" r="0.55" fill="#e07838" fill-opacity="0.55"/>
<circle cx="231.2" cy="390.0" r="0.55" fill="#f0a070" fill-opacity="0.45"/>
<circle cx="233.9" cy="389.3" r="0.55" fill="#c87050" fill-opacity="0.4"/>
<circle cx="242.4" cy="385.6" r="0.55" fill="#c87050" fill-opacity="0.4"/>
<circle cx="239.2" cy="385.7" r="0.55" fill="#f0a070" fill-opacity="0.45"/>
<circle cx="237.1" cy="392.2" r="0.55" fill="#e07838" fill-opacity="0.55"/>
<circle cx="232.6" cy="387.0" r="0.55" fill="#c87050" fill-opacity="0.4"/>
<circle cx="238.0" cy="388.9" r="0.55" fill="#f0a070" fill-opacity="0.45"/>
<circle cx="241.3" cy="389.4" r="0.55" fill="#e88a50" fill-opacity="0.5"/>
<circle cx="239.8" cy="383.9" r="0.55" fill="#d06a30" fill-opacity="0.5"/>
<circle cx="243.4" cy="383.5" r="0.55" fill="#e88a50" fill-opacity="0.5"/>
<circle cx="238.3" cy="389.0" r="0.55" fill="#f0a070" fill-opacity="0.45"/>
<circle cx="239.5" cy="384.0" r="0.55" fill="#e07838" fill-opacity="0.55"/>
<circle cx="241.6" cy="381.1" r="0.55" fill="#c87050" fill-opacity="0.4"/>
<circle cx="247.4" cy="386.0" r="0.55" fill="#f0a070" fill-opacity="0.45"/>
<circle cx="231.4" cy="383.9" r="0.55" fill="#e88a50" fill-opacity="0.5"/>
<circle cx="245.3" cy="384.3" r="0.55" fill="#e88a50" fill-opacity="0.5"/>
<circle cx="247.8" cy="393.9" r="0.55" fill="#e88a50" fill-opacity="0.5"/>
<circle cx="248.1" cy="391.3" r="0.55" fill="#c87050" fill-opacity="0.4"/>
<circle cx="246.2" cy="390.7" r="0.55" fill="#c87050" fill-opacity="0.4"/>
<circle cx="242.7" cy="385.2" r="0.55" fill="#e88a50" fill-opacity="0.5"/>
<circle cx="236.6" cy="389.6" r="0.55" fill="#d06a30" fill-opacity="0.5"/>
<circle cx="244.2" cy="386.2" r="0.55" fill="#c87050" fill-opacity="0.4"/>
<circle cx="245.4" cy="393.8" r="0.55" fill="#f0a070" fill-opacity="0.45"/>
<circle cx="243.3" cy="394.9" r="0.55" fill="#e07838" fill-opacity="0.55"/>
<circle cx="236.0" cy="385.7" r="0.55" fill="#c87050" fill-opacity="0.4"/>
<circle cx="242.3" cy="387.9" r="0.55" fill="#f0a070" fill-opacity="0.45"/>
<circle cx="239.7" cy="391.5" r="0.55" fill="#e07838" fill-opacity="0.55"/>
<circle cx="246.4" cy="389.6" r="0.55" fill="#d06a30" fill-opacity="0.5"/>
<circle cx="247.4" cy="394.5" r="0.55" fill="#e88a50" fill-opacity="0.5"/>
<circle cx="242.8" cy="396.0" r="0.55" fill="#e07838" fill-opacity="0.55"/>
<circle cx="243.9" cy="380.9" r="0.55" fill="#f0a070" fill-opacity="0.45"/>
<circle cx="237.8" cy="388.7" r="0.55" fill="#e88a50" fill-opacity="0.5"/>
<circle cx="240.6" cy="395.6" r="0.55" fill="#e88a50" fill-opacity="0.5"/>
<circle cx="234.5" cy="392.1" r="0.55" fill="#e88a50" fill-opacity="0.5"/>
<circle cx="242.8" cy="383.0" r="0.55" fill="#e88a50" fill-opacity="0.5"/>
<circle cx="247.1" cy="389.7" r="0.55" fill="#e07838" fill-opacity="0.55"/>
<circle cx="241.2" cy="396.2" r="0.55" fill="#c87050" fill-opacity="0.4"/>
<circle cx="246.7" cy="389.0" r="0.55" fill="#e88a50" fill-opacity="0.5"/>
<circle cx="237.4" cy="381.3" r="0.55" fill="#e88a50" fill-opacity="0.5"/>
<circle cx="241.1" cy="382.8" r="0.55" fill="#d06a30" fill-opacity="0.5"/>
<circle cx="234.5" cy="393.1" r="0.55" fill="#d06a30" fill-opacity="0.5"/>
<circle cx="244.1" cy="388.4" r="0.55" fill="#f0a070" fill-opacity="0.45"/>
<circle cx="246.5" cy="394.0" r="0.55" fill="#c87050" fill-opacity="0.4"/>
<circle cx="250.0" cy="381.6" r="0.55" fill="#e88a50" fill-opacity="0.5"/>
<circle cx="248.5" cy="388.0" r="0.55" fill="#e88a50" fill-opacity="0.5"/>
<circle cx="245.3" cy="391.3" r="0.55" fill="#e88a50" fill-opacity="0.5"/>
<circle cx="237.0" cy="385.4" r="0.55" fill="#e88a50" fill-opacity="0.5"/>
<circle cx="244.6" cy="382.7" r="0.55" fill="#f0a070" fill-opacity="0.45"/>
<circle cx="245.7" cy="386.1" r="0.55" fill="#e07838" fill-opacity="0.55"/>
<circle cx="244.1" cy="385.3" r="0.55" fill="#d06a30" fill-opacity="0.5"/>
<circle cx="240.9" cy="384.3" r="0.55" fill="#f0a070" fill-opacity="0.45"/>
<circle cx="243.1" cy="388.7" r="0.55" fill="#f0a070" fill-opacity="0.45"/>
<circle cx="235.9" cy="390.1" r="0.55" fill="#e07838" fill-opacity="0.55"/>
<circle cx="239.8" cy="387.1" r="0.55" fill="#c87050" fill-opacity="0.4"/>
<circle cx="240.9" cy="389.6" r="0.55" fill="#e07838" fill-opacity="0.55"/>
<circle cx="237.6" cy="379.7" r="0.55" fill="#d06a30" fill-opacity="0.5"/>
<circle cx="238.6" cy="378.7" r="0.55" fill="#d06a30" fill-opacity="0.5"/>
<circle cx="246.5" cy="385.7" r="0.55" fill="#d06a30" fill-opacity="0.5"/>
<circle cx="239.3" cy="379.2" r="0.55" fill="#e88a50" fill-opacity="0.5"/>
<circle cx="250.8" cy="396.7" r="0.55" fill="#e07838" fill-opacity="0.55"/>
<circle cx="248.5" cy="387.2" r="0.55" fill="#e88a50" fill-opacity="0.5"/>
<circle cx="243.5" cy="394.5" r="0.55" fill="#e07838" fill-opacity="0.55"/>
<circle cx="238.7" cy="382.3" r="0.55" fill="#f0a070" fill-opacity="0.45"/>
<circle cx="242.3" cy="391.9" r="0.55" fill="#f0a070" fill-opacity="0.45"/>
<circle cx="235.9" cy="387.6" r="0.55" fill="#c87050" fill-opacity="0.4"/>
<circle cx="237.5" cy="387.6" r="0.55" fill="#d06a30" fill-opacity="0.5"/>
<circle cx="245.6" cy="393.4" r="0.55" fill="#f0a070" fill-opacity="0.45"/>
<circle cx="243.1" cy="390.1" r="0.55" fill="#e07838" fill-opacity="0.55"/>
<circle cx="242.8" cy="390.0" r="0.55" fill="#d06a30" fill-opacity="0.5"/>
<circle cx="238.2" cy="385.6" r="0.55" fill="#f0a070" fill-opacity="0.45"/>
<circle cx="239.9" cy="378.9" r="0.55" fill="#f0a070" fill-opacity="0.45"/>
<circle cx="228.9" cy="385.2" r="0.55" fill="#d06a30" fill-opacity="0.5"/>
<circle cx="244.3" cy="385.9" r="0.55" fill="#f0a070" fill-opacity="0.45"/>
<circle cx="246.3" cy="381.0" r="0.55" fill="#f0a070" fill-opacity="0.45"/>
<circle cx="246.8" cy="394.3" r="0.55" fill="#d06a30" fill-opacity="0.5"/>
<circle cx="240.5" cy="388.1" r="0.55" fill="#c87050" fill-opacity="0.4"/>
<circle cx="238.5" cy="391.0" r="0.55" fill="#e07838" fill-opacity="0.55"/>
<circle cx="231.9" cy="384.3" r="0.55" fill="#c87050" fill-opacity="0.4"/>
<circle cx="245.0" cy="392.1" r="0.55" fill="#c87050" fill-opacity="0.4"/>
<circle cx="240.9" cy="383.3" r="0.55" fill="#e07838" fill-opacity="0.55"/>
<circle cx="236.5" cy="396.2" r="0.55" fill="#d06a30" fill-opacity="0.5"/>
<circle cx="242.2" cy="386.4" r="0.55" fill="#f0a070" fill-opacity="0.45"/>
<circle cx="231.8" cy="385.2" r="0.55" fill="#d06a30" fill-opacity="0.5"/>
<circle cx="241.2" cy="387.6" r="0.55" fill="#d06a30" fill-opacity="0.5"/>
<circle cx="241.7" cy="388.9" r="0.55" fill="#e88a50" fill-opacity="0.5"/>
<circle cx="238.4" cy="396.0" r="0.55" fill="#f0a070" fill-opacity="0.45"/>
<circle cx="238.8" cy="396.0" r="0.55" fill="#c87050" fill-opacity="0.4"/>
<circle cx="244.9" cy="384.4" r="0.55" fill="#c87050" fill-opacity="0.4"/>
<circle cx="248.8" cy="381.9" r="0.55" fill="#f0a070" fill-opacity="0.45"/>
<circle cx="241.8" cy="385.2" r="0.55" fill="#e07838" fill-opacity="0.55"/>
<circle cx="243.4" cy="387.3" r="0.55" fill="#e88a50" fill-opacity="0.5"/>
<circle cx="244.8" cy="385.4" r="0.55" fill="#d06a30" fill-opacity="0.5"/>
<circle cx="232.0" cy="388.7" r="0.55" fill="#d06a30" fill-opacity="0.5"/>
<circle cx="248.0" cy="390.2" r="0.55" fill="#d06a30" fill-opacity="0.5"/>
<circle cx="238.7" cy="378.2" r="0.55" fill="#f0a070" fill-opacity="0.45"/>
<circle cx="246.8" cy="397.8" r="0.55" fill="#e88a50" fill-opacity="0.5"/>
<circle cx="243.3" cy="388.7" r="0.55" fill="#d06a30" fill-opacity="0.5"/>
<circle cx="238.2" cy="384.5" r="0.55" fill="#e07838" fill-opacity="0.55"/>
<circle cx="240.1" cy="392.3" r="0.55" fill="#f0a070" fill-opacity="0.45"/>
<circle cx="239.7" cy="386.2" r="0.55" fill="#f0a070" fill-opacity="0.45"/>
<circle cx="244.0" cy="392.2" r="0.55" fill="#e88a50" fill-opacity="0.5"/>
<circle cx="243.9" cy="391.2" r="0.55" fill="#d06a30" fill-opacity="0.5"/>
<circle cx="238.4" cy="387.7" r="0.55" fill="#e07838" fill-opacity="0.55"/>
<circle cx="234.6" cy="380.0" r="0.55" fill="#f0a070" fill-opacity="0.45"/>
<circle cx="236.7" cy="391.8" r="0.55" fill="#c87050" fill-opacity="0.4"/>
<circle cx="246.5" cy="389.8" r="0.55" fill="#c87050" fill-opacity="0.4"/>
<circle cx="243.6" cy="399.2" r="0.55" fill="#e88a50" fill-opacity="0.5"/>
<circle cx="241.4" cy="388.0" r="0.55" fill="#e88a50" fill-opacity="0.5"/>
<circle cx="239.4" cy="391.1" r="0.55" fill="#d06a30" fill-opacity="0.5"/>
<circle cx="246.4" cy="391.2" r="0.55" fill="#d06a30" fill-opacity="0.5"/>
<circle cx="240.5" cy="384.6" r="0.55" fill="#d06a30" fill-opacity="0.5"/>
<circle cx="237.4" cy="383.8" r="0.55" fill="#d06a30" fill-opacity="0.5"/>
<circle cx="245.9" cy="383.9" r="0.55" fill="#f0a070" fill-opacity="0.45"/>
<circle cx="249.3" cy="380.8" r="0.55" fill="#e07838" fill-opacity="0.55"/>
<circle cx="245.6" cy="385.9" r="0.55" fill="#d06a30" fill-opacity="0.5"/>
<circle cx="240.7" cy="390.5" r="0.55" fill="#f0a070" fill-opacity="0.45"/>
<circle cx="241.3" cy="378.0" r="0.55" fill="#d06a30" fill-opacity="0.5"/>
<circle cx="242.6" cy="389.9" r="0.55" fill="#d06a30" fill-opacity="0.5"/>
<circle cx="238.3" cy="391.4" r="0.55" fill="#e88a50" fill-opacity="0.5"/>
<circle cx="247.2" cy="384.1" r="0.55" fill="#f0a070" fill-opacity="0.45"/>
<circle cx="241.8" cy="383.5" r="0.55" fill="#f0a070" fill-opacity="0.45"/>
<circle cx="242.6" cy="382.8" r="0.55" fill="#d06a30" fill-opacity="0.5"/>
<circle cx="243.8" cy="388.1" r="0.55" fill="#f0a070" fill-opacity="0.45"/>
<circle cx="244.8" cy="381.9" r="0.55" fill="#c87050" fill-opacity="0.4"/>
<circle cx="245.2" cy="391.6" r="0.55" fill="#c87050" fill-opacity="0.4"/>
<circle cx="244.1" cy="396.5" r="0.55" fill="#e88a50" fill-opacity="0.5"/>
<circle cx="238.3" cy="394.3" r="0.55" fill="#d06a30" fill-opacity="0.5"/>
<circle cx="238.3" cy="381.9" r="0.55" fill="#f0a070" fill-opacity="0.45"/>
<circle cx="238.7" cy="378.6" r="0.55" fill="#e07838" fill-opacity="0.55"/>
<circle cx="247.1" cy="384.6" r="0.55" fill="#e88a50" fill-opacity="0.5"/>
<circle cx="236.4" cy="384.4" r="0.55" fill="#d06a30" fill-opacity="0.5"/>
<circle cx="250.2" cy="396.6" r="0.55" fill="#f0a070" fill-opacity="0.45"/>
<circle cx="241.7" cy="387.0" r="0.55" fill="#f0a070" fill-opacity="0.45"/>
<circle cx="244.7" cy="389.4" r="0.55" fill="#d06a30" fill-opacity="0.5"/>
<circle cx="239.6" cy="378.1" r="0.55" fill="#c87050" fill-opacity="0.4"/>
<circle cx="247.0" cy="386.5" r="0.55" fill="#f0a070" fill-opacity="0.45"/>
<circle cx="240.4" cy="378.8" r="0.55" fill="#d06a30" fill-opacity="0.5"/>
<circle cx="243.5" cy="388.1" r="0.55" fill="#c87050" fill-opacity="0.4"/>
<circle cx="240.5" cy="389.0" r="0.55" fill="#c87050" fill-opacity="0.4"/>
<circle cx="242.4" cy="391.1" r="0.55" fill="#e88a50" fill-opacity="0.5"/>
<circle cx="242.3" cy="384.9" r="0.55" fill="#f0a070" fill-opacity="0.45"/>
<circle cx="247.1" cy="382.6" r="0.55" fill="#e07838" fill-opacity="0.55"/>
<circle cx="238.9" cy="390.3" r="0.55" fill="#e88a50" fill-opacity="0.5"/>
<circle cx="243.6" cy="391.7" r="0.55" fill="#c87050" fill-opacity="0.4"/>
<circle cx="239.2" cy="382.0" r="0.55" fill="#e07838" fill-opacity="0.55"/>
<circle cx="241.8" cy="380.6" r="0.55" fill="#c87050" fill-opacity="0.4"/>
<circle cx="243.4" cy="385.6" r="0.55" fill="#d06a30" fill-opacity="0.5"/>
<circle cx="237.9" cy="393.0" r="0.55" fill="#c87050" fill-opacity="0.4"/>
<circle cx="240.5" cy="386.0" r="0.55" fill="#d06a30" fill-opacity="0.5"/>
<circle cx="249.0" cy="386.7" r="0.55" fill="#f0a070" fill-opacity="0.45"/>
<circle cx="244.1" cy="386.7" r="0.55" fill="#e07838" fill-opacity="0.55"/>
<circle cx="240.9" cy="389.9" r="0.55" fill="#d06a30" fill-opacity="0.5"/>
<circle cx="240.8" cy="387.0" r="0.55" fill="#c87050" fill-opacity="0.4"/>
<circle cx="240.3" cy="388.3" r="0.55" fill="#d06a30" fill-opacity="0.5"/>
<circle cx="230.3" cy="374.4" r="0.55" fill="#d06a30" fill-opacity="0.5"/>
<circle cx="246.1" cy="386.7" r="0.55" fill="#c87050" fill-opacity="0.4"/>
<circle cx="240.6" cy="391.3" r="0.55" fill="#c87050" fill-opacity="0.4"/>
<circle cx="245.5" cy="392.5" r="0.55" fill="#f0a070" fill-opacity="0.45"/>
<circle cx="237.5" cy="383.1" r="0.55" fill="#f0a070" fill-opacity="0.45"/>
<circle cx="241.7" cy="396.5" r="0.55" fill="#e07838" fill-opacity="0.55"/>
<circle cx="242.9" cy="379.1" r="0.55" fill="#d06a30" fill-opacity="0.5"/>
<circle cx="236.8" cy="388.7" r="0.55" fill="#e88a50" fill-opacity="0.5"/>
<circle cx="234.5" cy="380.0" r="0.55" fill="#e07838" fill-opacity="0.55"/>
<circle cx="242.2" cy="385.7" r="0.55" fill="#d06a30" fill-opacity="0.5"/>
<circle cx="239.7" cy="383.7" r="0.55" fill="#f0a070" fill-opacity="0.45"/>
<circle cx="244.0" cy="384.6" r="0.55" fill="#c87050" fill-opacity="0.4"/>
<circle cx="239.6" cy="389.5" r="0.55" fill="#f0a070" fill-opacity="0.45"/>
<circle cx="241.9" cy="391.2" r="0.55" fill="#e07838" fill-opacity="0.55"/>
<circle cx="235.9" cy="391.2" r="0.55" fill="#e07838" fill-opacity="0.55"/>
<circle cx="238.8" cy="386.1" r="0.55" fill="#f0a070" fill-opacity="0.45"/>
<circle cx="238.4" cy="389.9" r="0.55" fill="#e88a50" fill-opacity="0.5"/>
<circle cx="242.4" cy="381.6" r="0.55" fill="#f0a070" fill-opacity="0.45"/>
<circle cx="247.2" cy="390.6" r="0.55" fill="#d06a30" fill-opacity="0.5"/>
<circle cx="245.0" cy="389.0" r="0.55" fill="#e88a50" fill-opacity="0.5"/>
<circle cx="239.0" cy="387.2" r="0.55" fill="#d06a30" fill-opacity="0.5"/>
<circle cx="251.4" cy="383.3" r="0.55" fill="#c87050" fill-opacity="0.4"/>
<circle cx="239.5" cy="390.5" r="0.55" fill="#d06a30" fill-opacity="0.5"/>
<circle cx="245.0" cy="387.8" r="0.55" fill="#e88a50" fill-opacity="0.5"/>
<circle cx="240.4" cy="383.3" r="0.55" fill="#c87050" fill-opacity="0.4"/>
<circle cx="243.6" cy="394.9" r="0.55" fill="#d06a30" fill-opacity="0.5"/>
<circle cx="242.0" cy="394.1" r="0.55" fill="#c87050" fill-opacity="0.4"/>
<circle cx="236.5" cy="388.1" r="0.55" fill="#c87050" fill-opacity="0.4"/>
<circle cx="234.2" cy="394.9" r="0.55" fill="#d06a30" fill-opacity="0.5"/>
<circle cx="250.1" cy="395.3" r="0.55" fill="#e07838" fill-opacity="0.55"/>
<circle cx="235.0" cy="384.8" r="0.55" fill="#c87050" fill-opacity="0.4"/>
<circle cx="235.4" cy="397.4" r="0.55" fill="#c87050" fill-opacity="0.4"/>
<circle cx="237.6" cy="388.6" r="0.55" fill="#e07838" fill-opacity="0.55"/>
<circle cx="241.8" cy="384.7" r="0.55" fill="#e07838" fill-opacity="0.55"/>
<circle cx="245.7" cy="390.8" r="0.55" fill="#e07838" fill-opacity="0.55"/>
<circle cx="236.4" cy="386.9" r="0.55" fill="#d06a30" fill-opacity="0.5"/>
<circle cx="233.8" cy="394.1" r="0.55" fill="#e88a50" fill-opacity="0.5"/>
<circle cx="238.4" cy="395.5" r="0.55" fill="#e07838" fill-opacity="0.55"/>
<circle cx="239.5" cy="385.5" r="0.55" fill="#d06a30" fill-opacity="0.5"/>
<circle cx="235.6" cy="386.4" r="0.55" fill="#e07838" fill-opacity="0.55"/>
<circle cx="243.1" cy="384.0" r="0.55" fill="#f0a070" fill-opacity="0.45"/>
<circle cx="238.6" cy="384.1" r="0.55" fill="#e88a50" fill-opacity="0.5"/>
<circle cx="244.9" cy="385.5" r="0.55" fill="#d06a30" fill-opacity="0.5"/>
<circle cx="248.6" cy="387.9" r="0.55" fill="#e07838" fill-opacity="0.55"/>
<circle cx="240.6" cy="379.1" r="0.55" fill="#f0a070" fill-opacity="0.45"/>
<circle cx="243.2" cy="391.0" r="0.55" fill="#f0a070" fill-opacity="0.45"/>
<circle cx="240.6" cy="392.9" r="0.55" fill="#f0a070" fill-opacity="0.45"/>
<circle cx="236.0" cy="385.7" r="0.55" fill="#e88a50" fill-opacity="0.5"/>
<circle cx="242.7" cy="387.4" r="0.55" fill="#d06a30" fill-opacity="0.5"/>
<circle cx="241.0" cy="389.9" r="0.55" fill="#c87050" fill-opacity="0.4"/>
<circle cx="240.7" cy="396.9" r="0.55" fill="#f0a070" fill-opacity="0.45"/>
<circle cx="242.0" cy="388.6" r="0.55" fill="#c87050" fill-opacity="0.4"/>
<circle cx="248.4" cy="381.4" r="0.55" fill="#c87050" fill-opacity="0.4"/>
<circle cx="238.5" cy="383.3" r="0.55" fill="#e07838" fill-opacity="0.55"/>
<circle cx="241.8" cy="386.9" r="0.55" fill="#d06a30" fill-opacity="0.5"/>
<circle cx="242.1" cy="386.8" r="0.55" fill="#e88a50" fill-opacity="0.5"/>
<circle cx="243.7" cy="386.4" r="0.55" fill="#f0a070" fill-opacity="0.45"/>
<circle cx="235.7" cy="388.1" r="0.55" fill="#d06a30" fill-opacity="0.5"/>
<circle cx="247.5" cy="385.1" r="0.55" fill="#c87050" fill-opacity="0.4"/>
<circle cx="234.3" cy="397.2" r="0.55" fill="#e88a50" fill-opacity="0.5"/>
<circle cx="239.3" cy="392.0" r="0.55" fill="#e07838" fill-opacity="0.55"/>
<circle cx="234.0" cy="386.2" r="0.55" fill="#d06a30" fill-opacity="0.5"/>
<circle cx="248.6" cy="378.3" r="0.55" fill="#e07838" fill-opacity="0.55"/>
<circle cx="230.2" cy="392.7" r="0.55" fill="#c87050" fill-opacity="0.4"/>
<circle cx="234.5" cy="389.2" r="0.55" fill="#d06a30" fill-opacity="0.5"/>
<circle cx="238.2" cy="388.1" r="0.55" fill="#f0a070" fill-opacity="0.45"/>
<circle cx="249.6" cy="390.2" r="0.55" fill="#c87050" fill-opacity="0.4"/>
<circle cx="239.5" cy="387.9" r="0.55" fill="#d06a30" fill-opacity="0.5"/>
<circle cx="245.0" cy="390.8" r="0.55" fill="#e88a50" fill-opacity="0.5"/>
<circle cx="238.2" cy="390.2" r="0.55" fill="#e88a50" fill-opacity="0.5"/>
<circle cx="237.0" cy="396.3" r="0.55" fill="#f0a070" fill-opacity="0.45"/>
<circle cx="237.6" cy="393.2" r="0.55" fill="#c87050" fill-opacity="0.4"/>
<circle cx="240.9" cy="383.1" r="0.55" fill="#e07838" fill-opacity="0.55"/>
<circle cx="244.7" cy="384.3" r="0.55" fill="#c87050" fill-opacity="0.4"/>
<circle cx="237.5" cy="382.6" r="0.55" fill="#e07838" fill-opacity="0.55"/>
<circle cx="238.6" cy="391.8" r="0.55" fill="#e07838" fill-opacity="0.55"/>
<circle cx="245.5" cy="391.4" r="0.55" fill="#e07838" fill-opacity="0.55"/>
<circle cx="247.5" cy="376.7" r="0.55" fill="#e88a50" fill-opacity="0.5"/>
<circle cx="238.6" cy="396.2" r="0.55" fill="#c87050" fill-opacity="0.4"/>
<circle cx="240.3" cy="387.5" r="0.55" fill="#e88a50" fill-opacity="0.5"/>
<circle cx="239.3" cy="376.2" r="0.55" fill="#e07838" fill-opacity="0.55"/>
<circle cx="236.5" cy="393.5" r="0.55" fill="#e88a50" fill-opacity="0.5"/>
<circle cx="246.4" cy="391.7" r="0.55" fill="#f0a070" fill-opacity="0.45"/>
<circle cx="246.0" cy="390.8" r="0.55" fill="#d06a30" fill-opacity="0.5"/>
<circle cx="244.2" cy="382.5" r="0.55" fill="#d06a30" fill-opacity="0.5"/>
<circle cx="241.9" cy="397.3" r="0.55" fill="#c87050" fill-opacity="0.4"/>
<circle cx="233.5" cy="391.9" r="0.55" fill="#e07838" fill-opacity="0.55"/>
<circle cx="240.1" cy="388.0" r="0.55" fill="#d06a30" fill-opacity="0.5"/>
<circle cx="242.4" cy="386.1" r="0.55" fill="#e07838" fill-opacity="0.55"/>
<circle cx="243.0" cy="384.8" r="0.55" fill="#c87050" fill-opacity="0.4"/>
<circle cx="242.5" cy="386.4" r="0.55" fill="#e88a50" fill-opacity="0.5"/>
<circle cx="241.6" cy="387.1" r="0.55" fill="#d06a30" fill-opacity="0.5"/>
<circle cx="243.7" cy="391.7" r="0.55" fill="#e07838" fill-opacity="0.55"/>
<circle cx="244.8" cy="388.0" r="0.55" fill="#f0a070" fill-opacity="0.45"/>
<circle cx="237.5" cy="387.1" r="0.55" fill="#e07838" fill-opacity="0.55"/>
<circle cx="237.6" cy="394.9" r="0.55" fill="#e07838" fill-opacity="0.55"/>
<circle cx="232.1" cy="393.0" r="0.55" fill="#e88a50" fill-opacity="0.5"/>
<circle cx="245.1" cy="389.5" r="0.55" fill="#f0a070" fill-opacity="0.45"/>
<circle cx="238.1" cy="381.2" r="0.55" fill="#e88a50" fill-opacity="0.5"/>
<circle cx="243.8" cy="388.5" r="0.55" fill="#c87050" fill-opacity="0.4"/>
<circle cx="240.8" cy="387.4" r="0.55" fill="#c87050" fill-opacity="0.4"/>
<circle cx="241.6" cy="380.4" r="0.55" fill="#e07838" fill-opacity="0.55"/>
<circle cx="239.3" cy="393.5" r="0.55" fill="#c87050" fill-opacity="0.4"/>
<circle cx="238.3" cy="392.7" r="0.55" fill="#d06a30" fill-opacity="0.5"/>
<circle cx="236.0" cy="390.3" r="0.55" fill="#e07838" fill-opacity="0.55"/>
<circle cx="241.4" cy="386.9" r="0.55" fill="#e88a50" fill-opacity="0.5"/>
<circle cx="250.4" cy="381.1" r="0.55" fill="#e88a50" fill-opacity="0.5"/>
<circle cx="239.1" cy="387.3" r="0.55" fill="#e07838" fill-opacity="0.55"/>
<circle cx="235.9" cy="393.2" r="0.55" fill="#e88a50" fill-opacity="0.5"/>
<circle cx="244.2" cy="389.3" r="0.55" fill="#e88a50" fill-opacity="0.5"/>
<circle cx="236.7" cy="398.4" r="0.55" fill="#f0a070" fill-opacity="0.45"/>
</g>
<g filter="url(#bl)">
<circle cx="224.1" cy="384.8" r="0.55" fill="#a08090" fill-opacity="0.4"/>
<circle cx="233.0" cy="379.9" r="0.55" fill="#c090a0" fill-opacity="0.35"/>
<circle cx="229.1" cy="385.5" r="0.55" fill="#c090a0" fill-opacity="0.35"/>
<circle cx="225.8" cy="391.6" r="0.55" fill="#a08090" fill-opacity="0.4"/>
<circle cx="230.3" cy="388.6" r="0.55" fill="#a08090" fill-opacity="0.4"/>
<circle cx="228.8" cy="377.8" r="0.55" fill="#a08090" fill-opacity="0.4"/>
<circle cx="228.9" cy="381.4" r="0.55" fill="#a08090" fill-opacity="0.4"/>
<circle cx="230.2" cy="374.9" r="0.55" fill="#c090a0" fill-opacity="0.35"/>
<circle cx="227.3" cy="390.2" r="0.55" fill="#a08090" fill-opacity="0.4"/>
<circle cx="226.2" cy="386.9" r="0.55" fill="#a08090" fill-opacity="0.4"/>
<circle cx="225.3" cy="383.8" r="0.55" fill="#c090a0" fill-opacity="0.35"/>
<circle cx="228.4" cy="393.6" r="0.55" fill="#a08090" fill-opacity="0.4"/>
<circle cx="223.6" cy="381.9" r="0.55" fill="#c090a0" fill-opacity="0.35"/>
<circle cx="227.7" cy="388.4" r="0.55" fill="#c090a0" fill-opacity="0.35"/>
<circle cx="229.7" cy="384.3" r="0.55" fill="#a08090" fill-opacity="0.4"/>
<circle cx="223.7" cy="390.8" r="0.55" fill="#c090a0" fill-opacity="0.35"/>
<circle cx="221.8" cy="389.3" r="0.55" fill="#c090a0" fill-opacity="0.35"/>
<circle cx="225.1" cy="388.7" r="0.55" fill="#a08090" fill-opacity="0.4"/>
<circle cx="226.5" cy="386.9" r="0.55" fill="#a08090" fill-opacity="0.4"/>
<circle cx="227.7" cy="387.8" r="0.55" fill="#c090a0" fill-opacity="0.35"/>
<circle cx="224.0" cy="385.3" r="0.55" fill="#c090a0" fill-opacity="0.35"/>
<circle cx="226.2" cy="388.0" r="0.55" fill="#c090a0" fill-opacity="0.35"/>
<circle cx="228.5" cy="374.8" r="0.55" fill="#c090a0" fill-opacity="0.35"/>
<circle cx="232.0" cy="384.5" r="0.55" fill="#c090a0" fill-opacity="0.35"/>
<circle cx="232.5" cy="389.2" r="0.55" fill="#c090a0" fill-opacity="0.35"/>
<circle cx="226.4" cy="387.7" r="0.55" fill="#a08090" fill-opacity="0.4"/>
<circle cx="227.9" cy="381.4" r="0.55" fill="#c090a0" fill-opacity="0.35"/>
<circle cx="227.9" cy="385.7" r="0.55" fill="#c090a0" fill-opacity="0.35"/>
<circle cx="222.7" cy="385.3" r="0.55" fill="#a08090" fill-opacity="0.4"/>
<circle cx="227.6" cy="391.9" r="0.55" fill="#a08090" fill-opacity="0.4"/>
<circle cx="230.4" cy="381.1" r="0.55" fill="#a08090" fill-opacity="0.4"/>
<circle cx="227.9" cy="393.7" r="0.55" fill="#a08090" fill-opacity="0.4"/>
<circle cx="226.1" cy="386.6" r="0.55" fill="#c090a0" fill-opacity="0.35"/>
<circle cx="227.8" cy="381.2" r="0.55" fill="#a08090" fill-opacity="0.4"/>
<circle cx="230.0" cy="388.8" r="0.55" fill="#a08090" fill-opacity="0.4"/>
<circle cx="228.6" cy="382.2" r="0.55" fill="#c090a0" fill-opacity="0.35"/>
<circle cx="226.3" cy="376.5" r="0.55" fill="#c090a0" fill-opacity="0.35"/>
<circle cx="233.5" cy="387.4" r="0.55" fill="#c090a0" fill-opacity="0.35"/>
<circle cx="226.7" cy="383.8" r="0.55" fill="#a08090" fill-opacity="0.4"/>
<circle cx="222.2" cy="393.2" r="0.55" fill="#c090a0" fill-opacity="0.35"/>
<circle cx="229.3" cy="383.9" r="0.55" fill="#c090a0" fill-opacity="0.35"/>
<circle cx="225.0" cy="387.2" r="0.55" fill="#c090a0" fill-opacity="0.35"/>
<circle cx="225.8" cy="387.4" r="0.55" fill="#a08090" fill-opacity="0.4"/>
<circle cx="227.2" cy="383.5" r="0.55" fill="#c090a0" fill-opacity="0.35"/>
<circle cx="226.8" cy="382.4" r="0.55" fill="#a08090" fill-opacity="0.4"/>
<circle cx="228.6" cy="380.3" r="0.55" fill="#c090a0" fill-opacity="0.35"/>
<circle cx="228.2" cy="397.3" r="0.55" fill="#c090a0" fill-opacity="0.35"/>
<circle cx="234.9" cy="383.7" r="0.55" fill="#c090a0" fill-opacity="0.35"/>
<circle cx="230.5" cy="380.0" r="0.55" fill="#c090a0" fill-opacity="0.35"/>
<circle cx="227.7" cy="384.8" r="0.55" fill="#c090a0" fill-opacity="0.35"/>
<circle cx="230.7" cy="384.2" r="0.55" fill="#c090a0" fill-opacity="0.35"/>
<circle cx="229.1" cy="386.4" r="0.55" fill="#a08090" fill-opacity="0.4"/>
<circle cx="224.4" cy="382.8" r="0.55" fill="#c090a0" fill-opacity="0.35"/>
<circle cx="232.8" cy="377.1" r="0.55" fill="#c090a0" fill-opacity="0.35"/>
<circle cx="229.8" cy="381.6" r="0.55" fill="#a08090" fill-opacity="0.4"/>
<circle cx="229.6" cy="390.7" r="0.55" fill="#a08090" fill-opacity="0.4"/>
<circle cx="225.2" cy="380.6" r="0.55" fill="#c090a0" fill-opacity="0.35"/>
<circle cx="228.0" cy="384.5" r="0.55" fill="#c090a0" fill-opacity="0.35"/>
<circle cx="226.8" cy="388.9" r="0.55" fill="#a08090" fill-opacity="0.4"/>
<circle cx="228.5" cy="381.2" r="0.55" fill="#a08090" fill-opacity="0.4"/>
<circle cx="227.7" cy="384.1" r="0.55" fill="#a08090" fill-opacity="0.4"/>
<circle cx="234.2" cy="389.5" r="0.55" fill="#c090a0" fill-opacity="0.35"/>
<circle cx="230.1" cy="384.8" r="0.55" fill="#c090a0" fill-opacity="0.35"/>
<circle cx="224.0" cy="393.1" r="0.55" fill="#c090a0" fill-opacity="0.35"/>
<circle cx="229.0" cy="379.8" r="0.55" fill="#c090a0" fill-opacity="0.35"/>
<circle cx="225.9" cy="384.1" r="0.55" fill="#c090a0" fill-opacity="0.35"/>
<circle cx="226.7" cy="388.9" r="0.55" fill="#a08090" fill-opacity="0.4"/>
<circle cx="227.4" cy="383.3" r="0.55" fill="#c090a0" fill-opacity="0.35"/>
<circle cx="224.3" cy="392.6" r="0.55" fill="#a08090" fill-opacity="0.4"/>
<circle cx="227.1" cy="382.9" r="0.55" fill="#c090a0" fill-opacity="0.35"/>
<circle cx="230.6" cy="394.0" r="0.55" fill="#a08090" fill-opacity="0.4"/>
<circle cx="231.2" cy="388.2" r="0.55" fill="#c090a0" fill-opacity="0.35"/>
<circle cx="224.7" cy="382.7" r="0.55" fill="#a08090" fill-opacity="0.4"/>
<circle cx="230.6" cy="383.7" r="0.55" fill="#c090a0" fill-opacity="0.35"/>
<circle cx="224.8" cy="386.4" r="0.55" fill="#c090a0" fill-opacity="0.35"/>
<circle cx="223.0" cy="385.3" r="0.55" fill="#c090a0" fill-opacity="0.35"/>
<circle cx="228.1" cy="379.4" r="0.55" fill="#a08090" fill-opacity="0.4"/>
<circle cx="229.7" cy="384.8" r="0.55" fill="#a08090" fill-opacity="0.4"/>
<circle cx="223.5" cy="395.5" r="0.55" fill="#a08090" fill-opacity="0.4"/>
<circle cx="232.9" cy="387.6" r="0.55" fill="#a08090" fill-opacity="0.4"/>
<circle cx="230.5" cy="386.0" r="0.55" fill="#c090a0" fill-opacity="0.35"/>
<circle cx="231.2" cy="388.1" r="0.55" fill="#a08090" fill-opacity="0.4"/>
<circle cx="223.9" cy="384.5" r="0.55" fill="#a08090" fill-opacity="0.4"/>
<circle cx="226.1" cy="388.3" r="0.55" fill="#c090a0" fill-opacity="0.35"/>
<circle cx="229.1" cy="393.1" r="0.55" fill="#a08090" fill-opacity="0.4"/>
<circle cx="225.8" cy="374.8" r="0.55" fill="#c090a0" fill-opacity="0.35"/>
<circle cx="231.7" cy="377.2" r="0.55" fill="#a08090" fill-opacity="0.4"/>
<circle cx="235.6" cy="397.4" r="0.55" fill="#a08090" fill-opacity="0.4"/>
<circle cx="224.5" cy="386.6" r="0.55" fill="#a08090" fill-opacity="0.4"/>
<circle cx="228.6" cy="385.2" r="0.55" fill="#c090a0" fill-opacity="0.35"/>
<circle cx="227.0" cy="387.3" r="0.55" fill="#a08090" fill-opacity="0.4"/>
<circle cx="229.6" cy="378.2" r="0.55" fill="#a08090" fill-opacity="0.4"/>
<circle cx="225.0" cy="384.5" r="0.55" fill="#c090a0" fill-opacity="0.35"/>
<circle cx="230.9" cy="384.3" r="0.55" fill="#a08090" fill-opacity="0.4"/>
<circle cx="231.2" cy="390.7" r="0.55" fill="#c090a0" fill-opacity="0.35"/>
<circle cx="226.7" cy="381.9" r="0.55" fill="#a08090" fill-opacity="0.4"/>
<circle cx="228.8" cy="384.3" r="0.55" fill="#c090a0" fill-opacity="0.35"/>
<circle cx="224.8" cy="388.7" r="0.55" fill="#c090a0" fill-opacity="0.35"/>
<circle cx="225.9" cy="385.3" r="0.55" fill="#c090a0" fill-opacity="0.35"/>
<circle cx="226.8" cy="384.3" r="0.55" fill="#a08090" fill-opacity="0.4"/>
<circle cx="227.8" cy="377.7" r="0.55" fill="#a08090" fill-opacity="0.4"/>
<circle cx="235.5" cy="385.6" r="0.55" fill="#a08090" fill-opacity="0.4"/>
<circle cx="231.2" cy="380.8" r="0.55" fill="#a08090" fill-opacity="0.4"/>
<circle cx="228.0" cy="380.1" r="0.55" fill="#c090a0" fill-opacity="0.35"/>
<circle cx="228.1" cy="386.2" r="0.55" fill="#c090a0" fill-opacity="0.35"/>
<circle cx="230.7" cy="388.2" r="0.55" fill="#c090a0" fill-opacity="0.35"/>
<circle cx="224.4" cy="391.9" r="0.55" fill="#a08090" fill-opacity="0.4"/>
<circle cx="230.7" cy="387.6" r="0.55" fill="#c090a0" fill-opacity="0.35"/>
<circle cx="225.7" cy="385.1" r="0.55" fill="#c090a0" fill-opacity="0.35"/>
<circle cx="233.1" cy="374.4" r="0.55" fill="#c090a0" fill-opacity="0.35"/>
<circle cx="226.0" cy="385.7" r="0.55" fill="#a08090" fill-opacity="0.4"/>
<circle cx="226.4" cy="389.9" r="0.55" fill="#c090a0" fill-opacity="0.35"/>
<circle cx="228.2" cy="391.1" r="0.55" fill="#c090a0" fill-opacity="0.35"/>
<circle cx="223.3" cy="385.1" r="0.55" fill="#c090a0" fill-opacity="0.35"/>
<circle cx="225.8" cy="378.4" r="0.55" fill="#c090a0" fill-opacity="0.35"/>
<circle cx="227.9" cy="395.5" r="0.55" fill="#a08090" fill-opacity="0.4"/>
<circle cx="231.6" cy="395.1" r="0.55" fill="#c090a0" fill-opacity="0.35"/>
<circle cx="228.3" cy="389.1" r="0.55" fill="#a08090" fill-opacity="0.4"/>
<circle cx="227.6" cy="388.7" r="0.55" fill="#c090a0" fill-opacity="0.35"/>
<circle cx="231.3" cy="386.8" r="0.55" fill="#c090a0" fill-opacity="0.35"/>
</g>
<g filter="url(#bl)">
<circle cx="221.8" cy="405.0" r="0.55" fill="#d0a090" fill-opacity="0.35"/>
<circle cx="215.7" cy="409.4" r="0.55" fill="#c0b0c0" fill-opacity="0.35"/>
<circle cx="249.2" cy="406.6" r="0.55" fill="#d0a090" fill-opacity="0.35"/>
<circle cx="241.6" cy="406.7" r="0.55" fill="#d0a090" fill-opacity="0.35"/>
<circle cx="229.6" cy="415.3" r="0.55" fill="#c0b0c0" fill-opacity="0.35"/>
<circle cx="229.8" cy="412.1" r="0.55" fill="#d0a090" fill-opacity="0.35"/>
<circle cx="242.6" cy="403.1" r="0.55" fill="#d0a090" fill-opacity="0.35"/>
<circle cx="234.6" cy="404.3" r="0.55" fill="#d0a090" fill-opacity="0.35"/>
<circle cx="220.6" cy="405.4" r="0.55" fill="#c0b0c0" fill-opacity="0.35"/>
<circle cx="236.6" cy="404.7" r="0.55" fill="#d0a090" fill-opacity="0.35"/>
<circle cx="256.4" cy="407.5" r="0.55" fill="#c0b0c0" fill-opacity="0.35"/>
<circle cx="232.0" cy="405.4" r="0.55" fill="#d0a090" fill-opacity="0.35"/>
<circle cx="233.2" cy="402.0" r="0.55" fill="#d0a090" fill-opacity="0.35"/>
<circle cx="241.7" cy="408.2" r="0.55" fill="#d0a090" fill-opacity="0.35"/>
<circle cx="224.5" cy="406.3" r="0.55" fill="#c0b0c0" fill-opacity="0.35"/>
<circle cx="237.5" cy="404.7" r="0.55" fill="#c0b0c0" fill-opacity="0.35"/>
<circle cx="235.3" cy="408.9" r="0.55" fill="#d0a090" fill-opacity="0.35"/>
<circle cx="240.2" cy="408.1" r="0.55" fill="#d0a090" fill-opacity="0.35"/>
<circle cx="233.5" cy="411.1" r="0.55" fill="#d0a090" fill-opacity="0.35"/>
<circle cx="223.3" cy="409.5" r="0.55" fill="#d0a090" fill-opacity="0.35"/>
<circle cx="224.6" cy="405.1" r="0.55" fill="#d0a090" fill-opacity="0.35"/>
<circle cx="230.9" cy="408.1" r="0.55" fill="#d0a090" fill-opacity="0.35"/>
<circle cx="221.9" cy="414.0" r="0.55" fill="#c0b0c0" fill-opacity="0.35"/>
<circle cx="229.0" cy="404.8" r="0.55" fill="#d0a090" fill-opacity="0.35"/>
<circle cx="229.3" cy="398.0" r="0.55" fill="#c0b0c0" fill-opacity="0.35"/>
<circle cx="242.9" cy="403.7" r="0.55" fill="#d0a090" fill-opacity="0.35"/>
<circle cx="235.3" cy="408.4" r="0.55" fill="#d0a090" fill-opacity="0.35"/>
<circle cx="223.9" cy="409.2" r="0.55" fill="#d0a090" fill-opacity="0.35"/>
<circle cx="230.9" cy="418.2" r="0.55" fill="#d0a090" fill-opacity="0.35"/>
<circle cx="221.7" cy="413.5" r="0.55" fill="#d0a090" fill-opacity="0.35"/>
<circle cx="234.3" cy="403.8" r="0.55" fill="#c0b0c0" fill-opacity="0.35"/>
<circle cx="249.1" cy="405.1" r="0.55" fill="#d0a090" fill-opacity="0.35"/>
<circle cx="227.3" cy="405.2" r="0.55" fill="#c0b0c0" fill-opacity="0.35"/>
<circle cx="233.4" cy="395.0" r="0.55" fill="#d0a090" fill-opacity="0.35"/>
<circle cx="218.7" cy="411.7" r="0.55" fill="#d0a090" fill-opacity="0.35"/>
<circle cx="232.0" cy="401.4" r="0.55" fill="#c0b0c0" fill-opacity="0.35"/>
<circle cx="238.6" cy="402.3" r="0.55" fill="#c0b0c0" fill-opacity="0.35"/>
<circle cx="232.5" cy="410.2" r="0.55" fill="#d0a090" fill-opacity="0.35"/>
<circle cx="233.9" cy="406.4" r="0.55" fill="#c0b0c0" fill-opacity="0.35"/>
<circle cx="233.6" cy="411.1" r="0.55" fill="#c0b0c0" fill-opacity="0.35"/>
<circle cx="243.1" cy="411.0" r="0.55" fill="#c0b0c0" fill-opacity="0.35"/>
<circle cx="208.4" cy="400.6" r="0.55" fill="#d0a090" fill-opacity="0.35"/>
<circle cx="250.9" cy="408.5" r="0.55" fill="#d0a090" fill-opacity="0.35"/>
<circle cx="235.4" cy="408.3" r="0.55" fill="#c0b0c0" fill-opacity="0.35"/>
<circle cx="218.6" cy="410.3" r="0.55" fill="#c0b0c0" fill-opacity="0.35"/>
<circle cx="233.5" cy="404.5" r="0.55" fill="#c0b0c0" fill-opacity="0.35"/>
<circle cx="230.3" cy="409.9" r="0.55" fill="#d0a090" fill-opacity="0.35"/>
<circle cx="246.1" cy="398.3" r="0.55" fill="#c0b0c0" fill-opacity="0.35"/>
<circle cx="235.2" cy="402.5" r="0.55" fill="#d0a090" fill-opacity="0.35"/>
<circle cx="226.8" cy="405.0" r="0.55" fill="#c0b0c0" fill-opacity="0.35"/>
<circle cx="231.3" cy="405.8" r="0.55" fill="#d0a090" fill-opacity="0.35"/>
<circle cx="223.3" cy="408.1" r="0.55" fill="#c0b0c0" fill-opacity="0.35"/>
<circle cx="238.6" cy="403.5" r="0.55" fill="#c0b0c0" fill-opacity="0.35"/>
<circle cx="231.7" cy="411.1" r="0.55" fill="#c0b0c0" fill-opacity="0.35"/>
<circle cx="238.0" cy="412.4" r="0.55" fill="#d0a090" fill-opacity="0.35"/>
<circle cx="220.9" cy="409.8" r="0.55" fill="#c0b0c0" fill-opacity="0.35"/>
<circle cx="233.7" cy="408.0" r="0.55" fill="#c0b0c0" fill-opacity="0.35"/>
<circle cx="228.1" cy="412.0" r="0.55" fill="#d0a090" fill-opacity="0.35"/>
<circle cx="232.9" cy="414.9" r="0.55" fill="#c0b0c0" fill-opacity="0.35"/>
<circle cx="221.2" cy="408.2" r="0.55" fill="#d0a090" fill-opacity="0.35"/>
<circle cx="238.1" cy="407.0" r="0.55" fill="#c0b0c0" fill-opacity="0.35"/>
<circle cx="230.2" cy="412.9" r="0.55" fill="#c0b0c0" fill-opacity="0.35"/>
<circle cx="229.7" cy="410.1" r="0.55" fill="#c0b0c0" fill-opacity="0.35"/>
<circle cx="219.7" cy="398.1" r="0.55" fill="#d0a090" fill-opacity="0.35"/>
<circle cx="232.5" cy="412.9" r="0.55" fill="#c0b0c0" fill-opacity="0.35"/>
<circle cx="230.0" cy="405.7" r="0.55" fill="#c0b0c0" fill-opacity="0.35"/>
<circle cx="233.9" cy="403.2" r="0.55" fill="#c0b0c0" fill-opacity="0.35"/>
<circle cx="237.3" cy="403.2" r="0.55" fill="#c0b0c0" fill-opacity="0.35"/>
<circle cx="242.3" cy="401.4" r="0.55" fill="#d0a090" fill-opacity="0.35"/>
<circle cx="230.4" cy="412.8" r="0.55" fill="#d0a090" fill-opacity="0.35"/>
<circle cx="227.9" cy="405.4" r="0.55" fill="#d0a090" fill-opacity="0.35"/>
<circle cx="234.7" cy="402.9" r="0.55" fill="#d0a090" fill-opacity="0.35"/>
<circle cx="239.5" cy="406.9" r="0.55" fill="#d0a090" fill-opacity="0.35"/>
<circle cx="235.1" cy="410.9" r="0.55" fill="#c0b0c0" fill-opacity="0.35"/>
<circle cx="236.1" cy="409.9" r="0.55" fill="#d0a090" fill-opacity="0.35"/>
<circle cx="227.1" cy="408.5" r="0.55" fill="#d0a090" fill-opacity="0.35"/>
<circle cx="236.0" cy="410.7" r="0.55" fill="#c0b0c0" fill-opacity="0.35"/>
<circle cx="239.8" cy="406.3" r="0.55" fill="#c0b0c0" fill-opacity="0.35"/>
<circle cx="241.0" cy="404.8" r="0.55" fill="#c0b0c0" fill-opacity="0.35"/>
<circle cx="234.2" cy="403.2" r="0.55" fill="#c0b0c0" fill-opacity="0.35"/>
</g>
<rect x="229.6" y="374.2" width="30.3" height="26.9" fill="none" stroke="#8c8cbc" stroke-width="0.85"/>
<text stroke="#222" stroke-width="0.22" x="244.3" y="372.6" font-size="7.5" text-anchor="middle" fill="#222" textLength="21.5" lengthAdjust="spacingAndGlyphs">73.1%</text>
<line x1="259.8" y1="385.8" x2="274.20" y2="385.80" stroke="#111" stroke-width="0.8"/>
<path d="M277.40 385.80 L274.20 387.30 L274.20 384.30 Z" fill="#111"/>
<line x1="191.5" y1="401.5" x2="191.50" y2="362.90" stroke="#111" stroke-width="0.8"/>
<path d="M191.50 359.40 L193.00 362.90 L190.00 362.90 Z" fill="#111"/>
<text stroke="#222" stroke-width="0.132" transform="translate(194.3,414.2) rotate(-90)" font-size="8" font-weight="bold" text-anchor="middle" fill="#222" textLength="23" lengthAdjust="spacingAndGlyphs">CD45RO</text>
<text stroke="#222" stroke-width="0.132" x="218.5" y="438.1" font-size="7.4" text-anchor="middle" fill="#222" font-weight="bold" textLength="33" lengthAdjust="spacingAndGlyphs">Granzyme B</text>
<line x1="237.7" y1="435.4" x2="265.30" y2="435.40" stroke="#111" stroke-width="0.8"/>
<path d="M268.80 435.40 L265.30 436.90 L265.30 433.90 Z" fill="#111"/>
<rect x="289.6" y="355.2" width="69.19999999999999" height="69.60000000000002" fill="#fff" stroke="#c8c8c8" stroke-width="0.6"/>
<line x1="289.6" y1="357.2" x2="289.6" y2="424.8" stroke="#555" stroke-width="0.8"/>
<line x1="289.6" y1="424.8" x2="358.8" y2="424.8" stroke="#555" stroke-width="0.8"/>
<line x1="288.40000000000003" y1="422.8" x2="289.6" y2="422.8" stroke="#555" stroke-width="0.5"/>
<line x1="288.40000000000003" y1="417.8" x2="289.6" y2="417.8" stroke="#555" stroke-width="0.5"/>
<line x1="288.40000000000003" y1="412.7" x2="289.6" y2="412.7" stroke="#555" stroke-width="0.5"/>
<line x1="288.40000000000003" y1="407.7" x2="289.6" y2="407.7" stroke="#555" stroke-width="0.5"/>
<line x1="288.40000000000003" y1="402.6" x2="289.6" y2="402.6" stroke="#555" stroke-width="0.5"/>
<line x1="288.40000000000003" y1="397.6" x2="289.6" y2="397.6" stroke="#555" stroke-width="0.5"/>
<line x1="288.40000000000003" y1="392.5" x2="289.6" y2="392.5" stroke="#555" stroke-width="0.5"/>
<line x1="288.40000000000003" y1="387.5" x2="289.6" y2="387.5" stroke="#555" stroke-width="0.5"/>
<line x1="288.40000000000003" y1="382.4" x2="289.6" y2="382.4" stroke="#555" stroke-width="0.5"/>
<line x1="288.40000000000003" y1="377.4" x2="289.6" y2="377.4" stroke="#555" stroke-width="0.5"/>
<line x1="288.40000000000003" y1="372.3" x2="289.6" y2="372.3" stroke="#555" stroke-width="0.5"/>
<line x1="288.40000000000003" y1="367.3" x2="289.6" y2="367.3" stroke="#555" stroke-width="0.5"/>
<line x1="288.40000000000003" y1="362.2" x2="289.6" y2="362.2" stroke="#555" stroke-width="0.5"/>
<line x1="288.40000000000003" y1="357.2" x2="289.6" y2="357.2" stroke="#555" stroke-width="0.5"/>
<line x1="291.6" y1="424.8" x2="291.6" y2="426.0" stroke="#555" stroke-width="0.5"/>
<line x1="296.6" y1="424.8" x2="296.6" y2="426.0" stroke="#555" stroke-width="0.5"/>
<line x1="301.6" y1="424.8" x2="301.6" y2="426.0" stroke="#555" stroke-width="0.5"/>
<line x1="306.6" y1="424.8" x2="306.6" y2="426.0" stroke="#555" stroke-width="0.5"/>
<line x1="311.7" y1="424.8" x2="311.7" y2="426.0" stroke="#555" stroke-width="0.5"/>
<line x1="316.7" y1="424.8" x2="316.7" y2="426.0" stroke="#555" stroke-width="0.5"/>
<line x1="321.7" y1="424.8" x2="321.7" y2="426.0" stroke="#555" stroke-width="0.5"/>
<line x1="326.7" y1="424.8" x2="326.7" y2="426.0" stroke="#555" stroke-width="0.5"/>
<line x1="331.7" y1="424.8" x2="331.7" y2="426.0" stroke="#555" stroke-width="0.5"/>
<line x1="336.7" y1="424.8" x2="336.7" y2="426.0" stroke="#555" stroke-width="0.5"/>
<line x1="341.8" y1="424.8" x2="341.8" y2="426.0" stroke="#555" stroke-width="0.5"/>
<line x1="346.8" y1="424.8" x2="346.8" y2="426.0" stroke="#555" stroke-width="0.5"/>
<line x1="351.8" y1="424.8" x2="351.8" y2="426.0" stroke="#555" stroke-width="0.5"/>
<line x1="356.8" y1="424.8" x2="356.8" y2="426.0" stroke="#555" stroke-width="0.5"/>
<line x1="288.70000000000005" y1="410.8" x2="288.70000000000005" y2="414.3" stroke="#222" stroke-width="1.3"/>
<line x1="292.6" y1="425.5" x2="299.1" y2="425.5" stroke="#222" stroke-width="1.2"/>
<line x1="321.1" y1="355.2" x2="321.1" y2="424.8" stroke="#7c7cb4" stroke-width="0.9"/>
<line x1="289.6" y1="395.7" x2="358.8" y2="395.7" stroke="#7c7cb4" stroke-width="0.9"/>
<g filter="url(#bl)">
<circle cx="329.1" cy="383.5" r="0.55" fill="#9a6070" fill-opacity="0.5"/>
<circle cx="333.4" cy="377.3" r="0.55" fill="#e08848" fill-opacity="0.5"/>
<circle cx="327.8" cy="378.7" r="0.55" fill="#f0a060" fill-opacity="0.45"/>
<circle cx="333.2" cy="380.9" r="0.55" fill="#7a5068" fill-opacity="0.55"/>
<circle cx="329.1" cy="381.9" r="0.55" fill="#9a6070" fill-opacity="0.5"/>
<circle cx="333.6" cy="380.0" r="0.55" fill="#e08848" fill-opacity="0.5"/>
<circle cx="328.3" cy="373.9" r="0.55" fill="#7a5068" fill-opacity="0.55"/>
<circle cx="333.9" cy="385.9" r="0.55" fill="#d07040" fill-opacity="0.5"/>
<circle cx="334.9" cy="372.3" r="0.55" fill="#9a6070" fill-opacity="0.5"/>
<circle cx="333.5" cy="383.0" r="0.55" fill="#d07040" fill-opacity="0.5"/>
<circle cx="334.2" cy="386.7" r="0.55" fill="#7a5068" fill-opacity="0.55"/>
<circle cx="332.3" cy="382.5" r="0.55" fill="#9a6070" fill-opacity="0.5"/>
<circle cx="333.4" cy="382.3" r="0.55" fill="#f0a060" fill-opacity="0.45"/>
<circle cx="334.9" cy="381.8" r="0.55" fill="#d07040" fill-opacity="0.5"/>
<circle cx="335.5" cy="373.3" r="0.55" fill="#e08848" fill-opacity="0.5"/>
<circle cx="329.6" cy="382.2" r="0.55" fill="#7a5068" fill-opacity="0.55"/>
<circle cx="326.9" cy="385.3" r="0.55" fill="#d07040" fill-opacity="0.5"/>
<circle cx="332.3" cy="377.4" r="0.55" fill="#7a5068" fill-opacity="0.55"/>
<circle cx="333.1" cy="385.4" r="0.55" fill="#d07040" fill-opacity="0.5"/>
<circle cx="326.1" cy="384.9" r="0.55" fill="#f0a060" fill-opacity="0.45"/>
<circle cx="331.3" cy="380.8" r="0.55" fill="#d07040" fill-opacity="0.5"/>
<circle cx="330.0" cy="383.5" r="0.55" fill="#7a5068" fill-opacity="0.55"/>
<circle cx="329.7" cy="371.6" r="0.55" fill="#7a5068" fill-opacity="0.55"/>
<circle cx="335.8" cy="379.8" r="0.55" fill="#d07040" fill-opacity="0.5"/>
<circle cx="327.8" cy="372.6" r="0.55" fill="#f0a060" fill-opacity="0.45"/>
<circle cx="326.5" cy="379.2" r="0.55" fill="#7a5068" fill-opacity="0.55"/>
<circle cx="333.1" cy="379.6" r="0.55" fill="#d07040" fill-opacity="0.5"/>
<circle cx="328.5" cy="385.5" r="0.55" fill="#d07040" fill-opacity="0.5"/>
<circle cx="331.1" cy="378.3" r="0.55" fill="#e08848" fill-opacity="0.5"/>
<circle cx="323.7" cy="377.1" r="0.55" fill="#9a6070" fill-opacity="0.5"/>
<circle cx="329.6" cy="392.8" r="0.55" fill="#e08848" fill-opacity="0.5"/>
<circle cx="332.4" cy="373.0" r="0.55" fill="#e08848" fill-opacity="0.5"/>
<circle cx="330.8" cy="371.2" r="0.55" fill="#9a6070" fill-opacity="0.5"/>
<circle cx="328.7" cy="379.3" r="0.55" fill="#9a6070" fill-opacity="0.5"/>
<circle cx="332.8" cy="388.4" r="0.55" fill="#7a5068" fill-opacity="0.55"/>
<circle cx="334.8" cy="380.0" r="0.55" fill="#f0a060" fill-opacity="0.45"/>
<circle cx="332.4" cy="384.9" r="0.55" fill="#9a6070" fill-opacity="0.5"/>
<circle cx="327.0" cy="386.8" r="0.55" fill="#d07040" fill-opacity="0.5"/>
<circle cx="326.7" cy="375.3" r="0.55" fill="#f0a060" fill-opacity="0.45"/>
<circle cx="331.3" cy="374.9" r="0.55" fill="#e08848" fill-opacity="0.5"/>
<circle cx="335.5" cy="373.9" r="0.55" fill="#7a5068" fill-opacity="0.55"/>
<circle cx="333.0" cy="388.8" r="0.55" fill="#9a6070" fill-opacity="0.5"/>
<circle cx="328.3" cy="375.3" r="0.55" fill="#9a6070" fill-opacity="0.5"/>
<circle cx="323.5" cy="388.8" r="0.55" fill="#7a5068" fill-opacity="0.55"/>
<circle cx="335.4" cy="382.8" r="0.55" fill="#e08848" fill-opacity="0.5"/>
<circle cx="331.5" cy="386.3" r="0.55" fill="#e08848" fill-opacity="0.5"/>
<circle cx="330.3" cy="385.0" r="0.55" fill="#d07040" fill-opacity="0.5"/>
<circle cx="326.2" cy="373.5" r="0.55" fill="#e08848" fill-opacity="0.5"/>
<circle cx="328.4" cy="376.4" r="0.55" fill="#d07040" fill-opacity="0.5"/>
<circle cx="332.2" cy="372.1" r="0.55" fill="#9a6070" fill-opacity="0.5"/>
<circle cx="333.7" cy="384.4" r="0.55" fill="#d07040" fill-opacity="0.5"/>
<circle cx="331.0" cy="384.3" r="0.55" fill="#d07040" fill-opacity="0.5"/>
<circle cx="330.2" cy="384.8" r="0.55" fill="#d07040" fill-opacity="0.5"/>
<circle cx="336.4" cy="376.6" r="0.55" fill="#7a5068" fill-opacity="0.55"/>
<circle cx="321.8" cy="367.0" r="0.55" fill="#f0a060" fill-opacity="0.45"/>
<circle cx="336.1" cy="382.2" r="0.55" fill="#9a6070" fill-opacity="0.5"/>
<circle cx="327.6" cy="384.2" r="0.55" fill="#e08848" fill-opacity="0.5"/>
<circle cx="327.8" cy="377.7" r="0.55" fill="#7a5068" fill-opacity="0.55"/>
<circle cx="331.9" cy="392.2" r="0.55" fill="#f0a060" fill-opacity="0.45"/>
<circle cx="330.2" cy="381.4" r="0.55" fill="#f0a060" fill-opacity="0.45"/>
<circle cx="330.1" cy="380.3" r="0.55" fill="#e08848" fill-opacity="0.5"/>
<circle cx="327.9" cy="375.5" r="0.55" fill="#f0a060" fill-opacity="0.45"/>
<circle cx="330.3" cy="374.9" r="0.55" fill="#9a6070" fill-opacity="0.5"/>
<circle cx="333.5" cy="382.0" r="0.55" fill="#f0a060" fill-opacity="0.45"/>
<circle cx="329.4" cy="374.4" r="0.55" fill="#f0a060" fill-opacity="0.45"/>
<circle cx="329.9" cy="380.2" r="0.55" fill="#e08848" fill-opacity="0.5"/>
<circle cx="332.4" cy="386.7" r="0.55" fill="#d07040" fill-opacity="0.5"/>
<circle cx="333.5" cy="381.1" r="0.55" fill="#e08848" fill-opacity="0.5"/>
<circle cx="329.9" cy="382.0" r="0.55" fill="#e08848" fill-opacity="0.5"/>
<circle cx="328.2" cy="372.1" r="0.55" fill="#e08848" fill-opacity="0.5"/>
<circle cx="328.8" cy="380.3" r="0.55" fill="#7a5068" fill-opacity="0.55"/>
<circle cx="328.8" cy="384.5" r="0.55" fill="#d07040" fill-opacity="0.5"/>
<circle cx="331.7" cy="383.6" r="0.55" fill="#7a5068" fill-opacity="0.55"/>
<circle cx="331.3" cy="381.0" r="0.55" fill="#e08848" fill-opacity="0.5"/>
<circle cx="333.1" cy="377.7" r="0.55" fill="#7a5068" fill-opacity="0.55"/>
<circle cx="333.1" cy="392.4" r="0.55" fill="#7a5068" fill-opacity="0.55"/>
<circle cx="336.4" cy="372.8" r="0.55" fill="#e08848" fill-opacity="0.5"/>
<circle cx="323.4" cy="378.4" r="0.55" fill="#e08848" fill-opacity="0.5"/>
<circle cx="329.7" cy="383.5" r="0.55" fill="#d07040" fill-opacity="0.5"/>
<circle cx="331.5" cy="370.7" r="0.55" fill="#d07040" fill-opacity="0.5"/>
<circle cx="328.4" cy="381.0" r="0.55" fill="#f0a060" fill-opacity="0.45"/>
<circle cx="328.3" cy="379.7" r="0.55" fill="#9a6070" fill-opacity="0.5"/>
<circle cx="332.8" cy="378.1" r="0.55" fill="#7a5068" fill-opacity="0.55"/>
<circle cx="330.9" cy="373.6" r="0.55" fill="#9a6070" fill-opacity="0.5"/>
<circle cx="332.2" cy="376.2" r="0.55" fill="#e08848" fill-opacity="0.5"/>
<circle cx="330.8" cy="392.0" r="0.55" fill="#e08848" fill-opacity="0.5"/>
<circle cx="330.5" cy="382.7" r="0.55" fill="#e08848" fill-opacity="0.5"/>
<circle cx="333.5" cy="380.4" r="0.55" fill="#d07040" fill-opacity="0.5"/>
<circle cx="333.7" cy="375.5" r="0.55" fill="#7a5068" fill-opacity="0.55"/>
<circle cx="325.3" cy="390.8" r="0.55" fill="#e08848" fill-opacity="0.5"/>
<circle cx="333.8" cy="378.0" r="0.55" fill="#d07040" fill-opacity="0.5"/>
<circle cx="328.8" cy="382.6" r="0.55" fill="#9a6070" fill-opacity="0.5"/>
<circle cx="334.9" cy="383.6" r="0.55" fill="#7a5068" fill-opacity="0.55"/>
<circle cx="332.4" cy="386.0" r="0.55" fill="#7a5068" fill-opacity="0.55"/>
<circle cx="326.7" cy="380.1" r="0.55" fill="#d07040" fill-opacity="0.5"/>
<circle cx="333.6" cy="374.3" r="0.55" fill="#7a5068" fill-opacity="0.55"/>
<circle cx="328.4" cy="375.8" r="0.55" fill="#7a5068" fill-opacity="0.55"/>
<circle cx="325.9" cy="377.7" r="0.55" fill="#7a5068" fill-opacity="0.55"/>
<circle cx="333.9" cy="367.1" r="0.55" fill="#7a5068" fill-opacity="0.55"/>
<circle cx="334.9" cy="385.2" r="0.55" fill="#e08848" fill-opacity="0.5"/>
<circle cx="327.6" cy="382.4" r="0.55" fill="#e08848" fill-opacity="0.5"/>
<circle cx="332.3" cy="378.6" r="0.55" fill="#f0a060" fill-opacity="0.45"/>
<circle cx="326.3" cy="370.2" r="0.55" fill="#f0a060" fill-opacity="0.45"/>
<circle cx="328.3" cy="383.7" r="0.55" fill="#9a6070" fill-opacity="0.5"/>
<circle cx="325.3" cy="391.1" r="0.55" fill="#7a5068" fill-opacity="0.55"/>
<circle cx="333.9" cy="376.4" r="0.55" fill="#f0a060" fill-opacity="0.45"/>
<circle cx="333.5" cy="388.1" r="0.55" fill="#9a6070" fill-opacity="0.5"/>
<circle cx="334.5" cy="396.0" r="0.55" fill="#e08848" fill-opacity="0.5"/>
<circle cx="331.9" cy="374.2" r="0.55" fill="#7a5068" fill-opacity="0.55"/>
<circle cx="330.9" cy="384.7" r="0.55" fill="#7a5068" fill-opacity="0.55"/>
<circle cx="331.4" cy="378.5" r="0.55" fill="#e08848" fill-opacity="0.5"/>
<circle cx="333.4" cy="378.6" r="0.55" fill="#9a6070" fill-opacity="0.5"/>
<circle cx="332.7" cy="379.6" r="0.55" fill="#e08848" fill-opacity="0.5"/>
<circle cx="332.6" cy="384.9" r="0.55" fill="#7a5068" fill-opacity="0.55"/>
<circle cx="331.1" cy="378.3" r="0.55" fill="#7a5068" fill-opacity="0.55"/>
<circle cx="323.8" cy="376.0" r="0.55" fill="#e08848" fill-opacity="0.5"/>
<circle cx="330.0" cy="378.6" r="0.55" fill="#e08848" fill-opacity="0.5"/>
<circle cx="325.6" cy="391.2" r="0.55" fill="#9a6070" fill-opacity="0.5"/>
<circle cx="331.8" cy="379.0" r="0.55" fill="#9a6070" fill-opacity="0.5"/>
<circle cx="330.8" cy="376.9" r="0.55" fill="#d07040" fill-opacity="0.5"/>
<circle cx="330.9" cy="384.6" r="0.55" fill="#d07040" fill-opacity="0.5"/>
<circle cx="331.1" cy="383.0" r="0.55" fill="#f0a060" fill-opacity="0.45"/>
<circle cx="332.9" cy="375.0" r="0.55" fill="#d07040" fill-opacity="0.5"/>
<circle cx="327.9" cy="381.3" r="0.55" fill="#d07040" fill-opacity="0.5"/>
<circle cx="328.9" cy="377.1" r="0.55" fill="#7a5068" fill-opacity="0.55"/>
<circle cx="332.6" cy="381.1" r="0.55" fill="#d07040" fill-opacity="0.5"/>
<circle cx="324.5" cy="382.4" r="0.55" fill="#d07040" fill-opacity="0.5"/>
<circle cx="333.7" cy="368.7" r="0.55" fill="#9a6070" fill-opacity="0.5"/>
<circle cx="331.9" cy="381.9" r="0.55" fill="#f0a060" fill-opacity="0.45"/>
<circle cx="330.2" cy="385.0" r="0.55" fill="#9a6070" fill-opacity="0.5"/>
<circle cx="333.0" cy="380.1" r="0.55" fill="#7a5068" fill-opacity="0.55"/>
<circle cx="324.0" cy="379.4" r="0.55" fill="#f0a060" fill-opacity="0.45"/>
<circle cx="324.6" cy="383.4" r="0.55" fill="#f0a060" fill-opacity="0.45"/>
<circle cx="329.7" cy="381.6" r="0.55" fill="#f0a060" fill-opacity="0.45"/>
<circle cx="325.7" cy="382.6" r="0.55" fill="#f0a060" fill-opacity="0.45"/>
<circle cx="327.9" cy="383.2" r="0.55" fill="#9a6070" fill-opacity="0.5"/>
<circle cx="329.5" cy="379.8" r="0.55" fill="#d07040" fill-opacity="0.5"/>
<circle cx="329.1" cy="378.5" r="0.55" fill="#e08848" fill-opacity="0.5"/>
<circle cx="333.9" cy="379.3" r="0.55" fill="#d07040" fill-opacity="0.5"/>
<circle cx="332.9" cy="377.6" r="0.55" fill="#d07040" fill-opacity="0.5"/>
<circle cx="336.0" cy="382.6" r="0.55" fill="#e08848" fill-opacity="0.5"/>
<circle cx="331.7" cy="385.7" r="0.55" fill="#f0a060" fill-opacity="0.45"/>
<circle cx="330.2" cy="379.5" r="0.55" fill="#e08848" fill-opacity="0.5"/>
<circle cx="323.7" cy="374.0" r="0.55" fill="#7a5068" fill-opacity="0.55"/>
<circle cx="331.5" cy="379.2" r="0.55" fill="#f0a060" fill-opacity="0.45"/>
<circle cx="327.5" cy="381.8" r="0.55" fill="#9a6070" fill-opacity="0.5"/>
<circle cx="329.1" cy="375.1" r="0.55" fill="#d07040" fill-opacity="0.5"/>
<circle cx="329.4" cy="381.8" r="0.55" fill="#d07040" fill-opacity="0.5"/>
<circle cx="330.1" cy="380.6" r="0.55" fill="#9a6070" fill-opacity="0.5"/>
<circle cx="331.4" cy="382.1" r="0.55" fill="#e08848" fill-opacity="0.5"/>
<circle cx="332.3" cy="372.5" r="0.55" fill="#f0a060" fill-opacity="0.45"/>
<circle cx="326.5" cy="379.6" r="0.55" fill="#d07040" fill-opacity="0.5"/>
<circle cx="336.6" cy="377.9" r="0.55" fill="#e08848" fill-opacity="0.5"/>
<circle cx="329.2" cy="383.6" r="0.55" fill="#7a5068" fill-opacity="0.55"/>
<circle cx="332.8" cy="379.0" r="0.55" fill="#7a5068" fill-opacity="0.55"/>
<circle cx="327.8" cy="383.0" r="0.55" fill="#7a5068" fill-opacity="0.55"/>
<circle cx="329.8" cy="374.4" r="0.55" fill="#7a5068" fill-opacity="0.55"/>
<circle cx="326.5" cy="379.0" r="0.55" fill="#f0a060" fill-opacity="0.45"/>
<circle cx="334.5" cy="380.2" r="0.55" fill="#d07040" fill-opacity="0.5"/>
<circle cx="335.1" cy="383.1" r="0.55" fill="#7a5068" fill-opacity="0.55"/>
<circle cx="329.6" cy="378.4" r="0.55" fill="#9a6070" fill-opacity="0.5"/>
<circle cx="327.1" cy="374.9" r="0.55" fill="#9a6070" fill-opacity="0.5"/>
<circle cx="335.1" cy="386.7" r="0.55" fill="#d07040" fill-opacity="0.5"/>
<circle cx="331.0" cy="377.2" r="0.55" fill="#7a5068" fill-opacity="0.55"/>
<circle cx="334.7" cy="395.1" r="0.55" fill="#7a5068" fill-opacity="0.55"/>
<circle cx="329.2" cy="379.9" r="0.55" fill="#e08848" fill-opacity="0.5"/>
<circle cx="337.8" cy="387.3" r="0.55" fill="#e08848" fill-opacity="0.5"/>
<circle cx="332.7" cy="381.9" r="0.55" fill="#e08848" fill-opacity="0.5"/>
<circle cx="331.5" cy="377.9" r="0.55" fill="#d07040" fill-opacity="0.5"/>
<circle cx="329.3" cy="384.6" r="0.55" fill="#7a5068" fill-opacity="0.55"/>
<circle cx="333.9" cy="383.2" r="0.55" fill="#f0a060" fill-opacity="0.45"/>
<circle cx="333.0" cy="375.0" r="0.55" fill="#d07040" fill-opacity="0.5"/>
<circle cx="329.5" cy="384.5" r="0.55" fill="#7a5068" fill-opacity="0.55"/>
<circle cx="326.1" cy="370.8" r="0.55" fill="#f0a060" fill-opacity="0.45"/>
<circle cx="330.3" cy="390.3" r="0.55" fill="#f0a060" fill-opacity="0.45"/>
<circle cx="328.5" cy="375.7" r="0.55" fill="#9a6070" fill-opacity="0.5"/>
<circle cx="335.6" cy="376.2" r="0.55" fill="#9a6070" fill-opacity="0.5"/>
<circle cx="331.7" cy="388.9" r="0.55" fill="#9a6070" fill-opacity="0.5"/>
<circle cx="327.1" cy="380.4" r="0.55" fill="#7a5068" fill-opacity="0.55"/>
<circle cx="329.6" cy="378.1" r="0.55" fill="#9a6070" fill-opacity="0.5"/>
<circle cx="329.8" cy="377.0" r="0.55" fill="#7a5068" fill-opacity="0.55"/>
<circle cx="329.2" cy="376.9" r="0.55" fill="#f0a060" fill-opacity="0.45"/>
<circle cx="332.2" cy="394.5" r="0.55" fill="#d07040" fill-opacity="0.5"/>
<circle cx="327.1" cy="373.7" r="0.55" fill="#e08848" fill-opacity="0.5"/>
<circle cx="328.0" cy="376.8" r="0.55" fill="#e08848" fill-opacity="0.5"/>
<circle cx="335.9" cy="376.4" r="0.55" fill="#f0a060" fill-opacity="0.45"/>
<circle cx="334.0" cy="378.8" r="0.55" fill="#7a5068" fill-opacity="0.55"/>
<circle cx="328.8" cy="382.5" r="0.55" fill="#f0a060" fill-opacity="0.45"/>
<circle cx="329.3" cy="366.0" r="0.55" fill="#f0a060" fill-opacity="0.45"/>
<circle cx="328.5" cy="371.5" r="0.55" fill="#f0a060" fill-opacity="0.45"/>
<circle cx="327.3" cy="377.1" r="0.55" fill="#7a5068" fill-opacity="0.55"/>
<circle cx="333.3" cy="380.3" r="0.55" fill="#e08848" fill-opacity="0.5"/>
<circle cx="330.5" cy="375.5" r="0.55" fill="#f0a060" fill-opacity="0.45"/>
<circle cx="331.4" cy="377.0" r="0.55" fill="#e08848" fill-opacity="0.5"/>
<circle cx="333.4" cy="383.2" r="0.55" fill="#9a6070" fill-opacity="0.5"/>
<circle cx="331.2" cy="382.5" r="0.55" fill="#9a6070" fill-opacity="0.5"/>
<circle cx="333.8" cy="371.7" r="0.55" fill="#d07040" fill-opacity="0.5"/>
<circle cx="332.6" cy="372.6" r="0.55" fill="#e08848" fill-opacity="0.5"/>
<circle cx="331.8" cy="377.0" r="0.55" fill="#f0a060" fill-opacity="0.45"/>
<circle cx="332.4" cy="385.7" r="0.55" fill="#f0a060" fill-opacity="0.45"/>
<circle cx="333.8" cy="383.8" r="0.55" fill="#f0a060" fill-opacity="0.45"/>
<circle cx="331.9" cy="376.4" r="0.55" fill="#d07040" fill-opacity="0.5"/>
<circle cx="330.2" cy="370.5" r="0.55" fill="#f0a060" fill-opacity="0.45"/>
<circle cx="333.5" cy="384.6" r="0.55" fill="#d07040" fill-opacity="0.5"/>
<circle cx="326.6" cy="379.1" r="0.55" fill="#7a5068" fill-opacity="0.55"/>
<circle cx="327.8" cy="378.6" r="0.55" fill="#f0a060" fill-opacity="0.45"/>
<circle cx="335.2" cy="383.1" r="0.55" fill="#e08848" fill-opacity="0.5"/>
<circle cx="332.4" cy="381.8" r="0.55" fill="#7a5068" fill-opacity="0.55"/>
<circle cx="330.8" cy="384.4" r="0.55" fill="#9a6070" fill-opacity="0.5"/>
<circle cx="332.8" cy="379.1" r="0.55" fill="#d07040" fill-opacity="0.5"/>
<circle cx="328.4" cy="382.1" r="0.55" fill="#7a5068" fill-opacity="0.55"/>
<circle cx="332.8" cy="378.4" r="0.55" fill="#9a6070" fill-opacity="0.5"/>
<circle cx="328.2" cy="383.2" r="0.55" fill="#9a6070" fill-opacity="0.5"/>
<circle cx="329.1" cy="379.6" r="0.55" fill="#9a6070" fill-opacity="0.5"/>
<circle cx="329.0" cy="369.6" r="0.55" fill="#f0a060" fill-opacity="0.45"/>
<circle cx="332.9" cy="379.1" r="0.55" fill="#e08848" fill-opacity="0.5"/>
<circle cx="337.3" cy="386.0" r="0.55" fill="#7a5068" fill-opacity="0.55"/>
<circle cx="329.0" cy="370.1" r="0.55" fill="#e08848" fill-opacity="0.5"/>
<circle cx="330.8" cy="380.5" r="0.55" fill="#7a5068" fill-opacity="0.55"/>
<circle cx="328.2" cy="374.5" r="0.55" fill="#d07040" fill-opacity="0.5"/>
<circle cx="331.7" cy="386.9" r="0.55" fill="#f0a060" fill-opacity="0.45"/>
<circle cx="327.0" cy="370.3" r="0.55" fill="#f0a060" fill-opacity="0.45"/>
<circle cx="332.3" cy="378.1" r="0.55" fill="#d07040" fill-opacity="0.5"/>
<circle cx="333.4" cy="374.8" r="0.55" fill="#d07040" fill-opacity="0.5"/>
<circle cx="329.9" cy="374.8" r="0.55" fill="#e08848" fill-opacity="0.5"/>
<circle cx="329.0" cy="377.3" r="0.55" fill="#7a5068" fill-opacity="0.55"/>
<circle cx="331.3" cy="386.7" r="0.55" fill="#d07040" fill-opacity="0.5"/>
<circle cx="329.6" cy="374.1" r="0.55" fill="#9a6070" fill-opacity="0.5"/>
<circle cx="328.6" cy="382.1" r="0.55" fill="#7a5068" fill-opacity="0.55"/>
<circle cx="325.1" cy="390.3" r="0.55" fill="#f0a060" fill-opacity="0.45"/>
<circle cx="329.9" cy="379.0" r="0.55" fill="#9a6070" fill-opacity="0.5"/>
<circle cx="327.4" cy="375.8" r="0.55" fill="#9a6070" fill-opacity="0.5"/>
<circle cx="330.6" cy="369.4" r="0.55" fill="#7a5068" fill-opacity="0.55"/>
<circle cx="330.1" cy="376.5" r="0.55" fill="#e08848" fill-opacity="0.5"/>
<circle cx="328.8" cy="386.7" r="0.55" fill="#d07040" fill-opacity="0.5"/>
<circle cx="333.8" cy="380.1" r="0.55" fill="#f0a060" fill-opacity="0.45"/>
<circle cx="332.4" cy="380.0" r="0.55" fill="#7a5068" fill-opacity="0.55"/>
<circle cx="327.3" cy="384.1" r="0.55" fill="#9a6070" fill-opacity="0.5"/>
<circle cx="332.6" cy="377.0" r="0.55" fill="#7a5068" fill-opacity="0.55"/>
<circle cx="329.4" cy="370.6" r="0.55" fill="#9a6070" fill-opacity="0.5"/>
<circle cx="327.8" cy="383.0" r="0.55" fill="#e08848" fill-opacity="0.5"/>
<circle cx="328.3" cy="372.5" r="0.55" fill="#9a6070" fill-opacity="0.5"/>
<circle cx="336.6" cy="386.2" r="0.55" fill="#9a6070" fill-opacity="0.5"/>
<circle cx="331.6" cy="386.2" r="0.55" fill="#d07040" fill-opacity="0.5"/>
<circle cx="334.1" cy="392.7" r="0.55" fill="#9a6070" fill-opacity="0.5"/>
<circle cx="328.7" cy="391.5" r="0.55" fill="#9a6070" fill-opacity="0.5"/>
<circle cx="333.1" cy="384.4" r="0.55" fill="#9a6070" fill-opacity="0.5"/>
<circle cx="326.5" cy="381.9" r="0.55" fill="#9a6070" fill-opacity="0.5"/>
<circle cx="332.6" cy="371.4" r="0.55" fill="#7a5068" fill-opacity="0.55"/>
<circle cx="333.2" cy="383.6" r="0.55" fill="#e08848" fill-opacity="0.5"/>
<circle cx="331.0" cy="377.0" r="0.55" fill="#9a6070" fill-opacity="0.5"/>
<circle cx="328.5" cy="376.7" r="0.55" fill="#7a5068" fill-opacity="0.55"/>
<circle cx="331.4" cy="386.8" r="0.55" fill="#d07040" fill-opacity="0.5"/>
<circle cx="337.1" cy="375.1" r="0.55" fill="#d07040" fill-opacity="0.5"/>
<circle cx="335.0" cy="383.5" r="0.55" fill="#f0a060" fill-opacity="0.45"/>
<circle cx="326.5" cy="380.7" r="0.55" fill="#9a6070" fill-opacity="0.5"/>
<circle cx="334.6" cy="379.6" r="0.55" fill="#d07040" fill-opacity="0.5"/>
<circle cx="329.5" cy="381.3" r="0.55" fill="#d07040" fill-opacity="0.5"/>
<circle cx="328.7" cy="381.6" r="0.55" fill="#7a5068" fill-opacity="0.55"/>
<circle cx="332.3" cy="375.1" r="0.55" fill="#9a6070" fill-opacity="0.5"/>
<circle cx="337.7" cy="381.6" r="0.55" fill="#7a5068" fill-opacity="0.55"/>
<circle cx="324.4" cy="373.7" r="0.55" fill="#e08848" fill-opacity="0.5"/>
<circle cx="332.1" cy="382.2" r="0.55" fill="#9a6070" fill-opacity="0.5"/>
<circle cx="328.1" cy="374.9" r="0.55" fill="#7a5068" fill-opacity="0.55"/>
<circle cx="328.4" cy="377.8" r="0.55" fill="#7a5068" fill-opacity="0.55"/>
<circle cx="334.6" cy="392.2" r="0.55" fill="#9a6070" fill-opacity="0.5"/>
<circle cx="329.5" cy="385.0" r="0.55" fill="#f0a060" fill-opacity="0.45"/>
<circle cx="331.8" cy="384.4" r="0.55" fill="#e08848" fill-opacity="0.5"/>
<circle cx="327.2" cy="381.4" r="0.55" fill="#d07040" fill-opacity="0.5"/>
<circle cx="327.7" cy="386.8" r="0.55" fill="#e08848" fill-opacity="0.5"/>
<circle cx="332.9" cy="379.2" r="0.55" fill="#d07040" fill-opacity="0.5"/>
<circle cx="331.6" cy="372.8" r="0.55" fill="#d07040" fill-opacity="0.5"/>
<circle cx="325.7" cy="381.0" r="0.55" fill="#7a5068" fill-opacity="0.55"/>
<circle cx="326.9" cy="386.6" r="0.55" fill="#7a5068" fill-opacity="0.55"/>
<circle cx="331.5" cy="376.3" r="0.55" fill="#7a5068" fill-opacity="0.55"/>
<circle cx="330.2" cy="379.0" r="0.55" fill="#f0a060" fill-opacity="0.45"/>
<circle cx="332.4" cy="381.6" r="0.55" fill="#7a5068" fill-opacity="0.55"/>
<circle cx="330.8" cy="382.4" r="0.55" fill="#f0a060" fill-opacity="0.45"/>
<circle cx="327.4" cy="379.4" r="0.55" fill="#7a5068" fill-opacity="0.55"/>
<circle cx="332.1" cy="372.1" r="0.55" fill="#d07040" fill-opacity="0.5"/>
<circle cx="329.8" cy="382.8" r="0.55" fill="#f0a060" fill-opacity="0.45"/>
<circle cx="332.3" cy="382.9" r="0.55" fill="#f0a060" fill-opacity="0.45"/>
<circle cx="329.5" cy="386.7" r="0.55" fill="#7a5068" fill-opacity="0.55"/>
<circle cx="331.3" cy="375.8" r="0.55" fill="#d07040" fill-opacity="0.5"/>
<circle cx="331.3" cy="378.8" r="0.55" fill="#7a5068" fill-opacity="0.55"/>
<circle cx="324.3" cy="382.5" r="0.55" fill="#e08848" fill-opacity="0.5"/>
<circle cx="329.7" cy="378.7" r="0.55" fill="#e08848" fill-opacity="0.5"/>
<circle cx="329.2" cy="383.3" r="0.55" fill="#7a5068" fill-opacity="0.55"/>
<circle cx="329.3" cy="381.6" r="0.55" fill="#f0a060" fill-opacity="0.45"/>
<circle cx="331.9" cy="385.1" r="0.55" fill="#e08848" fill-opacity="0.5"/>
<circle cx="333.4" cy="383.9" r="0.55" fill="#7a5068" fill-opacity="0.55"/>
<circle cx="331.8" cy="379.0" r="0.55" fill="#f0a060" fill-opacity="0.45"/>
<circle cx="330.8" cy="383.4" r="0.55" fill="#e08848" fill-opacity="0.5"/>
<circle cx="334.7" cy="379.8" r="0.55" fill="#f0a060" fill-opacity="0.45"/>
<circle cx="333.7" cy="392.6" r="0.55" fill="#f0a060" fill-opacity="0.45"/>
<circle cx="333.5" cy="390.6" r="0.55" fill="#7a5068" fill-opacity="0.55"/>
<circle cx="338.7" cy="376.9" r="0.55" fill="#f0a060" fill-opacity="0.45"/>
<circle cx="331.8" cy="381.5" r="0.55" fill="#9a6070" fill-opacity="0.5"/>
<circle cx="327.9" cy="388.8" r="0.55" fill="#7a5068" fill-opacity="0.55"/>
<circle cx="327.3" cy="384.2" r="0.55" fill="#f0a060" fill-opacity="0.45"/>
<circle cx="329.9" cy="367.2" r="0.55" fill="#9a6070" fill-opacity="0.5"/>
<circle cx="330.8" cy="382.3" r="0.55" fill="#9a6070" fill-opacity="0.5"/>
<circle cx="329.2" cy="373.3" r="0.55" fill="#f0a060" fill-opacity="0.45"/>
<circle cx="327.4" cy="377.2" r="0.55" fill="#d07040" fill-opacity="0.5"/>
<circle cx="326.4" cy="384.0" r="0.55" fill="#d07040" fill-opacity="0.5"/>
<circle cx="331.5" cy="387.2" r="0.55" fill="#d07040" fill-opacity="0.5"/>
<circle cx="329.9" cy="380.6" r="0.55" fill="#9a6070" fill-opacity="0.5"/>
<circle cx="333.8" cy="375.7" r="0.55" fill="#9a6070" fill-opacity="0.5"/>
<circle cx="327.4" cy="383.5" r="0.55" fill="#d07040" fill-opacity="0.5"/>
<circle cx="327.0" cy="387.6" r="0.55" fill="#e08848" fill-opacity="0.5"/>
<circle cx="328.9" cy="379.8" r="0.55" fill="#9a6070" fill-opacity="0.5"/>
<circle cx="330.9" cy="370.5" r="0.55" fill="#e08848" fill-opacity="0.5"/>
<circle cx="328.6" cy="380.9" r="0.55" fill="#d07040" fill-opacity="0.5"/>
<circle cx="327.8" cy="385.7" r="0.55" fill="#f0a060" fill-opacity="0.45"/>
<circle cx="332.3" cy="379.4" r="0.55" fill="#d07040" fill-opacity="0.5"/>
<circle cx="331.8" cy="378.8" r="0.55" fill="#f0a060" fill-opacity="0.45"/>
<circle cx="325.1" cy="378.8" r="0.55" fill="#e08848" fill-opacity="0.5"/>
<circle cx="326.9" cy="380.0" r="0.55" fill="#f0a060" fill-opacity="0.45"/>
<circle cx="328.9" cy="377.1" r="0.55" fill="#7a5068" fill-opacity="0.55"/>
<circle cx="329.3" cy="381.2" r="0.55" fill="#e08848" fill-opacity="0.5"/>
<circle cx="329.7" cy="377.2" r="0.55" fill="#9a6070" fill-opacity="0.5"/>
<circle cx="329.3" cy="385.3" r="0.55" fill="#9a6070" fill-opacity="0.5"/>
<circle cx="330.7" cy="379.3" r="0.55" fill="#e08848" fill-opacity="0.5"/>
<circle cx="328.7" cy="383.6" r="0.55" fill="#d07040" fill-opacity="0.5"/>
<circle cx="328.8" cy="387.2" r="0.55" fill="#f0a060" fill-opacity="0.45"/>
<circle cx="335.6" cy="367.0" r="0.55" fill="#9a6070" fill-opacity="0.5"/>
<circle cx="328.7" cy="375.8" r="0.55" fill="#d07040" fill-opacity="0.5"/>
<circle cx="332.7" cy="379.4" r="0.55" fill="#e08848" fill-opacity="0.5"/>
<circle cx="336.1" cy="383.5" r="0.55" fill="#7a5068" fill-opacity="0.55"/>
<circle cx="337.0" cy="382.6" r="0.55" fill="#9a6070" fill-opacity="0.5"/>
<circle cx="331.3" cy="378.5" r="0.55" fill="#7a5068" fill-opacity="0.55"/>
<circle cx="329.8" cy="386.2" r="0.55" fill="#d07040" fill-opacity="0.5"/>
<circle cx="332.1" cy="386.5" r="0.55" fill="#9a6070" fill-opacity="0.5"/>
<circle cx="330.4" cy="388.4" r="0.55" fill="#e08848" fill-opacity="0.5"/>
<circle cx="332.7" cy="381.2" r="0.55" fill="#f0a060" fill-opacity="0.45"/>
<circle cx="334.1" cy="380.7" r="0.55" fill="#9a6070" fill-opacity="0.5"/>
<circle cx="325.0" cy="382.6" r="0.55" fill="#e08848" fill-opacity="0.5"/>
<circle cx="329.0" cy="372.8" r="0.55" fill="#7a5068" fill-opacity="0.55"/>
<circle cx="333.0" cy="382.0" r="0.55" fill="#9a6070" fill-opacity="0.5"/>
<circle cx="337.8" cy="386.6" r="0.55" fill="#d07040" fill-opacity="0.5"/>
<circle cx="323.7" cy="377.0" r="0.55" fill="#7a5068" fill-opacity="0.55"/>
<circle cx="327.4" cy="382.8" r="0.55" fill="#7a5068" fill-opacity="0.55"/>
<circle cx="329.3" cy="378.8" r="0.55" fill="#7a5068" fill-opacity="0.55"/>
<circle cx="331.0" cy="380.9" r="0.55" fill="#7a5068" fill-opacity="0.55"/>
<circle cx="331.0" cy="377.1" r="0.55" fill="#9a6070" fill-opacity="0.5"/>
<circle cx="329.9" cy="382.5" r="0.55" fill="#7a5068" fill-opacity="0.55"/>
<circle cx="332.3" cy="389.9" r="0.55" fill="#f0a060" fill-opacity="0.45"/>
<circle cx="328.9" cy="373.8" r="0.55" fill="#7a5068" fill-opacity="0.55"/>
<circle cx="328.6" cy="376.5" r="0.55" fill="#d07040" fill-opacity="0.5"/>
<circle cx="329.9" cy="384.8" r="0.55" fill="#d07040" fill-opacity="0.5"/>
<circle cx="327.9" cy="381.9" r="0.55" fill="#9a6070" fill-opacity="0.5"/>
<circle cx="331.9" cy="373.5" r="0.55" fill="#d07040" fill-opacity="0.5"/>
<circle cx="324.9" cy="378.3" r="0.55" fill="#7a5068" fill-opacity="0.55"/>
<circle cx="327.9" cy="384.0" r="0.55" fill="#e08848" fill-opacity="0.5"/>
<circle cx="333.4" cy="384.9" r="0.55" fill="#e08848" fill-opacity="0.5"/>
<circle cx="328.7" cy="383.7" r="0.55" fill="#f0a060" fill-opacity="0.45"/>
<circle cx="338.2" cy="377.9" r="0.55" fill="#9a6070" fill-opacity="0.5"/>
<circle cx="335.5" cy="384.5" r="0.55" fill="#d07040" fill-opacity="0.5"/>
<circle cx="333.6" cy="374.0" r="0.55" fill="#7a5068" fill-opacity="0.55"/>
<circle cx="330.7" cy="381.1" r="0.55" fill="#e08848" fill-opacity="0.5"/>
<circle cx="334.0" cy="379.6" r="0.55" fill="#d07040" fill-opacity="0.5"/>
<circle cx="334.3" cy="372.1" r="0.55" fill="#7a5068" fill-opacity="0.55"/>
<circle cx="328.3" cy="391.6" r="0.55" fill="#f0a060" fill-opacity="0.45"/>
<circle cx="335.3" cy="390.0" r="0.55" fill="#e08848" fill-opacity="0.5"/>
<circle cx="332.5" cy="374.1" r="0.55" fill="#f0a060" fill-opacity="0.45"/>
<circle cx="333.5" cy="373.7" r="0.55" fill="#d07040" fill-opacity="0.5"/>
<circle cx="332.1" cy="376.3" r="0.55" fill="#f0a060" fill-opacity="0.45"/>
<circle cx="338.2" cy="377.9" r="0.55" fill="#9a6070" fill-opacity="0.5"/>
<circle cx="330.1" cy="392.2" r="0.55" fill="#e08848" fill-opacity="0.5"/>
<circle cx="330.4" cy="383.5" r="0.55" fill="#f0a060" fill-opacity="0.45"/>
<circle cx="330.6" cy="380.5" r="0.55" fill="#f0a060" fill-opacity="0.45"/>
<circle cx="333.3" cy="384.6" r="0.55" fill="#d07040" fill-opacity="0.5"/>
<circle cx="328.6" cy="382.0" r="0.55" fill="#9a6070" fill-opacity="0.5"/>
<circle cx="326.1" cy="379.1" r="0.55" fill="#e08848" fill-opacity="0.5"/>
<circle cx="335.7" cy="377.3" r="0.55" fill="#7a5068" fill-opacity="0.55"/>
<circle cx="335.1" cy="379.9" r="0.55" fill="#e08848" fill-opacity="0.5"/>
<circle cx="328.5" cy="370.6" r="0.55" fill="#9a6070" fill-opacity="0.5"/>
<circle cx="335.9" cy="371.3" r="0.55" fill="#9a6070" fill-opacity="0.5"/>
<circle cx="335.4" cy="374.9" r="0.55" fill="#e08848" fill-opacity="0.5"/>
<circle cx="333.2" cy="377.2" r="0.55" fill="#f0a060" fill-opacity="0.45"/>
<circle cx="334.0" cy="380.8" r="0.55" fill="#9a6070" fill-opacity="0.5"/>
<circle cx="334.3" cy="380.3" r="0.55" fill="#d07040" fill-opacity="0.5"/>
<circle cx="329.1" cy="380.3" r="0.55" fill="#7a5068" fill-opacity="0.55"/>
<circle cx="332.5" cy="377.2" r="0.55" fill="#7a5068" fill-opacity="0.55"/>
<circle cx="330.4" cy="382.1" r="0.55" fill="#e08848" fill-opacity="0.5"/>
<circle cx="331.0" cy="376.4" r="0.55" fill="#9a6070" fill-opacity="0.5"/>
<circle cx="333.5" cy="387.5" r="0.55" fill="#e08848" fill-opacity="0.5"/>
<circle cx="328.5" cy="385.2" r="0.55" fill="#f0a060" fill-opacity="0.45"/>
<circle cx="333.1" cy="393.7" r="0.55" fill="#f0a060" fill-opacity="0.45"/>
<circle cx="327.8" cy="380.7" r="0.55" fill="#9a6070" fill-opacity="0.5"/>
<circle cx="325.0" cy="373.0" r="0.55" fill="#e08848" fill-opacity="0.5"/>
<circle cx="328.8" cy="385.5" r="0.55" fill="#7a5068" fill-opacity="0.55"/>
<circle cx="331.3" cy="379.4" r="0.55" fill="#9a6070" fill-opacity="0.5"/>
<circle cx="327.2" cy="380.8" r="0.55" fill="#f0a060" fill-opacity="0.45"/>
<circle cx="330.1" cy="379.7" r="0.55" fill="#7a5068" fill-opacity="0.55"/>
<circle cx="334.7" cy="376.9" r="0.55" fill="#e08848" fill-opacity="0.5"/>
<circle cx="333.8" cy="387.6" r="0.55" fill="#f0a060" fill-opacity="0.45"/>
<circle cx="331.3" cy="385.4" r="0.55" fill="#e08848" fill-opacity="0.5"/>
<circle cx="329.5" cy="389.8" r="0.55" fill="#7a5068" fill-opacity="0.55"/>
<circle cx="330.7" cy="386.1" r="0.55" fill="#9a6070" fill-opacity="0.5"/>
<circle cx="333.9" cy="376.5" r="0.55" fill="#e08848" fill-opacity="0.5"/>
<circle cx="335.9" cy="381.8" r="0.55" fill="#f0a060" fill-opacity="0.45"/>
<circle cx="338.2" cy="383.6" r="0.55" fill="#e08848" fill-opacity="0.5"/>
<circle cx="330.3" cy="372.4" r="0.55" fill="#9a6070" fill-opacity="0.5"/>
<circle cx="335.7" cy="386.9" r="0.55" fill="#e08848" fill-opacity="0.5"/>
<circle cx="330.5" cy="379.3" r="0.55" fill="#9a6070" fill-opacity="0.5"/>
<circle cx="319.9" cy="386.2" r="0.55" fill="#f0a060" fill-opacity="0.45"/>
<circle cx="331.1" cy="384.1" r="0.55" fill="#f0a060" fill-opacity="0.45"/>
<circle cx="327.6" cy="386.8" r="0.55" fill="#f0a060" fill-opacity="0.45"/>
<circle cx="332.8" cy="384.4" r="0.55" fill="#e08848" fill-opacity="0.5"/>
<circle cx="334.0" cy="379.1" r="0.55" fill="#9a6070" fill-opacity="0.5"/>
<circle cx="332.4" cy="374.2" r="0.55" fill="#7a5068" fill-opacity="0.55"/>
<circle cx="330.3" cy="373.6" r="0.55" fill="#e08848" fill-opacity="0.5"/>
<circle cx="330.1" cy="372.6" r="0.55" fill="#d07040" fill-opacity="0.5"/>
<circle cx="326.9" cy="372.4" r="0.55" fill="#7a5068" fill-opacity="0.55"/>
<circle cx="326.1" cy="375.5" r="0.55" fill="#d07040" fill-opacity="0.5"/>
<circle cx="328.7" cy="375.3" r="0.55" fill="#7a5068" fill-opacity="0.55"/>
<circle cx="324.4" cy="382.2" r="0.55" fill="#9a6070" fill-opacity="0.5"/>
<circle cx="331.2" cy="384.9" r="0.55" fill="#7a5068" fill-opacity="0.55"/>
<circle cx="333.4" cy="371.1" r="0.55" fill="#f0a060" fill-opacity="0.45"/>
<circle cx="327.7" cy="395.5" r="0.55" fill="#7a5068" fill-opacity="0.55"/>
<circle cx="331.6" cy="382.1" r="0.55" fill="#9a6070" fill-opacity="0.5"/>
<circle cx="331.2" cy="385.3" r="0.55" fill="#7a5068" fill-opacity="0.55"/>
<circle cx="329.0" cy="393.8" r="0.55" fill="#f0a060" fill-opacity="0.45"/>
<circle cx="333.7" cy="379.4" r="0.55" fill="#d07040" fill-opacity="0.5"/>
<circle cx="335.3" cy="376.4" r="0.55" fill="#e08848" fill-opacity="0.5"/>
<circle cx="330.9" cy="384.2" r="0.55" fill="#e08848" fill-opacity="0.5"/>
<circle cx="331.7" cy="386.9" r="0.55" fill="#9a6070" fill-opacity="0.5"/>
<circle cx="329.5" cy="377.6" r="0.55" fill="#f0a060" fill-opacity="0.45"/>
<circle cx="331.0" cy="370.2" r="0.55" fill="#d07040" fill-opacity="0.5"/>
<circle cx="326.2" cy="379.7" r="0.55" fill="#e08848" fill-opacity="0.5"/>
<circle cx="329.1" cy="381.7" r="0.55" fill="#f0a060" fill-opacity="0.45"/>
<circle cx="326.9" cy="378.2" r="0.55" fill="#d07040" fill-opacity="0.5"/>
<circle cx="329.0" cy="369.6" r="0.55" fill="#d07040" fill-opacity="0.5"/>
<circle cx="330.1" cy="369.8" r="0.55" fill="#e08848" fill-opacity="0.5"/>
<circle cx="326.3" cy="381.4" r="0.55" fill="#7a5068" fill-opacity="0.55"/>
<circle cx="323.9" cy="372.6" r="0.55" fill="#d07040" fill-opacity="0.5"/>
<circle cx="327.9" cy="380.7" r="0.55" fill="#7a5068" fill-opacity="0.55"/>
<circle cx="335.5" cy="366.4" r="0.55" fill="#f0a060" fill-opacity="0.45"/>
<circle cx="326.9" cy="381.3" r="0.55" fill="#f0a060" fill-opacity="0.45"/>
<circle cx="334.1" cy="385.1" r="0.55" fill="#7a5068" fill-opacity="0.55"/>
<circle cx="328.8" cy="379.7" r="0.55" fill="#e08848" fill-opacity="0.5"/>
<circle cx="333.0" cy="387.3" r="0.55" fill="#e08848" fill-opacity="0.5"/>
<circle cx="334.3" cy="387.6" r="0.55" fill="#7a5068" fill-opacity="0.55"/>
<circle cx="330.8" cy="379.6" r="0.55" fill="#9a6070" fill-opacity="0.5"/>
<circle cx="330.3" cy="374.5" r="0.55" fill="#d07040" fill-opacity="0.5"/>
<circle cx="331.0" cy="378.2" r="0.55" fill="#e08848" fill-opacity="0.5"/>
<circle cx="332.8" cy="385.5" r="0.55" fill="#7a5068" fill-opacity="0.55"/>
<circle cx="328.9" cy="382.6" r="0.55" fill="#7a5068" fill-opacity="0.55"/>
<circle cx="331.0" cy="384.8" r="0.55" fill="#d07040" fill-opacity="0.5"/>
<circle cx="329.5" cy="373.6" r="0.55" fill="#e08848" fill-opacity="0.5"/>
<circle cx="325.1" cy="390.0" r="0.55" fill="#e08848" fill-opacity="0.5"/>
<circle cx="336.0" cy="370.8" r="0.55" fill="#f0a060" fill-opacity="0.45"/>
<circle cx="329.3" cy="376.6" r="0.55" fill="#7a5068" fill-opacity="0.55"/>
<circle cx="331.6" cy="373.3" r="0.55" fill="#f0a060" fill-opacity="0.45"/>
<circle cx="332.0" cy="384.8" r="0.55" fill="#9a6070" fill-opacity="0.5"/>
<circle cx="332.4" cy="385.5" r="0.55" fill="#d07040" fill-opacity="0.5"/>
<circle cx="330.2" cy="379.4" r="0.55" fill="#d07040" fill-opacity="0.5"/>
<circle cx="331.1" cy="388.8" r="0.55" fill="#9a6070" fill-opacity="0.5"/>
<circle cx="337.5" cy="393.1" r="0.55" fill="#9a6070" fill-opacity="0.5"/>
<circle cx="332.9" cy="379.4" r="0.55" fill="#e08848" fill-opacity="0.5"/>
<circle cx="333.1" cy="384.3" r="0.55" fill="#7a5068" fill-opacity="0.55"/>
<circle cx="332.3" cy="384.1" r="0.55" fill="#9a6070" fill-opacity="0.5"/>
<circle cx="333.0" cy="387.1" r="0.55" fill="#d07040" fill-opacity="0.5"/>
<circle cx="329.6" cy="386.3" r="0.55" fill="#7a5068" fill-opacity="0.55"/>
<circle cx="326.6" cy="392.2" r="0.55" fill="#9a6070" fill-opacity="0.5"/>
<circle cx="327.9" cy="376.3" r="0.55" fill="#d07040" fill-opacity="0.5"/>
<circle cx="322.6" cy="374.1" r="0.55" fill="#7a5068" fill-opacity="0.55"/>
<circle cx="329.1" cy="371.7" r="0.55" fill="#e08848" fill-opacity="0.5"/>
<circle cx="333.1" cy="381.0" r="0.55" fill="#f0a060" fill-opacity="0.45"/>
<circle cx="331.2" cy="378.1" r="0.55" fill="#7a5068" fill-opacity="0.55"/>
<circle cx="330.8" cy="374.8" r="0.55" fill="#d07040" fill-opacity="0.5"/>
<circle cx="327.5" cy="384.9" r="0.55" fill="#e08848" fill-opacity="0.5"/>
<circle cx="331.3" cy="385.6" r="0.55" fill="#f0a060" fill-opacity="0.45"/>
<circle cx="329.4" cy="375.5" r="0.55" fill="#f0a060" fill-opacity="0.45"/>
<circle cx="329.2" cy="376.9" r="0.55" fill="#9a6070" fill-opacity="0.5"/>
<circle cx="330.9" cy="373.1" r="0.55" fill="#f0a060" fill-opacity="0.45"/>
<circle cx="333.6" cy="383.7" r="0.55" fill="#e08848" fill-opacity="0.5"/>
<circle cx="330.8" cy="372.1" r="0.55" fill="#f0a060" fill-opacity="0.45"/>
<circle cx="330.9" cy="380.2" r="0.55" fill="#7a5068" fill-opacity="0.55"/>
<circle cx="333.4" cy="391.3" r="0.55" fill="#d07040" fill-opacity="0.5"/>
<circle cx="330.1" cy="394.8" r="0.55" fill="#e08848" fill-opacity="0.5"/>
<circle cx="336.8" cy="378.7" r="0.55" fill="#f0a060" fill-opacity="0.45"/>
<circle cx="330.1" cy="377.5" r="0.55" fill="#9a6070" fill-opacity="0.5"/>
<circle cx="333.0" cy="383.6" r="0.55" fill="#f0a060" fill-opacity="0.45"/>
<circle cx="329.0" cy="386.5" r="0.55" fill="#e08848" fill-opacity="0.5"/>
<circle cx="332.9" cy="383.7" r="0.55" fill="#f0a060" fill-opacity="0.45"/>
<circle cx="327.1" cy="384.1" r="0.55" fill="#9a6070" fill-opacity="0.5"/>
<circle cx="333.1" cy="377.8" r="0.55" fill="#7a5068" fill-opacity="0.55"/>
<circle cx="328.1" cy="376.3" r="0.55" fill="#9a6070" fill-opacity="0.5"/>
<circle cx="334.3" cy="378.8" r="0.55" fill="#7a5068" fill-opacity="0.55"/>
<circle cx="328.3" cy="383.0" r="0.55" fill="#e08848" fill-opacity="0.5"/>
<circle cx="331.8" cy="377.7" r="0.55" fill="#7a5068" fill-opacity="0.55"/>
<circle cx="330.8" cy="375.7" r="0.55" fill="#d07040" fill-opacity="0.5"/>
<circle cx="328.9" cy="379.4" r="0.55" fill="#7a5068" fill-opacity="0.55"/>
<circle cx="333.3" cy="383.5" r="0.55" fill="#d07040" fill-opacity="0.5"/>
<circle cx="331.9" cy="377.0" r="0.55" fill="#f0a060" fill-opacity="0.45"/>
<circle cx="329.0" cy="372.5" r="0.55" fill="#e08848" fill-opacity="0.5"/>
<circle cx="328.2" cy="387.9" r="0.55" fill="#f0a060" fill-opacity="0.45"/>
<circle cx="334.4" cy="374.4" r="0.55" fill="#e08848" fill-opacity="0.5"/>
<circle cx="329.6" cy="390.0" r="0.55" fill="#9a6070" fill-opacity="0.5"/>
<circle cx="332.8" cy="373.9" r="0.55" fill="#f0a060" fill-opacity="0.45"/>
<circle cx="329.9" cy="386.3" r="0.55" fill="#9a6070" fill-opacity="0.5"/>
<circle cx="328.8" cy="384.0" r="0.55" fill="#7a5068" fill-opacity="0.55"/>
<circle cx="327.9" cy="384.0" r="0.55" fill="#d07040" fill-opacity="0.5"/>
<circle cx="332.2" cy="386.1" r="0.55" fill="#7a5068" fill-opacity="0.55"/>
<circle cx="322.3" cy="374.2" r="0.55" fill="#7a5068" fill-opacity="0.55"/>
<circle cx="330.2" cy="374.9" r="0.55" fill="#7a5068" fill-opacity="0.55"/>
<circle cx="329.1" cy="379.7" r="0.55" fill="#9a6070" fill-opacity="0.5"/>
<circle cx="331.2" cy="388.2" r="0.55" fill="#9a6070" fill-opacity="0.5"/>
<circle cx="329.7" cy="381.0" r="0.55" fill="#e08848" fill-opacity="0.5"/>
<circle cx="335.4" cy="386.4" r="0.55" fill="#9a6070" fill-opacity="0.5"/>
<circle cx="331.0" cy="379.9" r="0.55" fill="#7a5068" fill-opacity="0.55"/>
<circle cx="332.8" cy="380.1" r="0.55" fill="#f0a060" fill-opacity="0.45"/>
<circle cx="329.7" cy="380.1" r="0.55" fill="#e08848" fill-opacity="0.5"/>
<circle cx="335.1" cy="368.3" r="0.55" fill="#d07040" fill-opacity="0.5"/>
<circle cx="329.6" cy="390.3" r="0.55" fill="#f0a060" fill-opacity="0.45"/>
<circle cx="328.6" cy="395.4" r="0.55" fill="#e08848" fill-opacity="0.5"/>
<circle cx="331.1" cy="370.0" r="0.55" fill="#d07040" fill-opacity="0.5"/>
<circle cx="332.6" cy="374.3" r="0.55" fill="#9a6070" fill-opacity="0.5"/>
<circle cx="330.7" cy="382.2" r="0.55" fill="#9a6070" fill-opacity="0.5"/>
<circle cx="328.6" cy="369.7" r="0.55" fill="#f0a060" fill-opacity="0.45"/>
<circle cx="332.3" cy="376.8" r="0.55" fill="#f0a060" fill-opacity="0.45"/>
<circle cx="325.2" cy="379.5" r="0.55" fill="#e08848" fill-opacity="0.5"/>
<circle cx="334.4" cy="388.2" r="0.55" fill="#7a5068" fill-opacity="0.55"/>
<circle cx="328.9" cy="384.6" r="0.55" fill="#f0a060" fill-opacity="0.45"/>
<circle cx="330.2" cy="378.3" r="0.55" fill="#e08848" fill-opacity="0.5"/>
<circle cx="329.1" cy="380.7" r="0.55" fill="#e08848" fill-opacity="0.5"/>
<circle cx="330.0" cy="399.9" r="0.55" fill="#9a6070" fill-opacity="0.5"/>
<circle cx="333.2" cy="391.0" r="0.55" fill="#7a5068" fill-opacity="0.55"/>
<circle cx="331.5" cy="395.6" r="0.55" fill="#d07040" fill-opacity="0.5"/>
<circle cx="331.0" cy="387.7" r="0.55" fill="#d07040" fill-opacity="0.5"/>
<circle cx="330.3" cy="375.0" r="0.55" fill="#7a5068" fill-opacity="0.55"/>
<circle cx="332.4" cy="378.5" r="0.55" fill="#f0a060" fill-opacity="0.45"/>
<circle cx="332.5" cy="374.3" r="0.55" fill="#9a6070" fill-opacity="0.5"/>
<circle cx="330.8" cy="380.1" r="0.55" fill="#d07040" fill-opacity="0.5"/>
<circle cx="331.7" cy="376.9" r="0.55" fill="#d07040" fill-opacity="0.5"/>
<circle cx="333.9" cy="388.5" r="0.55" fill="#7a5068" fill-opacity="0.55"/>
<circle cx="329.8" cy="377.2" r="0.55" fill="#f0a060" fill-opacity="0.45"/>
<circle cx="341.6" cy="382.1" r="0.55" fill="#9a6070" fill-opacity="0.5"/>
<circle cx="329.2" cy="377.4" r="0.55" fill="#9a6070" fill-opacity="0.5"/>
<circle cx="326.0" cy="375.3" r="0.55" fill="#e08848" fill-opacity="0.5"/>
<circle cx="334.6" cy="388.7" r="0.55" fill="#e08848" fill-opacity="0.5"/>
<circle cx="326.5" cy="383.1" r="0.55" fill="#9a6070" fill-opacity="0.5"/>
<circle cx="333.9" cy="373.4" r="0.55" fill="#d07040" fill-opacity="0.5"/>
<circle cx="325.3" cy="383.6" r="0.55" fill="#9a6070" fill-opacity="0.5"/>
<circle cx="329.8" cy="377.3" r="0.55" fill="#f0a060" fill-opacity="0.45"/>
<circle cx="332.1" cy="387.1" r="0.55" fill="#e08848" fill-opacity="0.5"/>
<circle cx="330.9" cy="374.4" r="0.55" fill="#9a6070" fill-opacity="0.5"/>
<circle cx="333.0" cy="396.8" r="0.55" fill="#f0a060" fill-opacity="0.45"/>
<circle cx="332.9" cy="380.3" r="0.55" fill="#e08848" fill-opacity="0.5"/>
<circle cx="332.3" cy="378.5" r="0.55" fill="#9a6070" fill-opacity="0.5"/>
<circle cx="332.9" cy="384.1" r="0.55" fill="#f0a060" fill-opacity="0.45"/>
<circle cx="325.8" cy="389.6" r="0.55" fill="#f0a060" fill-opacity="0.45"/>
<circle cx="327.6" cy="368.7" r="0.55" fill="#f0a060" fill-opacity="0.45"/>
<circle cx="332.7" cy="380.8" r="0.55" fill="#f0a060" fill-opacity="0.45"/>
<circle cx="327.6" cy="370.5" r="0.55" fill="#d07040" fill-opacity="0.5"/>
<circle cx="329.0" cy="380.6" r="0.55" fill="#f0a060" fill-opacity="0.45"/>
<circle cx="334.8" cy="380.2" r="0.55" fill="#f0a060" fill-opacity="0.45"/>
<circle cx="330.3" cy="387.5" r="0.55" fill="#f0a060" fill-opacity="0.45"/>
<circle cx="334.0" cy="380.2" r="0.55" fill="#e08848" fill-opacity="0.5"/>
<circle cx="331.2" cy="374.9" r="0.55" fill="#9a6070" fill-opacity="0.5"/>
<circle cx="325.6" cy="371.6" r="0.55" fill="#d07040" fill-opacity="0.5"/>
<circle cx="331.3" cy="381.8" r="0.55" fill="#d07040" fill-opacity="0.5"/>
<circle cx="326.1" cy="372.2" r="0.55" fill="#7a5068" fill-opacity="0.55"/>
<circle cx="334.3" cy="378.8" r="0.55" fill="#e08848" fill-opacity="0.5"/>
<circle cx="329.3" cy="386.1" r="0.55" fill="#7a5068" fill-opacity="0.55"/>
<circle cx="326.3" cy="383.8" r="0.55" fill="#9a6070" fill-opacity="0.5"/>
<circle cx="330.9" cy="380.0" r="0.55" fill="#9a6070" fill-opacity="0.5"/>
<circle cx="334.0" cy="388.8" r="0.55" fill="#e08848" fill-opacity="0.5"/>
<circle cx="327.6" cy="378.3" r="0.55" fill="#9a6070" fill-opacity="0.5"/>
<circle cx="331.3" cy="375.3" r="0.55" fill="#9a6070" fill-opacity="0.5"/>
<circle cx="329.6" cy="377.6" r="0.55" fill="#9a6070" fill-opacity="0.5"/>
<circle cx="333.6" cy="385.0" r="0.55" fill="#e08848" fill-opacity="0.5"/>
<circle cx="332.7" cy="379.9" r="0.55" fill="#9a6070" fill-opacity="0.5"/>
<circle cx="334.4" cy="383.6" r="0.55" fill="#d07040" fill-opacity="0.5"/>
<circle cx="332.0" cy="377.9" r="0.55" fill="#f0a060" fill-opacity="0.45"/>
<circle cx="329.1" cy="383.0" r="0.55" fill="#9a6070" fill-opacity="0.5"/>
<circle cx="328.5" cy="379.2" r="0.55" fill="#f0a060" fill-opacity="0.45"/>
<circle cx="335.4" cy="371.6" r="0.55" fill="#9a6070" fill-opacity="0.5"/>
<circle cx="328.4" cy="386.4" r="0.55" fill="#f0a060" fill-opacity="0.45"/>
<circle cx="328.7" cy="379.9" r="0.55" fill="#d07040" fill-opacity="0.5"/>
<circle cx="330.6" cy="376.2" r="0.55" fill="#d07040" fill-opacity="0.5"/>
<circle cx="330.9" cy="381.0" r="0.55" fill="#e08848" fill-opacity="0.5"/>
<circle cx="324.3" cy="376.9" r="0.55" fill="#d07040" fill-opacity="0.5"/>
<circle cx="330.9" cy="382.0" r="0.55" fill="#f0a060" fill-opacity="0.45"/>
<circle cx="326.5" cy="384.9" r="0.55" fill="#7a5068" fill-opacity="0.55"/>
<circle cx="336.9" cy="370.9" r="0.55" fill="#7a5068" fill-opacity="0.55"/>
<circle cx="324.5" cy="382.3" r="0.55" fill="#7a5068" fill-opacity="0.55"/>
<circle cx="337.1" cy="380.2" r="0.55" fill="#f0a060" fill-opacity="0.45"/>
<circle cx="331.9" cy="369.6" r="0.55" fill="#d07040" fill-opacity="0.5"/>
<circle cx="332.4" cy="387.8" r="0.55" fill="#e08848" fill-opacity="0.5"/>
<circle cx="326.4" cy="384.5" r="0.55" fill="#e08848" fill-opacity="0.5"/>
<circle cx="329.4" cy="387.0" r="0.55" fill="#f0a060" fill-opacity="0.45"/>
<circle cx="327.3" cy="376.3" r="0.55" fill="#e08848" fill-opacity="0.5"/>
<circle cx="329.6" cy="373.0" r="0.55" fill="#e08848" fill-opacity="0.5"/>
<circle cx="330.5" cy="378.8" r="0.55" fill="#9a6070" fill-opacity="0.5"/>
<circle cx="329.3" cy="381.1" r="0.55" fill="#7a5068" fill-opacity="0.55"/>
<circle cx="331.1" cy="380.7" r="0.55" fill="#7a5068" fill-opacity="0.55"/>
<circle cx="335.0" cy="375.4" r="0.55" fill="#7a5068" fill-opacity="0.55"/>
<circle cx="332.7" cy="382.0" r="0.55" fill="#f0a060" fill-opacity="0.45"/>
<circle cx="328.8" cy="380.6" r="0.55" fill="#7a5068" fill-opacity="0.55"/>
<circle cx="329.8" cy="373.8" r="0.55" fill="#f0a060" fill-opacity="0.45"/>
<circle cx="330.1" cy="380.4" r="0.55" fill="#9a6070" fill-opacity="0.5"/>
<circle cx="337.8" cy="385.2" r="0.55" fill="#f0a060" fill-opacity="0.45"/>
<circle cx="333.2" cy="375.5" r="0.55" fill="#7a5068" fill-opacity="0.55"/>
<circle cx="329.4" cy="378.8" r="0.55" fill="#d07040" fill-opacity="0.5"/>
<circle cx="326.6" cy="380.6" r="0.55" fill="#7a5068" fill-opacity="0.55"/>
<circle cx="328.0" cy="386.5" r="0.55" fill="#9a6070" fill-opacity="0.5"/>
<circle cx="329.5" cy="375.7" r="0.55" fill="#e08848" fill-opacity="0.5"/>
<circle cx="333.6" cy="371.0" r="0.55" fill="#7a5068" fill-opacity="0.55"/>
<circle cx="334.0" cy="371.9" r="0.55" fill="#7a5068" fill-opacity="0.55"/>
<circle cx="331.5" cy="366.1" r="0.55" fill="#9a6070" fill-opacity="0.5"/>
<circle cx="331.1" cy="387.1" r="0.55" fill="#f0a060" fill-opacity="0.45"/>
<circle cx="329.4" cy="374.9" r="0.55" fill="#7a5068" fill-opacity="0.55"/>
<circle cx="333.2" cy="389.5" r="0.55" fill="#9a6070" fill-opacity="0.5"/>
<circle cx="329.8" cy="376.4" r="0.55" fill="#9a6070" fill-opacity="0.5"/>
<circle cx="326.9" cy="385.1" r="0.55" fill="#7a5068" fill-opacity="0.55"/>
<circle cx="330.1" cy="377.7" r="0.55" fill="#d07040" fill-opacity="0.5"/>
<circle cx="333.4" cy="380.6" r="0.55" fill="#7a5068" fill-opacity="0.55"/>
<circle cx="326.4" cy="375.9" r="0.55" fill="#9a6070" fill-opacity="0.5"/>
<circle cx="329.9" cy="388.2" r="0.55" fill="#e08848" fill-opacity="0.5"/>
<circle cx="327.9" cy="391.0" r="0.55" fill="#d07040" fill-opacity="0.5"/>
<circle cx="328.9" cy="377.3" r="0.55" fill="#f0a060" fill-opacity="0.45"/>
<circle cx="326.3" cy="380.1" r="0.55" fill="#e08848" fill-opacity="0.5"/>
<circle cx="328.3" cy="376.9" r="0.55" fill="#f0a060" fill-opacity="0.45"/>
<circle cx="328.5" cy="378.7" r="0.55" fill="#7a5068" fill-opacity="0.55"/>
<circle cx="332.9" cy="375.5" r="0.55" fill="#9a6070" fill-opacity="0.5"/>
<circle cx="330.6" cy="380.0" r="0.55" fill="#9a6070" fill-opacity="0.5"/>
<circle cx="332.1" cy="386.7" r="0.55" fill="#9a6070" fill-opacity="0.5"/>
<circle cx="328.4" cy="385.6" r="0.55" fill="#d07040" fill-opacity="0.5"/>
<circle cx="334.7" cy="374.1" r="0.55" fill="#7a5068" fill-opacity="0.55"/>
<circle cx="329.8" cy="378.5" r="0.55" fill="#9a6070" fill-opacity="0.5"/>
<circle cx="341.6" cy="388.8" r="0.55" fill="#d07040" fill-opacity="0.5"/>
<circle cx="331.9" cy="384.0" r="0.55" fill="#e08848" fill-opacity="0.5"/>
<circle cx="326.4" cy="371.7" r="0.55" fill="#9a6070" fill-opacity="0.5"/>
<circle cx="324.8" cy="384.8" r="0.55" fill="#9a6070" fill-opacity="0.5"/>
<circle cx="335.3" cy="375.4" r="0.55" fill="#f0a060" fill-opacity="0.45"/>
<circle cx="331.7" cy="383.8" r="0.55" fill="#7a5068" fill-opacity="0.55"/>
<circle cx="333.3" cy="381.6" r="0.55" fill="#9a6070" fill-opacity="0.5"/>
<circle cx="327.4" cy="388.1" r="0.55" fill="#9a6070" fill-opacity="0.5"/>
<circle cx="330.5" cy="382.4" r="0.55" fill="#f0a060" fill-opacity="0.45"/>
<circle cx="332.2" cy="381.4" r="0.55" fill="#9a6070" fill-opacity="0.5"/>
<circle cx="334.0" cy="386.3" r="0.55" fill="#f0a060" fill-opacity="0.45"/>
<circle cx="328.8" cy="379.5" r="0.55" fill="#d07040" fill-opacity="0.5"/>
<circle cx="323.9" cy="377.3" r="0.55" fill="#9a6070" fill-opacity="0.5"/>
<circle cx="326.6" cy="392.5" r="0.55" fill="#d07040" fill-opacity="0.5"/>
<circle cx="328.9" cy="379.4" r="0.55" fill="#7a5068" fill-opacity="0.55"/>
<circle cx="329.5" cy="385.5" r="0.55" fill="#d07040" fill-opacity="0.5"/>
<circle cx="334.2" cy="373.0" r="0.55" fill="#7a5068" fill-opacity="0.55"/>
</g>
<g filter="url(#bl)">
<circle cx="326.7" cy="400.3" r="0.55" fill="#c0b0c0" fill-opacity="0.35"/>
<circle cx="328.2" cy="407.5" r="0.55" fill="#c0b0c0" fill-opacity="0.35"/>
<circle cx="319.6" cy="383.1" r="0.55" fill="#c0b0c0" fill-opacity="0.35"/>
<circle cx="326.1" cy="400.6" r="0.55" fill="#c0b0c0" fill-opacity="0.35"/>
<circle cx="330.1" cy="413.6" r="0.55" fill="#c0b0c0" fill-opacity="0.35"/>
<circle cx="314.8" cy="396.0" r="0.55" fill="#c0b0c0" fill-opacity="0.35"/>
<circle cx="330.2" cy="415.1" r="0.55" fill="#c0b0c0" fill-opacity="0.35"/>
<circle cx="328.3" cy="396.1" r="0.55" fill="#c0b0c0" fill-opacity="0.35"/>
<circle cx="325.2" cy="406.9" r="0.55" fill="#c0b0c0" fill-opacity="0.35"/>
<circle cx="335.0" cy="407.9" r="0.55" fill="#c0b0c0" fill-opacity="0.35"/>
<circle cx="335.0" cy="390.9" r="0.55" fill="#c0b0c0" fill-opacity="0.35"/>
<circle cx="326.6" cy="389.7" r="0.55" fill="#c0b0c0" fill-opacity="0.35"/>
<circle cx="334.6" cy="406.0" r="0.55" fill="#c0b0c0" fill-opacity="0.35"/>
<circle cx="315.6" cy="394.7" r="0.55" fill="#c0b0c0" fill-opacity="0.35"/>
<circle cx="319.8" cy="387.4" r="0.55" fill="#c0b0c0" fill-opacity="0.35"/>
<circle cx="339.1" cy="386.2" r="0.55" fill="#c0b0c0" fill-opacity="0.35"/>
<circle cx="325.8" cy="416.0" r="0.55" fill="#c0b0c0" fill-opacity="0.35"/>
<circle cx="332.4" cy="410.0" r="0.55" fill="#c0b0c0" fill-opacity="0.35"/>
<circle cx="323.9" cy="387.5" r="0.55" fill="#c0b0c0" fill-opacity="0.35"/>
<circle cx="323.7" cy="398.1" r="0.55" fill="#c0b0c0" fill-opacity="0.35"/>
<circle cx="332.6" cy="410.4" r="0.55" fill="#c0b0c0" fill-opacity="0.35"/>
<circle cx="321.1" cy="384.4" r="0.55" fill="#c0b0c0" fill-opacity="0.35"/>
<circle cx="328.3" cy="404.5" r="0.55" fill="#c0b0c0" fill-opacity="0.35"/>
<circle cx="325.3" cy="404.2" r="0.55" fill="#c0b0c0" fill-opacity="0.35"/>
<circle cx="330.5" cy="413.4" r="0.55" fill="#c0b0c0" fill-opacity="0.35"/>
<circle cx="331.1" cy="406.3" r="0.55" fill="#c0b0c0" fill-opacity="0.35"/>
<circle cx="327.8" cy="391.4" r="0.55" fill="#c0b0c0" fill-opacity="0.35"/>
<circle cx="308.0" cy="428.2" r="0.55" fill="#c0b0c0" fill-opacity="0.35"/>
<circle cx="324.1" cy="401.7" r="0.55" fill="#c0b0c0" fill-opacity="0.35"/>
<circle cx="331.3" cy="397.6" r="0.55" fill="#c0b0c0" fill-opacity="0.35"/>
<circle cx="330.5" cy="391.9" r="0.55" fill="#c0b0c0" fill-opacity="0.35"/>
<circle cx="318.9" cy="410.9" r="0.55" fill="#c0b0c0" fill-opacity="0.35"/>
<circle cx="304.4" cy="397.2" r="0.55" fill="#c0b0c0" fill-opacity="0.35"/>
<circle cx="326.1" cy="397.5" r="0.55" fill="#c0b0c0" fill-opacity="0.35"/>
<circle cx="329.0" cy="392.9" r="0.55" fill="#c0b0c0" fill-opacity="0.35"/>
<circle cx="318.9" cy="406.4" r="0.55" fill="#c0b0c0" fill-opacity="0.35"/>
<circle cx="343.0" cy="399.0" r="0.55" fill="#c0b0c0" fill-opacity="0.35"/>
<circle cx="333.2" cy="395.9" r="0.55" fill="#c0b0c0" fill-opacity="0.35"/>
<circle cx="336.7" cy="415.9" r="0.55" fill="#c0b0c0" fill-opacity="0.35"/>
<circle cx="319.5" cy="395.3" r="0.55" fill="#c0b0c0" fill-opacity="0.35"/>
<circle cx="344.7" cy="393.1" r="0.55" fill="#c0b0c0" fill-opacity="0.35"/>
<circle cx="328.4" cy="409.4" r="0.55" fill="#c0b0c0" fill-opacity="0.35"/>
<circle cx="336.9" cy="407.9" r="0.55" fill="#c0b0c0" fill-opacity="0.35"/>
<circle cx="339.0" cy="400.3" r="0.55" fill="#c0b0c0" fill-opacity="0.35"/>
<circle cx="335.1" cy="410.2" r="0.55" fill="#c0b0c0" fill-opacity="0.35"/>
<circle cx="326.3" cy="422.2" r="0.55" fill="#c0b0c0" fill-opacity="0.35"/>
<circle cx="348.2" cy="396.9" r="0.55" fill="#c0b0c0" fill-opacity="0.35"/>
<circle cx="325.9" cy="392.2" r="0.55" fill="#c0b0c0" fill-opacity="0.35"/>
<circle cx="317.9" cy="406.6" r="0.55" fill="#c0b0c0" fill-opacity="0.35"/>
<circle cx="328.0" cy="405.6" r="0.55" fill="#c0b0c0" fill-opacity="0.35"/>
</g>
<text stroke="#222" stroke-width="0.22" x="347.0" y="364.4" font-size="7.5" text-anchor="middle" fill="#222" textLength="22.2" lengthAdjust="spacingAndGlyphs">96.0%</text>
<line x1="279" y1="405.5" x2="279.00" y2="363.60" stroke="#111" stroke-width="0.8"/>
<path d="M279.00 360.10 L280.50 363.60 L277.50 363.60 Z" fill="#111"/>
<text stroke="#222" stroke-width="0.132" transform="translate(281.6,416.3) rotate(-90)" font-size="8" font-weight="bold" text-anchor="middle" fill="#222" textLength="17.4" lengthAdjust="spacingAndGlyphs">Ki-67</text>
<text stroke="#222" stroke-width="0.132" x="300.7" y="437.5" font-size="8.2" text-anchor="middle" fill="#222" font-weight="bold" textLength="21.6" lengthAdjust="spacingAndGlyphs">Perforin</text>
<line x1="314.3" y1="434.6" x2="352.50" y2="434.60" stroke="#111" stroke-width="0.8"/>
<path d="M356.00 434.60 L352.50 436.10 L352.50 433.10 Z" fill="#111"/>
<text stroke="#000" stroke-width="0.132" x="383.0" y="200.5" font-size="10.4" font-weight="bold" fill="#000">F</text>
<text stroke="#222" stroke-width="0.22" x="448.2" y="224.9" font-size="8.7" text-anchor="middle" fill="#222" textLength="124.5" lengthAdjust="spacingAndGlyphs">Tumor-Specific T Cell Response</text>
<text stroke="#222" stroke-width="0.22" x="447.8" y="235.0" font-size="8.7" text-anchor="middle" fill="#222" textLength="129.6" lengthAdjust="spacingAndGlyphs">Correlates with Distant Response</text>
<rect x="429.30" y="274.3" width="9.01" height="28.10" fill="#f07c10"/>
<rect x="438.01" y="274.3" width="9.01" height="28.10" fill="#fef0c4"/>
<rect x="446.72" y="274.3" width="9.01" height="28.10" fill="#fcd48c"/>
<rect x="455.43" y="274.3" width="9.01" height="28.10" fill="#fde6b0"/>
<rect x="464.14" y="274.3" width="9.01" height="28.10" fill="#c81a1c"/>
<rect x="472.86" y="274.3" width="9.01" height="28.10" fill="#e65412"/>
<rect x="481.57" y="274.3" width="9.01" height="28.10" fill="#e86012"/>
<rect x="490.28" y="274.3" width="9.01" height="28.10" fill="#b0161e"/>
<rect x="498.99" y="274.3" width="9.01" height="28.10" fill="#c81a1c"/>
<rect x="429.30" y="302.1" width="9.01" height="27.50" fill="#fef6d6"/>
<rect x="438.01" y="302.1" width="9.01" height="27.50" fill="#f5a008"/>
<rect x="446.72" y="302.1" width="9.01" height="27.50" fill="#f5a614"/>
<rect x="455.43" y="302.1" width="9.01" height="27.50" fill="#f7b424"/>
<rect x="464.14" y="302.1" width="9.01" height="27.50" fill="#c81a1c"/>
<rect x="472.86" y="302.1" width="9.01" height="27.50" fill="#e65412"/>
<rect x="481.57" y="302.1" width="9.01" height="27.50" fill="#f5b020"/>
<rect x="490.28" y="302.1" width="9.01" height="27.50" fill="#c2161c"/>
<rect x="498.99" y="302.1" width="9.01" height="27.50" fill="#b0161e"/>
<rect x="429.30" y="329.3" width="9.01" height="28.20" fill="#fef6d6"/>
<rect x="438.01" y="329.3" width="9.01" height="28.20" fill="#f5a008"/>
<rect x="446.72" y="329.3" width="9.01" height="28.20" fill="#fde2a0"/>
<rect x="455.43" y="329.3" width="9.01" height="28.20" fill="#f7b424"/>
<rect x="464.14" y="329.3" width="9.01" height="28.20" fill="#a0121e"/>
<rect x="472.86" y="329.3" width="9.01" height="28.20" fill="#8e1020"/>
<rect x="481.57" y="329.3" width="9.01" height="28.20" fill="#e86810"/>
<rect x="490.28" y="329.3" width="9.01" height="28.20" fill="#f09010"/>
<rect x="498.99" y="329.3" width="9.01" height="28.20" fill="#f5a010"/>
<rect x="429.3" y="274.3" width="78.39999999999998" height="82.89999999999998" fill="none" stroke="#222" stroke-width="0.9"/>
<line x1="433.7" y1="257.3" x2="433.7" y2="274.3" stroke="#1a1a1a" stroke-width="1.0" stroke-linecap="square"/>
<line x1="433.7" y1="257.3" x2="448.7" y2="257.3" stroke="#1a1a1a" stroke-width="1.0" stroke-linecap="square"/>
<line x1="441.2" y1="245.7" x2="441.2" y2="257.3" stroke="#1a1a1a" stroke-width="1.0" stroke-linecap="square"/>
<line x1="441.2" y1="245.7" x2="482.7" y2="245.7" stroke="#1a1a1a" stroke-width="1.0" stroke-linecap="square"/>
<line x1="448.7" y1="257.3" x2="448.7" y2="267.1" stroke="#1a1a1a" stroke-width="1.0" stroke-linecap="square"/>
<line x1="442.4" y1="267.1" x2="455.2" y2="267.1" stroke="#1a1a1a" stroke-width="1.0" stroke-linecap="square"/>
<line x1="442.4" y1="267.1" x2="442.4" y2="274.3" stroke="#1a1a1a" stroke-width="1.0" stroke-linecap="square"/>
<line x1="455.2" y1="267.1" x2="455.2" y2="271.1" stroke="#1a1a1a" stroke-width="1.0" stroke-linecap="square"/>
<line x1="451.1" y1="271.1" x2="459.8" y2="271.1" stroke="#1a1a1a" stroke-width="1.0" stroke-linecap="square"/>
<line x1="451.1" y1="271.1" x2="451.1" y2="274.3" stroke="#1a1a1a" stroke-width="1.0" stroke-linecap="square"/>
<line x1="459.8" y1="271.1" x2="459.8" y2="274.3" stroke="#1a1a1a" stroke-width="1.0" stroke-linecap="square"/>
<line x1="482.7" y1="245.7" x2="482.7" y2="256.4" stroke="#1a1a1a" stroke-width="1.0" stroke-linecap="square"/>
<line x1="472.7" y1="256.4" x2="492.2" y2="256.4" stroke="#1a1a1a" stroke-width="1.0" stroke-linecap="square"/>
<line x1="472.7" y1="256.4" x2="472.7" y2="266.8" stroke="#1a1a1a" stroke-width="1.0" stroke-linecap="square"/>
<line x1="468.5" y1="266.8" x2="477.2" y2="266.8" stroke="#1a1a1a" stroke-width="1.0" stroke-linecap="square"/>
<line x1="468.5" y1="266.8" x2="468.5" y2="274.3" stroke="#1a1a1a" stroke-width="1.0" stroke-linecap="square"/>
<line x1="477.2" y1="266.8" x2="477.2" y2="274.3" stroke="#1a1a1a" stroke-width="1.0" stroke-linecap="square"/>
<line x1="492.2" y1="256.4" x2="492.2" y2="262.5" stroke="#1a1a1a" stroke-width="1.0" stroke-linecap="square"/>
<line x1="485.9" y1="262.5" x2="499.1" y2="262.5" stroke="#1a1a1a" stroke-width="1.0" stroke-linecap="square"/>
<line x1="485.9" y1="262.5" x2="485.9" y2="274.3" stroke="#1a1a1a" stroke-width="1.0" stroke-linecap="square"/>
<line x1="499.1" y1="262.5" x2="499.1" y2="271.4" stroke="#1a1a1a" stroke-width="1.0" stroke-linecap="square"/>
<line x1="494.6" y1="271.4" x2="503.3" y2="271.4" stroke="#1a1a1a" stroke-width="1.0" stroke-linecap="square"/>
<line x1="494.6" y1="271.4" x2="494.6" y2="274.3" stroke="#1a1a1a" stroke-width="1.0" stroke-linecap="square"/>
<line x1="503.3" y1="271.4" x2="503.3" y2="274.3" stroke="#1a1a1a" stroke-width="1.0" stroke-linecap="square"/>
<text stroke="#222" stroke-width="0.22" x="426.6" y="285.9" font-size="7.3" text-anchor="end" fill="#222" textLength="44.7" lengthAdjust="spacingAndGlyphs">Distant Tumor</text>
<text stroke="#222" stroke-width="0.22" x="426.6" y="296.1" font-size="7.3" text-anchor="end" fill="#222" textLength="33.3" lengthAdjust="spacingAndGlyphs">Reduction</text>
<text stroke="#222" stroke-width="0.22" x="426.6" y="319.0" font-size="7.6" text-anchor="end" fill="#222">CD4<tspan font-size="5.2" dy="1.8">M</tspan></text>
<text stroke="#222" stroke-width="0.22" x="426.6" y="345.6" font-size="7.6" text-anchor="end" fill="#222">CD8<tspan font-size="5.2" dy="1.8">M</tspan></text>
<defs><linearGradient id="cb" x1="0" x2="1" y1="0" y2="0"><stop offset="0" stop-color="#fffef8"/><stop offset="0.3" stop-color="#fde9a8"/><stop offset="0.5" stop-color="#f7b020"/><stop offset="0.7" stop-color="#ec6010"/><stop offset="0.85" stop-color="#d01c1c"/><stop offset="1" stop-color="#8a0e1e"/></linearGradient></defs>
<rect x="475" y="360.1" width="32.9" height="6" fill="url(#cb)"/>
<text stroke="#333" stroke-width="0.22" x="476.2" y="373.6" font-size="7.6" text-anchor="middle" fill="#333" textLength="10.3" lengthAdjust="spacingAndGlyphs">min</text>
<text stroke="#333" stroke-width="0.22" x="507.9" y="373.2" font-size="7.6" text-anchor="middle" fill="#333" textLength="11.5" lengthAdjust="spacingAndGlyphs">max</text>
</svg>
</body></html>
